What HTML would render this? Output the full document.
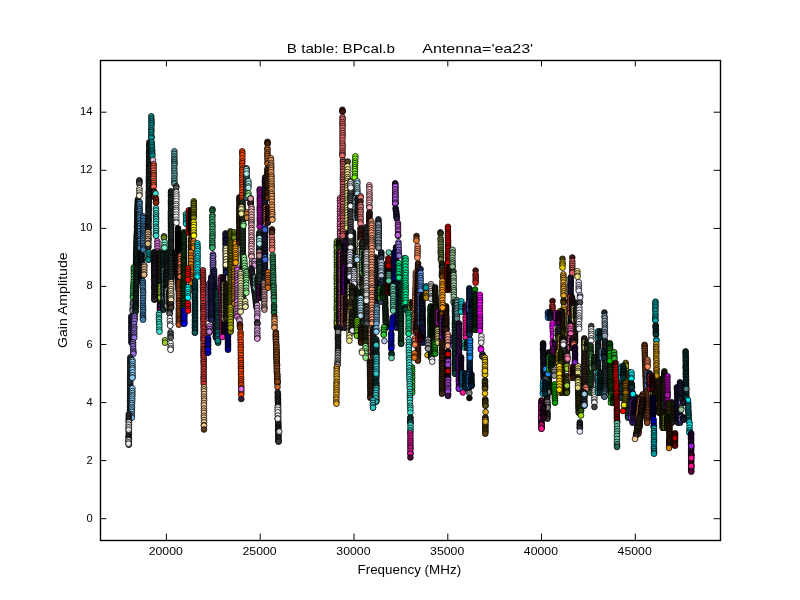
<!DOCTYPE html>
<html><head><meta charset="utf-8"><title>B table: BPcal.b</title>
<style>
html,body{margin:0;padding:0;background:#fff;}
body{width:800px;height:600px;overflow:hidden;font-family:"Liberation Sans",sans-serif;}
svg{display:block}
.t{font-family:"Liberation Sans",sans-serif;font-size:11.2px;fill:#000}
.l{font-family:"Liberation Sans",sans-serif;font-size:12.8px;fill:#000}
.tk{stroke:#000;stroke-width:1;fill:none}
.pts circle{stroke:#000;stroke-width:0.75}
</style></head><body>
<svg width="800" height="600" viewBox="0 0 800 600">
<rect x="0" y="0" width="800" height="600" fill="#fff"/>
<g class="pts">
<g fill="#182d24"><circle cx="138" cy="199.3" r="2.85"/><circle cx="137.8" cy="200.7" r="2.85"/><circle cx="137.8" cy="202" r="2.85"/><circle cx="137.7" cy="203.7" r="2.85"/><circle cx="137.7" cy="204.9" r="2.85"/><circle cx="137.6" cy="206.6" r="2.85"/><circle cx="137.7" cy="208" r="2.85"/><circle cx="137.5" cy="209.2" r="2.85"/><circle cx="137.5" cy="210.8" r="2.85"/><circle cx="137.5" cy="212" r="2.85"/><circle cx="137.6" cy="213.5" r="2.85"/><circle cx="137.4" cy="214.7" r="2.85"/><circle cx="137.4" cy="215.9" r="2.85"/><circle cx="137.4" cy="217.4" r="2.85"/><circle cx="137.4" cy="219.3" r="2.85"/><circle cx="137.4" cy="220.6" r="2.85"/><circle cx="137.3" cy="221.9" r="2.85"/><circle cx="137.1" cy="223.6" r="2.85"/><circle cx="137.1" cy="225.7" r="2.85"/><circle cx="137" cy="227.3" r="2.85"/><circle cx="137.1" cy="228.8" r="2.85"/><circle cx="137.1" cy="230.9" r="2.85"/><circle cx="136.9" cy="232.1" r="2.85"/><circle cx="136.8" cy="234" r="2.85"/><circle cx="136.8" cy="235.4" r="2.85"/><circle cx="136.7" cy="236.7" r="2.85"/><circle cx="136.8" cy="237.9" r="2.85"/><circle cx="136.7" cy="239.3" r="2.85"/><circle cx="136.6" cy="241.2" r="2.85"/><circle cx="136.5" cy="242.5" r="2.85"/><circle cx="136.5" cy="244.2" r="2.85"/><circle cx="136.5" cy="245.9" r="2.85"/><circle cx="136.5" cy="247.4" r="2.85"/><circle cx="136.5" cy="249.1" r="2.85"/><circle cx="136.4" cy="250.2" r="2.85"/><circle cx="136.3" cy="251.4" r="2.85"/><circle cx="136.3" cy="252.7" r="2.85"/><circle cx="136.3" cy="254.5" r="2.85"/><circle cx="136.1" cy="256" r="2.85"/><circle cx="136.3" cy="257.5" r="2.85"/><circle cx="136.2" cy="259.1" r="2.85"/><circle cx="136.2" cy="260.7" r="2.85"/><circle cx="136.1" cy="262.1" r="2.85"/><circle cx="135.9" cy="264" r="2.85"/><circle cx="135.9" cy="265.8" r="2.85"/><circle cx="135.8" cy="267.1" r="2.85"/><circle cx="135.8" cy="268.8" r="2.85"/><circle cx="135.7" cy="270.4" r="2.85"/><circle cx="135.6" cy="272.4" r="2.85"/><circle cx="135.6" cy="274.2" r="2.85"/><circle cx="135.5" cy="275.6" r="2.85"/><circle cx="135.5" cy="277.7" r="2.85"/><circle cx="135.4" cy="278.9" r="2.85"/><circle cx="135.3" cy="280.4" r="2.85"/><circle cx="135.3" cy="282.3" r="2.85"/><circle cx="135.3" cy="283.5" r="2.85"/><circle cx="135.3" cy="285.1" r="2.85"/><circle cx="135.2" cy="286.3" r="2.85"/><circle cx="135.3" cy="288" r="2.85"/><circle cx="135.2" cy="289.9" r="2.85"/><circle cx="135" cy="291.6" r="2.85"/><circle cx="135" cy="293.5" r="2.85"/><circle cx="135" cy="294.9" r="2.85"/><circle cx="134.9" cy="296.7" r="2.85"/><circle cx="134.8" cy="298.4" r="2.85"/><circle cx="134.9" cy="300.1" r="2.85"/><circle cx="134.9" cy="301.7" r="2.85"/><circle cx="134.8" cy="303.6" r="2.85"/><circle cx="134.7" cy="305.6" r="2.85"/><circle cx="134.6" cy="307.2" r="2.85"/><circle cx="134.5" cy="308.9" r="2.85"/><circle cx="134.5" cy="310.1" r="2.85"/><circle cx="134.5" cy="311.9" r="2.85"/><circle cx="134.5" cy="313.7" r="2.85"/><circle cx="134.3" cy="315.7" r="2.85"/><circle cx="134.2" cy="317.6" r="2.85"/><circle cx="134.4" cy="319" r="2.85"/><circle cx="134.3" cy="319.7" r="2.85"/></g>
<g fill="#2fbf4f"><circle cx="133.9" cy="267.3" r="2.85"/><circle cx="133.8" cy="269.2" r="2.85"/><circle cx="133.9" cy="271.7" r="2.85"/><circle cx="133.9" cy="273.4" r="2.85"/><circle cx="133.8" cy="275.8" r="2.85"/><circle cx="133.7" cy="278.9" r="2.85"/><circle cx="133.6" cy="281.8" r="2.85"/><circle cx="133.5" cy="284.5" r="2.85"/><circle cx="133.3" cy="286.6" r="2.85"/><circle cx="133.3" cy="288.8" r="2.85"/><circle cx="133.2" cy="290.7" r="2.85"/><circle cx="133.1" cy="293.5" r="2.85"/><circle cx="133" cy="295.9" r="2.85"/><circle cx="133" cy="297.7" r="2.85"/></g>
<g fill="#8494a4"><circle cx="132.9" cy="302.3" r="2.85"/><circle cx="132.9" cy="304.2" r="2.85"/><circle cx="132.8" cy="306.6" r="2.85"/><circle cx="132.6" cy="309.4" r="2.85"/><circle cx="132.6" cy="310.7" r="2.85"/></g>
<g fill="#182d24"><circle cx="136.7" cy="264.3" r="2.85"/><circle cx="136.8" cy="265.6" r="2.85"/><circle cx="136.8" cy="266.9" r="2.85"/><circle cx="136.7" cy="268.3" r="2.85"/><circle cx="136.5" cy="270" r="2.85"/><circle cx="136.5" cy="272" r="2.85"/><circle cx="136.4" cy="273.9" r="2.85"/><circle cx="136.3" cy="275.5" r="2.85"/><circle cx="136.5" cy="277.2" r="2.85"/><circle cx="136.4" cy="279.1" r="2.85"/><circle cx="136.3" cy="280.3" r="2.85"/><circle cx="136.4" cy="282.1" r="2.85"/><circle cx="136.2" cy="284.1" r="2.85"/><circle cx="136.2" cy="285.9" r="2.85"/><circle cx="136.2" cy="287.8" r="2.85"/><circle cx="136" cy="289.3" r="2.85"/><circle cx="136" cy="290.6" r="2.85"/><circle cx="135.9" cy="292.5" r="2.85"/><circle cx="135.9" cy="294" r="2.85"/><circle cx="135.9" cy="295.8" r="2.85"/><circle cx="135.8" cy="297.9" r="2.85"/><circle cx="135.8" cy="299.4" r="2.85"/><circle cx="135.7" cy="300.9" r="2.85"/><circle cx="135.8" cy="302.9" r="2.85"/><circle cx="135.6" cy="304.7" r="2.85"/><circle cx="135.6" cy="306" r="2.85"/><circle cx="135.6" cy="307.3" r="2.85"/><circle cx="135.6" cy="308.5" r="2.85"/><circle cx="135.5" cy="310.5" r="2.85"/><circle cx="135.6" cy="311.7" r="2.85"/></g>
<g fill="#242451"><circle cx="131.4" cy="316.3" r="2.85"/><circle cx="131.4" cy="317.9" r="2.85"/><circle cx="131.6" cy="319.5" r="2.85"/><circle cx="131.5" cy="321.2" r="2.85"/><circle cx="131.5" cy="322.3" r="2.85"/><circle cx="131.6" cy="323.8" r="2.85"/><circle cx="131.6" cy="325.1" r="2.85"/><circle cx="131.5" cy="326.3" r="2.85"/><circle cx="131.5" cy="328.1" r="2.85"/><circle cx="131.5" cy="329.4" r="2.85"/><circle cx="131.5" cy="331" r="2.85"/><circle cx="131.5" cy="332.8" r="2.85"/><circle cx="131.5" cy="334.5" r="2.85"/><circle cx="131.5" cy="335.9" r="2.85"/><circle cx="131.5" cy="337.5" r="2.85"/><circle cx="131.6" cy="339.2" r="2.85"/><circle cx="131.5" cy="341" r="2.85"/><circle cx="131.6" cy="342.3" r="2.85"/><circle cx="131.6" cy="342.7" r="2.85"/></g>
<g fill="#9370db"><circle cx="134.5" cy="316.3" r="2.85"/><circle cx="134.5" cy="318.4" r="2.85"/><circle cx="134.5" cy="320.8" r="2.85"/><circle cx="134.2" cy="323.9" r="2.85"/><circle cx="134.3" cy="326.8" r="2.85"/><circle cx="134.3" cy="328.6" r="2.85"/><circle cx="134.1" cy="330.5" r="2.85"/><circle cx="134.2" cy="332.8" r="2.85"/><circle cx="134.2" cy="334.6" r="2.85"/><circle cx="134" cy="336.6" r="2.85"/><circle cx="134.2" cy="337.7" r="2.85"/></g>
<g fill="#9370db"><circle cx="133.1" cy="342.3" r="2.85"/><circle cx="133.1" cy="344.2" r="2.85"/><circle cx="133.1" cy="346.2" r="2.85"/><circle cx="133.2" cy="348.8" r="2.85"/><circle cx="133.4" cy="351.1" r="2.85"/><circle cx="133.3" cy="352.7" r="2.85"/><circle cx="133.4" cy="353.7" r="2.85"/></g>
<g fill="#304b57"><circle cx="130.4" cy="357.3" r="2.85"/><circle cx="130.4" cy="358.8" r="2.85"/><circle cx="130.5" cy="360" r="2.85"/><circle cx="130.4" cy="361.4" r="2.85"/><circle cx="130.3" cy="363.1" r="2.85"/><circle cx="130.3" cy="364.7" r="2.85"/><circle cx="130.3" cy="365.9" r="2.85"/><circle cx="130.3" cy="368" r="2.85"/><circle cx="130.3" cy="369.9" r="2.85"/><circle cx="130.3" cy="371.9" r="2.85"/><circle cx="130.4" cy="373.1" r="2.85"/><circle cx="130.3" cy="374.5" r="2.85"/><circle cx="130.3" cy="375.7" r="2.85"/><circle cx="130.2" cy="377.5" r="2.85"/><circle cx="130.3" cy="378.9" r="2.85"/><circle cx="130.2" cy="380.2" r="2.85"/><circle cx="130.2" cy="381.7" r="2.85"/><circle cx="130.2" cy="383.7" r="2.85"/><circle cx="130.3" cy="385.6" r="2.85"/><circle cx="130.3" cy="387" r="2.85"/><circle cx="130.2" cy="388.2" r="2.85"/><circle cx="130.2" cy="390.2" r="2.85"/><circle cx="130.3" cy="391.9" r="2.85"/><circle cx="130.1" cy="393.7" r="2.85"/><circle cx="130.3" cy="394.9" r="2.85"/><circle cx="130.2" cy="396.1" r="2.85"/><circle cx="130.2" cy="397.9" r="2.85"/><circle cx="130.2" cy="399.4" r="2.85"/><circle cx="130.1" cy="400.6" r="2.85"/><circle cx="130.1" cy="402.6" r="2.85"/><circle cx="130.2" cy="404.3" r="2.85"/><circle cx="130.2" cy="406.2" r="2.85"/><circle cx="130.1" cy="407.4" r="2.85"/><circle cx="130.2" cy="409.4" r="2.85"/><circle cx="130.1" cy="410.5" r="2.85"/><circle cx="130.1" cy="412.5" r="2.85"/><circle cx="130" cy="414" r="2.85"/><circle cx="130" cy="415.5" r="2.85"/><circle cx="129.9" cy="417.1" r="2.85"/><circle cx="129.9" cy="417.7" r="2.85"/></g>
<g fill="#87cefa"><circle cx="132.4" cy="360.3" r="2.85"/><circle cx="132.5" cy="361.9" r="2.85"/><circle cx="132.5" cy="364.5" r="2.85"/><circle cx="132.4" cy="366.3" r="2.85"/><circle cx="132.5" cy="368.1" r="2.85"/><circle cx="132.4" cy="369.7" r="2.85"/><circle cx="132.6" cy="372.4" r="2.85"/><circle cx="132.6" cy="375.1" r="2.85"/><circle cx="132.5" cy="377.5" r="2.85"/><circle cx="132.4" cy="377.7" r="2.85"/></g>
<g fill="#87cefa"><circle cx="132.4" cy="388.3" r="2.85"/><circle cx="132.4" cy="391.1" r="2.85"/><circle cx="132.3" cy="393.1" r="2.85"/><circle cx="132.3" cy="395.1" r="2.85"/><circle cx="132.2" cy="396.6" r="2.85"/><circle cx="132.2" cy="398.7" r="2.85"/><circle cx="132.2" cy="400.8" r="2.85"/><circle cx="132" cy="403" r="2.85"/><circle cx="131.9" cy="404.8" r="2.85"/><circle cx="132" cy="407" r="2.85"/><circle cx="131.8" cy="408.6" r="2.85"/><circle cx="131.8" cy="410.5" r="2.85"/><circle cx="131.8" cy="412.1" r="2.85"/><circle cx="131.6" cy="414.2" r="2.85"/><circle cx="131.7" cy="415.8" r="2.85"/><circle cx="131.7" cy="417.4" r="2.85"/><circle cx="131.6" cy="417.7" r="2.85"/></g>
<g fill="#454545"><circle cx="128.8" cy="414.3" r="2.85"/><circle cx="128.8" cy="416.1" r="2.85"/><circle cx="128.8" cy="418" r="2.85"/><circle cx="128.8" cy="419.3" r="2.85"/><circle cx="128.7" cy="420.9" r="2.85"/><circle cx="128.9" cy="422.5" r="2.85"/><circle cx="128.9" cy="424.4" r="2.85"/><circle cx="128.8" cy="426.3" r="2.85"/><circle cx="128.8" cy="428.2" r="2.85"/><circle cx="128.8" cy="429.9" r="2.85"/><circle cx="128.7" cy="431.9" r="2.85"/><circle cx="128.9" cy="433.7" r="2.85"/><circle cx="128.7" cy="435.5" r="2.85"/><circle cx="128.7" cy="436.8" r="2.85"/><circle cx="128.7" cy="437.9" r="2.85"/><circle cx="128.9" cy="439.2" r="2.85"/><circle cx="128.7" cy="440.7" r="2.85"/><circle cx="128.9" cy="441.9" r="2.85"/><circle cx="128.9" cy="443.8" r="2.85"/><circle cx="128.8" cy="444.7" r="2.85"/></g>
<g fill="#d8d8d8"><circle cx="128.9" cy="422.3" r="2.85"/><circle cx="128.8" cy="424.7" r="2.85"/><circle cx="128.8" cy="427.3" r="2.85"/><circle cx="128.7" cy="429.7" r="2.85"/></g>
<g fill="#e8e8e8"><circle cx="128.6" cy="440.3" r="2.85"/><circle cx="128.5" cy="442.2" r="2.85"/><circle cx="128.5" cy="443.7" r="2.85"/></g>
<g fill="#555555"><circle cx="139.4" cy="180.3" r="2.85"/><circle cx="139.4" cy="181.4" r="2.85"/><circle cx="139.4" cy="182.6" r="2.85"/><circle cx="139.3" cy="183.7" r="2.85"/></g>
<g fill="#fff8dc"><circle cx="139.5" cy="188.3" r="2.85"/><circle cx="139.3" cy="190.5" r="2.85"/><circle cx="139.5" cy="192.7" r="2.85"/><circle cx="139.5" cy="194.8" r="2.85"/><circle cx="139.3" cy="195.7" r="2.85"/></g>
<g fill="#101c28"><circle cx="141.5" cy="248.3" r="2.85"/><circle cx="141.5" cy="249.8" r="2.85"/><circle cx="141.4" cy="251.6" r="2.85"/><circle cx="141.5" cy="253.5" r="2.85"/><circle cx="141.5" cy="254.9" r="2.85"/><circle cx="141.6" cy="256.2" r="2.85"/><circle cx="141.4" cy="257.5" r="2.85"/><circle cx="141.6" cy="259.4" r="2.85"/><circle cx="141.6" cy="260.6" r="2.85"/><circle cx="141.4" cy="262.2" r="2.85"/><circle cx="141.6" cy="263.3" r="2.85"/><circle cx="141.6" cy="264.9" r="2.85"/><circle cx="141.6" cy="266.8" r="2.85"/><circle cx="141.4" cy="267.9" r="2.85"/><circle cx="141.5" cy="269.7" r="2.85"/><circle cx="141.5" cy="271.2" r="2.85"/><circle cx="141.6" cy="273.1" r="2.85"/><circle cx="141.5" cy="274.8" r="2.85"/><circle cx="141.5" cy="276" r="2.85"/><circle cx="141.5" cy="277.9" r="2.85"/><circle cx="141.4" cy="279.4" r="2.85"/><circle cx="141.4" cy="280.5" r="2.85"/><circle cx="141.4" cy="281.5" r="2.85"/><circle cx="141.6" cy="281.7" r="2.85"/></g>
<g fill="#4682b4"><circle cx="139.7" cy="202.3" r="2.85"/><circle cx="139.6" cy="204.3" r="2.85"/><circle cx="139.6" cy="207.2" r="2.85"/><circle cx="139.8" cy="209.2" r="2.85"/><circle cx="139.6" cy="211.1" r="2.85"/><circle cx="139.8" cy="213.5" r="2.85"/><circle cx="139.7" cy="215.3" r="2.85"/><circle cx="139.8" cy="217.4" r="2.85"/><circle cx="139.9" cy="220.4" r="2.85"/><circle cx="140" cy="223.2" r="2.85"/><circle cx="139.9" cy="225.9" r="2.85"/><circle cx="140" cy="228.4" r="2.85"/><circle cx="139.9" cy="231.3" r="2.85"/><circle cx="140" cy="234.2" r="2.85"/><circle cx="140" cy="236.6" r="2.85"/><circle cx="140" cy="239.2" r="2.85"/><circle cx="140" cy="240.8" r="2.85"/><circle cx="140.1" cy="243.5" r="2.85"/><circle cx="140.2" cy="245.7" r="2.85"/><circle cx="140.2" cy="247.7" r="2.85"/></g>
<g fill="#3f78aa"><circle cx="143.2" cy="216.3" r="2.85"/><circle cx="143.2" cy="218.1" r="2.85"/><circle cx="143.2" cy="220.9" r="2.85"/><circle cx="143.1" cy="223.7" r="2.85"/><circle cx="143.1" cy="225.9" r="2.85"/><circle cx="143.3" cy="227.6" r="2.85"/><circle cx="143.1" cy="229.4" r="2.85"/><circle cx="143.2" cy="231" r="2.85"/><circle cx="143.2" cy="233" r="2.85"/><circle cx="143.3" cy="234.7" r="2.85"/><circle cx="143.1" cy="236.5" r="2.85"/><circle cx="143.1" cy="238.4" r="2.85"/><circle cx="143.1" cy="240.7" r="2.85"/><circle cx="143.2" cy="243.4" r="2.85"/><circle cx="143.2" cy="246" r="2.85"/><circle cx="143.3" cy="248" r="2.85"/><circle cx="143.3" cy="249.7" r="2.85"/></g>
<g fill="#242d2d"><circle cx="149.4" cy="142.3" r="2.85"/><circle cx="149.4" cy="144.3" r="2.85"/><circle cx="149.3" cy="145.4" r="2.85"/><circle cx="149.4" cy="146.5" r="2.85"/><circle cx="149.3" cy="148.4" r="2.85"/><circle cx="149.4" cy="150.3" r="2.85"/><circle cx="149.2" cy="151.9" r="2.85"/><circle cx="149.2" cy="153.6" r="2.85"/><circle cx="149.3" cy="154.7" r="2.85"/><circle cx="149.2" cy="156.2" r="2.85"/><circle cx="149.3" cy="158.2" r="2.85"/><circle cx="149.2" cy="160.1" r="2.85"/><circle cx="149.1" cy="162.1" r="2.85"/><circle cx="149.1" cy="164.1" r="2.85"/><circle cx="149.1" cy="165.5" r="2.85"/><circle cx="149.1" cy="166.7" r="2.85"/><circle cx="149.2" cy="168" r="2.85"/><circle cx="149" cy="169.6" r="2.85"/><circle cx="149" cy="171.4" r="2.85"/><circle cx="149" cy="173.4" r="2.85"/><circle cx="149.1" cy="175.2" r="2.85"/><circle cx="148.9" cy="176.9" r="2.85"/><circle cx="148.9" cy="178.8" r="2.85"/><circle cx="148.9" cy="180.4" r="2.85"/><circle cx="148.9" cy="182" r="2.85"/><circle cx="149" cy="183.2" r="2.85"/><circle cx="149" cy="185" r="2.85"/><circle cx="148.9" cy="186.4" r="2.85"/><circle cx="149" cy="188.4" r="2.85"/><circle cx="149" cy="190.1" r="2.85"/><circle cx="148.8" cy="191.5" r="2.85"/><circle cx="148.7" cy="192.8" r="2.85"/><circle cx="148.9" cy="194.1" r="2.85"/><circle cx="148.8" cy="195.9" r="2.85"/><circle cx="148.7" cy="197.7" r="2.85"/><circle cx="148.8" cy="198.9" r="2.85"/><circle cx="148.7" cy="200.1" r="2.85"/><circle cx="148.7" cy="201.7" r="2.85"/><circle cx="148.7" cy="203.4" r="2.85"/><circle cx="148.6" cy="204.9" r="2.85"/><circle cx="148.6" cy="206.2" r="2.85"/><circle cx="148.6" cy="207.9" r="2.85"/><circle cx="148.6" cy="209" r="2.85"/><circle cx="148.7" cy="210.4" r="2.85"/><circle cx="148.5" cy="212" r="2.85"/><circle cx="148.7" cy="214" r="2.85"/><circle cx="148.5" cy="215.8" r="2.85"/><circle cx="148.5" cy="217.8" r="2.85"/><circle cx="148.6" cy="219.3" r="2.85"/><circle cx="148.6" cy="220.7" r="2.85"/><circle cx="148.5" cy="222" r="2.85"/><circle cx="148.4" cy="224.1" r="2.85"/><circle cx="148.5" cy="225.9" r="2.85"/><circle cx="148.4" cy="227.3" r="2.85"/><circle cx="148.5" cy="228.4" r="2.85"/><circle cx="148.3" cy="230" r="2.85"/><circle cx="148.4" cy="231.8" r="2.85"/><circle cx="148.5" cy="233.3" r="2.85"/><circle cx="148.3" cy="234.7" r="2.85"/><circle cx="148.3" cy="236.4" r="2.85"/><circle cx="148.4" cy="238.5" r="2.85"/><circle cx="148.4" cy="239.8" r="2.85"/><circle cx="148.2" cy="240.9" r="2.85"/><circle cx="148.2" cy="242.4" r="2.85"/><circle cx="148.2" cy="243.9" r="2.85"/><circle cx="148.3" cy="245.7" r="2.85"/><circle cx="148.2" cy="247" r="2.85"/><circle cx="148.3" cy="247.7" r="2.85"/></g>
<g fill="#008b8b"><circle cx="148.5" cy="252.3" r="2.85"/><circle cx="148.4" cy="255.3" r="2.85"/><circle cx="148.6" cy="257.4" r="2.85"/><circle cx="148.5" cy="259.5" r="2.85"/><circle cx="148.4" cy="259.7" r="2.85"/></g>
<g fill="#deb887"><circle cx="144.3" cy="265.3" r="2.85"/><circle cx="144.3" cy="266.8" r="2.85"/><circle cx="144.3" cy="269.4" r="2.85"/><circle cx="144.3" cy="272.1" r="2.85"/><circle cx="144.2" cy="274.5" r="2.85"/><circle cx="144.1" cy="274.7" r="2.85"/></g>
<g fill="#4682b4"><circle cx="142.9" cy="281.3" r="2.85"/><circle cx="142.9" cy="283.3" r="2.85"/><circle cx="142.9" cy="285.5" r="2.85"/><circle cx="143" cy="287.8" r="2.85"/><circle cx="143" cy="290.6" r="2.85"/><circle cx="143.1" cy="292.5" r="2.85"/><circle cx="143.1" cy="295.2" r="2.85"/><circle cx="143.1" cy="297.9" r="2.85"/><circle cx="142.9" cy="300.6" r="2.85"/><circle cx="142.9" cy="303.3" r="2.85"/><circle cx="142.9" cy="305.7" r="2.85"/><circle cx="143" cy="307.8" r="2.85"/><circle cx="143.1" cy="309.8" r="2.85"/><circle cx="143" cy="311.9" r="2.85"/><circle cx="142.9" cy="314.6" r="2.85"/><circle cx="143" cy="316.4" r="2.85"/><circle cx="143" cy="318.2" r="2.85"/><circle cx="143" cy="319.7" r="2.85"/></g>
<g fill="#deb887"><circle cx="148" cy="232.3" r="2.85"/><circle cx="148" cy="234.6" r="2.85"/><circle cx="148.1" cy="237" r="2.85"/><circle cx="147.9" cy="239.2" r="2.85"/><circle cx="147.9" cy="240.8" r="2.85"/><circle cx="147.9" cy="243.2" r="2.85"/><circle cx="147.9" cy="243.7" r="2.85"/></g>
<g fill="#008b8b"><circle cx="151.3" cy="116.3" r="2.85"/><circle cx="151.4" cy="119" r="2.85"/><circle cx="151.5" cy="121.3" r="2.85"/><circle cx="151.5" cy="123.3" r="2.85"/><circle cx="151.5" cy="125.3" r="2.85"/><circle cx="151.3" cy="128.2" r="2.85"/><circle cx="151.4" cy="130.4" r="2.85"/><circle cx="151.3" cy="132.2" r="2.85"/><circle cx="151.3" cy="134.9" r="2.85"/><circle cx="151.5" cy="137.3" r="2.85"/><circle cx="151.4" cy="137.7" r="2.85"/></g>
<g fill="#008b8b"><circle cx="151.8" cy="142.3" r="2.85"/><circle cx="151.8" cy="145.1" r="2.85"/><circle cx="152" cy="147.1" r="2.85"/><circle cx="152.2" cy="149.8" r="2.85"/><circle cx="152.2" cy="151.9" r="2.85"/><circle cx="152.3" cy="153.8" r="2.85"/><circle cx="152.4" cy="155.7" r="2.85"/></g>
<g fill="#d8bfd8"><circle cx="153" cy="160" r="2.85"/></g>
<g fill="#ff6347"><circle cx="153.7" cy="164.3" r="2.85"/><circle cx="153.6" cy="166.2" r="2.85"/><circle cx="153.5" cy="168.2" r="2.85"/><circle cx="153.6" cy="170.6" r="2.85"/><circle cx="153.7" cy="173.1" r="2.85"/><circle cx="153.7" cy="175" r="2.85"/><circle cx="153.7" cy="176.6" r="2.85"/><circle cx="153.6" cy="178.7" r="2.85"/><circle cx="153.7" cy="181.2" r="2.85"/><circle cx="153.8" cy="183.1" r="2.85"/><circle cx="153.7" cy="185.1" r="2.85"/><circle cx="153.7" cy="186.7" r="2.85"/></g>
<g fill="#5a1a10"><circle cx="154" cy="191.3" r="2.85"/><circle cx="154" cy="192.7" r="2.85"/><circle cx="154.1" cy="194.8" r="2.85"/><circle cx="154.1" cy="196.2" r="2.85"/><circle cx="154" cy="196.7" r="2.85"/></g>
<g fill="#40e0d0"><circle cx="155.6" cy="193.5" r="2.85"/></g>
<g fill="#8b2500"><circle cx="155.9" cy="198.3" r="2.85"/><circle cx="156.1" cy="199.9" r="2.85"/><circle cx="156" cy="202.2" r="2.85"/><circle cx="156.1" cy="202.7" r="2.85"/></g>
<g fill="#40e0d0"><circle cx="155.9" cy="208.3" r="2.85"/><circle cx="156" cy="210.5" r="2.85"/><circle cx="156.1" cy="213.3" r="2.85"/><circle cx="155.9" cy="215.5" r="2.85"/><circle cx="156" cy="217.4" r="2.85"/><circle cx="156.1" cy="219" r="2.85"/><circle cx="156.1" cy="221.4" r="2.85"/><circle cx="155.9" cy="223.9" r="2.85"/><circle cx="155.9" cy="226.7" r="2.85"/><circle cx="156.1" cy="228.5" r="2.85"/><circle cx="156.1" cy="230.9" r="2.85"/><circle cx="156" cy="233.1" r="2.85"/><circle cx="155.9" cy="235.4" r="2.85"/><circle cx="156.1" cy="235.7" r="2.85"/></g>
<g fill="#da70d6"><circle cx="157.4" cy="241.3" r="2.85"/><circle cx="157.4" cy="243.4" r="2.85"/><circle cx="157.5" cy="246.1" r="2.85"/><circle cx="157.5" cy="248.4" r="2.85"/><circle cx="157.5" cy="251.1" r="2.85"/><circle cx="157.4" cy="252.8" r="2.85"/><circle cx="157.4" cy="255.4" r="2.85"/><circle cx="157.6" cy="257.2" r="2.85"/><circle cx="157.6" cy="259.3" r="2.85"/><circle cx="157.4" cy="262" r="2.85"/><circle cx="157.5" cy="262.7" r="2.85"/></g>
<g fill="#2d3012"><circle cx="160.1" cy="252.3" r="2.85"/><circle cx="159.9" cy="254.1" r="2.85"/><circle cx="160.1" cy="255.3" r="2.85"/><circle cx="160.1" cy="257.2" r="2.85"/><circle cx="160.1" cy="258.5" r="2.85"/><circle cx="160.1" cy="260.2" r="2.85"/><circle cx="159.9" cy="261.8" r="2.85"/><circle cx="160.1" cy="263.5" r="2.85"/><circle cx="160" cy="264.9" r="2.85"/><circle cx="160.1" cy="266.5" r="2.85"/><circle cx="160.1" cy="268.1" r="2.85"/><circle cx="159.9" cy="269.7" r="2.85"/><circle cx="160.1" cy="271.4" r="2.85"/><circle cx="160.1" cy="273" r="2.85"/><circle cx="159.9" cy="274.5" r="2.85"/><circle cx="160" cy="275.7" r="2.85"/><circle cx="160.1" cy="277.4" r="2.85"/><circle cx="159.9" cy="279" r="2.85"/><circle cx="160.1" cy="280.3" r="2.85"/><circle cx="159.9" cy="282.2" r="2.85"/><circle cx="160.1" cy="284" r="2.85"/><circle cx="159.9" cy="285.6" r="2.85"/><circle cx="160" cy="286.9" r="2.85"/><circle cx="160.1" cy="288.5" r="2.85"/><circle cx="159.9" cy="289.7" r="2.85"/><circle cx="159.9" cy="290.9" r="2.85"/><circle cx="160" cy="292.5" r="2.85"/><circle cx="160" cy="293.7" r="2.85"/><circle cx="159.9" cy="295.2" r="2.85"/><circle cx="159.9" cy="296.8" r="2.85"/><circle cx="159.9" cy="298" r="2.85"/><circle cx="160.1" cy="299.7" r="2.85"/><circle cx="160" cy="300.9" r="2.85"/><circle cx="160.1" cy="302.7" r="2.85"/><circle cx="159.9" cy="304.6" r="2.85"/><circle cx="160.1" cy="306.2" r="2.85"/><circle cx="159.9" cy="307.4" r="2.85"/><circle cx="160" cy="309" r="2.85"/><circle cx="160" cy="309.7" r="2.85"/></g>
<g fill="#9acd32"><circle cx="160.4" cy="286.3" r="2.85"/><circle cx="160.6" cy="288.5" r="2.85"/><circle cx="160.5" cy="291.4" r="2.85"/><circle cx="160.5" cy="293.9" r="2.85"/><circle cx="160.6" cy="296.4" r="2.85"/><circle cx="160.4" cy="297.7" r="2.85"/></g>
<g fill="#5a1a5a"><circle cx="160.5" cy="306.3" r="2.85"/><circle cx="160.6" cy="308.9" r="2.85"/><circle cx="160.5" cy="309.7" r="2.85"/></g>
<g fill="#40e0d0"><circle cx="159.1" cy="313.3" r="2.85"/><circle cx="159" cy="315.2" r="2.85"/><circle cx="159" cy="317.8" r="2.85"/><circle cx="159" cy="319.5" r="2.85"/><circle cx="159.1" cy="322.2" r="2.85"/><circle cx="159.3" cy="324.2" r="2.85"/><circle cx="159.3" cy="326.7" r="2.85"/><circle cx="159.3" cy="329.6" r="2.85"/><circle cx="159.5" cy="331.7" r="2.85"/></g>
<g fill="#2a1e2a"><circle cx="154" cy="252.3" r="2.85"/><circle cx="154.1" cy="253.5" r="2.85"/><circle cx="153.9" cy="254.9" r="2.85"/><circle cx="154.1" cy="256.6" r="2.85"/><circle cx="154.1" cy="257.8" r="2.85"/><circle cx="154" cy="258.9" r="2.85"/><circle cx="154" cy="260.4" r="2.85"/><circle cx="154.2" cy="261.6" r="2.85"/><circle cx="154" cy="263" r="2.85"/><circle cx="154.2" cy="264.4" r="2.85"/><circle cx="154.3" cy="266.1" r="2.85"/><circle cx="154.1" cy="267.7" r="2.85"/><circle cx="154.1" cy="269.1" r="2.85"/><circle cx="154.2" cy="270.8" r="2.85"/><circle cx="154.2" cy="272.4" r="2.85"/><circle cx="154.3" cy="273.6" r="2.85"/><circle cx="154.3" cy="275.6" r="2.85"/><circle cx="154.2" cy="277" r="2.85"/><circle cx="154.2" cy="278.2" r="2.85"/><circle cx="154.2" cy="279.5" r="2.85"/><circle cx="154.2" cy="281.2" r="2.85"/><circle cx="154.4" cy="283.1" r="2.85"/><circle cx="154.4" cy="285" r="2.85"/><circle cx="154.4" cy="286.5" r="2.85"/><circle cx="154.2" cy="287.9" r="2.85"/><circle cx="154.5" cy="289" r="2.85"/><circle cx="154.5" cy="290.8" r="2.85"/><circle cx="154.4" cy="292.4" r="2.85"/><circle cx="154.5" cy="293.9" r="2.85"/><circle cx="154.4" cy="295.6" r="2.85"/><circle cx="154.4" cy="297.2" r="2.85"/><circle cx="154.4" cy="299.2" r="2.85"/><circle cx="154.4" cy="299.7" r="2.85"/></g>
<g fill="#183636"><circle cx="163.5" cy="252.3" r="2.85"/><circle cx="163.6" cy="253.5" r="2.85"/><circle cx="163.5" cy="254.9" r="2.85"/><circle cx="163.5" cy="256.7" r="2.85"/><circle cx="163.4" cy="258.5" r="2.85"/><circle cx="163.5" cy="260.5" r="2.85"/><circle cx="163.4" cy="262.3" r="2.85"/><circle cx="163.6" cy="263.6" r="2.85"/><circle cx="163.4" cy="265.3" r="2.85"/><circle cx="163.4" cy="266.8" r="2.85"/><circle cx="163.4" cy="268.7" r="2.85"/><circle cx="163.6" cy="270.3" r="2.85"/><circle cx="163.5" cy="271.7" r="2.85"/><circle cx="163.4" cy="273.4" r="2.85"/><circle cx="163.4" cy="275.5" r="2.85"/><circle cx="163.4" cy="276.8" r="2.85"/><circle cx="163.5" cy="278.8" r="2.85"/><circle cx="163.5" cy="279.9" r="2.85"/><circle cx="163.5" cy="281.3" r="2.85"/><circle cx="163.6" cy="282.6" r="2.85"/><circle cx="163.4" cy="284.5" r="2.85"/><circle cx="163.5" cy="286.5" r="2.85"/><circle cx="163.5" cy="288.3" r="2.85"/><circle cx="163.6" cy="289.8" r="2.85"/><circle cx="163.6" cy="291.7" r="2.85"/><circle cx="163.6" cy="293.2" r="2.85"/><circle cx="163.4" cy="294.5" r="2.85"/><circle cx="163.6" cy="296.5" r="2.85"/><circle cx="163.6" cy="298.2" r="2.85"/><circle cx="163.6" cy="300" r="2.85"/><circle cx="163.4" cy="301.8" r="2.85"/><circle cx="163.4" cy="303.8" r="2.85"/><circle cx="163.4" cy="305.4" r="2.85"/><circle cx="163.4" cy="307.3" r="2.85"/><circle cx="163.6" cy="309.1" r="2.85"/><circle cx="163.6" cy="309.7" r="2.85"/></g>
<g fill="#5f9ea0"><circle cx="164.4" cy="270.3" r="2.85"/><circle cx="164.6" cy="273" r="2.85"/><circle cx="164.5" cy="276" r="2.85"/><circle cx="164.5" cy="278.7" r="2.85"/><circle cx="164.6" cy="280.9" r="2.85"/><circle cx="164.5" cy="282.8" r="2.85"/><circle cx="164.6" cy="284.7" r="2.85"/><circle cx="164.5" cy="287.5" r="2.85"/><circle cx="164.4" cy="289.6" r="2.85"/><circle cx="164.5" cy="291.8" r="2.85"/><circle cx="164.5" cy="294.2" r="2.85"/><circle cx="164.6" cy="296" r="2.85"/><circle cx="164.5" cy="297.7" r="2.85"/></g>
<g fill="#142223"><circle cx="166.4" cy="270.3" r="2.85"/><circle cx="166.6" cy="272" r="2.85"/><circle cx="166.4" cy="273.5" r="2.85"/><circle cx="166.4" cy="274.8" r="2.85"/><circle cx="166.5" cy="276.6" r="2.85"/><circle cx="166.5" cy="277.7" r="2.85"/><circle cx="166.4" cy="279.5" r="2.85"/><circle cx="166.5" cy="280.7" r="2.85"/><circle cx="166.4" cy="281.8" r="2.85"/><circle cx="166.6" cy="283" r="2.85"/><circle cx="166.5" cy="284.7" r="2.85"/><circle cx="166.6" cy="286.7" r="2.85"/><circle cx="166.5" cy="287.7" r="2.85"/><circle cx="166.5" cy="289.2" r="2.85"/><circle cx="166.5" cy="290.7" r="2.85"/><circle cx="166.5" cy="292.5" r="2.85"/><circle cx="166.6" cy="293.7" r="2.85"/><circle cx="166.4" cy="295.2" r="2.85"/><circle cx="166.6" cy="296.5" r="2.85"/><circle cx="166.4" cy="297.7" r="2.85"/></g>
<g fill="#1e2a2a"><circle cx="167" cy="252.3" r="2.85"/><circle cx="166.9" cy="253.6" r="2.85"/><circle cx="167.1" cy="255" r="2.85"/><circle cx="167.1" cy="257" r="2.85"/><circle cx="166.9" cy="258.6" r="2.85"/><circle cx="167.1" cy="260.1" r="2.85"/><circle cx="166.9" cy="262" r="2.85"/><circle cx="167" cy="263.4" r="2.85"/><circle cx="167.1" cy="264.9" r="2.85"/><circle cx="167.1" cy="266.6" r="2.85"/><circle cx="167.1" cy="268.4" r="2.85"/><circle cx="167" cy="270.3" r="2.85"/><circle cx="166.9" cy="272" r="2.85"/><circle cx="167" cy="273.4" r="2.85"/><circle cx="166.9" cy="274.9" r="2.85"/><circle cx="166.9" cy="276.2" r="2.85"/><circle cx="167" cy="278.1" r="2.85"/><circle cx="166.9" cy="279.8" r="2.85"/><circle cx="167" cy="281.7" r="2.85"/><circle cx="167.1" cy="283" r="2.85"/><circle cx="167" cy="284.5" r="2.85"/><circle cx="167" cy="286.4" r="2.85"/><circle cx="167" cy="288" r="2.85"/><circle cx="167" cy="289.3" r="2.85"/><circle cx="166.9" cy="290.8" r="2.85"/><circle cx="167" cy="292.8" r="2.85"/><circle cx="167" cy="294.2" r="2.85"/><circle cx="167.1" cy="295.5" r="2.85"/><circle cx="167.1" cy="296.9" r="2.85"/><circle cx="167" cy="298.7" r="2.85"/><circle cx="167" cy="300.6" r="2.85"/><circle cx="167.1" cy="301.9" r="2.85"/><circle cx="167" cy="303.1" r="2.85"/><circle cx="166.9" cy="304.5" r="2.85"/><circle cx="167.1" cy="305.9" r="2.85"/><circle cx="167.1" cy="307.5" r="2.85"/><circle cx="167.1" cy="307.7" r="2.85"/></g>
<g fill="#c8d0d0"><circle cx="167.5" cy="290.3" r="2.85"/><circle cx="167.4" cy="293.1" r="2.85"/><circle cx="167.5" cy="296.1" r="2.85"/><circle cx="167.6" cy="298.9" r="2.85"/><circle cx="167.6" cy="301.6" r="2.85"/><circle cx="167.5" cy="304" r="2.85"/><circle cx="167.4" cy="305.7" r="2.85"/></g>
<g fill="#2c2d2d"><circle cx="169.5" cy="290.3" r="2.85"/><circle cx="169.6" cy="291.7" r="2.85"/><circle cx="169.4" cy="293.2" r="2.85"/><circle cx="169.5" cy="294.8" r="2.85"/><circle cx="169.4" cy="296.2" r="2.85"/><circle cx="169.6" cy="297.9" r="2.85"/><circle cx="169.6" cy="299.8" r="2.85"/><circle cx="169.5" cy="301" r="2.85"/><circle cx="169.4" cy="302.6" r="2.85"/><circle cx="169.5" cy="304.4" r="2.85"/><circle cx="169.5" cy="305.7" r="2.85"/></g>
<g fill="#6b8e23"><circle cx="164" cy="236.3" r="2.85"/><circle cx="164" cy="237.7" r="2.85"/></g>
<g fill="#7fffd4"><circle cx="164.6" cy="242.3" r="2.85"/><circle cx="164.4" cy="244.9" r="2.85"/><circle cx="164.5" cy="247.2" r="2.85"/><circle cx="164.5" cy="247.7" r="2.85"/></g>
<g fill="#9acd32"><circle cx="164.9" cy="340.3" r="2.85"/><circle cx="165.1" cy="342.7" r="2.85"/></g>
<g fill="#2a3c3c"><circle cx="171.1" cy="191.3" r="2.85"/><circle cx="171" cy="192.8" r="2.85"/><circle cx="171.1" cy="193.9" r="2.85"/><circle cx="171" cy="195.3" r="2.85"/><circle cx="171.1" cy="196.8" r="2.85"/><circle cx="171.1" cy="198" r="2.85"/><circle cx="171.1" cy="199.5" r="2.85"/><circle cx="170.9" cy="201" r="2.85"/><circle cx="171" cy="202.8" r="2.85"/><circle cx="171" cy="204.2" r="2.85"/><circle cx="171.1" cy="205.6" r="2.85"/><circle cx="171" cy="207" r="2.85"/><circle cx="171.1" cy="208.8" r="2.85"/><circle cx="171" cy="210.8" r="2.85"/><circle cx="170.9" cy="212.4" r="2.85"/><circle cx="170.9" cy="213.8" r="2.85"/><circle cx="170.9" cy="215.7" r="2.85"/><circle cx="171" cy="217.2" r="2.85"/><circle cx="170.9" cy="218.5" r="2.85"/><circle cx="171" cy="219.7" r="2.85"/><circle cx="170.9" cy="221.6" r="2.85"/><circle cx="171" cy="223.5" r="2.85"/><circle cx="171" cy="225.2" r="2.85"/><circle cx="171" cy="226.8" r="2.85"/><circle cx="171.1" cy="228.4" r="2.85"/><circle cx="170.9" cy="229.8" r="2.85"/><circle cx="171.1" cy="231.8" r="2.85"/><circle cx="171" cy="233.3" r="2.85"/><circle cx="171" cy="235" r="2.85"/><circle cx="171" cy="236.9" r="2.85"/><circle cx="171.1" cy="238.8" r="2.85"/><circle cx="171" cy="240.4" r="2.85"/><circle cx="171" cy="241.8" r="2.85"/><circle cx="171.1" cy="243.4" r="2.85"/><circle cx="170.9" cy="244.7" r="2.85"/><circle cx="171" cy="246.6" r="2.85"/><circle cx="171" cy="248.1" r="2.85"/><circle cx="170.9" cy="250" r="2.85"/><circle cx="171" cy="251.4" r="2.85"/><circle cx="171" cy="252.9" r="2.85"/><circle cx="171.1" cy="254.2" r="2.85"/><circle cx="171" cy="255.8" r="2.85"/><circle cx="171.1" cy="257.1" r="2.85"/><circle cx="171" cy="258.2" r="2.85"/><circle cx="171" cy="260" r="2.85"/><circle cx="171.1" cy="261.4" r="2.85"/><circle cx="170.9" cy="262.7" r="2.85"/><circle cx="171.1" cy="264.1" r="2.85"/><circle cx="171" cy="265.7" r="2.85"/><circle cx="171" cy="267.3" r="2.85"/><circle cx="171.1" cy="269" r="2.85"/><circle cx="171" cy="270.7" r="2.85"/><circle cx="171" cy="272.2" r="2.85"/><circle cx="171" cy="274.2" r="2.85"/><circle cx="171.1" cy="276.2" r="2.85"/><circle cx="170.9" cy="277.3" r="2.85"/><circle cx="171" cy="279.2" r="2.85"/><circle cx="171" cy="281.2" r="2.85"/><circle cx="171" cy="283.1" r="2.85"/><circle cx="171.1" cy="284.4" r="2.85"/><circle cx="171" cy="286.3" r="2.85"/><circle cx="171.1" cy="288" r="2.85"/><circle cx="171" cy="289.1" r="2.85"/><circle cx="171" cy="290.3" r="2.85"/><circle cx="170.9" cy="292.3" r="2.85"/><circle cx="171" cy="294.1" r="2.85"/><circle cx="171.1" cy="295.4" r="2.85"/><circle cx="171" cy="296.6" r="2.85"/><circle cx="171.1" cy="297.9" r="2.85"/><circle cx="171" cy="299.2" r="2.85"/><circle cx="171" cy="301.1" r="2.85"/><circle cx="171" cy="302.6" r="2.85"/><circle cx="171" cy="303.8" r="2.85"/><circle cx="171" cy="305.8" r="2.85"/><circle cx="171.1" cy="307.7" r="2.85"/><circle cx="170.9" cy="307.7" r="2.85"/></g>
<g fill="#5f9ea0"><circle cx="174.4" cy="151.3" r="2.85"/><circle cx="174.4" cy="153.8" r="2.85"/><circle cx="174.4" cy="156.5" r="2.85"/><circle cx="174.3" cy="158.8" r="2.85"/><circle cx="174.4" cy="160.4" r="2.85"/><circle cx="174.4" cy="162.3" r="2.85"/><circle cx="174.5" cy="163.9" r="2.85"/><circle cx="174.3" cy="165.6" r="2.85"/><circle cx="174.3" cy="168.4" r="2.85"/><circle cx="174.3" cy="170.7" r="2.85"/><circle cx="174.5" cy="173.2" r="2.85"/><circle cx="174.5" cy="175.7" r="2.85"/><circle cx="174.4" cy="178.5" r="2.85"/><circle cx="174.4" cy="180.8" r="2.85"/><circle cx="174.5" cy="183.2" r="2.85"/><circle cx="174.5" cy="183.7" r="2.85"/></g>
<g fill="#555555"><circle cx="176.2" cy="186.3" r="2.85"/><circle cx="176.3" cy="187.7" r="2.85"/></g>
<g fill="#ffffff"><circle cx="176.3" cy="192.3" r="2.85"/><circle cx="176.3" cy="194.5" r="2.85"/><circle cx="176.4" cy="196.5" r="2.85"/><circle cx="176.4" cy="198.7" r="2.85"/><circle cx="176.3" cy="201.2" r="2.85"/><circle cx="176.3" cy="204.1" r="2.85"/><circle cx="176.2" cy="205.8" r="2.85"/><circle cx="176.3" cy="208.2" r="2.85"/><circle cx="176.2" cy="209.9" r="2.85"/><circle cx="176.2" cy="211.7" r="2.85"/><circle cx="176.2" cy="214.4" r="2.85"/><circle cx="176.2" cy="216.8" r="2.85"/><circle cx="176.3" cy="219.7" r="2.85"/><circle cx="176.2" cy="221.9" r="2.85"/><circle cx="176.4" cy="222.7" r="2.85"/></g>
<g fill="#000000"><circle cx="178" cy="228.3" r="2.85"/><circle cx="178.1" cy="229.4" r="2.85"/><circle cx="177.9" cy="231.3" r="2.85"/><circle cx="178.1" cy="232.4" r="2.85"/><circle cx="178.1" cy="233.5" r="2.85"/><circle cx="177.9" cy="235.2" r="2.85"/><circle cx="177.9" cy="236.5" r="2.85"/><circle cx="178" cy="238.2" r="2.85"/><circle cx="178.1" cy="239.4" r="2.85"/><circle cx="177.9" cy="240.5" r="2.85"/><circle cx="178" cy="242.2" r="2.85"/><circle cx="178.1" cy="243.9" r="2.85"/><circle cx="177.9" cy="245.7" r="2.85"/><circle cx="178.1" cy="247.4" r="2.85"/><circle cx="178" cy="248.6" r="2.85"/><circle cx="177.9" cy="250.2" r="2.85"/><circle cx="178" cy="250.7" r="2.85"/></g>
<g fill="#151515"><circle cx="175.2" cy="252.3" r="2.85"/><circle cx="175.3" cy="254" r="2.85"/><circle cx="175.6" cy="255.5" r="2.85"/><circle cx="175.8" cy="257.3" r="2.85"/><circle cx="175.8" cy="258.5" r="2.85"/><circle cx="176.1" cy="260.4" r="2.85"/><circle cx="176.1" cy="261.9" r="2.85"/><circle cx="176.2" cy="263.6" r="2.85"/><circle cx="176.4" cy="265.4" r="2.85"/><circle cx="176.6" cy="266.9" r="2.85"/><circle cx="176.6" cy="268.4" r="2.85"/><circle cx="176.9" cy="270.2" r="2.85"/><circle cx="177.2" cy="272.3" r="2.85"/><circle cx="177.2" cy="274.1" r="2.85"/><circle cx="177.4" cy="275.8" r="2.85"/><circle cx="177.6" cy="277.2" r="2.85"/><circle cx="177.6" cy="278.4" r="2.85"/><circle cx="177.8" cy="280.4" r="2.85"/><circle cx="178" cy="282.2" r="2.85"/><circle cx="178.2" cy="284.2" r="2.85"/><circle cx="178.4" cy="285.6" r="2.85"/><circle cx="178.5" cy="287.3" r="2.85"/><circle cx="178.6" cy="289.4" r="2.85"/><circle cx="178.9" cy="291.3" r="2.85"/><circle cx="179.1" cy="293" r="2.85"/><circle cx="179.1" cy="294.4" r="2.85"/><circle cx="179.3" cy="295.9" r="2.85"/><circle cx="179.6" cy="297.9" r="2.85"/><circle cx="179.7" cy="299.4" r="2.85"/><circle cx="179.8" cy="301.1" r="2.85"/><circle cx="179.9" cy="302.8" r="2.85"/><circle cx="180.1" cy="304.8" r="2.85"/><circle cx="180.2" cy="306.7" r="2.85"/><circle cx="180.3" cy="308.1" r="2.85"/><circle cx="180.5" cy="309.2" r="2.85"/><circle cx="180.7" cy="310.6" r="2.85"/><circle cx="180.8" cy="312.1" r="2.85"/><circle cx="181" cy="313.8" r="2.85"/><circle cx="181.1" cy="315.7" r="2.85"/><circle cx="181.3" cy="317.7" r="2.85"/><circle cx="181.3" cy="318.9" r="2.85"/><circle cx="181.5" cy="320.8" r="2.85"/><circle cx="181.9" cy="322.7" r="2.85"/><circle cx="181.8" cy="322.7" r="2.85"/></g>
<g fill="#f5deb3"><circle cx="171.1" cy="282.3" r="2.85"/><circle cx="171.1" cy="284.1" r="2.85"/><circle cx="171" cy="286.5" r="2.85"/><circle cx="171" cy="289.2" r="2.85"/><circle cx="170.9" cy="291.1" r="2.85"/><circle cx="171.1" cy="293.5" r="2.85"/><circle cx="171" cy="295.6" r="2.85"/><circle cx="171.1" cy="297.9" r="2.85"/><circle cx="171.1" cy="299.5" r="2.85"/><circle cx="171.1" cy="299.7" r="2.85"/></g>
<g fill="#4a3a2a"><circle cx="170.9" cy="304.3" r="2.85"/><circle cx="170.9" cy="306.6" r="2.85"/><circle cx="170.9" cy="307.7" r="2.85"/></g>
<g fill="#606060"><circle cx="169.7" cy="312.3" r="2.85"/><circle cx="169.8" cy="313.5" r="2.85"/><circle cx="169.7" cy="313.7" r="2.85"/></g>
<g fill="#ffffff"><circle cx="169.9" cy="318.3" r="2.85"/><circle cx="169.9" cy="321.1" r="2.85"/><circle cx="170.2" cy="323.8" r="2.85"/><circle cx="170.1" cy="325.5" r="2.85"/><circle cx="170.2" cy="325.7" r="2.85"/></g>
<g fill="#586060"><circle cx="170.6" cy="332.3" r="2.85"/><circle cx="170.6" cy="334.3" r="2.85"/><circle cx="170.5" cy="336.5" r="2.85"/><circle cx="170.7" cy="337.7" r="2.85"/></g>
<g fill="#ffffff"><circle cx="170.6" cy="343.3" r="2.85"/><circle cx="170.7" cy="346.1" r="2.85"/><circle cx="170.7" cy="348" r="2.85"/><circle cx="170.7" cy="349.6" r="2.85"/><circle cx="170.5" cy="349.7" r="2.85"/></g>
<g fill="#ff7f50"><circle cx="180.6" cy="256.3" r="2.85"/><circle cx="180.6" cy="259" r="2.85"/><circle cx="180.7" cy="261.6" r="2.85"/><circle cx="180.5" cy="264.1" r="2.85"/><circle cx="180.6" cy="267.1" r="2.85"/><circle cx="180.5" cy="268.7" r="2.85"/><circle cx="180.5" cy="270.6" r="2.85"/><circle cx="180.6" cy="273.2" r="2.85"/><circle cx="180.5" cy="276.1" r="2.85"/><circle cx="180.5" cy="276.7" r="2.85"/></g>
<g fill="#bd4e1e"><circle cx="178.9" cy="282.3" r="2.85"/><circle cx="179.1" cy="283.6" r="2.85"/><circle cx="178.9" cy="285.3" r="2.85"/><circle cx="179" cy="286.5" r="2.85"/><circle cx="178.9" cy="288.3" r="2.85"/><circle cx="178.9" cy="289.6" r="2.85"/><circle cx="179" cy="290.7" r="2.85"/><circle cx="178.9" cy="292.7" r="2.85"/><circle cx="178.9" cy="294.1" r="2.85"/><circle cx="178.9" cy="296.1" r="2.85"/><circle cx="178.9" cy="298" r="2.85"/><circle cx="179" cy="300" r="2.85"/><circle cx="178.8" cy="301.3" r="2.85"/><circle cx="179" cy="302.8" r="2.85"/><circle cx="178.8" cy="304" r="2.85"/><circle cx="179" cy="306" r="2.85"/><circle cx="178.9" cy="308" r="2.85"/><circle cx="178.8" cy="309.7" r="2.85"/><circle cx="178.9" cy="311.2" r="2.85"/><circle cx="178.8" cy="312.7" r="2.85"/><circle cx="178.8" cy="314.6" r="2.85"/><circle cx="178.8" cy="316.2" r="2.85"/><circle cx="178.8" cy="317.9" r="2.85"/><circle cx="179" cy="319.2" r="2.85"/><circle cx="178.9" cy="320.5" r="2.85"/><circle cx="178.9" cy="321.7" r="2.85"/><circle cx="178.7" cy="323.5" r="2.85"/><circle cx="178.8" cy="324.7" r="2.85"/></g>
<g fill="#154515"><circle cx="184" cy="232.3" r="2.85"/><circle cx="184.1" cy="234.3" r="2.85"/><circle cx="184.1" cy="235.5" r="2.85"/><circle cx="183.9" cy="237.3" r="2.85"/><circle cx="184" cy="238.7" r="2.85"/><circle cx="183.9" cy="240.7" r="2.85"/><circle cx="184" cy="241.9" r="2.85"/><circle cx="183.8" cy="243.8" r="2.85"/><circle cx="184" cy="245.2" r="2.85"/><circle cx="184" cy="246.5" r="2.85"/><circle cx="183.9" cy="247.6" r="2.85"/><circle cx="183.9" cy="249.5" r="2.85"/><circle cx="183.9" cy="251.1" r="2.85"/><circle cx="183.9" cy="252.4" r="2.85"/><circle cx="183.8" cy="254" r="2.85"/><circle cx="184" cy="256" r="2.85"/><circle cx="183.8" cy="257.3" r="2.85"/><circle cx="183.8" cy="259" r="2.85"/><circle cx="183.7" cy="260.2" r="2.85"/><circle cx="183.8" cy="261.5" r="2.85"/><circle cx="183.9" cy="263.4" r="2.85"/><circle cx="183.7" cy="265.2" r="2.85"/><circle cx="183.7" cy="266.5" r="2.85"/><circle cx="183.9" cy="267.7" r="2.85"/><circle cx="183.7" cy="268.9" r="2.85"/><circle cx="183.7" cy="270.6" r="2.85"/><circle cx="183.8" cy="272.2" r="2.85"/><circle cx="183.8" cy="273.6" r="2.85"/><circle cx="183.8" cy="274.9" r="2.85"/><circle cx="183.8" cy="276.6" r="2.85"/><circle cx="183.7" cy="278.4" r="2.85"/><circle cx="183.8" cy="280.3" r="2.85"/><circle cx="183.8" cy="282" r="2.85"/><circle cx="183.6" cy="283.3" r="2.85"/><circle cx="183.6" cy="284.5" r="2.85"/><circle cx="183.7" cy="286.3" r="2.85"/><circle cx="183.7" cy="287.8" r="2.85"/><circle cx="183.6" cy="289.6" r="2.85"/><circle cx="183.6" cy="290.8" r="2.85"/><circle cx="183.7" cy="292.7" r="2.85"/><circle cx="183.6" cy="294.1" r="2.85"/><circle cx="183.7" cy="296.1" r="2.85"/><circle cx="183.7" cy="298" r="2.85"/><circle cx="183.6" cy="299.6" r="2.85"/><circle cx="183.6" cy="300.7" r="2.85"/><circle cx="183.7" cy="302.7" r="2.85"/><circle cx="183.5" cy="304.3" r="2.85"/><circle cx="183.7" cy="306.3" r="2.85"/><circle cx="183.7" cy="307.6" r="2.85"/><circle cx="183.6" cy="308.9" r="2.85"/><circle cx="183.6" cy="310.9" r="2.85"/><circle cx="183.7" cy="312.3" r="2.85"/><circle cx="183.6" cy="313.6" r="2.85"/><circle cx="183.5" cy="315.1" r="2.85"/><circle cx="183.7" cy="316.8" r="2.85"/><circle cx="183.6" cy="317.9" r="2.85"/><circle cx="183.5" cy="319.5" r="2.85"/><circle cx="183.5" cy="321.1" r="2.85"/><circle cx="183.5" cy="322.7" r="2.85"/><circle cx="183.5" cy="323.7" r="2.85"/></g>
<g fill="#0000ff"><circle cx="184.4" cy="310.3" r="2.85"/><circle cx="184.5" cy="312.9" r="2.85"/><circle cx="184.5" cy="315.2" r="2.85"/><circle cx="184.3" cy="317.7" r="2.85"/><circle cx="184.4" cy="320.1" r="2.85"/><circle cx="184.4" cy="322.5" r="2.85"/><circle cx="184.4" cy="323.7" r="2.85"/></g>
<g fill="#00e5ee"><circle cx="185.9" cy="214.3" r="2.85"/><circle cx="186.1" cy="216.5" r="2.85"/><circle cx="186.1" cy="218.2" r="2.85"/><circle cx="186.1" cy="220.3" r="2.85"/><circle cx="186" cy="222.5" r="2.85"/><circle cx="186.1" cy="223.7" r="2.85"/></g>
<g fill="#e00000"><circle cx="188.8" cy="210.3" r="2.85"/><circle cx="188.7" cy="213.4" r="2.85"/><circle cx="188.8" cy="216.5" r="2.85"/><circle cx="188.8" cy="218.3" r="2.85"/><circle cx="188.9" cy="221" r="2.85"/><circle cx="188.7" cy="223.1" r="2.85"/><circle cx="188.8" cy="225.9" r="2.85"/><circle cx="188.8" cy="228" r="2.85"/><circle cx="188.7" cy="230.6" r="2.85"/><circle cx="188.8" cy="232.7" r="2.85"/></g>
<g fill="#310000"><circle cx="190.8" cy="210.3" r="2.85"/><circle cx="190.8" cy="212.2" r="2.85"/><circle cx="190.7" cy="213.7" r="2.85"/><circle cx="190.9" cy="215" r="2.85"/><circle cx="190.8" cy="216.5" r="2.85"/><circle cx="190.8" cy="218" r="2.85"/><circle cx="190.8" cy="219.2" r="2.85"/><circle cx="190.8" cy="220.4" r="2.85"/><circle cx="190.8" cy="221.5" r="2.85"/><circle cx="190.7" cy="222.8" r="2.85"/><circle cx="190.7" cy="224.3" r="2.85"/><circle cx="190.8" cy="225.6" r="2.85"/><circle cx="190.8" cy="226.8" r="2.85"/><circle cx="190.8" cy="228" r="2.85"/><circle cx="190.7" cy="229.5" r="2.85"/><circle cx="190.8" cy="231.3" r="2.85"/><circle cx="190.9" cy="232.7" r="2.85"/></g>
<g fill="#8d4e06"><circle cx="191.1" cy="238.3" r="2.85"/><circle cx="191.1" cy="239.6" r="2.85"/><circle cx="190.9" cy="241.3" r="2.85"/><circle cx="191.1" cy="242.9" r="2.85"/><circle cx="190.9" cy="244.3" r="2.85"/><circle cx="191.1" cy="246.4" r="2.85"/><circle cx="191" cy="247.8" r="2.85"/><circle cx="191" cy="249.6" r="2.85"/><circle cx="191.1" cy="250.9" r="2.85"/><circle cx="191" cy="252.1" r="2.85"/><circle cx="191" cy="254" r="2.85"/><circle cx="191.1" cy="255.6" r="2.85"/><circle cx="191.1" cy="256.8" r="2.85"/><circle cx="191" cy="258.2" r="2.85"/><circle cx="191" cy="259.8" r="2.85"/><circle cx="191" cy="261.6" r="2.85"/><circle cx="191" cy="262.8" r="2.85"/><circle cx="191.1" cy="264.2" r="2.85"/><circle cx="191" cy="266.2" r="2.85"/><circle cx="191" cy="268" r="2.85"/><circle cx="191" cy="269.3" r="2.85"/><circle cx="191" cy="270.8" r="2.85"/><circle cx="191" cy="272.2" r="2.85"/><circle cx="191.1" cy="274" r="2.85"/><circle cx="191.1" cy="275.7" r="2.85"/><circle cx="191" cy="277.6" r="2.85"/><circle cx="191" cy="279.5" r="2.85"/><circle cx="190.9" cy="281.2" r="2.85"/><circle cx="191" cy="283" r="2.85"/><circle cx="190.9" cy="284.8" r="2.85"/><circle cx="191" cy="286.7" r="2.85"/><circle cx="191" cy="288.2" r="2.85"/><circle cx="190.9" cy="289.7" r="2.85"/></g>
<g fill="#e08000"><circle cx="191.1" cy="252.3" r="2.85"/><circle cx="191.1" cy="255.6" r="2.85"/><circle cx="191" cy="257.9" r="2.85"/><circle cx="191.1" cy="261" r="2.85"/><circle cx="191" cy="264.1" r="2.85"/><circle cx="191" cy="267.5" r="2.85"/><circle cx="191" cy="269.6" r="2.85"/><circle cx="191" cy="272.1" r="2.85"/><circle cx="191" cy="275.3" r="2.85"/><circle cx="191" cy="277.2" r="2.85"/><circle cx="191" cy="279.1" r="2.85"/><circle cx="191.1" cy="281.8" r="2.85"/><circle cx="191" cy="282.7" r="2.85"/></g>
<g fill="#ff0000"><circle cx="188.1" cy="268.3" r="2.85"/><circle cx="188.1" cy="270.5" r="2.85"/><circle cx="188" cy="272.2" r="2.85"/><circle cx="188" cy="274.2" r="2.85"/><circle cx="188" cy="276.3" r="2.85"/><circle cx="188.1" cy="278.6" r="2.85"/><circle cx="188" cy="279.7" r="2.85"/></g>
<g fill="#00ffff"><circle cx="188.1" cy="287.3" r="2.85"/><circle cx="188" cy="289.6" r="2.85"/><circle cx="187.9" cy="292.4" r="2.85"/><circle cx="188.1" cy="294.2" r="2.85"/><circle cx="188" cy="296.3" r="2.85"/><circle cx="188.1" cy="297.7" r="2.85"/></g>
<g fill="#ff0000"><circle cx="187.9" cy="303.3" r="2.85"/><circle cx="187.9" cy="306.1" r="2.85"/><circle cx="188" cy="308.9" r="2.85"/><circle cx="188" cy="310.7" r="2.85"/></g>
<g fill="#808000"><circle cx="193.8" cy="201.3" r="2.85"/><circle cx="193.8" cy="202.8" r="2.85"/><circle cx="193.7" cy="204.2" r="2.85"/><circle cx="193.8" cy="206.2" r="2.85"/><circle cx="193.9" cy="208.1" r="2.85"/><circle cx="193.8" cy="209.7" r="2.85"/><circle cx="193.8" cy="212" r="2.85"/><circle cx="193.7" cy="214" r="2.85"/><circle cx="193.8" cy="215.3" r="2.85"/><circle cx="193.8" cy="217" r="2.85"/><circle cx="193.7" cy="217.7" r="2.85"/></g>
<g fill="#ffff00"><circle cx="193.7" cy="222.3" r="2.85"/><circle cx="193.9" cy="224.8" r="2.85"/><circle cx="193.7" cy="227.1" r="2.85"/><circle cx="193.7" cy="230.1" r="2.85"/><circle cx="193.7" cy="232.5" r="2.85"/><circle cx="193.8" cy="234.7" r="2.85"/><circle cx="193.9" cy="235.7" r="2.85"/></g>
<g fill="#ff8c00"><circle cx="193.7" cy="241.3" r="2.85"/><circle cx="193.9" cy="243.6" r="2.85"/><circle cx="193.8" cy="246.3" r="2.85"/><circle cx="193.9" cy="247.7" r="2.85"/></g>
<g fill="#00e5ee"><circle cx="197.4" cy="243.3" r="2.85"/><circle cx="197.4" cy="245.4" r="2.85"/><circle cx="197.6" cy="247.2" r="2.85"/><circle cx="197.6" cy="249.2" r="2.85"/><circle cx="197.5" cy="251" r="2.85"/><circle cx="197.6" cy="253.8" r="2.85"/><circle cx="197.6" cy="256.2" r="2.85"/><circle cx="197.5" cy="258.3" r="2.85"/><circle cx="197.5" cy="260.6" r="2.85"/><circle cx="197.6" cy="262.7" r="2.85"/><circle cx="197.5" cy="264.4" r="2.85"/><circle cx="197.6" cy="267.2" r="2.85"/><circle cx="197.4" cy="269.6" r="2.85"/><circle cx="197.5" cy="272.6" r="2.85"/><circle cx="197.6" cy="274.8" r="2.85"/><circle cx="197.4" cy="276.7" r="2.85"/></g>
<g fill="#125a5a"><circle cx="194.9" cy="281.3" r="2.85"/><circle cx="195" cy="282.7" r="2.85"/><circle cx="195.1" cy="284.7" r="2.85"/><circle cx="195" cy="286.3" r="2.85"/><circle cx="195.1" cy="288.1" r="2.85"/><circle cx="194.9" cy="289.5" r="2.85"/><circle cx="195.1" cy="290.8" r="2.85"/><circle cx="195" cy="292.2" r="2.85"/><circle cx="194.9" cy="293.5" r="2.85"/><circle cx="195" cy="295.6" r="2.85"/><circle cx="194.9" cy="297" r="2.85"/><circle cx="195" cy="298.7" r="2.85"/><circle cx="194.9" cy="299.9" r="2.85"/><circle cx="195.1" cy="301.5" r="2.85"/><circle cx="195" cy="303" r="2.85"/><circle cx="195" cy="304.5" r="2.85"/><circle cx="194.9" cy="305.7" r="2.85"/><circle cx="195" cy="306.9" r="2.85"/><circle cx="194.9" cy="308.9" r="2.85"/><circle cx="195.1" cy="310.3" r="2.85"/><circle cx="194.9" cy="311.7" r="2.85"/><circle cx="195" cy="313" r="2.85"/><circle cx="195" cy="314.4" r="2.85"/><circle cx="194.9" cy="315.7" r="2.85"/><circle cx="195.1" cy="316.9" r="2.85"/><circle cx="195" cy="318.6" r="2.85"/><circle cx="195" cy="320.1" r="2.85"/><circle cx="195" cy="321.3" r="2.85"/><circle cx="195" cy="323.1" r="2.85"/><circle cx="195" cy="324.3" r="2.85"/><circle cx="194.9" cy="325.7" r="2.85"/><circle cx="194.9" cy="327.6" r="2.85"/><circle cx="195.1" cy="328.9" r="2.85"/><circle cx="195" cy="330.4" r="2.85"/><circle cx="195" cy="332.4" r="2.85"/><circle cx="194.9" cy="332.7" r="2.85"/></g>
<g fill="#cd3333"><circle cx="203" cy="270.3" r="2.85"/><circle cx="202.9" cy="272.8" r="2.85"/><circle cx="203.1" cy="275" r="2.85"/><circle cx="203.1" cy="277.4" r="2.85"/><circle cx="203" cy="279.5" r="2.85"/><circle cx="203" cy="281.3" r="2.85"/><circle cx="203.2" cy="283.4" r="2.85"/><circle cx="203.1" cy="285.4" r="2.85"/><circle cx="203" cy="287.3" r="2.85"/><circle cx="203.1" cy="290" r="2.85"/><circle cx="203.1" cy="292.1" r="2.85"/><circle cx="203.2" cy="294.3" r="2.85"/><circle cx="203.1" cy="297.3" r="2.85"/><circle cx="203.3" cy="300.1" r="2.85"/><circle cx="203.3" cy="303.1" r="2.85"/><circle cx="203.2" cy="306" r="2.85"/><circle cx="203.3" cy="307.9" r="2.85"/><circle cx="203.3" cy="309.9" r="2.85"/><circle cx="203.4" cy="311.7" r="2.85"/><circle cx="203.4" cy="314.3" r="2.85"/><circle cx="203.3" cy="316.9" r="2.85"/><circle cx="203.2" cy="319.1" r="2.85"/><circle cx="203.5" cy="321.4" r="2.85"/><circle cx="203.4" cy="324" r="2.85"/><circle cx="203.5" cy="326.7" r="2.85"/><circle cx="203.5" cy="328.8" r="2.85"/><circle cx="203.5" cy="331.7" r="2.85"/><circle cx="203.5" cy="333.9" r="2.85"/><circle cx="203.5" cy="336.4" r="2.85"/><circle cx="203.5" cy="338.4" r="2.85"/><circle cx="203.4" cy="340.2" r="2.85"/><circle cx="203.6" cy="343.2" r="2.85"/><circle cx="203.5" cy="346" r="2.85"/><circle cx="203.5" cy="348.7" r="2.85"/><circle cx="203.7" cy="350.4" r="2.85"/><circle cx="203.5" cy="352.1" r="2.85"/><circle cx="203.6" cy="354" r="2.85"/><circle cx="203.5" cy="356" r="2.85"/><circle cx="203.7" cy="358.1" r="2.85"/><circle cx="203.7" cy="360.4" r="2.85"/><circle cx="203.6" cy="362.1" r="2.85"/><circle cx="203.7" cy="364.2" r="2.85"/><circle cx="203.8" cy="366.8" r="2.85"/><circle cx="203.7" cy="368.8" r="2.85"/><circle cx="203.7" cy="371.7" r="2.85"/><circle cx="203.7" cy="374.2" r="2.85"/><circle cx="203.6" cy="376.9" r="2.85"/><circle cx="203.7" cy="378.9" r="2.85"/><circle cx="203.7" cy="381.2" r="2.85"/><circle cx="203.7" cy="383.7" r="2.85"/></g>
<g fill="#f5c98f"><circle cx="204.1" cy="387.3" r="2.85"/><circle cx="203.9" cy="389.4" r="2.85"/><circle cx="204" cy="391.3" r="2.85"/><circle cx="204" cy="394" r="2.85"/><circle cx="204" cy="396.6" r="2.85"/><circle cx="204.1" cy="398.7" r="2.85"/><circle cx="204.1" cy="400.7" r="2.85"/><circle cx="203.9" cy="403.1" r="2.85"/><circle cx="203.9" cy="405.4" r="2.85"/><circle cx="204" cy="408.5" r="2.85"/><circle cx="203.9" cy="410.7" r="2.85"/><circle cx="203.9" cy="412.8" r="2.85"/><circle cx="203.9" cy="415.7" r="2.85"/><circle cx="203.9" cy="417.6" r="2.85"/><circle cx="204" cy="420.1" r="2.85"/><circle cx="204" cy="422.3" r="2.85"/><circle cx="203.9" cy="425.1" r="2.85"/><circle cx="204" cy="425.7" r="2.85"/></g>
<g fill="#5a3a1a"><circle cx="204" cy="429.5" r="2.85"/></g>
<g fill="#0000cd"><circle cx="208.1" cy="339.3" r="2.85"/><circle cx="208" cy="341.1" r="2.85"/><circle cx="207.9" cy="342.7" r="2.85"/><circle cx="208" cy="344.2" r="2.85"/><circle cx="208" cy="345.5" r="2.85"/><circle cx="207.9" cy="346.8" r="2.85"/><circle cx="208" cy="349.1" r="2.85"/><circle cx="207.9" cy="351.2" r="2.85"/><circle cx="208.1" cy="352.5" r="2.85"/><circle cx="208" cy="352.7" r="2.85"/></g>
<g fill="#ba55d3"><circle cx="209.3" cy="327.3" r="2.85"/><circle cx="209.3" cy="329.7" r="2.85"/><circle cx="209.3" cy="332.4" r="2.85"/><circle cx="209.3" cy="332.7" r="2.85"/></g>
<g fill="#145a32"><circle cx="212.5" cy="209.3" r="2.85"/><circle cx="212.4" cy="210.7" r="2.85"/></g>
<g fill="#3cb371"><circle cx="212.5" cy="215.3" r="2.85"/><circle cx="212.3" cy="217.1" r="2.85"/><circle cx="212.3" cy="219.5" r="2.85"/><circle cx="212.4" cy="222.1" r="2.85"/><circle cx="212.4" cy="224.9" r="2.85"/><circle cx="212.5" cy="226.6" r="2.85"/><circle cx="212.4" cy="229.2" r="2.85"/><circle cx="212.5" cy="231.9" r="2.85"/><circle cx="212.5" cy="234.4" r="2.85"/><circle cx="212.4" cy="236.4" r="2.85"/><circle cx="212.4" cy="238.1" r="2.85"/><circle cx="212.3" cy="240.8" r="2.85"/><circle cx="212.4" cy="242.7" r="2.85"/><circle cx="212.4" cy="244.8" r="2.85"/><circle cx="212.3" cy="247" r="2.85"/><circle cx="212.4" cy="247.7" r="2.85"/></g>
<g fill="#7b68ee"><circle cx="212.9" cy="254.3" r="2.85"/><circle cx="213.1" cy="256.1" r="2.85"/><circle cx="212.9" cy="258.2" r="2.85"/><circle cx="213.1" cy="261" r="2.85"/><circle cx="213.1" cy="262.7" r="2.85"/><circle cx="213.1" cy="264.3" r="2.85"/><circle cx="213" cy="265.7" r="2.85"/></g>
<g fill="#9370db"><circle cx="213.1" cy="256.3" r="2.85"/><circle cx="212.9" cy="258.3" r="2.85"/><circle cx="213" cy="260.8" r="2.85"/><circle cx="213" cy="263.1" r="2.85"/><circle cx="213" cy="265.3" r="2.85"/><circle cx="213" cy="267.4" r="2.85"/><circle cx="212.9" cy="269.6" r="2.85"/><circle cx="212.9" cy="272.2" r="2.85"/><circle cx="213" cy="274.7" r="2.85"/></g>
<g fill="#25255d"><circle cx="214.1" cy="270.3" r="2.85"/><circle cx="214" cy="271.9" r="2.85"/><circle cx="214.2" cy="273.9" r="2.85"/><circle cx="214.1" cy="275.9" r="2.85"/><circle cx="214.3" cy="277.9" r="2.85"/><circle cx="214.4" cy="279.9" r="2.85"/><circle cx="214.3" cy="282" r="2.85"/><circle cx="214.4" cy="283.7" r="2.85"/><circle cx="214.4" cy="285.6" r="2.85"/><circle cx="214.5" cy="286.7" r="2.85"/><circle cx="214.7" cy="288.5" r="2.85"/><circle cx="214.6" cy="290.2" r="2.85"/><circle cx="214.7" cy="291.6" r="2.85"/><circle cx="214.8" cy="293.3" r="2.85"/><circle cx="214.7" cy="295.3" r="2.85"/><circle cx="214.9" cy="296.9" r="2.85"/><circle cx="214.9" cy="298.7" r="2.85"/><circle cx="214.8" cy="300.1" r="2.85"/><circle cx="215" cy="301.5" r="2.85"/><circle cx="215" cy="303.5" r="2.85"/><circle cx="214.9" cy="304.6" r="2.85"/><circle cx="215.2" cy="305.9" r="2.85"/><circle cx="215.1" cy="307.7" r="2.85"/><circle cx="215.2" cy="309.2" r="2.85"/><circle cx="215.1" cy="310.5" r="2.85"/><circle cx="215.3" cy="312.2" r="2.85"/><circle cx="215.2" cy="313.7" r="2.85"/><circle cx="215.3" cy="315.4" r="2.85"/><circle cx="215.3" cy="316.9" r="2.85"/><circle cx="215.3" cy="318.5" r="2.85"/><circle cx="215.5" cy="320.2" r="2.85"/><circle cx="215.4" cy="321.7" r="2.85"/><circle cx="215.5" cy="322.9" r="2.85"/><circle cx="215.6" cy="324.2" r="2.85"/><circle cx="215.6" cy="326.2" r="2.85"/><circle cx="215.8" cy="327.8" r="2.85"/><circle cx="215.7" cy="329" r="2.85"/><circle cx="215.8" cy="331" r="2.85"/><circle cx="215.8" cy="332.4" r="2.85"/><circle cx="215.9" cy="333.6" r="2.85"/><circle cx="216" cy="335.2" r="2.85"/><circle cx="215.8" cy="336.6" r="2.85"/><circle cx="216" cy="337.7" r="2.85"/></g>
<g fill="#25255d"><circle cx="211.2" cy="277.3" r="2.85"/><circle cx="211.6" cy="278.7" r="2.85"/><circle cx="211.8" cy="280.6" r="2.85"/><circle cx="212.2" cy="282.4" r="2.85"/><circle cx="212.6" cy="284.3" r="2.85"/><circle cx="212.7" cy="285.5" r="2.85"/><circle cx="212.8" cy="287" r="2.85"/><circle cx="213.1" cy="288.8" r="2.85"/><circle cx="213.6" cy="290.9" r="2.85"/><circle cx="213.8" cy="292.7" r="2.85"/><circle cx="214" cy="293.8" r="2.85"/><circle cx="214.3" cy="295.5" r="2.85"/><circle cx="214.4" cy="296.8" r="2.85"/><circle cx="214.8" cy="298.4" r="2.85"/><circle cx="215" cy="300.3" r="2.85"/><circle cx="215.3" cy="301.5" r="2.85"/><circle cx="215.6" cy="303.5" r="2.85"/><circle cx="215.7" cy="305.3" r="2.85"/><circle cx="216" cy="306.7" r="2.85"/><circle cx="216.2" cy="308" r="2.85"/><circle cx="216.6" cy="309.5" r="2.85"/><circle cx="216.8" cy="311.4" r="2.85"/><circle cx="216.9" cy="313.1" r="2.85"/><circle cx="217.2" cy="314.3" r="2.85"/><circle cx="217.4" cy="315.5" r="2.85"/><circle cx="217.6" cy="316.7" r="2.85"/><circle cx="217.9" cy="318.6" r="2.85"/><circle cx="218.1" cy="319.9" r="2.85"/><circle cx="218.4" cy="321.5" r="2.85"/><circle cx="218.5" cy="322.9" r="2.85"/><circle cx="218.9" cy="324.7" r="2.85"/><circle cx="219.1" cy="326.2" r="2.85"/><circle cx="219.2" cy="327.5" r="2.85"/><circle cx="219.6" cy="329.4" r="2.85"/><circle cx="220" cy="331.1" r="2.85"/><circle cx="220.1" cy="332.8" r="2.85"/><circle cx="220.4" cy="334.7" r="2.85"/><circle cx="220.7" cy="335.7" r="2.85"/></g>
<g fill="#9370db"><circle cx="209.4" cy="283.3" r="2.85"/><circle cx="209.3" cy="285.3" r="2.85"/><circle cx="209.5" cy="287.3" r="2.85"/><circle cx="209.5" cy="289.6" r="2.85"/><circle cx="209.5" cy="291.5" r="2.85"/><circle cx="209.4" cy="293.9" r="2.85"/><circle cx="209.4" cy="296.3" r="2.85"/><circle cx="209.5" cy="299.2" r="2.85"/><circle cx="209.5" cy="302.2" r="2.85"/><circle cx="209.4" cy="303.8" r="2.85"/><circle cx="209.4" cy="306.2" r="2.85"/><circle cx="209.4" cy="308.9" r="2.85"/><circle cx="209.4" cy="311.7" r="2.85"/><circle cx="209.4" cy="314.4" r="2.85"/><circle cx="209.3" cy="316.9" r="2.85"/><circle cx="209.4" cy="318.7" r="2.85"/></g>
<g fill="#25255d"><circle cx="211.2" cy="280.3" r="2.85"/><circle cx="211.3" cy="281.7" r="2.85"/><circle cx="211.2" cy="283.8" r="2.85"/><circle cx="211.3" cy="285.4" r="2.85"/><circle cx="211.2" cy="286.9" r="2.85"/><circle cx="211.3" cy="288.2" r="2.85"/><circle cx="211.1" cy="289.6" r="2.85"/><circle cx="211.2" cy="291" r="2.85"/><circle cx="211.3" cy="292.3" r="2.85"/><circle cx="211.1" cy="293.4" r="2.85"/><circle cx="211.1" cy="295.3" r="2.85"/><circle cx="211.1" cy="296.9" r="2.85"/><circle cx="211.1" cy="298.4" r="2.85"/><circle cx="211.1" cy="300.1" r="2.85"/><circle cx="211.2" cy="301.5" r="2.85"/><circle cx="211.1" cy="302.8" r="2.85"/><circle cx="211.2" cy="304" r="2.85"/><circle cx="211.1" cy="305.4" r="2.85"/><circle cx="211.2" cy="306.8" r="2.85"/><circle cx="211.3" cy="308.6" r="2.85"/><circle cx="211.2" cy="310.3" r="2.85"/><circle cx="211.1" cy="312.3" r="2.85"/><circle cx="211.3" cy="313.7" r="2.85"/><circle cx="211.3" cy="315.7" r="2.85"/><circle cx="211.2" cy="317.4" r="2.85"/><circle cx="211.1" cy="318.6" r="2.85"/><circle cx="211.3" cy="319.7" r="2.85"/></g>
<g fill="#c080e0"><circle cx="209.3" cy="326.3" r="2.85"/><circle cx="209.4" cy="329" r="2.85"/><circle cx="209.5" cy="331" r="2.85"/><circle cx="209.4" cy="331.7" r="2.85"/></g>
<g fill="#0000cd"><circle cx="208" cy="338.3" r="2.85"/><circle cx="208" cy="340.8" r="2.85"/><circle cx="207.9" cy="342.5" r="2.85"/><circle cx="208" cy="344.3" r="2.85"/><circle cx="207.9" cy="346.6" r="2.85"/><circle cx="208" cy="348.7" r="2.85"/><circle cx="208" cy="349.7" r="2.85"/></g>
<g fill="#155d5d"><circle cx="217.6" cy="292.3" r="2.85"/><circle cx="217.5" cy="293.9" r="2.85"/><circle cx="217.5" cy="295.6" r="2.85"/><circle cx="217.6" cy="297" r="2.85"/><circle cx="217.7" cy="298.5" r="2.85"/><circle cx="217.5" cy="299.7" r="2.85"/><circle cx="217.5" cy="301.7" r="2.85"/><circle cx="217.6" cy="303.3" r="2.85"/><circle cx="217.7" cy="305.4" r="2.85"/><circle cx="217.7" cy="306.6" r="2.85"/><circle cx="217.6" cy="308.3" r="2.85"/><circle cx="217.8" cy="310.1" r="2.85"/><circle cx="217.6" cy="311.5" r="2.85"/><circle cx="217.8" cy="312.7" r="2.85"/><circle cx="217.6" cy="314" r="2.85"/><circle cx="217.6" cy="315.3" r="2.85"/><circle cx="217.7" cy="317.1" r="2.85"/><circle cx="217.7" cy="318.3" r="2.85"/><circle cx="217.8" cy="320.2" r="2.85"/><circle cx="217.8" cy="321.8" r="2.85"/><circle cx="217.7" cy="323.4" r="2.85"/><circle cx="217.9" cy="325.1" r="2.85"/><circle cx="217.8" cy="326.7" r="2.85"/><circle cx="217.8" cy="328.5" r="2.85"/><circle cx="217.8" cy="330.2" r="2.85"/><circle cx="217.9" cy="331.6" r="2.85"/><circle cx="218" cy="333.4" r="2.85"/><circle cx="217.8" cy="334.8" r="2.85"/><circle cx="217.8" cy="336.6" r="2.85"/><circle cx="218" cy="338.5" r="2.85"/><circle cx="217.9" cy="340.3" r="2.85"/><circle cx="218.1" cy="341.8" r="2.85"/><circle cx="218" cy="342.7" r="2.85"/></g>
<g fill="#008080"><circle cx="218" cy="332.3" r="2.85"/><circle cx="218.1" cy="334.7" r="2.85"/><circle cx="217.9" cy="336.7" r="2.85"/><circle cx="218.1" cy="339.3" r="2.85"/><circle cx="217.9" cy="340.7" r="2.85"/></g>
<g fill="#c01888"><circle cx="221.1" cy="277.3" r="2.85"/><circle cx="221.1" cy="280" r="2.85"/><circle cx="221.2" cy="282.4" r="2.85"/><circle cx="221.3" cy="285.4" r="2.85"/><circle cx="221.2" cy="287.3" r="2.85"/><circle cx="221.3" cy="289.9" r="2.85"/><circle cx="221.4" cy="292.2" r="2.85"/><circle cx="221.6" cy="295.3" r="2.85"/><circle cx="221.5" cy="298.5" r="2.85"/><circle cx="221.7" cy="301.2" r="2.85"/><circle cx="221.7" cy="303.3" r="2.85"/><circle cx="221.7" cy="305.4" r="2.85"/><circle cx="221.8" cy="307.6" r="2.85"/><circle cx="221.9" cy="310" r="2.85"/><circle cx="221.8" cy="312.1" r="2.85"/><circle cx="222" cy="314.1" r="2.85"/><circle cx="222" cy="317" r="2.85"/><circle cx="222.1" cy="319.7" r="2.85"/><circle cx="222.2" cy="321.9" r="2.85"/><circle cx="222.1" cy="325.2" r="2.85"/><circle cx="222.4" cy="327.2" r="2.85"/><circle cx="222.4" cy="329.8" r="2.85"/><circle cx="222.3" cy="331.8" r="2.85"/><circle cx="222.3" cy="334.7" r="2.85"/></g>
<g fill="#2a051d"><circle cx="223.2" cy="277.3" r="2.85"/><circle cx="223" cy="278.5" r="2.85"/><circle cx="223.1" cy="280.4" r="2.85"/><circle cx="223.3" cy="281.4" r="2.85"/><circle cx="223.3" cy="283.3" r="2.85"/><circle cx="223.3" cy="284.5" r="2.85"/><circle cx="223.2" cy="286.2" r="2.85"/><circle cx="223.2" cy="287.3" r="2.85"/><circle cx="223.3" cy="288.5" r="2.85"/><circle cx="223.3" cy="290.2" r="2.85"/><circle cx="223.3" cy="291.3" r="2.85"/><circle cx="223.4" cy="292.7" r="2.85"/><circle cx="223.5" cy="294.6" r="2.85"/><circle cx="223.5" cy="296.3" r="2.85"/><circle cx="223.5" cy="298.1" r="2.85"/><circle cx="223.5" cy="300" r="2.85"/><circle cx="223.7" cy="301.1" r="2.85"/><circle cx="223.7" cy="302.4" r="2.85"/><circle cx="223.7" cy="304.1" r="2.85"/><circle cx="223.8" cy="305.8" r="2.85"/><circle cx="223.8" cy="306.9" r="2.85"/><circle cx="223.9" cy="308.4" r="2.85"/><circle cx="223.9" cy="309.7" r="2.85"/><circle cx="223.9" cy="311.1" r="2.85"/><circle cx="223.9" cy="312.2" r="2.85"/><circle cx="223.9" cy="313.3" r="2.85"/><circle cx="224" cy="315.3" r="2.85"/><circle cx="224.1" cy="316.6" r="2.85"/><circle cx="224" cy="318.4" r="2.85"/><circle cx="224.1" cy="319.6" r="2.85"/><circle cx="224.1" cy="321.1" r="2.85"/><circle cx="224.1" cy="322.2" r="2.85"/><circle cx="224.3" cy="323.7" r="2.85"/><circle cx="224.1" cy="324.9" r="2.85"/><circle cx="224.3" cy="326.6" r="2.85"/><circle cx="224.4" cy="327.7" r="2.85"/><circle cx="224.3" cy="329.5" r="2.85"/><circle cx="224.4" cy="331" r="2.85"/><circle cx="224.4" cy="332.1" r="2.85"/><circle cx="224.4" cy="333.5" r="2.85"/><circle cx="224.4" cy="334.7" r="2.85"/></g>
<g fill="#f020b0"><circle cx="222.5" cy="337" r="2.85"/></g>
<g fill="#bdb76b"><circle cx="224.4" cy="284.3" r="2.85"/><circle cx="224.4" cy="286.2" r="2.85"/><circle cx="224.5" cy="289.2" r="2.85"/><circle cx="224.3" cy="292.2" r="2.85"/><circle cx="224.4" cy="295.3" r="2.85"/><circle cx="224.5" cy="297.1" r="2.85"/><circle cx="224.4" cy="299.9" r="2.85"/><circle cx="224.5" cy="302.1" r="2.85"/><circle cx="224.4" cy="304.8" r="2.85"/><circle cx="224.4" cy="307.4" r="2.85"/><circle cx="224.4" cy="309.6" r="2.85"/><circle cx="224.4" cy="312.9" r="2.85"/><circle cx="224.4" cy="314.6" r="2.85"/><circle cx="224.4" cy="317.5" r="2.85"/><circle cx="224.4" cy="318.7" r="2.85"/></g>
<g fill="#292817"><circle cx="226.3" cy="284.3" r="2.85"/><circle cx="226.4" cy="285.6" r="2.85"/><circle cx="226.5" cy="287.2" r="2.85"/><circle cx="226.5" cy="288.4" r="2.85"/><circle cx="226.3" cy="290.3" r="2.85"/><circle cx="226.3" cy="291.8" r="2.85"/><circle cx="226.3" cy="293.5" r="2.85"/><circle cx="226.3" cy="295" r="2.85"/><circle cx="226.4" cy="296.5" r="2.85"/><circle cx="226.5" cy="297.7" r="2.85"/><circle cx="226.4" cy="298.9" r="2.85"/><circle cx="226.4" cy="300.8" r="2.85"/><circle cx="226.3" cy="302.3" r="2.85"/><circle cx="226.4" cy="303.8" r="2.85"/><circle cx="226.5" cy="305.4" r="2.85"/><circle cx="226.4" cy="307.1" r="2.85"/><circle cx="226.4" cy="308.4" r="2.85"/><circle cx="226.4" cy="309.6" r="2.85"/><circle cx="226.5" cy="311.4" r="2.85"/><circle cx="226.5" cy="312.9" r="2.85"/><circle cx="226.3" cy="314.5" r="2.85"/><circle cx="226.4" cy="316.3" r="2.85"/><circle cx="226.4" cy="318.1" r="2.85"/><circle cx="226.4" cy="318.7" r="2.85"/></g>
<g fill="#1e1e5d"><circle cx="225.6" cy="233.3" r="2.85"/><circle cx="225.7" cy="234.6" r="2.85"/><circle cx="225.7" cy="236.1" r="2.85"/><circle cx="225.6" cy="237.6" r="2.85"/><circle cx="225.6" cy="239.1" r="2.85"/><circle cx="225.7" cy="240.2" r="2.85"/><circle cx="225.8" cy="241.5" r="2.85"/><circle cx="225.6" cy="243.2" r="2.85"/><circle cx="225.8" cy="244.3" r="2.85"/><circle cx="225.8" cy="245.6" r="2.85"/><circle cx="225.7" cy="247.5" r="2.85"/><circle cx="225.8" cy="248.8" r="2.85"/><circle cx="225.7" cy="250.3" r="2.85"/><circle cx="225.7" cy="251.6" r="2.85"/><circle cx="225.9" cy="253.5" r="2.85"/><circle cx="225.8" cy="254.7" r="2.85"/><circle cx="225.8" cy="256.5" r="2.85"/><circle cx="225.8" cy="258.4" r="2.85"/><circle cx="226" cy="259.7" r="2.85"/><circle cx="225.9" cy="261.3" r="2.85"/><circle cx="225.8" cy="263.1" r="2.85"/><circle cx="225.9" cy="264.9" r="2.85"/><circle cx="225.9" cy="266.3" r="2.85"/><circle cx="225.9" cy="267.5" r="2.85"/><circle cx="226" cy="269" r="2.85"/><circle cx="225.9" cy="270.5" r="2.85"/><circle cx="226" cy="272.3" r="2.85"/><circle cx="226.1" cy="272.7" r="2.85"/></g>
<g fill="#fff5c0"><circle cx="226" cy="248.3" r="2.85"/><circle cx="225.9" cy="250.8" r="2.85"/><circle cx="226" cy="253.4" r="2.85"/><circle cx="226" cy="256" r="2.85"/><circle cx="226.1" cy="259.1" r="2.85"/><circle cx="226.1" cy="262" r="2.85"/><circle cx="225.9" cy="264.7" r="2.85"/></g>
<g fill="#00008b"><circle cx="228.1" cy="324.3" r="2.85"/><circle cx="228.1" cy="325.8" r="2.85"/><circle cx="228.1" cy="327.1" r="2.85"/><circle cx="227.9" cy="329.3" r="2.85"/><circle cx="228" cy="330.7" r="2.85"/><circle cx="228" cy="332" r="2.85"/><circle cx="227.9" cy="334.1" r="2.85"/><circle cx="228.1" cy="336" r="2.85"/><circle cx="227.9" cy="337.3" r="2.85"/><circle cx="227.9" cy="339.3" r="2.85"/><circle cx="228" cy="341.3" r="2.85"/><circle cx="227.9" cy="343.1" r="2.85"/><circle cx="228.1" cy="344.4" r="2.85"/><circle cx="228" cy="346.4" r="2.85"/><circle cx="228" cy="348.1" r="2.85"/><circle cx="228" cy="349.7" r="2.85"/></g>
<g fill="#757506"><circle cx="230.5" cy="231.3" r="2.85"/><circle cx="230.5" cy="232.5" r="2.85"/><circle cx="230.6" cy="233.9" r="2.85"/><circle cx="230.5" cy="235.8" r="2.85"/><circle cx="230.7" cy="237.7" r="2.85"/><circle cx="230.6" cy="239.7" r="2.85"/><circle cx="230.5" cy="241" r="2.85"/><circle cx="230.6" cy="242.3" r="2.85"/><circle cx="230.6" cy="243.5" r="2.85"/><circle cx="230.6" cy="245.2" r="2.85"/><circle cx="230.5" cy="246.6" r="2.85"/><circle cx="230.7" cy="248.2" r="2.85"/><circle cx="230.6" cy="249.8" r="2.85"/><circle cx="230.7" cy="251.5" r="2.85"/><circle cx="230.5" cy="252.9" r="2.85"/><circle cx="230.7" cy="254.8" r="2.85"/><circle cx="230.7" cy="256.1" r="2.85"/><circle cx="230.6" cy="258.1" r="2.85"/><circle cx="230.5" cy="259.8" r="2.85"/><circle cx="230.6" cy="261" r="2.85"/><circle cx="230.6" cy="262.4" r="2.85"/><circle cx="230.5" cy="264" r="2.85"/><circle cx="230.6" cy="265.5" r="2.85"/><circle cx="230.5" cy="267.2" r="2.85"/><circle cx="230.6" cy="268.6" r="2.85"/><circle cx="230.7" cy="270" r="2.85"/><circle cx="230.6" cy="271.9" r="2.85"/><circle cx="230.6" cy="273.3" r="2.85"/><circle cx="230.5" cy="275.1" r="2.85"/><circle cx="230.7" cy="277" r="2.85"/><circle cx="230.5" cy="278.7" r="2.85"/><circle cx="230.7" cy="280.2" r="2.85"/><circle cx="230.7" cy="282.2" r="2.85"/><circle cx="230.7" cy="283.8" r="2.85"/><circle cx="230.6" cy="285.8" r="2.85"/><circle cx="230.5" cy="286.9" r="2.85"/><circle cx="230.6" cy="288.5" r="2.85"/><circle cx="230.7" cy="290.2" r="2.85"/><circle cx="230.6" cy="291.4" r="2.85"/><circle cx="230.7" cy="293.3" r="2.85"/><circle cx="230.5" cy="294.5" r="2.85"/><circle cx="230.6" cy="296.2" r="2.85"/><circle cx="230.7" cy="297.5" r="2.85"/><circle cx="230.6" cy="299.5" r="2.85"/><circle cx="230.6" cy="301.2" r="2.85"/><circle cx="230.5" cy="303" r="2.85"/><circle cx="230.5" cy="304.6" r="2.85"/><circle cx="230.5" cy="306.4" r="2.85"/><circle cx="230.7" cy="308.2" r="2.85"/><circle cx="230.7" cy="309.6" r="2.85"/><circle cx="230.5" cy="310.9" r="2.85"/><circle cx="230.7" cy="312.8" r="2.85"/><circle cx="230.5" cy="314.1" r="2.85"/><circle cx="230.6" cy="316.1" r="2.85"/><circle cx="230.7" cy="317.4" r="2.85"/><circle cx="230.6" cy="318.6" r="2.85"/><circle cx="230.7" cy="319.8" r="2.85"/><circle cx="230.6" cy="321.7" r="2.85"/><circle cx="230.5" cy="323.7" r="2.85"/><circle cx="230.6" cy="325.3" r="2.85"/><circle cx="230.6" cy="327" r="2.85"/><circle cx="230.5" cy="328.4" r="2.85"/><circle cx="230.7" cy="330.4" r="2.85"/><circle cx="230.5" cy="331.7" r="2.85"/></g>
<g fill="#b0b000"><circle cx="230.6" cy="307.3" r="2.85"/><circle cx="230.5" cy="310.3" r="2.85"/><circle cx="230.6" cy="312.6" r="2.85"/><circle cx="230.5" cy="314.6" r="2.85"/><circle cx="230.6" cy="317.3" r="2.85"/><circle cx="230.5" cy="319.2" r="2.85"/><circle cx="230.6" cy="321.9" r="2.85"/><circle cx="230.6" cy="325" r="2.85"/><circle cx="230.6" cy="327.7" r="2.85"/></g>
<g fill="#6b8e23"><circle cx="234.4" cy="232.3" r="2.85"/><circle cx="234.5" cy="234.5" r="2.85"/><circle cx="234.5" cy="236.1" r="2.85"/><circle cx="234.4" cy="237.7" r="2.85"/><circle cx="234.3" cy="237.7" r="2.85"/></g>
<g fill="#ffa500"><circle cx="235.6" cy="242.3" r="2.85"/><circle cx="235.5" cy="244" r="2.85"/><circle cx="235.6" cy="246.9" r="2.85"/><circle cx="235.5" cy="248.6" r="2.85"/><circle cx="235.5" cy="250.9" r="2.85"/><circle cx="235.5" cy="253.3" r="2.85"/><circle cx="235.7" cy="255.1" r="2.85"/><circle cx="235.6" cy="257.3" r="2.85"/><circle cx="235.7" cy="259.1" r="2.85"/><circle cx="235.5" cy="261.5" r="2.85"/><circle cx="235.7" cy="262.7" r="2.85"/></g>
<g fill="#c08000"><circle cx="234.3" cy="268.3" r="2.85"/><circle cx="234.4" cy="270.9" r="2.85"/><circle cx="234.5" cy="273.9" r="2.85"/><circle cx="234.5" cy="276.6" r="2.85"/><circle cx="234.3" cy="279.5" r="2.85"/><circle cx="234.3" cy="281.7" r="2.85"/><circle cx="234.4" cy="284.7" r="2.85"/><circle cx="234.5" cy="286.8" r="2.85"/><circle cx="234.3" cy="289" r="2.85"/><circle cx="234.4" cy="290.9" r="2.85"/><circle cx="234.4" cy="293.3" r="2.85"/><circle cx="234.5" cy="295.9" r="2.85"/><circle cx="234.4" cy="298.2" r="2.85"/><circle cx="234.5" cy="301.4" r="2.85"/><circle cx="234.4" cy="303.4" r="2.85"/><circle cx="234.5" cy="303.7" r="2.85"/></g>
<g fill="#da70d6"><circle cx="237.4" cy="268.3" r="2.85"/><circle cx="237.4" cy="270.1" r="2.85"/><circle cx="237.3" cy="273.4" r="2.85"/><circle cx="237.2" cy="275.9" r="2.85"/><circle cx="237.3" cy="278.3" r="2.85"/><circle cx="237.4" cy="280.3" r="2.85"/><circle cx="237.4" cy="282.5" r="2.85"/><circle cx="237.2" cy="285.5" r="2.85"/><circle cx="237.4" cy="288.3" r="2.85"/><circle cx="237.3" cy="290.4" r="2.85"/><circle cx="237.2" cy="292.8" r="2.85"/><circle cx="237.4" cy="294.8" r="2.85"/><circle cx="237.3" cy="296.9" r="2.85"/><circle cx="237.4" cy="299.1" r="2.85"/><circle cx="237.2" cy="301.4" r="2.85"/><circle cx="237.4" cy="304.8" r="2.85"/><circle cx="237.4" cy="308.1" r="2.85"/><circle cx="237.4" cy="311.2" r="2.85"/><circle cx="237.4" cy="313.8" r="2.85"/><circle cx="237.4" cy="316.4" r="2.85"/><circle cx="237.4" cy="316.7" r="2.85"/></g>
<g fill="#dda0dd"><circle cx="239.4" cy="319.3" r="2.85"/><circle cx="239.5" cy="320.7" r="2.85"/></g>
<g fill="#452112"><circle cx="239.4" cy="197.3" r="2.85"/><circle cx="239.5" cy="199.2" r="2.85"/><circle cx="239.4" cy="201.1" r="2.85"/><circle cx="239.4" cy="202.5" r="2.85"/><circle cx="239.5" cy="204.6" r="2.85"/><circle cx="239.5" cy="206.2" r="2.85"/><circle cx="239.3" cy="208.2" r="2.85"/><circle cx="239.4" cy="209.5" r="2.85"/><circle cx="239.3" cy="211.5" r="2.85"/><circle cx="239.3" cy="213.4" r="2.85"/><circle cx="239.5" cy="214.8" r="2.85"/><circle cx="239.4" cy="216.7" r="2.85"/><circle cx="239.4" cy="218" r="2.85"/><circle cx="239.4" cy="219.3" r="2.85"/><circle cx="239.4" cy="220.9" r="2.85"/><circle cx="239.3" cy="222.2" r="2.85"/><circle cx="239.4" cy="223.8" r="2.85"/><circle cx="239.5" cy="225.8" r="2.85"/><circle cx="239.4" cy="227.6" r="2.85"/><circle cx="239.4" cy="229.4" r="2.85"/><circle cx="239.3" cy="230.9" r="2.85"/><circle cx="239.3" cy="232.8" r="2.85"/><circle cx="239.4" cy="234.7" r="2.85"/><circle cx="239.4" cy="236.4" r="2.85"/><circle cx="239.4" cy="238.5" r="2.85"/><circle cx="239.5" cy="240.4" r="2.85"/><circle cx="239.3" cy="241.9" r="2.85"/><circle cx="239.4" cy="242.7" r="2.85"/></g>
<g fill="#7a3010"><circle cx="239.9" cy="324.3" r="2.85"/><circle cx="239.9" cy="325.6" r="2.85"/><circle cx="240.1" cy="327.7" r="2.85"/></g>
<g fill="#ff4500"><circle cx="240.6" cy="332.3" r="2.85"/><circle cx="240.6" cy="334.5" r="2.85"/><circle cx="240.6" cy="336.5" r="2.85"/><circle cx="240.5" cy="339.5" r="2.85"/><circle cx="240.7" cy="342" r="2.85"/><circle cx="240.7" cy="345" r="2.85"/><circle cx="240.8" cy="347.2" r="2.85"/><circle cx="240.7" cy="349.6" r="2.85"/><circle cx="240.8" cy="352.7" r="2.85"/><circle cx="240.8" cy="355.1" r="2.85"/><circle cx="240.8" cy="358.2" r="2.85"/><circle cx="240.9" cy="360.2" r="2.85"/><circle cx="240.9" cy="363" r="2.85"/><circle cx="241" cy="365" r="2.85"/><circle cx="240.9" cy="367.4" r="2.85"/><circle cx="240.9" cy="369.1" r="2.85"/><circle cx="241.1" cy="371" r="2.85"/><circle cx="240.9" cy="374" r="2.85"/><circle cx="241.1" cy="376.4" r="2.85"/><circle cx="241.1" cy="379.2" r="2.85"/><circle cx="241.1" cy="381.3" r="2.85"/><circle cx="241.1" cy="383.5" r="2.85"/><circle cx="241.2" cy="385.3" r="2.85"/><circle cx="241.3" cy="387.8" r="2.85"/><circle cx="241.3" cy="390.7" r="2.85"/><circle cx="241.3" cy="393.1" r="2.85"/><circle cx="241.2" cy="394.7" r="2.85"/></g>
<g fill="#e070e0"><circle cx="241.3" cy="389" r="2.85"/></g>
<g fill="#3a1a3a"><circle cx="241.3" cy="399" r="2.85"/></g>
<g fill="#ff4500"><circle cx="242.2" cy="151.3" r="2.85"/><circle cx="242.3" cy="153.4" r="2.85"/><circle cx="242.4" cy="155.3" r="2.85"/><circle cx="242.4" cy="158.4" r="2.85"/><circle cx="242.3" cy="161.3" r="2.85"/><circle cx="242.2" cy="163.2" r="2.85"/><circle cx="242.3" cy="165.8" r="2.85"/><circle cx="242.4" cy="168.3" r="2.85"/><circle cx="242.2" cy="170" r="2.85"/><circle cx="242.4" cy="172.3" r="2.85"/><circle cx="242.2" cy="175" r="2.85"/><circle cx="242.3" cy="177.6" r="2.85"/><circle cx="242.2" cy="179.7" r="2.85"/><circle cx="242.3" cy="182.5" r="2.85"/><circle cx="242.3" cy="184.6" r="2.85"/><circle cx="242.4" cy="187" r="2.85"/><circle cx="242.4" cy="189.3" r="2.85"/><circle cx="242.2" cy="192.4" r="2.85"/><circle cx="242.3" cy="195" r="2.85"/><circle cx="242.4" cy="197.9" r="2.85"/><circle cx="242.2" cy="200.5" r="2.85"/><circle cx="242.3" cy="202.8" r="2.85"/><circle cx="242.3" cy="205.8" r="2.85"/><circle cx="242.2" cy="208.5" r="2.85"/><circle cx="242.2" cy="211.2" r="2.85"/><circle cx="242.3" cy="212.7" r="2.85"/></g>
<g fill="#2d452d"><circle cx="242.4" cy="202.3" r="2.85"/><circle cx="242.5" cy="203.8" r="2.85"/><circle cx="242.5" cy="205.8" r="2.85"/><circle cx="242.6" cy="207.2" r="2.85"/><circle cx="242.6" cy="208.5" r="2.85"/><circle cx="242.6" cy="210.5" r="2.85"/><circle cx="242.5" cy="212.1" r="2.85"/><circle cx="242.6" cy="214" r="2.85"/><circle cx="242.5" cy="215.7" r="2.85"/><circle cx="242.7" cy="217.6" r="2.85"/><circle cx="242.7" cy="219" r="2.85"/><circle cx="242.7" cy="220.3" r="2.85"/><circle cx="242.5" cy="222.1" r="2.85"/><circle cx="242.7" cy="223.7" r="2.85"/><circle cx="242.7" cy="225.4" r="2.85"/><circle cx="242.6" cy="227.1" r="2.85"/><circle cx="242.7" cy="229" r="2.85"/><circle cx="242.7" cy="230.3" r="2.85"/><circle cx="242.7" cy="231.8" r="2.85"/><circle cx="242.7" cy="233.8" r="2.85"/><circle cx="242.7" cy="235.4" r="2.85"/><circle cx="242.8" cy="236.8" r="2.85"/><circle cx="242.6" cy="238.6" r="2.85"/><circle cx="242.7" cy="239.9" r="2.85"/><circle cx="242.8" cy="241.8" r="2.85"/><circle cx="242.7" cy="243" r="2.85"/><circle cx="242.7" cy="244.9" r="2.85"/><circle cx="242.6" cy="246.5" r="2.85"/><circle cx="242.8" cy="248" r="2.85"/><circle cx="242.8" cy="250" r="2.85"/><circle cx="242.7" cy="251.4" r="2.85"/><circle cx="242.7" cy="252.7" r="2.85"/><circle cx="242.7" cy="253.9" r="2.85"/><circle cx="242.7" cy="255.6" r="2.85"/><circle cx="242.8" cy="257.4" r="2.85"/><circle cx="242.9" cy="259.2" r="2.85"/><circle cx="242.9" cy="260.7" r="2.85"/><circle cx="242.8" cy="262.6" r="2.85"/><circle cx="242.9" cy="263.8" r="2.85"/><circle cx="242.7" cy="265.2" r="2.85"/><circle cx="242.9" cy="267" r="2.85"/><circle cx="242.8" cy="269" r="2.85"/><circle cx="242.7" cy="270.8" r="2.85"/><circle cx="242.9" cy="272.5" r="2.85"/><circle cx="242.8" cy="274.4" r="2.85"/><circle cx="242.8" cy="275.9" r="2.85"/><circle cx="242.8" cy="277.9" r="2.85"/><circle cx="242.9" cy="279.8" r="2.85"/><circle cx="242.9" cy="281.2" r="2.85"/><circle cx="243" cy="282.7" r="2.85"/><circle cx="242.8" cy="284.6" r="2.85"/><circle cx="243" cy="286.1" r="2.85"/><circle cx="242.8" cy="287.4" r="2.85"/><circle cx="242.9" cy="289.3" r="2.85"/><circle cx="243" cy="290.9" r="2.85"/><circle cx="242.9" cy="292.6" r="2.85"/><circle cx="242.9" cy="294.3" r="2.85"/><circle cx="243" cy="296.3" r="2.85"/><circle cx="242.9" cy="297.6" r="2.85"/><circle cx="243.1" cy="297.7" r="2.85"/></g>
<g fill="#f0f0a0"><circle cx="241.5" cy="207.3" r="2.85"/><circle cx="241.4" cy="209.4" r="2.85"/><circle cx="241.6" cy="212.6" r="2.85"/><circle cx="241.4" cy="213.7" r="2.85"/></g>
<g fill="#90ee90"><circle cx="243.5" cy="224.3" r="2.85"/><circle cx="243.4" cy="225.7" r="2.85"/></g>
<g fill="#90ee90"><circle cx="244" cy="257.3" r="2.85"/><circle cx="244.3" cy="260.1" r="2.85"/><circle cx="244.5" cy="263.1" r="2.85"/><circle cx="244.6" cy="265.8" r="2.85"/><circle cx="244.8" cy="268.2" r="2.85"/><circle cx="244.8" cy="270.8" r="2.85"/><circle cx="245" cy="272.7" r="2.85"/></g>
<g fill="#eee8aa"><circle cx="240.5" cy="272.3" r="2.85"/><circle cx="240.6" cy="274.1" r="2.85"/><circle cx="240.6" cy="276.5" r="2.85"/><circle cx="240.7" cy="278.3" r="2.85"/><circle cx="240.7" cy="280.7" r="2.85"/><circle cx="240.7" cy="283.3" r="2.85"/><circle cx="240.7" cy="286" r="2.85"/><circle cx="240.7" cy="288.4" r="2.85"/><circle cx="240.7" cy="290.5" r="2.85"/><circle cx="240.5" cy="292.5" r="2.85"/><circle cx="240.5" cy="294.7" r="2.85"/><circle cx="240.5" cy="296.8" r="2.85"/><circle cx="240.7" cy="298.8" r="2.85"/><circle cx="240.7" cy="301.5" r="2.85"/><circle cx="240.6" cy="304" r="2.85"/><circle cx="240.5" cy="306.3" r="2.85"/><circle cx="240.6" cy="308.2" r="2.85"/><circle cx="240.5" cy="310.9" r="2.85"/><circle cx="240.6" cy="311.7" r="2.85"/></g>
<g fill="#eee8aa"><circle cx="245.2" cy="301.3" r="2.85"/><circle cx="245.3" cy="304.4" r="2.85"/><circle cx="245.4" cy="306.5" r="2.85"/><circle cx="245.4" cy="306.7" r="2.85"/></g>
<g fill="#90ee90"><circle cx="246.3" cy="272.3" r="2.85"/><circle cx="246.4" cy="274.5" r="2.85"/><circle cx="246.2" cy="276.3" r="2.85"/><circle cx="246.2" cy="278" r="2.85"/><circle cx="246.3" cy="279.9" r="2.85"/><circle cx="246.3" cy="282.6" r="2.85"/><circle cx="246.2" cy="284.8" r="2.85"/><circle cx="246.2" cy="287.8" r="2.85"/><circle cx="246.2" cy="290.7" r="2.85"/><circle cx="246.4" cy="292.7" r="2.85"/></g>
<g fill="#456c6c"><circle cx="246.5" cy="168.3" r="2.85"/><circle cx="246.4" cy="170.1" r="2.85"/><circle cx="246.5" cy="172.1" r="2.85"/><circle cx="246.5" cy="174.2" r="2.85"/><circle cx="246.6" cy="175.7" r="2.85"/><circle cx="246.5" cy="177.6" r="2.85"/><circle cx="246.5" cy="179" r="2.85"/><circle cx="246.4" cy="180.9" r="2.85"/><circle cx="246.4" cy="182.9" r="2.85"/><circle cx="246.6" cy="184.1" r="2.85"/><circle cx="246.5" cy="185.2" r="2.85"/><circle cx="246.4" cy="186.6" r="2.85"/><circle cx="246.5" cy="188.3" r="2.85"/><circle cx="246.4" cy="189.7" r="2.85"/><circle cx="246.4" cy="190.9" r="2.85"/><circle cx="246.5" cy="192.8" r="2.85"/><circle cx="246.5" cy="194.7" r="2.85"/><circle cx="246.5" cy="196.2" r="2.85"/><circle cx="246.5" cy="197.4" r="2.85"/><circle cx="246.5" cy="197.7" r="2.85"/></g>
<g fill="#afeeee"><circle cx="246.4" cy="169.3" r="2.85"/><circle cx="246.5" cy="171.1" r="2.85"/><circle cx="246.5" cy="173.7" r="2.85"/></g>
<g fill="#afeeee"><circle cx="248.5" cy="181.3" r="2.85"/><circle cx="248.5" cy="183.8" r="2.85"/><circle cx="248.5" cy="186.4" r="2.85"/><circle cx="248.4" cy="187.7" r="2.85"/></g>
<g fill="#90ee90"><circle cx="248.5" cy="193.3" r="2.85"/><circle cx="248.4" cy="195.7" r="2.85"/></g>
<g fill="#3a2226"><circle cx="250.7" cy="198.3" r="2.85"/><circle cx="250.7" cy="199.8" r="2.85"/><circle cx="250.6" cy="202.1" r="2.85"/><circle cx="250.7" cy="203.7" r="2.85"/><circle cx="250.5" cy="203.7" r="2.85"/></g>
<g fill="#e0a0b0"><circle cx="250.6" cy="198.5" r="2.85"/></g>
<g fill="#cd853f"><circle cx="246.9" cy="212.3" r="2.85"/><circle cx="246.9" cy="214.3" r="2.85"/><circle cx="246.9" cy="217.6" r="2.85"/><circle cx="247.1" cy="217.7" r="2.85"/></g>
<g fill="#ffb6c1"><circle cx="251.5" cy="207.3" r="2.85"/><circle cx="251.6" cy="209.2" r="2.85"/><circle cx="251.5" cy="211.8" r="2.85"/><circle cx="251.5" cy="214.6" r="2.85"/><circle cx="251.5" cy="217.1" r="2.85"/><circle cx="251.6" cy="220" r="2.85"/><circle cx="251.4" cy="222" r="2.85"/><circle cx="251.4" cy="223.8" r="2.85"/><circle cx="251.5" cy="225.4" r="2.85"/><circle cx="251.4" cy="228.1" r="2.85"/><circle cx="251.5" cy="229.9" r="2.85"/><circle cx="251.4" cy="232.8" r="2.85"/><circle cx="251.6" cy="235.4" r="2.85"/><circle cx="251.4" cy="237.3" r="2.85"/><circle cx="251.6" cy="240" r="2.85"/><circle cx="251.6" cy="241.8" r="2.85"/><circle cx="251.5" cy="244.1" r="2.85"/><circle cx="251.4" cy="245.9" r="2.85"/><circle cx="251.5" cy="248.6" r="2.85"/><circle cx="251.4" cy="251.4" r="2.85"/><circle cx="251.5" cy="254.3" r="2.85"/><circle cx="251.4" cy="255.9" r="2.85"/><circle cx="251.6" cy="256.7" r="2.85"/></g>
<g fill="#e0a0b0"><circle cx="252" cy="261.3" r="2.85"/><circle cx="251.9" cy="263.7" r="2.85"/></g>
<g fill="#dda0dd"><circle cx="254.5" cy="261.3" r="2.85"/><circle cx="254.3" cy="264" r="2.85"/><circle cx="254.4" cy="265.7" r="2.85"/></g>
<g fill="#2d2d36"><circle cx="251.4" cy="268.3" r="2.85"/><circle cx="251.5" cy="269.7" r="2.85"/><circle cx="251.8" cy="271.6" r="2.85"/><circle cx="251.9" cy="272.8" r="2.85"/><circle cx="252.3" cy="274.5" r="2.85"/><circle cx="252.4" cy="276.6" r="2.85"/><circle cx="252.7" cy="278.4" r="2.85"/><circle cx="252.8" cy="279.6" r="2.85"/><circle cx="253" cy="280.8" r="2.85"/><circle cx="253.1" cy="282" r="2.85"/><circle cx="253.4" cy="283.8" r="2.85"/><circle cx="253.6" cy="285.5" r="2.85"/><circle cx="253.9" cy="287.1" r="2.85"/><circle cx="254.2" cy="288.6" r="2.85"/><circle cx="254.3" cy="290.2" r="2.85"/><circle cx="254.6" cy="291.9" r="2.85"/><circle cx="254.8" cy="293.6" r="2.85"/><circle cx="255.1" cy="295.6" r="2.85"/><circle cx="255.4" cy="297.4" r="2.85"/><circle cx="255.6" cy="299.3" r="2.85"/><circle cx="255.8" cy="301.3" r="2.85"/><circle cx="256" cy="303.2" r="2.85"/><circle cx="256.3" cy="305" r="2.85"/><circle cx="256.4" cy="306.2" r="2.85"/><circle cx="256.6" cy="307.7" r="2.85"/></g>
<g fill="#afeeee"><circle cx="255.7" cy="277.3" r="2.85"/><circle cx="255.7" cy="280.4" r="2.85"/><circle cx="255.7" cy="283.5" r="2.85"/><circle cx="255.6" cy="285.8" r="2.85"/><circle cx="255.5" cy="287.7" r="2.85"/></g>
<g fill="#263434"><circle cx="257.6" cy="277.3" r="2.85"/><circle cx="257.6" cy="279.1" r="2.85"/><circle cx="257.6" cy="280.4" r="2.85"/><circle cx="257.7" cy="282" r="2.85"/><circle cx="257.6" cy="283.4" r="2.85"/><circle cx="257.7" cy="285" r="2.85"/><circle cx="257.6" cy="286.9" r="2.85"/><circle cx="257.7" cy="287.7" r="2.85"/></g>
<g fill="#9a009a"><circle cx="259.7" cy="189.3" r="2.85"/><circle cx="259.7" cy="191" r="2.85"/><circle cx="259.9" cy="192.8" r="2.85"/><circle cx="259.8" cy="194.7" r="2.85"/><circle cx="259.8" cy="197.4" r="2.85"/><circle cx="259.8" cy="199" r="2.85"/><circle cx="259.8" cy="200.9" r="2.85"/><circle cx="259.8" cy="203.4" r="2.85"/><circle cx="259.8" cy="206.2" r="2.85"/><circle cx="259.7" cy="208" r="2.85"/><circle cx="259.7" cy="210.1" r="2.85"/><circle cx="259.7" cy="212.5" r="2.85"/><circle cx="259.8" cy="215" r="2.85"/><circle cx="259.7" cy="217.5" r="2.85"/><circle cx="259.7" cy="220.1" r="2.85"/><circle cx="259.8" cy="221.9" r="2.85"/><circle cx="259.9" cy="223.8" r="2.85"/><circle cx="259.8" cy="225.4" r="2.85"/><circle cx="259.7" cy="226.7" r="2.85"/></g>
<g fill="#304848"><circle cx="259.5" cy="232.3" r="2.85"/><circle cx="259.3" cy="234.2" r="2.85"/><circle cx="259.4" cy="235.4" r="2.85"/><circle cx="259.4" cy="236.7" r="2.85"/><circle cx="259.3" cy="238.1" r="2.85"/><circle cx="259.3" cy="239.6" r="2.85"/><circle cx="259.5" cy="241.4" r="2.85"/><circle cx="259.3" cy="242.9" r="2.85"/><circle cx="259.4" cy="244.7" r="2.85"/><circle cx="259.5" cy="245.9" r="2.85"/><circle cx="259.3" cy="248" r="2.85"/><circle cx="259.3" cy="249.4" r="2.85"/><circle cx="259.3" cy="251.3" r="2.85"/><circle cx="259.4" cy="252.5" r="2.85"/><circle cx="259.4" cy="254.4" r="2.85"/><circle cx="259.4" cy="255.7" r="2.85"/><circle cx="259.4" cy="257.7" r="2.85"/><circle cx="259.5" cy="259.6" r="2.85"/><circle cx="259.3" cy="261.3" r="2.85"/><circle cx="259.4" cy="262.7" r="2.85"/><circle cx="259.5" cy="263.8" r="2.85"/><circle cx="259.3" cy="265.1" r="2.85"/><circle cx="259.3" cy="267.1" r="2.85"/><circle cx="259.4" cy="268.4" r="2.85"/><circle cx="259.3" cy="270.2" r="2.85"/><circle cx="259.4" cy="271.8" r="2.85"/><circle cx="259.5" cy="273.6" r="2.85"/><circle cx="259.3" cy="274.9" r="2.85"/><circle cx="259.3" cy="276.2" r="2.85"/><circle cx="259.4" cy="277.4" r="2.85"/><circle cx="259.3" cy="279.4" r="2.85"/><circle cx="259.3" cy="280.9" r="2.85"/><circle cx="259.4" cy="282.7" r="2.85"/><circle cx="259.3" cy="284.3" r="2.85"/><circle cx="259.3" cy="285.7" r="2.85"/><circle cx="259.4" cy="286.8" r="2.85"/><circle cx="259.4" cy="288" r="2.85"/><circle cx="259.5" cy="289.9" r="2.85"/><circle cx="259.4" cy="291.2" r="2.85"/><circle cx="259.3" cy="293.2" r="2.85"/><circle cx="259.3" cy="294.7" r="2.85"/><circle cx="259.5" cy="296.5" r="2.85"/><circle cx="259.4" cy="297.7" r="2.85"/></g>
<g fill="#afeeee"><circle cx="259.5" cy="238.3" r="2.85"/><circle cx="259.3" cy="241.2" r="2.85"/><circle cx="259.5" cy="243.7" r="2.85"/></g>
<g fill="#bc8f8f"><circle cx="259.3" cy="252.3" r="2.85"/><circle cx="259.5" cy="254.9" r="2.85"/><circle cx="259.3" cy="255.7" r="2.85"/></g>
<g fill="#8b008b"><circle cx="259.7" cy="287.3" r="2.85"/><circle cx="259.8" cy="289.2" r="2.85"/><circle cx="259.8" cy="291.3" r="2.85"/><circle cx="259.7" cy="294.5" r="2.85"/><circle cx="259.8" cy="296.9" r="2.85"/><circle cx="259.8" cy="297.7" r="2.85"/></g>
<g fill="#1e001e"><circle cx="261.8" cy="287.3" r="2.85"/><circle cx="261.9" cy="288.5" r="2.85"/><circle cx="261.8" cy="290.4" r="2.85"/><circle cx="261.7" cy="291.9" r="2.85"/><circle cx="261.8" cy="293.1" r="2.85"/><circle cx="261.8" cy="294.1" r="2.85"/><circle cx="261.8" cy="295.8" r="2.85"/><circle cx="261.7" cy="297.3" r="2.85"/><circle cx="261.9" cy="297.7" r="2.85"/></g>
<g fill="#dda0dd"><circle cx="257.2" cy="305.3" r="2.85"/><circle cx="257.2" cy="308.2" r="2.85"/><circle cx="257.3" cy="310.8" r="2.85"/><circle cx="257.4" cy="313.6" r="2.85"/><circle cx="257.2" cy="315.8" r="2.85"/><circle cx="257.2" cy="317.7" r="2.85"/></g>
<g fill="#4a3a50"><circle cx="257.2" cy="322.3" r="2.85"/><circle cx="257.2" cy="323.5" r="2.85"/><circle cx="257.4" cy="323.7" r="2.85"/></g>
<g fill="#dda0dd"><circle cx="257.4" cy="328.3" r="2.85"/><circle cx="257.2" cy="330.6" r="2.85"/><circle cx="257.3" cy="333.4" r="2.85"/><circle cx="257.3" cy="335.5" r="2.85"/><circle cx="257.4" cy="337.9" r="2.85"/><circle cx="257.3" cy="338.7" r="2.85"/></g>
<g fill="#242445"><circle cx="265.1" cy="177.3" r="2.85"/><circle cx="265.1" cy="179.4" r="2.85"/><circle cx="264.9" cy="181.1" r="2.85"/><circle cx="264.9" cy="182.4" r="2.85"/><circle cx="265.1" cy="184.3" r="2.85"/><circle cx="265" cy="185.7" r="2.85"/><circle cx="264.9" cy="187.7" r="2.85"/><circle cx="265" cy="189.3" r="2.85"/><circle cx="264.9" cy="190.6" r="2.85"/><circle cx="264.9" cy="192.7" r="2.85"/><circle cx="265" cy="194.1" r="2.85"/><circle cx="265" cy="195.6" r="2.85"/><circle cx="265" cy="197.1" r="2.85"/><circle cx="264.9" cy="198.8" r="2.85"/><circle cx="265.1" cy="200" r="2.85"/><circle cx="265" cy="201.4" r="2.85"/><circle cx="265" cy="202.7" r="2.85"/><circle cx="265" cy="204.6" r="2.85"/><circle cx="265.1" cy="205.8" r="2.85"/><circle cx="264.9" cy="207.5" r="2.85"/><circle cx="265" cy="208.8" r="2.85"/><circle cx="265" cy="210.4" r="2.85"/><circle cx="265.1" cy="212" r="2.85"/><circle cx="265" cy="213.8" r="2.85"/><circle cx="264.9" cy="215.1" r="2.85"/><circle cx="265.1" cy="216.4" r="2.85"/><circle cx="265.1" cy="217.7" r="2.85"/><circle cx="264.9" cy="219.7" r="2.85"/><circle cx="265" cy="221" r="2.85"/><circle cx="265.1" cy="222.2" r="2.85"/><circle cx="264.9" cy="223.9" r="2.85"/><circle cx="265" cy="225.5" r="2.85"/><circle cx="265.1" cy="227.5" r="2.85"/><circle cx="265.1" cy="228.7" r="2.85"/><circle cx="264.9" cy="230" r="2.85"/><circle cx="265.1" cy="231.3" r="2.85"/><circle cx="265" cy="233" r="2.85"/><circle cx="265" cy="234.5" r="2.85"/><circle cx="265.1" cy="236.1" r="2.85"/><circle cx="264.9" cy="238" r="2.85"/><circle cx="264.9" cy="239.8" r="2.85"/><circle cx="264.9" cy="241.7" r="2.85"/><circle cx="264.9" cy="243.8" r="2.85"/><circle cx="264.9" cy="245.1" r="2.85"/><circle cx="264.9" cy="247.2" r="2.85"/><circle cx="265" cy="248.7" r="2.85"/><circle cx="265" cy="249.9" r="2.85"/><circle cx="264.9" cy="251.9" r="2.85"/><circle cx="265" cy="253.1" r="2.85"/><circle cx="265.1" cy="254.2" r="2.85"/><circle cx="265" cy="255.6" r="2.85"/><circle cx="265" cy="257" r="2.85"/><circle cx="265" cy="259.1" r="2.85"/><circle cx="265" cy="261" r="2.85"/><circle cx="264.9" cy="262.5" r="2.85"/><circle cx="265" cy="264.2" r="2.85"/><circle cx="264.9" cy="266.1" r="2.85"/><circle cx="265" cy="268" r="2.85"/><circle cx="264.9" cy="269.7" r="2.85"/><circle cx="265" cy="271.3" r="2.85"/><circle cx="265.1" cy="272.6" r="2.85"/><circle cx="265.1" cy="273.9" r="2.85"/><circle cx="265.1" cy="275.7" r="2.85"/><circle cx="265" cy="277.4" r="2.85"/><circle cx="265" cy="277.7" r="2.85"/></g>
<g fill="#4169e1"><circle cx="264.9" cy="226.3" r="2.85"/><circle cx="265.1" cy="229" r="2.85"/><circle cx="265" cy="229.7" r="2.85"/></g>
<g fill="#4169e1"><circle cx="265" cy="257.3" r="2.85"/><circle cx="265.1" cy="259.5" r="2.85"/><circle cx="265.1" cy="259.7" r="2.85"/></g>
<g fill="#e07050"><circle cx="265.9" cy="207.3" r="2.85"/><circle cx="265.9" cy="209.9" r="2.85"/><circle cx="266" cy="212" r="2.85"/><circle cx="265.9" cy="213.8" r="2.85"/><circle cx="265.9" cy="216.3" r="2.85"/><circle cx="265.9" cy="219.1" r="2.85"/><circle cx="266.1" cy="221.3" r="2.85"/><circle cx="266.1" cy="222.7" r="2.85"/></g>
<g fill="#311811"><circle cx="267.9" cy="207.3" r="2.85"/><circle cx="267.9" cy="208.4" r="2.85"/><circle cx="267.9" cy="209.5" r="2.85"/><circle cx="267.9" cy="211.4" r="2.85"/><circle cx="268" cy="213.3" r="2.85"/><circle cx="268" cy="214.5" r="2.85"/><circle cx="267.9" cy="215.9" r="2.85"/><circle cx="268.1" cy="217.4" r="2.85"/><circle cx="268.1" cy="218.7" r="2.85"/><circle cx="268" cy="220.2" r="2.85"/><circle cx="268" cy="221.6" r="2.85"/><circle cx="267.9" cy="222.7" r="2.85"/></g>
<g fill="#bc8f8f"><circle cx="264.3" cy="283.3" r="2.85"/><circle cx="264.4" cy="286.2" r="2.85"/><circle cx="264.5" cy="288.6" r="2.85"/><circle cx="264.5" cy="290.3" r="2.85"/><circle cx="264.3" cy="292.1" r="2.85"/><circle cx="264.3" cy="294.6" r="2.85"/><circle cx="264.4" cy="296.8" r="2.85"/><circle cx="264.4" cy="299.4" r="2.85"/><circle cx="264.3" cy="301.3" r="2.85"/><circle cx="264.3" cy="304" r="2.85"/><circle cx="264.4" cy="306.7" r="2.85"/><circle cx="264.3" cy="308.5" r="2.85"/><circle cx="264.4" cy="309.7" r="2.85"/></g>
<g fill="#4a2408"><circle cx="267.5" cy="141.8" r="2.85"/><circle cx="267.5" cy="143.2" r="2.85"/><circle cx="267.6" cy="143.7" r="2.85"/></g>
<g fill="#b5651d"><circle cx="267.4" cy="148.3" r="2.85"/><circle cx="267.5" cy="149.9" r="2.85"/><circle cx="267.5" cy="152.4" r="2.85"/><circle cx="267.4" cy="154.2" r="2.85"/><circle cx="267.4" cy="156.1" r="2.85"/><circle cx="267.4" cy="158.5" r="2.85"/><circle cx="267.6" cy="161" r="2.85"/><circle cx="267.6" cy="163.3" r="2.85"/><circle cx="267.6" cy="163.7" r="2.85"/></g>
<g fill="#5a2c0a"><circle cx="267.6" cy="168.3" r="2.85"/><circle cx="267.4" cy="170.2" r="2.85"/><circle cx="267.4" cy="172" r="2.85"/><circle cx="267.5" cy="173.3" r="2.85"/><circle cx="267.5" cy="174.6" r="2.85"/><circle cx="267.4" cy="176.3" r="2.85"/><circle cx="267.5" cy="177.4" r="2.85"/><circle cx="267.4" cy="179" r="2.85"/><circle cx="267.5" cy="180.2" r="2.85"/><circle cx="267.5" cy="181.3" r="2.85"/><circle cx="267.6" cy="182.8" r="2.85"/><circle cx="267.6" cy="184" r="2.85"/><circle cx="267.5" cy="185.8" r="2.85"/><circle cx="267.5" cy="187.7" r="2.85"/><circle cx="267.6" cy="189.2" r="2.85"/><circle cx="267.6" cy="190.4" r="2.85"/><circle cx="267.5" cy="191.5" r="2.85"/><circle cx="267.4" cy="193" r="2.85"/><circle cx="267.5" cy="194.6" r="2.85"/><circle cx="267.5" cy="195.9" r="2.85"/><circle cx="267.4" cy="197.6" r="2.85"/><circle cx="267.4" cy="197.7" r="2.85"/></g>
<g fill="#d2691e"><circle cx="268.1" cy="272.3" r="2.85"/><circle cx="268.1" cy="275.3" r="2.85"/><circle cx="268" cy="278.1" r="2.85"/><circle cx="267.9" cy="279.9" r="2.85"/><circle cx="268" cy="282.2" r="2.85"/><circle cx="267.9" cy="284.6" r="2.85"/><circle cx="268.1" cy="286.7" r="2.85"/><circle cx="267.9" cy="287.7" r="2.85"/></g>
<g fill="#f4a460"><circle cx="271" cy="158.3" r="2.85"/><circle cx="271" cy="160.3" r="2.85"/><circle cx="271.2" cy="163" r="2.85"/><circle cx="271.1" cy="164.8" r="2.85"/><circle cx="271.3" cy="166.5" r="2.85"/><circle cx="271.2" cy="168.2" r="2.85"/><circle cx="271.2" cy="170.1" r="2.85"/><circle cx="271.3" cy="172.4" r="2.85"/><circle cx="271.4" cy="175.2" r="2.85"/><circle cx="271.5" cy="177" r="2.85"/><circle cx="271.4" cy="178.9" r="2.85"/><circle cx="271.6" cy="181.5" r="2.85"/><circle cx="271.5" cy="183.7" r="2.85"/><circle cx="271.5" cy="185.8" r="2.85"/><circle cx="271.7" cy="187.6" r="2.85"/><circle cx="271.6" cy="189.5" r="2.85"/><circle cx="271.6" cy="192.5" r="2.85"/><circle cx="271.7" cy="194.3" r="2.85"/><circle cx="271.9" cy="196.2" r="2.85"/><circle cx="271.9" cy="198.9" r="2.85"/><circle cx="271.9" cy="201.7" r="2.85"/><circle cx="271.8" cy="204.6" r="2.85"/><circle cx="272.1" cy="206.8" r="2.85"/><circle cx="272.1" cy="209.7" r="2.85"/><circle cx="272.2" cy="212.2" r="2.85"/><circle cx="272.3" cy="214.2" r="2.85"/><circle cx="272.1" cy="216.5" r="2.85"/><circle cx="272.3" cy="219.1" r="2.85"/><circle cx="272.3" cy="219.7" r="2.85"/></g>
<g fill="#5a3020"><circle cx="272" cy="229.3" r="2.85"/><circle cx="272" cy="230.7" r="2.85"/><circle cx="271.9" cy="232.1" r="2.85"/><circle cx="271.9" cy="232.7" r="2.85"/></g>
<g fill="#fa8072"><circle cx="271.9" cy="237.3" r="2.85"/><circle cx="272.1" cy="240.2" r="2.85"/><circle cx="272.1" cy="242.3" r="2.85"/><circle cx="272.1" cy="244.8" r="2.85"/><circle cx="272.1" cy="247.7" r="2.85"/><circle cx="272.1" cy="249.7" r="2.85"/></g>
<g fill="#2e8b57"><circle cx="272.7" cy="255.3" r="2.85"/><circle cx="272.7" cy="257.9" r="2.85"/><circle cx="272.7" cy="259.8" r="2.85"/><circle cx="272.8" cy="262.2" r="2.85"/><circle cx="272.9" cy="264.2" r="2.85"/><circle cx="273" cy="266.9" r="2.85"/><circle cx="273.1" cy="268.6" r="2.85"/><circle cx="273" cy="270.9" r="2.85"/><circle cx="273.1" cy="272.8" r="2.85"/><circle cx="273.2" cy="275.5" r="2.85"/><circle cx="273.2" cy="277.5" r="2.85"/><circle cx="273.3" cy="280.1" r="2.85"/><circle cx="273.3" cy="282.8" r="2.85"/><circle cx="273.6" cy="285.5" r="2.85"/><circle cx="273.5" cy="287.2" r="2.85"/><circle cx="273.6" cy="290" r="2.85"/><circle cx="273.7" cy="292.5" r="2.85"/><circle cx="273.9" cy="294.9" r="2.85"/><circle cx="273.8" cy="297.3" r="2.85"/><circle cx="273.9" cy="297.7" r="2.85"/></g>
<g fill="#2e9b60"><circle cx="274" cy="301" r="2.85"/></g>
<g fill="#207048"><circle cx="274" cy="305.3" r="2.85"/><circle cx="274.1" cy="307.2" r="2.85"/><circle cx="274" cy="309.5" r="2.85"/><circle cx="274.1" cy="312.1" r="2.85"/><circle cx="274.1" cy="312.7" r="2.85"/></g>
<g fill="#5a3010"><circle cx="274.4" cy="316.5" r="2.85"/></g>
<g fill="#f4a460"><circle cx="274.5" cy="319.3" r="2.85"/><circle cx="274.5" cy="321.3" r="2.85"/><circle cx="274.5" cy="324.2" r="2.85"/><circle cx="274.5" cy="326.6" r="2.85"/><circle cx="274.5" cy="327.7" r="2.85"/></g>
<g fill="#7a3c12"><circle cx="275.8" cy="332.3" r="2.85"/><circle cx="275.7" cy="334.5" r="2.85"/><circle cx="275.8" cy="336.5" r="2.85"/><circle cx="275.8" cy="338" r="2.85"/><circle cx="276" cy="339.6" r="2.85"/><circle cx="275.9" cy="341.3" r="2.85"/><circle cx="276.1" cy="343.6" r="2.85"/><circle cx="276.1" cy="345.6" r="2.85"/><circle cx="276.2" cy="347" r="2.85"/><circle cx="276.2" cy="349.2" r="2.85"/><circle cx="276.4" cy="350.5" r="2.85"/><circle cx="276.5" cy="352.4" r="2.85"/><circle cx="276.4" cy="354.1" r="2.85"/><circle cx="276.6" cy="356.2" r="2.85"/><circle cx="276.5" cy="357.9" r="2.85"/><circle cx="276.7" cy="359.3" r="2.85"/><circle cx="276.7" cy="361.1" r="2.85"/><circle cx="276.8" cy="363.2" r="2.85"/><circle cx="276.9" cy="365.4" r="2.85"/><circle cx="276.8" cy="367" r="2.85"/><circle cx="277" cy="368.5" r="2.85"/><circle cx="276.9" cy="370.6" r="2.85"/><circle cx="276.9" cy="372.7" r="2.85"/><circle cx="277.1" cy="374.2" r="2.85"/><circle cx="277.3" cy="376.4" r="2.85"/><circle cx="277.3" cy="378.7" r="2.85"/><circle cx="277.4" cy="380.5" r="2.85"/><circle cx="277.4" cy="382.1" r="2.85"/><circle cx="277.5" cy="383.7" r="2.85"/></g>
<g fill="#8f481a"><circle cx="275.9" cy="334.3" r="2.85"/><circle cx="276.1" cy="337" r="2.85"/><circle cx="276" cy="339" r="2.85"/><circle cx="276.1" cy="341.8" r="2.85"/><circle cx="276.3" cy="344.9" r="2.85"/><circle cx="276.4" cy="347.4" r="2.85"/><circle cx="276.4" cy="350.2" r="2.85"/><circle cx="276.5" cy="352.4" r="2.85"/><circle cx="276.5" cy="354.6" r="2.85"/><circle cx="276.7" cy="357.1" r="2.85"/><circle cx="276.8" cy="359.7" r="2.85"/><circle cx="276.7" cy="362.3" r="2.85"/><circle cx="277" cy="364.2" r="2.85"/><circle cx="276.9" cy="366.1" r="2.85"/><circle cx="276.9" cy="368.4" r="2.85"/><circle cx="277" cy="371.4" r="2.85"/><circle cx="277.3" cy="374.3" r="2.85"/><circle cx="277.3" cy="376.5" r="2.85"/><circle cx="277.2" cy="378.8" r="2.85"/><circle cx="277.4" cy="381.4" r="2.85"/><circle cx="277.5" cy="381.7" r="2.85"/></g>
<g fill="#c86428"><circle cx="277.5" cy="387" r="2.85"/></g>
<g fill="#383838"><circle cx="277.7" cy="392.3" r="2.85"/><circle cx="277.9" cy="394.2" r="2.85"/><circle cx="277.9" cy="395.6" r="2.85"/><circle cx="277.8" cy="397.3" r="2.85"/><circle cx="278" cy="398.6" r="2.85"/><circle cx="278" cy="399.8" r="2.85"/><circle cx="277.9" cy="401" r="2.85"/><circle cx="278" cy="402.5" r="2.85"/><circle cx="278.1" cy="404.1" r="2.85"/><circle cx="278" cy="405.4" r="2.85"/><circle cx="278" cy="406.6" r="2.85"/><circle cx="278" cy="407.8" r="2.85"/><circle cx="278.1" cy="409" r="2.85"/><circle cx="278.1" cy="410.2" r="2.85"/><circle cx="278.1" cy="411.5" r="2.85"/><circle cx="278.2" cy="413" r="2.85"/><circle cx="278" cy="414.2" r="2.85"/><circle cx="278.1" cy="415.7" r="2.85"/><circle cx="278.2" cy="417.2" r="2.85"/><circle cx="278.2" cy="419.1" r="2.85"/><circle cx="278.2" cy="420.6" r="2.85"/><circle cx="278.3" cy="422.5" r="2.85"/><circle cx="278.2" cy="423.9" r="2.85"/><circle cx="278.4" cy="425.2" r="2.85"/><circle cx="278.3" cy="426.8" r="2.85"/><circle cx="278.3" cy="427.9" r="2.85"/><circle cx="278.2" cy="429.1" r="2.85"/><circle cx="278.2" cy="430.3" r="2.85"/><circle cx="278.4" cy="431.9" r="2.85"/><circle cx="278.4" cy="433.9" r="2.85"/><circle cx="278.3" cy="435.3" r="2.85"/><circle cx="278.4" cy="436.6" r="2.85"/><circle cx="278.4" cy="438.1" r="2.85"/><circle cx="278.4" cy="439.4" r="2.85"/><circle cx="278.4" cy="441.1" r="2.85"/><circle cx="278.6" cy="441.7" r="2.85"/></g>
<g fill="#f0f0f0"><circle cx="277.8" cy="407.3" r="2.85"/><circle cx="277.8" cy="409.7" r="2.85"/><circle cx="277.8" cy="412.3" r="2.85"/><circle cx="277.9" cy="415.6" r="2.85"/><circle cx="277.7" cy="418.4" r="2.85"/><circle cx="277.8" cy="418.7" r="2.85"/></g>
<g fill="#d0d0d0"><circle cx="279.3" cy="431.5" r="2.85"/></g>
<g fill="#243012"><circle cx="337" cy="242.3" r="2.85"/><circle cx="336.9" cy="243.8" r="2.85"/><circle cx="336.9" cy="245.3" r="2.85"/><circle cx="336.9" cy="247.3" r="2.85"/><circle cx="337" cy="248.9" r="2.85"/><circle cx="337.1" cy="250.3" r="2.85"/><circle cx="336.9" cy="251.7" r="2.85"/><circle cx="337" cy="253.6" r="2.85"/><circle cx="337" cy="254.9" r="2.85"/><circle cx="336.9" cy="256.7" r="2.85"/><circle cx="337" cy="257.8" r="2.85"/><circle cx="337.1" cy="259.1" r="2.85"/><circle cx="337" cy="260.3" r="2.85"/><circle cx="337" cy="262.2" r="2.85"/><circle cx="337.1" cy="263.5" r="2.85"/><circle cx="337" cy="264.8" r="2.85"/><circle cx="337" cy="266" r="2.85"/><circle cx="337" cy="267.3" r="2.85"/><circle cx="337.1" cy="269.2" r="2.85"/><circle cx="337.1" cy="271" r="2.85"/><circle cx="337.1" cy="273" r="2.85"/><circle cx="337" cy="275" r="2.85"/><circle cx="336.9" cy="276.7" r="2.85"/><circle cx="336.9" cy="278.7" r="2.85"/><circle cx="337" cy="279.9" r="2.85"/><circle cx="337" cy="281.9" r="2.85"/><circle cx="336.9" cy="283.4" r="2.85"/><circle cx="337.1" cy="284.7" r="2.85"/><circle cx="337.1" cy="286.6" r="2.85"/><circle cx="337" cy="288.5" r="2.85"/><circle cx="336.9" cy="290" r="2.85"/><circle cx="337.1" cy="291.2" r="2.85"/><circle cx="337" cy="293.2" r="2.85"/><circle cx="337" cy="295" r="2.85"/><circle cx="337" cy="296.7" r="2.85"/><circle cx="337.1" cy="298.8" r="2.85"/><circle cx="337" cy="299.9" r="2.85"/><circle cx="337.1" cy="301.1" r="2.85"/><circle cx="337.1" cy="302.3" r="2.85"/><circle cx="337.1" cy="303.5" r="2.85"/><circle cx="337" cy="305.3" r="2.85"/><circle cx="337" cy="307" r="2.85"/><circle cx="337" cy="308.2" r="2.85"/><circle cx="336.9" cy="309.5" r="2.85"/><circle cx="337.1" cy="310.8" r="2.85"/><circle cx="337.1" cy="312.5" r="2.85"/><circle cx="337.1" cy="314.3" r="2.85"/><circle cx="337.1" cy="316.3" r="2.85"/><circle cx="337.1" cy="317.8" r="2.85"/><circle cx="337" cy="319.8" r="2.85"/><circle cx="337" cy="321.4" r="2.85"/><circle cx="337.1" cy="322.9" r="2.85"/><circle cx="336.9" cy="324.2" r="2.85"/><circle cx="337" cy="325.6" r="2.85"/><circle cx="336.9" cy="327.6" r="2.85"/><circle cx="337.1" cy="327.7" r="2.85"/></g>
<g fill="#45152d"><circle cx="340.9" cy="198.3" r="2.85"/><circle cx="341.1" cy="199.9" r="2.85"/><circle cx="341" cy="201.3" r="2.85"/><circle cx="341.1" cy="203.3" r="2.85"/><circle cx="341.1" cy="204.5" r="2.85"/><circle cx="341" cy="206.5" r="2.85"/><circle cx="341" cy="208.3" r="2.85"/><circle cx="341.1" cy="209.6" r="2.85"/><circle cx="341" cy="211.5" r="2.85"/><circle cx="340.9" cy="213.1" r="2.85"/><circle cx="341.1" cy="215.1" r="2.85"/><circle cx="341.1" cy="216.8" r="2.85"/><circle cx="341" cy="218.3" r="2.85"/><circle cx="341.1" cy="220.3" r="2.85"/><circle cx="340.9" cy="221.5" r="2.85"/><circle cx="341" cy="223.4" r="2.85"/><circle cx="341.1" cy="224.6" r="2.85"/><circle cx="341.1" cy="226" r="2.85"/><circle cx="341.1" cy="227.2" r="2.85"/><circle cx="340.9" cy="229.2" r="2.85"/><circle cx="341" cy="230.7" r="2.85"/><circle cx="341" cy="232.6" r="2.85"/><circle cx="341" cy="233.9" r="2.85"/><circle cx="340.9" cy="235.8" r="2.85"/><circle cx="340.9" cy="237.5" r="2.85"/><circle cx="341" cy="238.7" r="2.85"/><circle cx="341" cy="240.3" r="2.85"/><circle cx="340.9" cy="242.1" r="2.85"/><circle cx="341" cy="243.4" r="2.85"/><circle cx="341" cy="245.2" r="2.85"/><circle cx="341.1" cy="246.6" r="2.85"/><circle cx="341" cy="248.1" r="2.85"/><circle cx="340.9" cy="250.1" r="2.85"/><circle cx="341.1" cy="252.1" r="2.85"/><circle cx="341" cy="254.2" r="2.85"/><circle cx="341.1" cy="255.7" r="2.85"/><circle cx="341.1" cy="257.4" r="2.85"/><circle cx="340.9" cy="259.3" r="2.85"/><circle cx="341" cy="261.1" r="2.85"/><circle cx="341.1" cy="262.7" r="2.85"/><circle cx="341" cy="264.6" r="2.85"/><circle cx="341" cy="266.1" r="2.85"/><circle cx="341" cy="268.1" r="2.85"/><circle cx="340.9" cy="269.7" r="2.85"/><circle cx="340.9" cy="271" r="2.85"/><circle cx="340.9" cy="272.8" r="2.85"/><circle cx="340.9" cy="274.1" r="2.85"/><circle cx="341" cy="275.8" r="2.85"/><circle cx="341" cy="277" r="2.85"/><circle cx="341.1" cy="279.1" r="2.85"/><circle cx="341" cy="280.7" r="2.85"/><circle cx="341" cy="282.5" r="2.85"/><circle cx="341.1" cy="283.8" r="2.85"/><circle cx="341" cy="285.5" r="2.85"/><circle cx="341" cy="287" r="2.85"/><circle cx="341.1" cy="288.4" r="2.85"/><circle cx="341" cy="290.3" r="2.85"/><circle cx="341" cy="291.4" r="2.85"/><circle cx="341" cy="293" r="2.85"/><circle cx="341" cy="294.2" r="2.85"/><circle cx="341.1" cy="296.1" r="2.85"/><circle cx="340.9" cy="298.1" r="2.85"/><circle cx="341.1" cy="299.3" r="2.85"/><circle cx="340.9" cy="300.8" r="2.85"/><circle cx="340.9" cy="302.4" r="2.85"/><circle cx="341" cy="304.2" r="2.85"/><circle cx="340.9" cy="306" r="2.85"/><circle cx="341" cy="307.5" r="2.85"/><circle cx="340.9" cy="309.5" r="2.85"/><circle cx="341.1" cy="310.8" r="2.85"/><circle cx="341" cy="312" r="2.85"/><circle cx="341" cy="313.9" r="2.85"/><circle cx="341.1" cy="315.2" r="2.85"/><circle cx="341.1" cy="316.5" r="2.85"/><circle cx="341" cy="318.1" r="2.85"/><circle cx="341.1" cy="319.5" r="2.85"/><circle cx="340.9" cy="320.8" r="2.85"/><circle cx="340.9" cy="322.8" r="2.85"/><circle cx="341" cy="324.4" r="2.85"/><circle cx="341.1" cy="326.3" r="2.85"/><circle cx="341" cy="327.6" r="2.85"/><circle cx="341" cy="327.7" r="2.85"/></g>
<g fill="#2d1545"><circle cx="345" cy="212.3" r="2.85"/><circle cx="345" cy="213.4" r="2.85"/><circle cx="345" cy="214.9" r="2.85"/><circle cx="345" cy="216.9" r="2.85"/><circle cx="345.1" cy="218.6" r="2.85"/><circle cx="344.9" cy="220.5" r="2.85"/><circle cx="344.9" cy="221.7" r="2.85"/><circle cx="345" cy="223" r="2.85"/><circle cx="345" cy="224.3" r="2.85"/><circle cx="345.1" cy="226.2" r="2.85"/><circle cx="345" cy="227.4" r="2.85"/><circle cx="345" cy="229.4" r="2.85"/><circle cx="344.9" cy="230.8" r="2.85"/><circle cx="344.9" cy="232.8" r="2.85"/><circle cx="344.9" cy="234.4" r="2.85"/><circle cx="345.1" cy="235.8" r="2.85"/><circle cx="345" cy="237.9" r="2.85"/><circle cx="344.9" cy="239.4" r="2.85"/><circle cx="345" cy="241.2" r="2.85"/><circle cx="344.9" cy="242.3" r="2.85"/><circle cx="345" cy="244.3" r="2.85"/><circle cx="345" cy="246.3" r="2.85"/><circle cx="344.9" cy="247.5" r="2.85"/><circle cx="345.1" cy="249.4" r="2.85"/><circle cx="345.1" cy="250.8" r="2.85"/><circle cx="345" cy="252" r="2.85"/><circle cx="344.9" cy="253.5" r="2.85"/><circle cx="345" cy="255.2" r="2.85"/><circle cx="345" cy="257.3" r="2.85"/><circle cx="345" cy="259.4" r="2.85"/><circle cx="344.9" cy="261.4" r="2.85"/><circle cx="345.1" cy="263.2" r="2.85"/><circle cx="344.9" cy="264.9" r="2.85"/><circle cx="344.9" cy="266.2" r="2.85"/><circle cx="345" cy="268" r="2.85"/><circle cx="344.9" cy="269.6" r="2.85"/><circle cx="344.9" cy="271.1" r="2.85"/><circle cx="345" cy="273.1" r="2.85"/><circle cx="345.1" cy="274.5" r="2.85"/><circle cx="345" cy="275.7" r="2.85"/><circle cx="344.9" cy="277" r="2.85"/><circle cx="345" cy="278.2" r="2.85"/><circle cx="344.9" cy="279.9" r="2.85"/><circle cx="345" cy="281.8" r="2.85"/><circle cx="345" cy="283.1" r="2.85"/><circle cx="345" cy="284.7" r="2.85"/><circle cx="344.9" cy="286.4" r="2.85"/><circle cx="344.9" cy="288" r="2.85"/><circle cx="345" cy="289.5" r="2.85"/><circle cx="345.1" cy="291.2" r="2.85"/><circle cx="345.1" cy="292.3" r="2.85"/><circle cx="344.9" cy="293.5" r="2.85"/><circle cx="345" cy="295" r="2.85"/><circle cx="345" cy="296.4" r="2.85"/><circle cx="344.9" cy="298.2" r="2.85"/><circle cx="345" cy="299.6" r="2.85"/><circle cx="345" cy="301.5" r="2.85"/><circle cx="345.1" cy="302.8" r="2.85"/><circle cx="345" cy="304" r="2.85"/><circle cx="345.1" cy="305.6" r="2.85"/><circle cx="345.1" cy="307.1" r="2.85"/><circle cx="345" cy="308.5" r="2.85"/><circle cx="344.9" cy="310.4" r="2.85"/><circle cx="345" cy="311.7" r="2.85"/><circle cx="344.9" cy="313.5" r="2.85"/><circle cx="345" cy="315.4" r="2.85"/><circle cx="345" cy="317" r="2.85"/><circle cx="345" cy="318.6" r="2.85"/><circle cx="345.1" cy="320.6" r="2.85"/><circle cx="344.9" cy="322.3" r="2.85"/><circle cx="345.1" cy="323.6" r="2.85"/><circle cx="345.1" cy="324.8" r="2.85"/><circle cx="344.9" cy="326" r="2.85"/><circle cx="345" cy="327.4" r="2.85"/><circle cx="344.9" cy="327.7" r="2.85"/></g>
<g fill="#152d15"><circle cx="353" cy="232.3" r="2.85"/><circle cx="353.1" cy="234" r="2.85"/><circle cx="353.2" cy="235.8" r="2.85"/><circle cx="353.1" cy="237.2" r="2.85"/><circle cx="353.2" cy="239" r="2.85"/><circle cx="353.1" cy="240.5" r="2.85"/><circle cx="353.2" cy="242.3" r="2.85"/><circle cx="353.2" cy="243.7" r="2.85"/><circle cx="353.3" cy="245.8" r="2.85"/><circle cx="353.3" cy="247.3" r="2.85"/><circle cx="353.4" cy="248.4" r="2.85"/><circle cx="353.4" cy="249.6" r="2.85"/><circle cx="353.4" cy="251.4" r="2.85"/><circle cx="353.4" cy="253.4" r="2.85"/><circle cx="353.6" cy="255.1" r="2.85"/><circle cx="353.6" cy="256.4" r="2.85"/><circle cx="353.6" cy="258.4" r="2.85"/><circle cx="353.6" cy="260.2" r="2.85"/><circle cx="353.7" cy="261.4" r="2.85"/><circle cx="353.6" cy="262.9" r="2.85"/><circle cx="353.6" cy="264.6" r="2.85"/><circle cx="353.7" cy="265.8" r="2.85"/><circle cx="353.6" cy="266.9" r="2.85"/><circle cx="353.9" cy="268.4" r="2.85"/><circle cx="353.8" cy="270.3" r="2.85"/><circle cx="353.9" cy="272.4" r="2.85"/><circle cx="354" cy="273.8" r="2.85"/><circle cx="354" cy="275.8" r="2.85"/><circle cx="353.9" cy="277.7" r="2.85"/><circle cx="354" cy="279.7" r="2.85"/><circle cx="353.9" cy="281.3" r="2.85"/><circle cx="354.1" cy="283.4" r="2.85"/><circle cx="354.2" cy="285.1" r="2.85"/><circle cx="354.1" cy="287.2" r="2.85"/><circle cx="354.1" cy="288.8" r="2.85"/><circle cx="354.1" cy="290.1" r="2.85"/><circle cx="354.2" cy="291.8" r="2.85"/><circle cx="354.3" cy="293.3" r="2.85"/><circle cx="354.4" cy="294.8" r="2.85"/><circle cx="354.4" cy="296.3" r="2.85"/><circle cx="354.4" cy="297.9" r="2.85"/><circle cx="354.4" cy="299.6" r="2.85"/><circle cx="354.4" cy="300.9" r="2.85"/><circle cx="354.4" cy="302.3" r="2.85"/><circle cx="354.6" cy="303.9" r="2.85"/><circle cx="354.4" cy="305.5" r="2.85"/><circle cx="354.5" cy="307" r="2.85"/><circle cx="354.5" cy="308.8" r="2.85"/><circle cx="354.7" cy="310.1" r="2.85"/><circle cx="354.7" cy="311.7" r="2.85"/><circle cx="354.6" cy="313.1" r="2.85"/><circle cx="354.8" cy="314.9" r="2.85"/><circle cx="354.8" cy="316.7" r="2.85"/><circle cx="354.8" cy="318.6" r="2.85"/><circle cx="354.7" cy="320.2" r="2.85"/><circle cx="354.9" cy="321.6" r="2.85"/><circle cx="354.8" cy="323.6" r="2.85"/><circle cx="354.8" cy="325.2" r="2.85"/><circle cx="355" cy="326.7" r="2.85"/><circle cx="354.9" cy="327.7" r="2.85"/></g>
<g fill="#18391e"><circle cx="363.1" cy="234.3" r="2.85"/><circle cx="362.9" cy="235.8" r="2.85"/><circle cx="362.9" cy="237.5" r="2.85"/><circle cx="363.1" cy="238.9" r="2.85"/><circle cx="363" cy="240" r="2.85"/><circle cx="363.1" cy="241.5" r="2.85"/><circle cx="362.9" cy="243" r="2.85"/><circle cx="363" cy="244.1" r="2.85"/><circle cx="362.9" cy="245.6" r="2.85"/><circle cx="362.9" cy="247.4" r="2.85"/><circle cx="362.9" cy="248.9" r="2.85"/><circle cx="362.9" cy="250.6" r="2.85"/><circle cx="363" cy="252.4" r="2.85"/><circle cx="363" cy="253.7" r="2.85"/><circle cx="363" cy="254.8" r="2.85"/><circle cx="362.9" cy="256.6" r="2.85"/><circle cx="363" cy="258.3" r="2.85"/><circle cx="363" cy="259.7" r="2.85"/><circle cx="363.1" cy="261" r="2.85"/><circle cx="362.9" cy="262.9" r="2.85"/><circle cx="363" cy="264.9" r="2.85"/><circle cx="363" cy="266.3" r="2.85"/><circle cx="363" cy="268" r="2.85"/><circle cx="363.1" cy="269.6" r="2.85"/><circle cx="362.9" cy="271.1" r="2.85"/><circle cx="363.1" cy="272.2" r="2.85"/><circle cx="363" cy="273.6" r="2.85"/><circle cx="363" cy="275.4" r="2.85"/><circle cx="363" cy="277.1" r="2.85"/><circle cx="363" cy="278.7" r="2.85"/><circle cx="362.9" cy="279.9" r="2.85"/><circle cx="362.9" cy="281.3" r="2.85"/><circle cx="363.1" cy="282.7" r="2.85"/><circle cx="363" cy="284.2" r="2.85"/><circle cx="362.9" cy="285.7" r="2.85"/><circle cx="363" cy="287.6" r="2.85"/><circle cx="363" cy="288.9" r="2.85"/><circle cx="363" cy="290.9" r="2.85"/><circle cx="363" cy="292.3" r="2.85"/><circle cx="363.1" cy="294.2" r="2.85"/><circle cx="363" cy="295.6" r="2.85"/><circle cx="363" cy="297.3" r="2.85"/><circle cx="363.1" cy="298.8" r="2.85"/><circle cx="363" cy="299.9" r="2.85"/><circle cx="363" cy="301.8" r="2.85"/><circle cx="362.9" cy="303.7" r="2.85"/><circle cx="363" cy="305.1" r="2.85"/><circle cx="363" cy="306.9" r="2.85"/><circle cx="363" cy="308.5" r="2.85"/><circle cx="363" cy="310.6" r="2.85"/><circle cx="362.9" cy="311.8" r="2.85"/><circle cx="363.1" cy="313.2" r="2.85"/><circle cx="363" cy="314.6" r="2.85"/><circle cx="363.1" cy="316.3" r="2.85"/><circle cx="363" cy="318.2" r="2.85"/><circle cx="363.1" cy="320.1" r="2.85"/><circle cx="362.9" cy="321.7" r="2.85"/><circle cx="362.9" cy="322.7" r="2.85"/></g>
<g fill="#363636"><circle cx="365.9" cy="227.3" r="2.85"/><circle cx="366" cy="229.3" r="2.85"/><circle cx="366" cy="231.1" r="2.85"/><circle cx="366" cy="232.9" r="2.85"/><circle cx="365.9" cy="234.5" r="2.85"/><circle cx="366" cy="236.1" r="2.85"/><circle cx="366" cy="237.4" r="2.85"/><circle cx="365.9" cy="238.7" r="2.85"/><circle cx="366" cy="240.4" r="2.85"/><circle cx="366" cy="242.2" r="2.85"/><circle cx="366" cy="243.5" r="2.85"/><circle cx="366" cy="245.3" r="2.85"/><circle cx="366.1" cy="246.5" r="2.85"/><circle cx="366" cy="247.7" r="2.85"/></g>
<g fill="#45271b"><circle cx="369.1" cy="302.3" r="2.85"/><circle cx="369" cy="303.6" r="2.85"/><circle cx="369" cy="305.2" r="2.85"/><circle cx="369.2" cy="307.1" r="2.85"/><circle cx="369.1" cy="308.8" r="2.85"/><circle cx="369.2" cy="310.6" r="2.85"/><circle cx="369.3" cy="312.1" r="2.85"/><circle cx="369.1" cy="313.6" r="2.85"/><circle cx="369.3" cy="315.7" r="2.85"/><circle cx="369.2" cy="317.6" r="2.85"/><circle cx="369.2" cy="319.3" r="2.85"/><circle cx="369.2" cy="320.6" r="2.85"/><circle cx="369.4" cy="322.3" r="2.85"/><circle cx="369.3" cy="323.4" r="2.85"/><circle cx="369.4" cy="325.4" r="2.85"/><circle cx="369.4" cy="327.5" r="2.85"/><circle cx="369.3" cy="329.3" r="2.85"/><circle cx="369.5" cy="330.7" r="2.85"/><circle cx="369.5" cy="332.6" r="2.85"/><circle cx="369.6" cy="333.9" r="2.85"/><circle cx="369.5" cy="335.8" r="2.85"/><circle cx="369.5" cy="337.4" r="2.85"/><circle cx="369.5" cy="338.6" r="2.85"/><circle cx="369.7" cy="340.5" r="2.85"/><circle cx="369.7" cy="342.1" r="2.85"/><circle cx="369.6" cy="344" r="2.85"/><circle cx="369.7" cy="345.8" r="2.85"/><circle cx="369.6" cy="347.4" r="2.85"/><circle cx="369.8" cy="349.4" r="2.85"/><circle cx="369.8" cy="350.7" r="2.85"/><circle cx="369.8" cy="352.7" r="2.85"/><circle cx="369.9" cy="354.1" r="2.85"/><circle cx="369.8" cy="355.3" r="2.85"/><circle cx="369.9" cy="356.7" r="2.85"/><circle cx="369.8" cy="357.9" r="2.85"/><circle cx="370" cy="359.1" r="2.85"/><circle cx="369.8" cy="360.8" r="2.85"/><circle cx="369.9" cy="362" r="2.85"/><circle cx="370" cy="363.3" r="2.85"/><circle cx="370" cy="364.7" r="2.85"/><circle cx="370" cy="366.1" r="2.85"/><circle cx="370" cy="368.1" r="2.85"/><circle cx="370" cy="370.1" r="2.85"/><circle cx="370.1" cy="372" r="2.85"/><circle cx="370" cy="374.1" r="2.85"/><circle cx="370.2" cy="375.6" r="2.85"/><circle cx="370.1" cy="377.5" r="2.85"/><circle cx="370.3" cy="378.9" r="2.85"/><circle cx="370.2" cy="380.9" r="2.85"/><circle cx="370.3" cy="382.8" r="2.85"/><circle cx="370.3" cy="384.6" r="2.85"/><circle cx="370.2" cy="386" r="2.85"/><circle cx="370.4" cy="387.2" r="2.85"/><circle cx="370.3" cy="389.2" r="2.85"/><circle cx="370.4" cy="390.9" r="2.85"/><circle cx="370.5" cy="392.6" r="2.85"/><circle cx="370.5" cy="394.5" r="2.85"/><circle cx="370.5" cy="395.8" r="2.85"/><circle cx="370.4" cy="397.6" r="2.85"/><circle cx="370.5" cy="397.7" r="2.85"/></g>
<g fill="#18301e"><circle cx="384.2" cy="264.3" r="2.85"/><circle cx="384" cy="266.3" r="2.85"/><circle cx="384.1" cy="267.6" r="2.85"/><circle cx="384.1" cy="268.9" r="2.85"/><circle cx="384.2" cy="270.4" r="2.85"/><circle cx="384.2" cy="272" r="2.85"/><circle cx="384.3" cy="273.2" r="2.85"/><circle cx="384.3" cy="274.6" r="2.85"/><circle cx="384.4" cy="276.5" r="2.85"/><circle cx="384.5" cy="278" r="2.85"/><circle cx="384.5" cy="279.3" r="2.85"/><circle cx="384.6" cy="280.6" r="2.85"/><circle cx="384.6" cy="282.3" r="2.85"/><circle cx="384.5" cy="283.6" r="2.85"/><circle cx="384.6" cy="285.1" r="2.85"/><circle cx="384.6" cy="286.8" r="2.85"/><circle cx="384.7" cy="288.3" r="2.85"/><circle cx="384.7" cy="289.9" r="2.85"/><circle cx="384.9" cy="291.8" r="2.85"/><circle cx="385" cy="293" r="2.85"/><circle cx="385.1" cy="295" r="2.85"/><circle cx="384.9" cy="296.3" r="2.85"/><circle cx="384.9" cy="297.5" r="2.85"/><circle cx="385.2" cy="299.3" r="2.85"/><circle cx="385.1" cy="301" r="2.85"/><circle cx="385.3" cy="302.6" r="2.85"/><circle cx="385.2" cy="303.9" r="2.85"/><circle cx="385.2" cy="305.8" r="2.85"/><circle cx="385.2" cy="307.2" r="2.85"/><circle cx="385.5" cy="309" r="2.85"/><circle cx="385.4" cy="310.4" r="2.85"/><circle cx="385.5" cy="312.1" r="2.85"/><circle cx="385.5" cy="313.8" r="2.85"/><circle cx="385.6" cy="315.3" r="2.85"/><circle cx="385.7" cy="316.9" r="2.85"/><circle cx="385.6" cy="318" r="2.85"/><circle cx="385.6" cy="319.8" r="2.85"/><circle cx="385.7" cy="321.6" r="2.85"/><circle cx="385.9" cy="322.8" r="2.85"/><circle cx="385.8" cy="324.5" r="2.85"/><circle cx="385.9" cy="326.3" r="2.85"/><circle cx="385.9" cy="327.5" r="2.85"/><circle cx="385.9" cy="327.7" r="2.85"/></g>
<g fill="#1b1b4e"><circle cx="396" cy="247.3" r="2.85"/><circle cx="396.1" cy="249" r="2.85"/><circle cx="396.1" cy="250.3" r="2.85"/><circle cx="396.1" cy="252" r="2.85"/><circle cx="396.2" cy="253.9" r="2.85"/><circle cx="396.1" cy="255.1" r="2.85"/><circle cx="396" cy="256.6" r="2.85"/><circle cx="396" cy="258.6" r="2.85"/><circle cx="396.2" cy="260.6" r="2.85"/><circle cx="396.3" cy="261.8" r="2.85"/><circle cx="396.1" cy="263.5" r="2.85"/><circle cx="396.2" cy="265.2" r="2.85"/><circle cx="396.3" cy="267.1" r="2.85"/><circle cx="396.2" cy="268.7" r="2.85"/><circle cx="396.2" cy="270" r="2.85"/><circle cx="396.3" cy="271.4" r="2.85"/><circle cx="396.3" cy="273.2" r="2.85"/><circle cx="396.5" cy="275" r="2.85"/><circle cx="396.5" cy="276.3" r="2.85"/><circle cx="396.3" cy="278" r="2.85"/><circle cx="396.4" cy="279.8" r="2.85"/><circle cx="396.4" cy="281.5" r="2.85"/><circle cx="396.3" cy="282.7" r="2.85"/><circle cx="396.4" cy="284.2" r="2.85"/><circle cx="396.6" cy="285.7" r="2.85"/><circle cx="396.5" cy="287.4" r="2.85"/><circle cx="396.5" cy="288.8" r="2.85"/><circle cx="396.6" cy="290" r="2.85"/><circle cx="396.4" cy="291.8" r="2.85"/><circle cx="396.7" cy="293.2" r="2.85"/><circle cx="396.5" cy="295.1" r="2.85"/><circle cx="396.6" cy="296.5" r="2.85"/><circle cx="396.7" cy="298.1" r="2.85"/><circle cx="396.5" cy="300" r="2.85"/><circle cx="396.6" cy="301.3" r="2.85"/><circle cx="396.6" cy="303.1" r="2.85"/><circle cx="396.7" cy="304.3" r="2.85"/><circle cx="396.6" cy="306.3" r="2.85"/><circle cx="396.7" cy="307.4" r="2.85"/><circle cx="396.7" cy="309.2" r="2.85"/><circle cx="396.7" cy="310.7" r="2.85"/><circle cx="396.7" cy="312" r="2.85"/><circle cx="396.7" cy="313.5" r="2.85"/><circle cx="396.8" cy="315.1" r="2.85"/><circle cx="396.8" cy="316.6" r="2.85"/><circle cx="396.9" cy="317.9" r="2.85"/><circle cx="396.9" cy="319.5" r="2.85"/><circle cx="396.8" cy="320.9" r="2.85"/><circle cx="396.9" cy="322.9" r="2.85"/><circle cx="397" cy="324.4" r="2.85"/><circle cx="396.8" cy="326" r="2.85"/><circle cx="397" cy="327.3" r="2.85"/><circle cx="396.9" cy="327.7" r="2.85"/></g>
<g fill="#15452a"><circle cx="401" cy="282.3" r="2.85"/><circle cx="401.1" cy="284.3" r="2.85"/><circle cx="401" cy="285.8" r="2.85"/><circle cx="400.9" cy="287.5" r="2.85"/><circle cx="401.1" cy="289.5" r="2.85"/><circle cx="400.9" cy="290.7" r="2.85"/><circle cx="400.9" cy="291.9" r="2.85"/><circle cx="401" cy="293.7" r="2.85"/><circle cx="400.9" cy="295.3" r="2.85"/><circle cx="401" cy="297.2" r="2.85"/><circle cx="401.1" cy="298.5" r="2.85"/><circle cx="400.9" cy="300.1" r="2.85"/><circle cx="401" cy="301.4" r="2.85"/><circle cx="400.9" cy="303" r="2.85"/><circle cx="401" cy="304.4" r="2.85"/><circle cx="401" cy="306.1" r="2.85"/><circle cx="401" cy="307.5" r="2.85"/><circle cx="400.9" cy="308.8" r="2.85"/><circle cx="400.9" cy="310.6" r="2.85"/><circle cx="401.1" cy="311.8" r="2.85"/><circle cx="401" cy="313.7" r="2.85"/><circle cx="401" cy="315.3" r="2.85"/><circle cx="401" cy="316.6" r="2.85"/><circle cx="401" cy="317.8" r="2.85"/><circle cx="401.1" cy="319.4" r="2.85"/><circle cx="401" cy="321.1" r="2.85"/><circle cx="401" cy="322.9" r="2.85"/><circle cx="401" cy="324.3" r="2.85"/><circle cx="401" cy="325.9" r="2.85"/><circle cx="400.9" cy="327.8" r="2.85"/><circle cx="401.1" cy="329.2" r="2.85"/><circle cx="401.1" cy="331.3" r="2.85"/><circle cx="401.1" cy="333.3" r="2.85"/><circle cx="401.1" cy="335.3" r="2.85"/><circle cx="401" cy="337.4" r="2.85"/><circle cx="401.1" cy="338.7" r="2.85"/><circle cx="400.9" cy="340.6" r="2.85"/><circle cx="401.1" cy="342.3" r="2.85"/><circle cx="401.1" cy="343.6" r="2.85"/><circle cx="401.1" cy="343.7" r="2.85"/></g>
<g fill="#5d3018"><circle cx="418.1" cy="263.3" r="2.85"/><circle cx="418" cy="265.2" r="2.85"/><circle cx="418" cy="267.2" r="2.85"/><circle cx="418.1" cy="268.6" r="2.85"/><circle cx="418.1" cy="270.4" r="2.85"/><circle cx="418" cy="272" r="2.85"/><circle cx="418" cy="273.4" r="2.85"/><circle cx="418.1" cy="274.9" r="2.85"/><circle cx="418" cy="276.8" r="2.85"/><circle cx="417.9" cy="278.7" r="2.85"/><circle cx="418" cy="280.7" r="2.85"/><circle cx="418" cy="282.4" r="2.85"/><circle cx="418.1" cy="283.7" r="2.85"/><circle cx="418" cy="285" r="2.85"/><circle cx="418" cy="286.6" r="2.85"/><circle cx="418.1" cy="288" r="2.85"/><circle cx="418.1" cy="289.4" r="2.85"/><circle cx="418" cy="290.6" r="2.85"/><circle cx="418" cy="291.9" r="2.85"/><circle cx="418.1" cy="293.7" r="2.85"/><circle cx="418" cy="295" r="2.85"/><circle cx="417.9" cy="297" r="2.85"/><circle cx="418" cy="298.4" r="2.85"/><circle cx="418.1" cy="300.3" r="2.85"/><circle cx="417.9" cy="301.7" r="2.85"/><circle cx="418" cy="303.1" r="2.85"/><circle cx="418.1" cy="304.6" r="2.85"/><circle cx="417.9" cy="305.8" r="2.85"/><circle cx="417.9" cy="307.3" r="2.85"/><circle cx="418" cy="308.8" r="2.85"/><circle cx="418" cy="309.9" r="2.85"/><circle cx="418.1" cy="311.9" r="2.85"/><circle cx="418.1" cy="313.3" r="2.85"/><circle cx="418" cy="314.5" r="2.85"/><circle cx="418.1" cy="316.5" r="2.85"/><circle cx="418" cy="317.8" r="2.85"/><circle cx="417.9" cy="319.2" r="2.85"/><circle cx="418.1" cy="320.3" r="2.85"/><circle cx="417.9" cy="321.6" r="2.85"/><circle cx="417.9" cy="323.4" r="2.85"/><circle cx="418" cy="325" r="2.85"/><circle cx="417.9" cy="326.6" r="2.85"/><circle cx="418" cy="328" r="2.85"/><circle cx="418" cy="329.4" r="2.85"/><circle cx="418.1" cy="331.4" r="2.85"/><circle cx="418" cy="332.9" r="2.85"/><circle cx="418.1" cy="335" r="2.85"/><circle cx="418.1" cy="337" r="2.85"/><circle cx="418" cy="338.2" r="2.85"/><circle cx="417.9" cy="340.1" r="2.85"/><circle cx="418" cy="341.3" r="2.85"/><circle cx="418" cy="343.1" r="2.85"/><circle cx="418" cy="345" r="2.85"/><circle cx="418" cy="346.8" r="2.85"/><circle cx="418" cy="348.4" r="2.85"/><circle cx="418" cy="350.3" r="2.85"/><circle cx="418" cy="351.6" r="2.85"/><circle cx="418.1" cy="353.2" r="2.85"/><circle cx="417.9" cy="354.6" r="2.85"/><circle cx="418" cy="356.1" r="2.85"/><circle cx="417.9" cy="357.4" r="2.85"/><circle cx="417.9" cy="359.2" r="2.85"/><circle cx="417.9" cy="360.7" r="2.85"/></g>
<g fill="#181854"><circle cx="422.1" cy="292.3" r="2.85"/><circle cx="422" cy="293.8" r="2.85"/><circle cx="422.1" cy="295.7" r="2.85"/><circle cx="422.1" cy="297.5" r="2.85"/><circle cx="422.1" cy="299.6" r="2.85"/><circle cx="422.3" cy="301.5" r="2.85"/><circle cx="422.3" cy="303.2" r="2.85"/><circle cx="422.2" cy="304.9" r="2.85"/><circle cx="422.3" cy="306" r="2.85"/><circle cx="422.4" cy="307.5" r="2.85"/><circle cx="422.4" cy="308.9" r="2.85"/><circle cx="422.5" cy="310.6" r="2.85"/><circle cx="422.4" cy="311.8" r="2.85"/><circle cx="422.5" cy="313.4" r="2.85"/><circle cx="422.3" cy="314.9" r="2.85"/><circle cx="422.5" cy="316.5" r="2.85"/><circle cx="422.5" cy="318" r="2.85"/><circle cx="422.6" cy="319.2" r="2.85"/><circle cx="422.7" cy="321" r="2.85"/><circle cx="422.6" cy="322.9" r="2.85"/><circle cx="422.6" cy="324.6" r="2.85"/><circle cx="422.7" cy="325.8" r="2.85"/><circle cx="422.7" cy="327.5" r="2.85"/><circle cx="422.8" cy="329.5" r="2.85"/><circle cx="422.9" cy="331.6" r="2.85"/><circle cx="422.7" cy="333.4" r="2.85"/><circle cx="422.8" cy="334.6" r="2.85"/><circle cx="422.9" cy="336.5" r="2.85"/><circle cx="422.8" cy="338.3" r="2.85"/><circle cx="423" cy="339.7" r="2.85"/><circle cx="422.8" cy="341.7" r="2.85"/><circle cx="423" cy="342.7" r="2.85"/></g>
<g fill="#1e2a36"><circle cx="375.3" cy="257.3" r="2.85"/><circle cx="375.1" cy="259.2" r="2.85"/><circle cx="375.2" cy="260.5" r="2.85"/><circle cx="375.1" cy="262" r="2.85"/><circle cx="375.1" cy="263.4" r="2.85"/><circle cx="375.2" cy="265.2" r="2.85"/><circle cx="375.2" cy="266.8" r="2.85"/><circle cx="375.2" cy="268.5" r="2.85"/><circle cx="375.1" cy="269.9" r="2.85"/><circle cx="375.3" cy="271.6" r="2.85"/><circle cx="375.2" cy="273.6" r="2.85"/><circle cx="375.1" cy="275.5" r="2.85"/><circle cx="375.3" cy="277.5" r="2.85"/><circle cx="375.3" cy="278.9" r="2.85"/><circle cx="375.1" cy="280.5" r="2.85"/><circle cx="375.3" cy="282" r="2.85"/><circle cx="375.3" cy="283.5" r="2.85"/><circle cx="375.1" cy="285.3" r="2.85"/><circle cx="375.1" cy="286.6" r="2.85"/><circle cx="375.3" cy="288.3" r="2.85"/><circle cx="375.3" cy="290.2" r="2.85"/><circle cx="375.1" cy="292.2" r="2.85"/><circle cx="375.3" cy="293.3" r="2.85"/><circle cx="375.3" cy="294.7" r="2.85"/><circle cx="375.2" cy="296.3" r="2.85"/><circle cx="375.3" cy="298.3" r="2.85"/><circle cx="375.3" cy="299.6" r="2.85"/><circle cx="375.2" cy="301.5" r="2.85"/><circle cx="375.3" cy="303" r="2.85"/><circle cx="375.3" cy="303.7" r="2.85"/></g>
<g fill="#243024"><circle cx="358.1" cy="284.3" r="2.85"/><circle cx="358.1" cy="285.7" r="2.85"/><circle cx="357.9" cy="287.5" r="2.85"/><circle cx="358" cy="289.3" r="2.85"/><circle cx="358" cy="291.2" r="2.85"/><circle cx="357.9" cy="292.9" r="2.85"/><circle cx="358.1" cy="294.3" r="2.85"/><circle cx="358.1" cy="295.6" r="2.85"/><circle cx="358" cy="297.3" r="2.85"/><circle cx="357.9" cy="297.7" r="2.85"/></g>
<g fill="#2d1212"><circle cx="388.5" cy="264.3" r="2.85"/><circle cx="388.4" cy="265.7" r="2.85"/><circle cx="388.4" cy="267.6" r="2.85"/><circle cx="388.5" cy="269.1" r="2.85"/><circle cx="388.6" cy="271" r="2.85"/><circle cx="388.5" cy="272.3" r="2.85"/><circle cx="388.5" cy="273.5" r="2.85"/><circle cx="388.4" cy="275" r="2.85"/><circle cx="388.5" cy="276.9" r="2.85"/><circle cx="388.4" cy="278.2" r="2.85"/><circle cx="388.6" cy="279.4" r="2.85"/><circle cx="388.6" cy="281.2" r="2.85"/><circle cx="388.6" cy="281.7" r="2.85"/></g>
<g fill="#4a1414"><circle cx="342.4" cy="109.8" r="2.85"/><circle cx="342.5" cy="111.4" r="2.85"/><circle cx="342.5" cy="111.7" r="2.85"/></g>
<g fill="#e86a6a"><circle cx="342.5" cy="117.3" r="2.85"/><circle cx="342.6" cy="119.3" r="2.85"/><circle cx="342.4" cy="121.9" r="2.85"/><circle cx="342.5" cy="123.8" r="2.85"/><circle cx="342.6" cy="125.9" r="2.85"/><circle cx="342.5" cy="127.9" r="2.85"/><circle cx="342.5" cy="130.7" r="2.85"/><circle cx="342.6" cy="133.2" r="2.85"/><circle cx="342.6" cy="135.5" r="2.85"/><circle cx="342.5" cy="137.6" r="2.85"/><circle cx="342.4" cy="140.5" r="2.85"/><circle cx="342.5" cy="143.4" r="2.85"/><circle cx="342.6" cy="145.6" r="2.85"/><circle cx="342.6" cy="148" r="2.85"/><circle cx="342.5" cy="150.8" r="2.85"/><circle cx="342.5" cy="152.8" r="2.85"/><circle cx="342.5" cy="154.7" r="2.85"/><circle cx="342.4" cy="155.7" r="2.85"/></g>
<g fill="#ff69b4"><circle cx="340.1" cy="198.3" r="2.85"/><circle cx="339.9" cy="200.5" r="2.85"/><circle cx="340.1" cy="202.8" r="2.85"/><circle cx="340" cy="205.7" r="2.85"/><circle cx="340" cy="208.5" r="2.85"/><circle cx="339.9" cy="211.4" r="2.85"/><circle cx="340.1" cy="213.7" r="2.85"/><circle cx="340.1" cy="216.6" r="2.85"/><circle cx="339.9" cy="218.4" r="2.85"/><circle cx="340.1" cy="221.3" r="2.85"/><circle cx="339.9" cy="223.8" r="2.85"/><circle cx="340" cy="226.6" r="2.85"/><circle cx="340" cy="228.8" r="2.85"/><circle cx="340" cy="231.8" r="2.85"/><circle cx="340.1" cy="233.4" r="2.85"/><circle cx="340.1" cy="236.2" r="2.85"/><circle cx="340" cy="238.9" r="2.85"/><circle cx="340" cy="240.7" r="2.85"/></g>
<g fill="#c85a5a"><circle cx="342.9" cy="160.3" r="2.85"/><circle cx="342.9" cy="162.2" r="2.85"/><circle cx="343" cy="164.1" r="2.85"/><circle cx="343" cy="166.6" r="2.85"/><circle cx="342.9" cy="169.2" r="2.85"/><circle cx="343.1" cy="171.6" r="2.85"/><circle cx="343" cy="174.9" r="2.85"/><circle cx="342.9" cy="177.2" r="2.85"/><circle cx="342.8" cy="179.5" r="2.85"/><circle cx="343" cy="181.9" r="2.85"/><circle cx="343" cy="183.9" r="2.85"/><circle cx="342.9" cy="187.1" r="2.85"/><circle cx="342.8" cy="189.7" r="2.85"/><circle cx="342.9" cy="192.3" r="2.85"/><circle cx="342.8" cy="194.6" r="2.85"/><circle cx="343" cy="196.8" r="2.85"/><circle cx="342.9" cy="199" r="2.85"/><circle cx="342.8" cy="201.5" r="2.85"/><circle cx="342.9" cy="203.9" r="2.85"/><circle cx="342.8" cy="207.1" r="2.85"/><circle cx="342.8" cy="209.7" r="2.85"/><circle cx="342.8" cy="211.8" r="2.85"/><circle cx="342.9" cy="213.6" r="2.85"/><circle cx="342.8" cy="215.6" r="2.85"/><circle cx="342.9" cy="217.9" r="2.85"/><circle cx="342.8" cy="220.8" r="2.85"/><circle cx="342.9" cy="223.9" r="2.85"/><circle cx="342.9" cy="226" r="2.85"/><circle cx="342.9" cy="228.9" r="2.85"/><circle cx="342.8" cy="231.3" r="2.85"/><circle cx="342.8" cy="233.9" r="2.85"/><circle cx="342.7" cy="235.7" r="2.85"/></g>
<g fill="#4a4420"><circle cx="347.8" cy="161.5" r="2.85"/></g>
<g fill="#f0e68c"><circle cx="347.5" cy="166.3" r="2.85"/><circle cx="347.7" cy="169.4" r="2.85"/><circle cx="347.4" cy="172" r="2.85"/><circle cx="347.5" cy="174.5" r="2.85"/><circle cx="347.5" cy="177.1" r="2.85"/><circle cx="347.6" cy="178.9" r="2.85"/><circle cx="347.5" cy="181.1" r="2.85"/><circle cx="347.4" cy="183.1" r="2.85"/><circle cx="347.5" cy="186" r="2.85"/><circle cx="347.5" cy="187.7" r="2.85"/><circle cx="347.5" cy="190" r="2.85"/><circle cx="347.4" cy="192.9" r="2.85"/><circle cx="347.3" cy="195.7" r="2.85"/><circle cx="347.5" cy="198.4" r="2.85"/><circle cx="347.3" cy="200.6" r="2.85"/><circle cx="347.4" cy="202.6" r="2.85"/><circle cx="347.2" cy="205.3" r="2.85"/><circle cx="347.3" cy="207.4" r="2.85"/><circle cx="347.4" cy="210.1" r="2.85"/><circle cx="347.4" cy="212.3" r="2.85"/><circle cx="347.3" cy="215.1" r="2.85"/><circle cx="347.3" cy="217.6" r="2.85"/><circle cx="347.3" cy="220.4" r="2.85"/><circle cx="347.3" cy="223.5" r="2.85"/><circle cx="347.2" cy="225.7" r="2.85"/><circle cx="347.2" cy="227.7" r="2.85"/></g>
<g fill="#7fff00"><circle cx="355.4" cy="156.3" r="2.85"/><circle cx="355.2" cy="158.7" r="2.85"/><circle cx="355.2" cy="161.4" r="2.85"/><circle cx="355" cy="163.2" r="2.85"/><circle cx="355" cy="165.3" r="2.85"/><circle cx="354.9" cy="167.4" r="2.85"/><circle cx="354.9" cy="169.1" r="2.85"/><circle cx="354.8" cy="171.2" r="2.85"/><circle cx="354.9" cy="173.8" r="2.85"/><circle cx="354.8" cy="176.2" r="2.85"/><circle cx="354.6" cy="177.7" r="2.85"/></g>
<g fill="#7fff00"><circle cx="352.8" cy="192.3" r="2.85"/><circle cx="352.7" cy="195.2" r="2.85"/><circle cx="352.8" cy="198" r="2.85"/><circle cx="352.9" cy="200.6" r="2.85"/><circle cx="352.7" cy="202.7" r="2.85"/><circle cx="352.9" cy="205.9" r="2.85"/><circle cx="352.8" cy="209.1" r="2.85"/><circle cx="352.7" cy="210.8" r="2.85"/><circle cx="352.9" cy="212.7" r="2.85"/></g>
<g fill="#1b3800"><circle cx="354.9" cy="192.3" r="2.85"/><circle cx="354.8" cy="193.6" r="2.85"/><circle cx="354.8" cy="194.8" r="2.85"/><circle cx="354.8" cy="196" r="2.85"/><circle cx="354.7" cy="197.4" r="2.85"/><circle cx="354.9" cy="198.5" r="2.85"/><circle cx="354.8" cy="199.7" r="2.85"/><circle cx="354.7" cy="201" r="2.85"/><circle cx="354.9" cy="202.6" r="2.85"/><circle cx="354.9" cy="204" r="2.85"/><circle cx="354.7" cy="205.4" r="2.85"/><circle cx="354.8" cy="206.9" r="2.85"/><circle cx="354.7" cy="208.6" r="2.85"/><circle cx="354.8" cy="210.3" r="2.85"/><circle cx="354.9" cy="211.7" r="2.85"/><circle cx="354.8" cy="212.7" r="2.85"/></g>
<g fill="#9acd32"><circle cx="337" cy="241.3" r="2.85"/><circle cx="337" cy="243.8" r="2.85"/><circle cx="337.1" cy="246.5" r="2.85"/><circle cx="336.9" cy="247.7" r="2.85"/></g>
<g fill="#212d0b"><circle cx="339" cy="241.3" r="2.85"/><circle cx="338.9" cy="243" r="2.85"/><circle cx="339.1" cy="244.1" r="2.85"/><circle cx="338.9" cy="245.4" r="2.85"/><circle cx="339" cy="246.5" r="2.85"/><circle cx="339.1" cy="247.7" r="2.85"/></g>
<g fill="#9acd32"><circle cx="336.9" cy="252.3" r="2.85"/><circle cx="337.1" cy="254.2" r="2.85"/><circle cx="337" cy="256.3" r="2.85"/><circle cx="337.1" cy="259.2" r="2.85"/><circle cx="337" cy="261.7" r="2.85"/><circle cx="337.1" cy="264.8" r="2.85"/><circle cx="337" cy="267.1" r="2.85"/><circle cx="337" cy="269.4" r="2.85"/><circle cx="336.9" cy="272.6" r="2.85"/><circle cx="337" cy="274.9" r="2.85"/><circle cx="336.9" cy="278.1" r="2.85"/><circle cx="337.1" cy="281.2" r="2.85"/><circle cx="337" cy="283.2" r="2.85"/><circle cx="337" cy="285.8" r="2.85"/><circle cx="337.1" cy="288.9" r="2.85"/><circle cx="337.1" cy="290.9" r="2.85"/><circle cx="337.1" cy="293.9" r="2.85"/><circle cx="336.9" cy="296.8" r="2.85"/><circle cx="337" cy="299.7" r="2.85"/><circle cx="337.1" cy="302.3" r="2.85"/><circle cx="337" cy="304.2" r="2.85"/><circle cx="336.9" cy="307.4" r="2.85"/><circle cx="337.1" cy="309.3" r="2.85"/><circle cx="337" cy="312.2" r="2.85"/><circle cx="337" cy="315.1" r="2.85"/><circle cx="337.1" cy="317.3" r="2.85"/><circle cx="336.9" cy="320.1" r="2.85"/><circle cx="336.9" cy="322.4" r="2.85"/><circle cx="337.1" cy="322.7" r="2.85"/></g>
<g fill="#212d0b"><circle cx="339" cy="252.3" r="2.85"/><circle cx="339.1" cy="253.6" r="2.85"/><circle cx="339" cy="254.7" r="2.85"/><circle cx="339.1" cy="255.9" r="2.85"/><circle cx="339.1" cy="257.8" r="2.85"/><circle cx="339" cy="259.5" r="2.85"/><circle cx="339.1" cy="260.8" r="2.85"/><circle cx="338.9" cy="261.9" r="2.85"/><circle cx="339" cy="263.8" r="2.85"/><circle cx="339" cy="265.4" r="2.85"/><circle cx="339.1" cy="267" r="2.85"/><circle cx="338.9" cy="268.2" r="2.85"/><circle cx="339" cy="269.6" r="2.85"/><circle cx="339.1" cy="271.5" r="2.85"/><circle cx="339.1" cy="272.6" r="2.85"/><circle cx="339.1" cy="274" r="2.85"/><circle cx="338.9" cy="275.1" r="2.85"/><circle cx="338.9" cy="277" r="2.85"/><circle cx="338.9" cy="278.2" r="2.85"/><circle cx="339.1" cy="280.1" r="2.85"/><circle cx="339.1" cy="281.9" r="2.85"/><circle cx="339" cy="283.6" r="2.85"/><circle cx="339.1" cy="284.7" r="2.85"/><circle cx="339" cy="286.4" r="2.85"/><circle cx="339" cy="287.9" r="2.85"/><circle cx="339.1" cy="289.4" r="2.85"/><circle cx="339" cy="290.5" r="2.85"/><circle cx="339" cy="292" r="2.85"/><circle cx="339" cy="293.8" r="2.85"/><circle cx="339" cy="295" r="2.85"/><circle cx="339.1" cy="296.8" r="2.85"/><circle cx="339" cy="298.3" r="2.85"/><circle cx="338.9" cy="299.5" r="2.85"/><circle cx="339" cy="300.8" r="2.85"/><circle cx="339" cy="302.3" r="2.85"/><circle cx="339" cy="303.9" r="2.85"/><circle cx="339" cy="305.5" r="2.85"/><circle cx="339" cy="307.3" r="2.85"/><circle cx="339" cy="308.8" r="2.85"/><circle cx="339" cy="310.3" r="2.85"/><circle cx="339" cy="312.3" r="2.85"/><circle cx="339.1" cy="313.5" r="2.85"/><circle cx="338.9" cy="314.6" r="2.85"/><circle cx="338.9" cy="315.9" r="2.85"/><circle cx="339.1" cy="317.3" r="2.85"/><circle cx="339" cy="318.4" r="2.85"/><circle cx="339" cy="319.9" r="2.85"/><circle cx="339" cy="320.9" r="2.85"/><circle cx="339" cy="322.7" r="2.85"/></g>
<g fill="#e060a8"><circle cx="340.9" cy="252.3" r="2.85"/><circle cx="341.1" cy="254.4" r="2.85"/><circle cx="341" cy="256.2" r="2.85"/><circle cx="341" cy="259.2" r="2.85"/><circle cx="341.1" cy="262.4" r="2.85"/><circle cx="341.1" cy="264.6" r="2.85"/><circle cx="341" cy="267" r="2.85"/><circle cx="340.9" cy="269.3" r="2.85"/><circle cx="341" cy="271.1" r="2.85"/><circle cx="341" cy="274.2" r="2.85"/><circle cx="340.9" cy="277.2" r="2.85"/><circle cx="341.1" cy="279.3" r="2.85"/><circle cx="341.1" cy="281.4" r="2.85"/><circle cx="340.9" cy="284.2" r="2.85"/><circle cx="340.9" cy="287.2" r="2.85"/><circle cx="341" cy="289.6" r="2.85"/><circle cx="341" cy="292" r="2.85"/><circle cx="341" cy="294.1" r="2.85"/><circle cx="341" cy="297" r="2.85"/><circle cx="341.1" cy="300.1" r="2.85"/><circle cx="340.9" cy="303.1" r="2.85"/><circle cx="341.1" cy="305" r="2.85"/><circle cx="341" cy="307.7" r="2.85"/><circle cx="341.1" cy="310.9" r="2.85"/><circle cx="341.1" cy="313.7" r="2.85"/><circle cx="341" cy="316.1" r="2.85"/><circle cx="341" cy="318.1" r="2.85"/><circle cx="340.9" cy="320" r="2.85"/><circle cx="341" cy="322.7" r="2.85"/></g>
<g fill="#311524"><circle cx="343" cy="252.3" r="2.85"/><circle cx="342.9" cy="253.9" r="2.85"/><circle cx="343.1" cy="255.5" r="2.85"/><circle cx="343" cy="256.9" r="2.85"/><circle cx="342.9" cy="258" r="2.85"/><circle cx="342.9" cy="259.1" r="2.85"/><circle cx="342.9" cy="260.7" r="2.85"/><circle cx="343.1" cy="261.9" r="2.85"/><circle cx="343" cy="263.2" r="2.85"/><circle cx="343" cy="264.8" r="2.85"/><circle cx="342.9" cy="266.7" r="2.85"/><circle cx="342.9" cy="268.2" r="2.85"/><circle cx="342.9" cy="269.5" r="2.85"/><circle cx="343" cy="271.1" r="2.85"/><circle cx="343.1" cy="272.4" r="2.85"/><circle cx="343.1" cy="274.1" r="2.85"/><circle cx="343" cy="275.3" r="2.85"/><circle cx="343.1" cy="276.6" r="2.85"/><circle cx="343" cy="278" r="2.85"/><circle cx="342.9" cy="279.9" r="2.85"/><circle cx="342.9" cy="281.1" r="2.85"/><circle cx="342.9" cy="282.3" r="2.85"/><circle cx="342.9" cy="283.5" r="2.85"/><circle cx="343" cy="284.7" r="2.85"/><circle cx="343.1" cy="286.1" r="2.85"/><circle cx="343" cy="287.5" r="2.85"/><circle cx="343" cy="289.2" r="2.85"/><circle cx="342.9" cy="290.6" r="2.85"/><circle cx="343.1" cy="292.1" r="2.85"/><circle cx="343.1" cy="293.5" r="2.85"/><circle cx="343" cy="295.3" r="2.85"/><circle cx="342.9" cy="297.1" r="2.85"/><circle cx="343.1" cy="298.6" r="2.85"/><circle cx="342.9" cy="300.4" r="2.85"/><circle cx="343.1" cy="301.7" r="2.85"/><circle cx="342.9" cy="303.6" r="2.85"/><circle cx="343" cy="305.2" r="2.85"/><circle cx="343" cy="306.8" r="2.85"/><circle cx="343.1" cy="308.2" r="2.85"/><circle cx="343" cy="309.5" r="2.85"/><circle cx="342.9" cy="310.7" r="2.85"/><circle cx="342.9" cy="312.5" r="2.85"/><circle cx="343.1" cy="313.9" r="2.85"/><circle cx="343.1" cy="315.6" r="2.85"/><circle cx="343" cy="317.1" r="2.85"/><circle cx="343" cy="318.6" r="2.85"/><circle cx="342.9" cy="319.8" r="2.85"/><circle cx="342.9" cy="321" r="2.85"/><circle cx="342.9" cy="322.4" r="2.85"/><circle cx="343.1" cy="322.7" r="2.85"/></g>
<g fill="#9400d3"><circle cx="344.9" cy="267.3" r="2.85"/><circle cx="345" cy="269.1" r="2.85"/><circle cx="345" cy="271.8" r="2.85"/><circle cx="345" cy="274.1" r="2.85"/><circle cx="345.1" cy="276.1" r="2.85"/><circle cx="345.1" cy="278.5" r="2.85"/><circle cx="345" cy="281.6" r="2.85"/><circle cx="344.9" cy="283.8" r="2.85"/><circle cx="345.1" cy="285.8" r="2.85"/><circle cx="344.9" cy="288.5" r="2.85"/><circle cx="345" cy="291.2" r="2.85"/><circle cx="344.9" cy="293.7" r="2.85"/><circle cx="345" cy="295.7" r="2.85"/><circle cx="345.1" cy="298.8" r="2.85"/><circle cx="344.9" cy="300.7" r="2.85"/><circle cx="345" cy="302.7" r="2.85"/></g>
<g fill="#20002e"><circle cx="347" cy="267.3" r="2.85"/><circle cx="347.1" cy="269.1" r="2.85"/><circle cx="347" cy="270.8" r="2.85"/><circle cx="346.9" cy="271.9" r="2.85"/><circle cx="346.9" cy="273.6" r="2.85"/><circle cx="346.9" cy="275.4" r="2.85"/><circle cx="347.1" cy="276.8" r="2.85"/><circle cx="347" cy="278" r="2.85"/><circle cx="347" cy="279.6" r="2.85"/><circle cx="347" cy="281" r="2.85"/><circle cx="346.9" cy="282.1" r="2.85"/><circle cx="347" cy="283.3" r="2.85"/><circle cx="347.1" cy="284.7" r="2.85"/><circle cx="347.1" cy="285.9" r="2.85"/><circle cx="347.1" cy="287.3" r="2.85"/><circle cx="347" cy="288.8" r="2.85"/><circle cx="346.9" cy="290.4" r="2.85"/><circle cx="347.1" cy="291.8" r="2.85"/><circle cx="347" cy="293.6" r="2.85"/><circle cx="347" cy="294.7" r="2.85"/><circle cx="347" cy="296" r="2.85"/><circle cx="346.9" cy="297.9" r="2.85"/><circle cx="347.1" cy="299.8" r="2.85"/><circle cx="347" cy="301.6" r="2.85"/><circle cx="347.1" cy="302.7" r="2.85"/></g>
<g fill="#e07070"><circle cx="343.8" cy="297.3" r="2.85"/><circle cx="343.7" cy="299.6" r="2.85"/><circle cx="343.9" cy="301.8" r="2.85"/><circle cx="343.9" cy="304.3" r="2.85"/><circle cx="343.8" cy="307.2" r="2.85"/><circle cx="343.7" cy="310.3" r="2.85"/><circle cx="343.7" cy="312.5" r="2.85"/><circle cx="343.9" cy="315.3" r="2.85"/><circle cx="343.7" cy="317.7" r="2.85"/><circle cx="343.9" cy="320.7" r="2.85"/><circle cx="343.8" cy="323.6" r="2.85"/><circle cx="343.8" cy="323.7" r="2.85"/></g>
<g fill="#311818"><circle cx="345.7" cy="297.3" r="2.85"/><circle cx="345.8" cy="298.8" r="2.85"/><circle cx="345.9" cy="300.3" r="2.85"/><circle cx="345.9" cy="301.8" r="2.85"/><circle cx="345.8" cy="302.9" r="2.85"/><circle cx="345.8" cy="304.8" r="2.85"/><circle cx="345.7" cy="306" r="2.85"/><circle cx="345.9" cy="307.1" r="2.85"/><circle cx="345.9" cy="308.8" r="2.85"/><circle cx="345.8" cy="310.4" r="2.85"/><circle cx="345.8" cy="312.2" r="2.85"/><circle cx="345.9" cy="313.9" r="2.85"/><circle cx="345.8" cy="315.8" r="2.85"/><circle cx="345.9" cy="316.8" r="2.85"/><circle cx="345.8" cy="317.9" r="2.85"/><circle cx="345.9" cy="319.2" r="2.85"/><circle cx="345.8" cy="320.9" r="2.85"/><circle cx="345.8" cy="322.1" r="2.85"/><circle cx="345.8" cy="323.6" r="2.85"/><circle cx="345.9" cy="323.7" r="2.85"/></g>
<g fill="#585858"><circle cx="350.6" cy="181.3" r="2.85"/><circle cx="350.5" cy="183.2" r="2.85"/><circle cx="350.6" cy="185.7" r="2.85"/><circle cx="350.7" cy="187" r="2.85"/><circle cx="350.7" cy="189.3" r="2.85"/><circle cx="350.7" cy="191.5" r="2.85"/><circle cx="350.5" cy="193.4" r="2.85"/><circle cx="350.5" cy="195.7" r="2.85"/><circle cx="350.5" cy="197.2" r="2.85"/><circle cx="350.5" cy="198.9" r="2.85"/><circle cx="350.5" cy="201" r="2.85"/><circle cx="350.6" cy="203.3" r="2.85"/><circle cx="350.6" cy="205.1" r="2.85"/><circle cx="350.6" cy="207.5" r="2.85"/><circle cx="350.6" cy="209.6" r="2.85"/><circle cx="350.6" cy="211" r="2.85"/><circle cx="350.6" cy="212.4" r="2.85"/><circle cx="350.7" cy="213.9" r="2.85"/><circle cx="350.6" cy="215.8" r="2.85"/><circle cx="350.7" cy="217.5" r="2.85"/><circle cx="350.6" cy="219.2" r="2.85"/><circle cx="350.6" cy="221" r="2.85"/><circle cx="350.5" cy="222.4" r="2.85"/><circle cx="350.5" cy="224.8" r="2.85"/><circle cx="350.6" cy="227.1" r="2.85"/><circle cx="350.6" cy="229" r="2.85"/><circle cx="350.5" cy="230.9" r="2.85"/><circle cx="350.7" cy="232.6" r="2.85"/><circle cx="350.7" cy="234.6" r="2.85"/><circle cx="350.7" cy="236.3" r="2.85"/><circle cx="350.7" cy="238.7" r="2.85"/><circle cx="350.6" cy="241.2" r="2.85"/><circle cx="350.5" cy="243.3" r="2.85"/><circle cx="350.5" cy="245.6" r="2.85"/><circle cx="350.7" cy="247" r="2.85"/><circle cx="350.7" cy="247.7" r="2.85"/></g>
<g fill="#ffffff"><circle cx="350.6" cy="182.3" r="2.85"/><circle cx="350.6" cy="184.3" r="2.85"/><circle cx="350.5" cy="186.1" r="2.85"/><circle cx="350.7" cy="187.7" r="2.85"/></g>
<g fill="#ffffff"><circle cx="350.6" cy="206" r="2.85"/></g>
<g fill="#ffffff"><circle cx="350.6" cy="236" r="2.85"/></g>
<g fill="#ffffff"><circle cx="350.6" cy="247.5" r="2.85"/></g>
<g fill="#add8e6"><circle cx="357.3" cy="181.3" r="2.85"/><circle cx="357.4" cy="183.4" r="2.85"/><circle cx="357.2" cy="186.2" r="2.85"/><circle cx="357.3" cy="188.3" r="2.85"/><circle cx="357.4" cy="190.3" r="2.85"/><circle cx="357.4" cy="192.2" r="2.85"/><circle cx="357.4" cy="193.7" r="2.85"/></g>
<g fill="#add8e6"><circle cx="355.7" cy="198.3" r="2.85"/><circle cx="355.8" cy="200.2" r="2.85"/><circle cx="355.7" cy="202.5" r="2.85"/><circle cx="355.7" cy="205.8" r="2.85"/><circle cx="355.8" cy="208.3" r="2.85"/><circle cx="355.8" cy="211.5" r="2.85"/><circle cx="355.7" cy="213.6" r="2.85"/><circle cx="355.6" cy="215.4" r="2.85"/><circle cx="355.7" cy="217.7" r="2.85"/></g>
<g fill="#262f32"><circle cx="357.7" cy="198.3" r="2.85"/><circle cx="357.7" cy="199.4" r="2.85"/><circle cx="357.9" cy="200.8" r="2.85"/><circle cx="357.8" cy="202.7" r="2.85"/><circle cx="357.7" cy="204" r="2.85"/><circle cx="357.8" cy="205.4" r="2.85"/><circle cx="357.8" cy="206.9" r="2.85"/><circle cx="357.8" cy="208.2" r="2.85"/><circle cx="357.7" cy="209.9" r="2.85"/><circle cx="357.6" cy="211.5" r="2.85"/><circle cx="357.7" cy="212.6" r="2.85"/><circle cx="357.8" cy="214.5" r="2.85"/><circle cx="357.7" cy="215.6" r="2.85"/><circle cx="357.7" cy="217.3" r="2.85"/><circle cx="357.7" cy="217.7" r="2.85"/></g>
<g fill="#f08080"><circle cx="360.6" cy="196.3" r="2.85"/><circle cx="360.7" cy="197.7" r="2.85"/></g>
<g fill="#4a2018"><circle cx="360.6" cy="201.5" r="2.85"/></g>
<g fill="#f08080"><circle cx="360.5" cy="205.3" r="2.85"/><circle cx="360.6" cy="207.3" r="2.85"/><circle cx="360.6" cy="210.2" r="2.85"/><circle cx="360.6" cy="211.9" r="2.85"/><circle cx="360.5" cy="214.4" r="2.85"/><circle cx="360.5" cy="216.9" r="2.85"/><circle cx="360.7" cy="218.8" r="2.85"/><circle cx="360.5" cy="221.8" r="2.85"/><circle cx="360.5" cy="223.7" r="2.85"/></g>
<g fill="#4a2018"><circle cx="360.5" cy="228.3" r="2.85"/><circle cx="360.6" cy="230.1" r="2.85"/><circle cx="360.5" cy="231.9" r="2.85"/><circle cx="360.6" cy="233.7" r="2.85"/><circle cx="360.7" cy="235" r="2.85"/><circle cx="360.5" cy="236" r="2.85"/><circle cx="360.5" cy="237.7" r="2.85"/><circle cx="360.6" cy="239.3" r="2.85"/><circle cx="360.5" cy="239.7" r="2.85"/></g>
<g fill="#ffb6c1"><circle cx="369.3" cy="185.3" r="2.85"/><circle cx="369.3" cy="187.2" r="2.85"/><circle cx="369.4" cy="189.4" r="2.85"/><circle cx="369.4" cy="192.4" r="2.85"/><circle cx="369.5" cy="194.5" r="2.85"/><circle cx="369.3" cy="196.5" r="2.85"/><circle cx="369.5" cy="198.8" r="2.85"/><circle cx="369.4" cy="200.6" r="2.85"/><circle cx="369.4" cy="202.8" r="2.85"/><circle cx="369.3" cy="205.3" r="2.85"/><circle cx="369.4" cy="207.4" r="2.85"/><circle cx="369.5" cy="207.7" r="2.85"/></g>
<g fill="#4a1a22"><circle cx="369.5" cy="212.3" r="2.85"/><circle cx="369.5" cy="213.8" r="2.85"/><circle cx="369.4" cy="215.3" r="2.85"/><circle cx="369.4" cy="216.9" r="2.85"/><circle cx="369.3" cy="218.5" r="2.85"/><circle cx="369.4" cy="219.9" r="2.85"/><circle cx="369.5" cy="221.2" r="2.85"/><circle cx="369.3" cy="222.6" r="2.85"/><circle cx="369.4" cy="223.7" r="2.85"/></g>
<g fill="#fffacd"><circle cx="359.9" cy="242.3" r="2.85"/><circle cx="360.1" cy="245.5" r="2.85"/><circle cx="360" cy="247.9" r="2.85"/><circle cx="360.1" cy="251" r="2.85"/><circle cx="360.2" cy="253.4" r="2.85"/><circle cx="360.1" cy="256.2" r="2.85"/><circle cx="360.3" cy="259.2" r="2.85"/><circle cx="360.2" cy="261.3" r="2.85"/><circle cx="360.4" cy="263.6" r="2.85"/><circle cx="360.3" cy="266.8" r="2.85"/><circle cx="360.4" cy="268.6" r="2.85"/><circle cx="360.4" cy="270.8" r="2.85"/><circle cx="360.4" cy="273.3" r="2.85"/><circle cx="360.5" cy="276.2" r="2.85"/><circle cx="360.4" cy="278.9" r="2.85"/><circle cx="360.5" cy="282" r="2.85"/><circle cx="360.5" cy="284.8" r="2.85"/><circle cx="360.7" cy="286.5" r="2.85"/><circle cx="360.6" cy="286.7" r="2.85"/></g>
<g fill="#38372d"><circle cx="362.1" cy="242.3" r="2.85"/><circle cx="361.9" cy="243.4" r="2.85"/><circle cx="362" cy="244.7" r="2.85"/><circle cx="362" cy="246.3" r="2.85"/><circle cx="362.2" cy="248.1" r="2.85"/><circle cx="362.2" cy="249.2" r="2.85"/><circle cx="362.2" cy="251" r="2.85"/><circle cx="362.2" cy="252.4" r="2.85"/><circle cx="362.1" cy="253.9" r="2.85"/><circle cx="362.1" cy="255.3" r="2.85"/><circle cx="362.1" cy="256.8" r="2.85"/><circle cx="362.3" cy="258.7" r="2.85"/><circle cx="362.3" cy="260.6" r="2.85"/><circle cx="362.3" cy="262.5" r="2.85"/><circle cx="362.2" cy="264.2" r="2.85"/><circle cx="362.4" cy="265.9" r="2.85"/><circle cx="362.2" cy="267" r="2.85"/><circle cx="362.3" cy="268.1" r="2.85"/><circle cx="362.2" cy="269.9" r="2.85"/><circle cx="362.5" cy="271.6" r="2.85"/><circle cx="362.4" cy="273.2" r="2.85"/><circle cx="362.5" cy="274.5" r="2.85"/><circle cx="362.5" cy="275.8" r="2.85"/><circle cx="362.5" cy="277.7" r="2.85"/><circle cx="362.6" cy="279.2" r="2.85"/><circle cx="362.6" cy="280.3" r="2.85"/><circle cx="362.6" cy="281.6" r="2.85"/><circle cx="362.6" cy="283" r="2.85"/><circle cx="362.4" cy="284.1" r="2.85"/><circle cx="362.6" cy="286.1" r="2.85"/><circle cx="362.5" cy="286.7" r="2.85"/></g>
<g fill="#90ee90"><circle cx="362.5" cy="252.3" r="2.85"/><circle cx="362.6" cy="254.5" r="2.85"/><circle cx="362.5" cy="256.8" r="2.85"/><circle cx="362.5" cy="260" r="2.85"/><circle cx="362.6" cy="261.9" r="2.85"/><circle cx="362.5" cy="264.3" r="2.85"/><circle cx="362.6" cy="266.2" r="2.85"/><circle cx="362.5" cy="269.5" r="2.85"/><circle cx="362.6" cy="272" r="2.85"/><circle cx="362.6" cy="272.7" r="2.85"/></g>
<g fill="#1f341f"><circle cx="364.4" cy="252.3" r="2.85"/><circle cx="364.5" cy="253.9" r="2.85"/><circle cx="364.5" cy="255.3" r="2.85"/><circle cx="364.4" cy="256.8" r="2.85"/><circle cx="364.4" cy="258" r="2.85"/><circle cx="364.6" cy="259.1" r="2.85"/><circle cx="364.5" cy="260.4" r="2.85"/><circle cx="364.6" cy="261.6" r="2.85"/><circle cx="364.4" cy="262.7" r="2.85"/><circle cx="364.4" cy="264.4" r="2.85"/><circle cx="364.5" cy="266.1" r="2.85"/><circle cx="364.4" cy="267.7" r="2.85"/><circle cx="364.5" cy="268.9" r="2.85"/><circle cx="364.5" cy="270.6" r="2.85"/><circle cx="364.5" cy="272.4" r="2.85"/><circle cx="364.6" cy="272.7" r="2.85"/></g>
<g fill="#e6e6fa"><circle cx="350.1" cy="252.3" r="2.85"/><circle cx="350.1" cy="254.7" r="2.85"/><circle cx="349.9" cy="257.2" r="2.85"/><circle cx="349.9" cy="259.6" r="2.85"/><circle cx="349.9" cy="262.3" r="2.85"/><circle cx="350" cy="264.4" r="2.85"/><circle cx="349.9" cy="265.7" r="2.85"/></g>
<g fill="#555555"><circle cx="350" cy="270" r="2.85"/></g>
<g fill="#e6e6fa"><circle cx="349.9" cy="274.3" r="2.85"/><circle cx="349.9" cy="275.9" r="2.85"/><circle cx="350" cy="276.7" r="2.85"/></g>
<g fill="#e6e6fa"><circle cx="354" cy="270.3" r="2.85"/><circle cx="353.9" cy="272.2" r="2.85"/><circle cx="354.1" cy="273.8" r="2.85"/><circle cx="354.1" cy="275.8" r="2.85"/><circle cx="354" cy="277.7" r="2.85"/><circle cx="353.9" cy="279.8" r="2.85"/><circle cx="353.9" cy="282" r="2.85"/><circle cx="354.1" cy="283.7" r="2.85"/></g>
<g fill="#f0e68c"><circle cx="350" cy="286.3" r="2.85"/><circle cx="350" cy="288.7" r="2.85"/><circle cx="349.9" cy="290.8" r="2.85"/><circle cx="350" cy="293.8" r="2.85"/><circle cx="350" cy="296.9" r="2.85"/><circle cx="350" cy="297.7" r="2.85"/></g>
<g fill="#34321e"><circle cx="351.9" cy="286.3" r="2.85"/><circle cx="352.1" cy="287.9" r="2.85"/><circle cx="351.9" cy="289.5" r="2.85"/><circle cx="352" cy="290.9" r="2.85"/><circle cx="351.9" cy="292" r="2.85"/><circle cx="352.1" cy="293.1" r="2.85"/><circle cx="352.1" cy="294.9" r="2.85"/><circle cx="352.1" cy="296.7" r="2.85"/><circle cx="352" cy="297.7" r="2.85"/></g>
<g fill="#4a4420"><circle cx="349.9" cy="302.3" r="2.85"/><circle cx="350" cy="304.3" r="2.85"/><circle cx="349.9" cy="305.7" r="2.85"/><circle cx="350.1" cy="307.4" r="2.85"/><circle cx="349.9" cy="307.7" r="2.85"/></g>
<g fill="#f0e68c"><circle cx="350" cy="312.3" r="2.85"/><circle cx="349.8" cy="314.3" r="2.85"/><circle cx="349.8" cy="316.4" r="2.85"/><circle cx="349.7" cy="319.1" r="2.85"/><circle cx="349.6" cy="321.8" r="2.85"/><circle cx="349.6" cy="324.4" r="2.85"/><circle cx="349.7" cy="327.4" r="2.85"/><circle cx="349.5" cy="330.3" r="2.85"/><circle cx="349.4" cy="331.7" r="2.85"/></g>
<g fill="#34321e"><circle cx="351.9" cy="312.3" r="2.85"/><circle cx="351.9" cy="313.5" r="2.85"/><circle cx="351.9" cy="315.1" r="2.85"/><circle cx="351.9" cy="316.7" r="2.85"/><circle cx="351.9" cy="317.7" r="2.85"/><circle cx="351.8" cy="318.9" r="2.85"/><circle cx="351.7" cy="320.4" r="2.85"/><circle cx="351.8" cy="322" r="2.85"/><circle cx="351.7" cy="323.1" r="2.85"/><circle cx="351.7" cy="324.9" r="2.85"/><circle cx="351.7" cy="326.1" r="2.85"/><circle cx="351.6" cy="327.7" r="2.85"/><circle cx="351.5" cy="329.3" r="2.85"/><circle cx="351.5" cy="330.6" r="2.85"/><circle cx="351.4" cy="331.7" r="2.85"/></g>
<g fill="#f0e68c"><circle cx="349.3" cy="335.3" r="2.85"/><circle cx="349.5" cy="337.6" r="2.85"/><circle cx="349.4" cy="340.7" r="2.85"/></g>
<g fill="#e6e6fa"><circle cx="352.5" cy="330.5" r="2.85"/></g>
<g fill="#add8e6"><circle cx="357.1" cy="257.3" r="2.85"/><circle cx="357.1" cy="259.6" r="2.85"/><circle cx="357.1" cy="259.7" r="2.85"/></g>
<g fill="#add8e6"><circle cx="360.6" cy="298.3" r="2.85"/><circle cx="360.6" cy="301" r="2.85"/><circle cx="360.6" cy="303" r="2.85"/><circle cx="360.5" cy="305.5" r="2.85"/><circle cx="360.6" cy="307.8" r="2.85"/><circle cx="360.5" cy="310.7" r="2.85"/><circle cx="360.5" cy="313" r="2.85"/><circle cx="360.6" cy="315.1" r="2.85"/><circle cx="360.6" cy="315.7" r="2.85"/></g>
<g fill="#66cd00"><circle cx="357" cy="320.3" r="2.85"/><circle cx="357" cy="322.5" r="2.85"/><circle cx="357.1" cy="324.7" r="2.85"/><circle cx="357" cy="326.8" r="2.85"/><circle cx="357.1" cy="328.5" r="2.85"/><circle cx="356.9" cy="330.1" r="2.85"/><circle cx="356.9" cy="332.4" r="2.85"/><circle cx="356.9" cy="335.2" r="2.85"/><circle cx="357" cy="335.7" r="2.85"/></g>
<g fill="#3a1c10"><circle cx="360.9" cy="327.3" r="2.85"/><circle cx="361.1" cy="328.7" r="2.85"/><circle cx="361" cy="330.1" r="2.85"/><circle cx="361" cy="332" r="2.85"/><circle cx="360.9" cy="333.5" r="2.85"/><circle cx="361.1" cy="335" r="2.85"/><circle cx="361" cy="337" r="2.85"/><circle cx="361" cy="338.6" r="2.85"/><circle cx="360.9" cy="340.2" r="2.85"/><circle cx="361.1" cy="342" r="2.85"/><circle cx="361" cy="342.7" r="2.85"/></g>
<g fill="#d3d3d3"><circle cx="366.5" cy="252.3" r="2.85"/><circle cx="366.6" cy="254.4" r="2.85"/><circle cx="366.5" cy="257.3" r="2.85"/><circle cx="366.4" cy="259.3" r="2.85"/><circle cx="366.4" cy="261.4" r="2.85"/><circle cx="366.5" cy="263.8" r="2.85"/><circle cx="366.4" cy="266.9" r="2.85"/><circle cx="366.4" cy="268.7" r="2.85"/><circle cx="366.6" cy="270.7" r="2.85"/><circle cx="366.5" cy="273.5" r="2.85"/><circle cx="366.6" cy="275.3" r="2.85"/><circle cx="366.4" cy="277.6" r="2.85"/><circle cx="366.5" cy="280.4" r="2.85"/><circle cx="366.5" cy="283.1" r="2.85"/><circle cx="366.4" cy="285.9" r="2.85"/><circle cx="366.4" cy="287.8" r="2.85"/><circle cx="366.6" cy="290.8" r="2.85"/><circle cx="366.6" cy="292.9" r="2.85"/><circle cx="366.5" cy="294.7" r="2.85"/></g>
<g fill="#ffffff"><circle cx="366.6" cy="299.3" r="2.85"/><circle cx="366.6" cy="300.7" r="2.85"/></g>
<g fill="#585858"><circle cx="366.7" cy="307.3" r="2.85"/><circle cx="366.9" cy="309.2" r="2.85"/><circle cx="366.8" cy="310.5" r="2.85"/><circle cx="366.8" cy="312.7" r="2.85"/><circle cx="366.9" cy="314.2" r="2.85"/><circle cx="366.9" cy="315.7" r="2.85"/><circle cx="366.9" cy="317.1" r="2.85"/><circle cx="366.9" cy="318.9" r="2.85"/><circle cx="366.7" cy="320.8" r="2.85"/><circle cx="366.8" cy="322.5" r="2.85"/><circle cx="366.8" cy="323.7" r="2.85"/></g>
<g fill="#2a3010"><circle cx="365.6" cy="328.3" r="2.85"/><circle cx="365.6" cy="329.6" r="2.85"/><circle cx="365.7" cy="331.3" r="2.85"/><circle cx="365.5" cy="333.2" r="2.85"/><circle cx="365.5" cy="334.3" r="2.85"/><circle cx="365.7" cy="335.8" r="2.85"/><circle cx="365.5" cy="337.8" r="2.85"/><circle cx="365.6" cy="339.6" r="2.85"/><circle cx="365.5" cy="341.1" r="2.85"/><circle cx="365.7" cy="341.7" r="2.85"/></g>
<g fill="#90ee90"><circle cx="365.5" cy="346.3" r="2.85"/><circle cx="365.5" cy="348.5" r="2.85"/><circle cx="365.5" cy="351.4" r="2.85"/><circle cx="365.6" cy="353.3" r="2.85"/><circle cx="365.7" cy="356.1" r="2.85"/><circle cx="365.6" cy="357.7" r="2.85"/></g>
<g fill="#ffffc0"><circle cx="361.9" cy="351.3" r="2.85"/><circle cx="362" cy="352.7" r="2.85"/></g>
<g fill="#ffa07a"><circle cx="371.4" cy="221.3" r="2.85"/><circle cx="371.5" cy="223.8" r="2.85"/><circle cx="371.6" cy="225.6" r="2.85"/><circle cx="371.4" cy="228.1" r="2.85"/><circle cx="371.5" cy="230.4" r="2.85"/><circle cx="371.5" cy="232.6" r="2.85"/><circle cx="371.6" cy="235.4" r="2.85"/><circle cx="371.6" cy="238.1" r="2.85"/><circle cx="371.6" cy="240" r="2.85"/><circle cx="371.7" cy="241.8" r="2.85"/><circle cx="371.6" cy="243.6" r="2.85"/><circle cx="371.6" cy="245.6" r="2.85"/><circle cx="371.7" cy="248.2" r="2.85"/><circle cx="371.7" cy="251.3" r="2.85"/><circle cx="371.6" cy="254.4" r="2.85"/><circle cx="371.7" cy="257.3" r="2.85"/><circle cx="371.7" cy="259.1" r="2.85"/><circle cx="371.8" cy="262" r="2.85"/><circle cx="371.7" cy="264.7" r="2.85"/><circle cx="371.6" cy="267.1" r="2.85"/><circle cx="371.8" cy="270.2" r="2.85"/><circle cx="371.7" cy="272.8" r="2.85"/><circle cx="371.8" cy="274.6" r="2.85"/><circle cx="371.8" cy="276.6" r="2.85"/><circle cx="371.7" cy="278.5" r="2.85"/><circle cx="371.8" cy="281" r="2.85"/><circle cx="371.8" cy="283.6" r="2.85"/><circle cx="371.8" cy="286.5" r="2.85"/><circle cx="371.9" cy="288.2" r="2.85"/><circle cx="371.8" cy="289.9" r="2.85"/><circle cx="371.9" cy="293" r="2.85"/><circle cx="371.8" cy="295.1" r="2.85"/><circle cx="371.8" cy="297.1" r="2.85"/><circle cx="371.9" cy="300" r="2.85"/><circle cx="371.9" cy="301.9" r="2.85"/><circle cx="371.8" cy="304.7" r="2.85"/><circle cx="372" cy="307.7" r="2.85"/><circle cx="371.9" cy="310.2" r="2.85"/><circle cx="371.9" cy="312.7" r="2.85"/><circle cx="371.9" cy="314.4" r="2.85"/><circle cx="372" cy="317" r="2.85"/><circle cx="372.1" cy="319.5" r="2.85"/><circle cx="372.1" cy="322.3" r="2.85"/><circle cx="371.9" cy="323.7" r="2.85"/></g>
<g fill="#ffb0a0"><circle cx="371.3" cy="328.3" r="2.85"/><circle cx="371.2" cy="330.2" r="2.85"/><circle cx="371.2" cy="332.9" r="2.85"/><circle cx="371.2" cy="334.6" r="2.85"/><circle cx="371.2" cy="337.7" r="2.85"/><circle cx="371.3" cy="340.4" r="2.85"/><circle cx="371.3" cy="342.7" r="2.85"/><circle cx="371.4" cy="345.1" r="2.85"/><circle cx="371.3" cy="347.9" r="2.85"/><circle cx="371.4" cy="349.9" r="2.85"/><circle cx="371.3" cy="352.2" r="2.85"/><circle cx="371.3" cy="355.1" r="2.85"/><circle cx="371.2" cy="356.7" r="2.85"/></g>
<g fill="#382623"><circle cx="373.3" cy="328.3" r="2.85"/><circle cx="373.2" cy="329.8" r="2.85"/><circle cx="373.2" cy="331.7" r="2.85"/><circle cx="373.4" cy="333.1" r="2.85"/><circle cx="373.3" cy="334.2" r="2.85"/><circle cx="373.2" cy="335.6" r="2.85"/><circle cx="373.3" cy="336.8" r="2.85"/><circle cx="373.4" cy="338.4" r="2.85"/><circle cx="373.4" cy="339.9" r="2.85"/><circle cx="373.3" cy="341.4" r="2.85"/><circle cx="373.4" cy="343.3" r="2.85"/><circle cx="373.2" cy="345" r="2.85"/><circle cx="373.3" cy="346.1" r="2.85"/><circle cx="373.4" cy="347.2" r="2.85"/><circle cx="373.3" cy="348.9" r="2.85"/><circle cx="373.2" cy="350.5" r="2.85"/><circle cx="373.4" cy="352.1" r="2.85"/><circle cx="373.3" cy="353.6" r="2.85"/><circle cx="373.2" cy="354.7" r="2.85"/><circle cx="373.2" cy="356.2" r="2.85"/><circle cx="373.3" cy="356.7" r="2.85"/></g>
<g fill="#2f4050"><circle cx="378.4" cy="219.3" r="2.85"/><circle cx="378.5" cy="221.2" r="2.85"/><circle cx="378.4" cy="222.8" r="2.85"/><circle cx="378.6" cy="224.7" r="2.85"/><circle cx="378.5" cy="225.8" r="2.85"/><circle cx="378.6" cy="227.4" r="2.85"/><circle cx="378.5" cy="228.6" r="2.85"/><circle cx="378.5" cy="229.9" r="2.85"/><circle cx="378.5" cy="231.1" r="2.85"/><circle cx="378.6" cy="232.6" r="2.85"/><circle cx="378.5" cy="233.7" r="2.85"/><circle cx="378.4" cy="235.3" r="2.85"/><circle cx="378.5" cy="236.9" r="2.85"/><circle cx="378.6" cy="238.8" r="2.85"/><circle cx="378.4" cy="240.5" r="2.85"/><circle cx="378.4" cy="241.7" r="2.85"/><circle cx="378.5" cy="243.5" r="2.85"/><circle cx="378.5" cy="245" r="2.85"/><circle cx="378.4" cy="246.9" r="2.85"/><circle cx="378.4" cy="247.7" r="2.85"/></g>
<g fill="#8090a0"><circle cx="378.5" cy="224.3" r="2.85"/><circle cx="378.5" cy="227.6" r="2.85"/><circle cx="378.5" cy="229.9" r="2.85"/><circle cx="378.5" cy="232.9" r="2.85"/><circle cx="378.5" cy="235.2" r="2.85"/><circle cx="378.4" cy="237.1" r="2.85"/><circle cx="378.5" cy="239.7" r="2.85"/><circle cx="378.4" cy="242.9" r="2.85"/><circle cx="378.5" cy="245.9" r="2.85"/><circle cx="378.6" cy="247.7" r="2.85"/></g>
<g fill="#2a3a4a"><circle cx="381.3" cy="252.3" r="2.85"/><circle cx="381.3" cy="253.9" r="2.85"/><circle cx="381.2" cy="255.4" r="2.85"/><circle cx="381.3" cy="257.1" r="2.85"/><circle cx="381.2" cy="257.7" r="2.85"/></g>
<g fill="#b0c4de"><circle cx="381.4" cy="262.3" r="2.85"/><circle cx="381.3" cy="265.3" r="2.85"/><circle cx="381.3" cy="268.1" r="2.85"/><circle cx="381.4" cy="270.7" r="2.85"/><circle cx="381.2" cy="272.5" r="2.85"/><circle cx="381.4" cy="275.3" r="2.85"/><circle cx="381.3" cy="275.7" r="2.85"/></g>
<g fill="#2d455d"><circle cx="381.2" cy="280.3" r="2.85"/><circle cx="381.2" cy="282.1" r="2.85"/><circle cx="381.1" cy="284.1" r="2.85"/><circle cx="381" cy="285.4" r="2.85"/><circle cx="381.1" cy="287" r="2.85"/><circle cx="381" cy="288.4" r="2.85"/><circle cx="381.1" cy="289.6" r="2.85"/><circle cx="381" cy="291.6" r="2.85"/><circle cx="381" cy="293.4" r="2.85"/><circle cx="380.8" cy="294.9" r="2.85"/><circle cx="380.8" cy="296.6" r="2.85"/><circle cx="380.7" cy="298.5" r="2.85"/><circle cx="380.7" cy="299.7" r="2.85"/><circle cx="380.6" cy="301.2" r="2.85"/><circle cx="380.7" cy="301.7" r="2.85"/></g>
<g fill="#32cd32"><circle cx="380.7" cy="288.3" r="2.85"/><circle cx="380.5" cy="291.5" r="2.85"/><circle cx="380.7" cy="294.4" r="2.85"/><circle cx="380.7" cy="296.7" r="2.85"/><circle cx="380.5" cy="297.7" r="2.85"/></g>
<g fill="#0b2d0b"><circle cx="382.7" cy="288.3" r="2.85"/><circle cx="382.7" cy="290.2" r="2.85"/><circle cx="382.6" cy="291.8" r="2.85"/><circle cx="382.5" cy="293.2" r="2.85"/><circle cx="382.7" cy="294.7" r="2.85"/><circle cx="382.6" cy="296.3" r="2.85"/><circle cx="382.6" cy="297.7" r="2.85"/></g>
<g fill="#6ca6cd"><circle cx="376.8" cy="306.3" r="2.85"/><circle cx="376.9" cy="308" r="2.85"/><circle cx="376.9" cy="309.7" r="2.85"/><circle cx="376.6" cy="312.6" r="2.85"/><circle cx="376.7" cy="314.7" r="2.85"/><circle cx="376.7" cy="317" r="2.85"/><circle cx="376.6" cy="319.9" r="2.85"/><circle cx="376.5" cy="321.8" r="2.85"/><circle cx="376.5" cy="323.7" r="2.85"/></g>
<g fill="#87cefa"><circle cx="376.4" cy="328.3" r="2.85"/><circle cx="376.4" cy="330.9" r="2.85"/><circle cx="376.3" cy="331.7" r="2.85"/></g>
<g fill="#104848"><circle cx="376.2" cy="339.3" r="2.85"/><circle cx="376.4" cy="341" r="2.85"/><circle cx="376.2" cy="342.2" r="2.85"/><circle cx="376.2" cy="343.5" r="2.85"/><circle cx="376.3" cy="344.9" r="2.85"/><circle cx="376.3" cy="346.7" r="2.85"/><circle cx="376.4" cy="348.4" r="2.85"/><circle cx="376.2" cy="349.7" r="2.85"/><circle cx="376.3" cy="351.7" r="2.85"/><circle cx="376.3" cy="352.8" r="2.85"/><circle cx="376.4" cy="353.9" r="2.85"/><circle cx="376.3" cy="355.2" r="2.85"/><circle cx="376.3" cy="356.4" r="2.85"/><circle cx="376.3" cy="358.3" r="2.85"/><circle cx="376.3" cy="359.6" r="2.85"/><circle cx="376.2" cy="361" r="2.85"/><circle cx="376.3" cy="362.9" r="2.85"/><circle cx="376.3" cy="364.4" r="2.85"/><circle cx="376.3" cy="366" r="2.85"/><circle cx="376.2" cy="367.5" r="2.85"/><circle cx="376.3" cy="368.9" r="2.85"/><circle cx="376.3" cy="370.8" r="2.85"/><circle cx="376.4" cy="372.1" r="2.85"/><circle cx="376.3" cy="373.7" r="2.85"/><circle cx="376.3" cy="375.1" r="2.85"/><circle cx="376.2" cy="376.3" r="2.85"/><circle cx="376.2" cy="377.5" r="2.85"/><circle cx="376.2" cy="379" r="2.85"/><circle cx="376.2" cy="380.8" r="2.85"/><circle cx="376.2" cy="382.2" r="2.85"/><circle cx="376.3" cy="383.3" r="2.85"/><circle cx="376.3" cy="385.2" r="2.85"/><circle cx="376.4" cy="386.4" r="2.85"/><circle cx="376.2" cy="388.2" r="2.85"/><circle cx="376.2" cy="389.3" r="2.85"/><circle cx="376.2" cy="390.9" r="2.85"/><circle cx="376.2" cy="392.1" r="2.85"/><circle cx="376.3" cy="393.4" r="2.85"/><circle cx="376.3" cy="394.8" r="2.85"/><circle cx="376.2" cy="396.6" r="2.85"/><circle cx="376.4" cy="398" r="2.85"/><circle cx="376.3" cy="399.4" r="2.85"/><circle cx="376.3" cy="400.9" r="2.85"/><circle cx="376.3" cy="401.7" r="2.85"/></g>
<g fill="#30c0c0"><circle cx="376.3" cy="345" r="2.85"/></g>
<g fill="#30c8c8"><circle cx="376.2" cy="357.3" r="2.85"/><circle cx="376.4" cy="359.9" r="2.85"/><circle cx="376.4" cy="362.2" r="2.85"/><circle cx="376.3" cy="364.1" r="2.85"/><circle cx="376.3" cy="366.3" r="2.85"/><circle cx="376.3" cy="369.3" r="2.85"/><circle cx="376.2" cy="371.5" r="2.85"/><circle cx="376.2" cy="373.7" r="2.85"/></g>
<g fill="#30c8c8"><circle cx="376.3" cy="388.3" r="2.85"/><circle cx="376.2" cy="390.2" r="2.85"/><circle cx="375.9" cy="392.8" r="2.85"/><circle cx="375.8" cy="395.2" r="2.85"/><circle cx="375.9" cy="398.3" r="2.85"/><circle cx="375.7" cy="401.4" r="2.85"/><circle cx="375.6" cy="401.7" r="2.85"/></g>
<g fill="#30c8c8"><circle cx="373" cy="400.3" r="2.85"/><circle cx="372.9" cy="402.9" r="2.85"/><circle cx="372.9" cy="405.2" r="2.85"/><circle cx="373.1" cy="407.5" r="2.85"/><circle cx="373" cy="407.7" r="2.85"/></g>
<g fill="#32cd32"><circle cx="383.9" cy="327.3" r="2.85"/><circle cx="383.7" cy="330" r="2.85"/><circle cx="383.8" cy="331.9" r="2.85"/><circle cx="383.8" cy="334.2" r="2.85"/><circle cx="383.8" cy="334.7" r="2.85"/></g>
<g fill="#b0c4de"><circle cx="384.4" cy="341" r="2.85"/></g>
<g fill="#b00000"><circle cx="388.4" cy="258.3" r="2.85"/><circle cx="388.4" cy="259.9" r="2.85"/><circle cx="388.5" cy="262.1" r="2.85"/><circle cx="388.6" cy="264.4" r="2.85"/><circle cx="388.4" cy="265.7" r="2.85"/></g>
<g fill="#a00000"><circle cx="388.4" cy="282.3" r="2.85"/><circle cx="388.5" cy="285" r="2.85"/><circle cx="388.6" cy="286.8" r="2.85"/><circle cx="388.5" cy="288.7" r="2.85"/><circle cx="388.5" cy="291.5" r="2.85"/><circle cx="388.5" cy="292.7" r="2.85"/></g>
<g fill="#230000"><circle cx="390.6" cy="282.3" r="2.85"/><circle cx="390.5" cy="283.8" r="2.85"/><circle cx="390.5" cy="284.9" r="2.85"/><circle cx="390.5" cy="286.7" r="2.85"/><circle cx="390.4" cy="288.3" r="2.85"/><circle cx="390.4" cy="289.7" r="2.85"/><circle cx="390.6" cy="291" r="2.85"/><circle cx="390.4" cy="292.2" r="2.85"/><circle cx="390.5" cy="292.7" r="2.85"/></g>
<g fill="#66cdaa"><circle cx="388.8" cy="252.5" r="2.85"/></g>
<g fill="#66cdaa"><circle cx="388.8" cy="274.3" r="2.85"/><circle cx="388.9" cy="276" r="2.85"/><circle cx="388.8" cy="277.7" r="2.85"/><circle cx="388.8" cy="279.6" r="2.85"/><circle cx="388.7" cy="280.7" r="2.85"/></g>
<g fill="#66cdaa"><circle cx="393" cy="286.3" r="2.85"/><circle cx="392.9" cy="289.2" r="2.85"/><circle cx="393" cy="291.5" r="2.85"/><circle cx="393" cy="294.3" r="2.85"/><circle cx="393.1" cy="296" r="2.85"/><circle cx="393.1" cy="298.7" r="2.85"/><circle cx="393" cy="301" r="2.85"/><circle cx="393" cy="302.9" r="2.85"/><circle cx="393" cy="305.1" r="2.85"/><circle cx="393.1" cy="306.8" r="2.85"/><circle cx="393.1" cy="309.2" r="2.85"/><circle cx="393.1" cy="310.7" r="2.85"/></g>
<g fill="#0000cd"><circle cx="392.7" cy="317.3" r="2.85"/><circle cx="392.6" cy="319.4" r="2.85"/><circle cx="392.4" cy="321.1" r="2.85"/><circle cx="392.2" cy="323.6" r="2.85"/><circle cx="391.9" cy="326.2" r="2.85"/><circle cx="391.5" cy="328.7" r="2.85"/></g>
<g fill="#0000cd"><circle cx="391.2" cy="333.3" r="2.85"/><circle cx="391.4" cy="335.2" r="2.85"/><circle cx="391.2" cy="337.5" r="2.85"/><circle cx="391.4" cy="339.7" r="2.85"/><circle cx="391.2" cy="341.8" r="2.85"/><circle cx="391.2" cy="344.2" r="2.85"/><circle cx="391.4" cy="345.6" r="2.85"/><circle cx="391.3" cy="347.1" r="2.85"/><circle cx="391.3" cy="348.7" r="2.85"/></g>
<g fill="#0a3a1a"><circle cx="391.5" cy="353.3" r="2.85"/><circle cx="391.6" cy="354.7" r="2.85"/></g>
<g fill="#66cdaa"><circle cx="391.5" cy="358" r="2.85"/></g>
<g fill="#00006a"><circle cx="394.3" cy="252.3" r="2.85"/><circle cx="394.5" cy="253.9" r="2.85"/><circle cx="394.5" cy="255.5" r="2.85"/><circle cx="394.4" cy="257.1" r="2.85"/><circle cx="394.5" cy="258.6" r="2.85"/><circle cx="394.3" cy="260.4" r="2.85"/><circle cx="394.4" cy="261.6" r="2.85"/><circle cx="394.4" cy="263.4" r="2.85"/><circle cx="394.5" cy="265.4" r="2.85"/><circle cx="394.4" cy="267.3" r="2.85"/><circle cx="394.4" cy="268.9" r="2.85"/><circle cx="394.5" cy="270.4" r="2.85"/><circle cx="394.4" cy="271.6" r="2.85"/><circle cx="394.4" cy="272.8" r="2.85"/><circle cx="394.3" cy="274.4" r="2.85"/><circle cx="394.4" cy="276.4" r="2.85"/><circle cx="394.4" cy="277.7" r="2.85"/></g>
<g fill="#3a1050"><circle cx="395.2" cy="183.3" r="2.85"/><circle cx="395.3" cy="184.7" r="2.85"/><circle cx="395.2" cy="186.3" r="2.85"/><circle cx="395.3" cy="187.8" r="2.85"/><circle cx="395.4" cy="188.9" r="2.85"/><circle cx="395.3" cy="190.8" r="2.85"/><circle cx="395.2" cy="192.1" r="2.85"/><circle cx="395.3" cy="193.6" r="2.85"/><circle cx="395.2" cy="195.6" r="2.85"/><circle cx="395.3" cy="196.8" r="2.85"/><circle cx="395.3" cy="197.9" r="2.85"/><circle cx="395.2" cy="199.1" r="2.85"/><circle cx="395.3" cy="200.3" r="2.85"/><circle cx="395.3" cy="202.1" r="2.85"/><circle cx="395.4" cy="203.7" r="2.85"/><circle cx="395.3" cy="203.7" r="2.85"/></g>
<g fill="#b050d8"><circle cx="395.3" cy="186.3" r="2.85"/><circle cx="395.2" cy="189.5" r="2.85"/><circle cx="395.3" cy="192.3" r="2.85"/><circle cx="395.4" cy="194.4" r="2.85"/><circle cx="395.3" cy="196.5" r="2.85"/><circle cx="395.4" cy="199.4" r="2.85"/><circle cx="395.4" cy="202.5" r="2.85"/><circle cx="395.2" cy="203.7" r="2.85"/></g>
<g fill="#2a1a4a"><circle cx="395.6" cy="208.3" r="2.85"/><circle cx="395.8" cy="209.9" r="2.85"/><circle cx="396.1" cy="211.3" r="2.85"/><circle cx="396.3" cy="212.8" r="2.85"/><circle cx="396.3" cy="214.3" r="2.85"/><circle cx="396.6" cy="215.9" r="2.85"/><circle cx="396.5" cy="217.2" r="2.85"/><circle cx="396.9" cy="218.7" r="2.85"/></g>
<g fill="#ba55d3"><circle cx="398" cy="223.3" r="2.85"/><circle cx="397.9" cy="225.2" r="2.85"/><circle cx="398" cy="226.8" r="2.85"/><circle cx="398" cy="229.5" r="2.85"/><circle cx="398.1" cy="231.3" r="2.85"/><circle cx="398" cy="234" r="2.85"/><circle cx="398.1" cy="235.6" r="2.85"/><circle cx="398.1" cy="235.7" r="2.85"/></g>
<g fill="#c060e0"><circle cx="398" cy="235" r="2.85"/></g>
<g fill="#9370db"><circle cx="398.5" cy="242.3" r="2.85"/><circle cx="398.5" cy="244.1" r="2.85"/><circle cx="398.6" cy="247" r="2.85"/><circle cx="398.8" cy="249.9" r="2.85"/><circle cx="398.8" cy="252.3" r="2.85"/><circle cx="399" cy="254.6" r="2.85"/><circle cx="399" cy="255.7" r="2.85"/></g>
<g fill="#00e080"><circle cx="398.8" cy="263.3" r="2.85"/><circle cx="398.8" cy="266.4" r="2.85"/><circle cx="398.9" cy="268.4" r="2.85"/><circle cx="398.8" cy="271.5" r="2.85"/><circle cx="398.7" cy="274.1" r="2.85"/><circle cx="398.8" cy="276.9" r="2.85"/><circle cx="398.9" cy="277.7" r="2.85"/></g>
<g fill="#00e890"><circle cx="404.3" cy="258.3" r="2.85"/><circle cx="404.5" cy="259.9" r="2.85"/><circle cx="404.4" cy="262.4" r="2.85"/><circle cx="404.3" cy="264.8" r="2.85"/><circle cx="404.4" cy="267.4" r="2.85"/><circle cx="404.4" cy="269.4" r="2.85"/><circle cx="404.4" cy="271.7" r="2.85"/><circle cx="404.3" cy="274" r="2.85"/><circle cx="404.5" cy="276.6" r="2.85"/><circle cx="404.4" cy="278.3" r="2.85"/><circle cx="404.3" cy="280.6" r="2.85"/><circle cx="404.5" cy="282.6" r="2.85"/><circle cx="404.5" cy="285" r="2.85"/><circle cx="404.4" cy="287" r="2.85"/><circle cx="404.5" cy="288.9" r="2.85"/><circle cx="404.5" cy="290.8" r="2.85"/><circle cx="404.5" cy="293.7" r="2.85"/><circle cx="404.3" cy="295.8" r="2.85"/><circle cx="404.5" cy="298.6" r="2.85"/><circle cx="404.3" cy="301.2" r="2.85"/><circle cx="404.5" cy="303.2" r="2.85"/><circle cx="404.4" cy="303.7" r="2.85"/></g>
<g fill="#00e890"><circle cx="405.6" cy="258.3" r="2.85"/><circle cx="405.6" cy="260.7" r="2.85"/><circle cx="405.6" cy="263.6" r="2.85"/><circle cx="405.5" cy="266.5" r="2.85"/><circle cx="405.6" cy="269.6" r="2.85"/><circle cx="405.7" cy="272.6" r="2.85"/><circle cx="405.5" cy="275.1" r="2.85"/><circle cx="405.6" cy="277.9" r="2.85"/><circle cx="405.5" cy="280.5" r="2.85"/><circle cx="405.5" cy="282.8" r="2.85"/><circle cx="405.7" cy="285.2" r="2.85"/><circle cx="405.5" cy="287.6" r="2.85"/><circle cx="405.7" cy="289.6" r="2.85"/><circle cx="405.7" cy="291.6" r="2.85"/><circle cx="405.7" cy="294.5" r="2.85"/><circle cx="405.5" cy="297.4" r="2.85"/><circle cx="405.7" cy="300.1" r="2.85"/><circle cx="405.6" cy="302.7" r="2.85"/></g>
<g fill="#0a4a3a"><circle cx="405.7" cy="307.3" r="2.85"/><circle cx="405.9" cy="308.8" r="2.85"/><circle cx="405.8" cy="309.7" r="2.85"/></g>
<g fill="#00e090"><circle cx="408.6" cy="313.3" r="2.85"/><circle cx="408.5" cy="314.9" r="2.85"/><circle cx="408.7" cy="316.9" r="2.85"/><circle cx="408.7" cy="318.6" r="2.85"/><circle cx="408.6" cy="321.4" r="2.85"/><circle cx="408.6" cy="323.3" r="2.85"/><circle cx="408.6" cy="326.3" r="2.85"/><circle cx="408.5" cy="328.8" r="2.85"/><circle cx="408.6" cy="330.7" r="2.85"/><circle cx="408.7" cy="333.3" r="2.85"/><circle cx="408.6" cy="333.7" r="2.85"/></g>
<g fill="#32cd32"><circle cx="412" cy="367.3" r="2.85"/><circle cx="412" cy="369.3" r="2.85"/><circle cx="412.2" cy="371.5" r="2.85"/><circle cx="412.1" cy="374.1" r="2.85"/><circle cx="412" cy="375.9" r="2.85"/><circle cx="412.2" cy="377.8" r="2.85"/><circle cx="412" cy="380.3" r="2.85"/><circle cx="412.2" cy="382.4" r="2.85"/><circle cx="412.1" cy="385.6" r="2.85"/><circle cx="412.1" cy="387.6" r="2.85"/><circle cx="412.1" cy="390.6" r="2.85"/><circle cx="412.2" cy="392.7" r="2.85"/></g>
<g fill="#40e0d0"><circle cx="408.7" cy="339.3" r="2.85"/><circle cx="408.8" cy="342.3" r="2.85"/><circle cx="408.9" cy="344.9" r="2.85"/><circle cx="408.8" cy="346.9" r="2.85"/><circle cx="408.8" cy="350" r="2.85"/><circle cx="408.9" cy="352.7" r="2.85"/><circle cx="409" cy="355.1" r="2.85"/><circle cx="409" cy="358" r="2.85"/><circle cx="409.1" cy="359.8" r="2.85"/><circle cx="409.2" cy="362.4" r="2.85"/><circle cx="409.3" cy="365.2" r="2.85"/><circle cx="409.2" cy="368" r="2.85"/><circle cx="409.3" cy="370.6" r="2.85"/><circle cx="409.4" cy="372.4" r="2.85"/><circle cx="409.4" cy="374.8" r="2.85"/><circle cx="409.4" cy="376.8" r="2.85"/><circle cx="409.5" cy="379.4" r="2.85"/><circle cx="409.7" cy="381.7" r="2.85"/><circle cx="409.8" cy="384" r="2.85"/><circle cx="409.6" cy="386.4" r="2.85"/><circle cx="409.9" cy="389" r="2.85"/><circle cx="410" cy="391.9" r="2.85"/><circle cx="410" cy="394" r="2.85"/><circle cx="409.9" cy="396.1" r="2.85"/><circle cx="410.1" cy="398" r="2.85"/><circle cx="410" cy="399.9" r="2.85"/><circle cx="410" cy="402.8" r="2.85"/><circle cx="410.3" cy="405.8" r="2.85"/><circle cx="410.2" cy="407.7" r="2.85"/><circle cx="410.4" cy="409.8" r="2.85"/><circle cx="410.4" cy="412.7" r="2.85"/></g>
<g fill="#1a5a58"><circle cx="410.4" cy="417.3" r="2.85"/><circle cx="410.3" cy="418.5" r="2.85"/><circle cx="410.4" cy="419.7" r="2.85"/><circle cx="410.3" cy="421.4" r="2.85"/><circle cx="410.5" cy="422.7" r="2.85"/><circle cx="410.4" cy="422.7" r="2.85"/></g>
<g fill="#40e0d0"><circle cx="410.5" cy="425.3" r="2.85"/><circle cx="410.5" cy="427.9" r="2.85"/><circle cx="410.4" cy="430.3" r="2.85"/><circle cx="410.4" cy="431.7" r="2.85"/></g>
<g fill="#e0189a"><circle cx="410.3" cy="433.3" r="2.85"/><circle cx="410.4" cy="435.6" r="2.85"/><circle cx="410.4" cy="438.2" r="2.85"/><circle cx="410.4" cy="440.6" r="2.85"/><circle cx="410.4" cy="442.6" r="2.85"/><circle cx="410.4" cy="444.9" r="2.85"/><circle cx="410.4" cy="446.8" r="2.85"/><circle cx="410.5" cy="448.4" r="2.85"/><circle cx="410.4" cy="450.8" r="2.85"/><circle cx="410.5" cy="453.6" r="2.85"/><circle cx="410.4" cy="453.7" r="2.85"/></g>
<g fill="#4a0a30"><circle cx="410.4" cy="457.5" r="2.85"/></g>
<g fill="#9acd32"><circle cx="410.6" cy="302.3" r="2.85"/><circle cx="410.6" cy="304.2" r="2.85"/><circle cx="410.6" cy="306.4" r="2.85"/><circle cx="410.7" cy="307.7" r="2.85"/></g>
<g fill="#212d0b"><circle cx="412.5" cy="302.3" r="2.85"/><circle cx="412.6" cy="304" r="2.85"/><circle cx="412.7" cy="305.4" r="2.85"/><circle cx="412.6" cy="307.1" r="2.85"/><circle cx="412.7" cy="307.7" r="2.85"/></g>
<g fill="#4a2008"><circle cx="416.5" cy="236" r="2.85"/></g>
<g fill="#e07830"><circle cx="416.5" cy="239.3" r="2.85"/><circle cx="416.4" cy="240.7" r="2.85"/></g>
<g fill="#ff8c60"><circle cx="417.6" cy="246.3" r="2.85"/><circle cx="417.6" cy="249" r="2.85"/><circle cx="417.6" cy="251.2" r="2.85"/><circle cx="417.4" cy="253.3" r="2.85"/><circle cx="417.5" cy="255.5" r="2.85"/><circle cx="417.4" cy="257.7" r="2.85"/></g>
<g fill="#ff8c60"><circle cx="415.9" cy="272.3" r="2.85"/><circle cx="415.9" cy="274.4" r="2.85"/><circle cx="415.7" cy="276.6" r="2.85"/><circle cx="415.9" cy="278.6" r="2.85"/><circle cx="415.8" cy="281.1" r="2.85"/><circle cx="415.7" cy="283" r="2.85"/><circle cx="415.7" cy="285.8" r="2.85"/><circle cx="415.5" cy="288.1" r="2.85"/><circle cx="415.4" cy="290.3" r="2.85"/><circle cx="415.3" cy="293" r="2.85"/><circle cx="415.4" cy="295.3" r="2.85"/><circle cx="415.2" cy="297.1" r="2.85"/><circle cx="415.2" cy="300.1" r="2.85"/><circle cx="415.1" cy="303" r="2.85"/><circle cx="415.2" cy="306" r="2.85"/><circle cx="415.1" cy="308.2" r="2.85"/><circle cx="414.9" cy="310.4" r="2.85"/><circle cx="415" cy="313.1" r="2.85"/><circle cx="414.8" cy="315.1" r="2.85"/><circle cx="414.7" cy="318.3" r="2.85"/><circle cx="414.7" cy="321" r="2.85"/><circle cx="414.7" cy="323.6" r="2.85"/><circle cx="414.5" cy="325.4" r="2.85"/><circle cx="414.6" cy="327.6" r="2.85"/><circle cx="414.5" cy="330" r="2.85"/><circle cx="414.5" cy="331.7" r="2.85"/></g>
<g fill="#381e15"><circle cx="418" cy="272.3" r="2.85"/><circle cx="418" cy="273.7" r="2.85"/><circle cx="417.9" cy="274.7" r="2.85"/><circle cx="417.9" cy="275.9" r="2.85"/><circle cx="417.7" cy="277.6" r="2.85"/><circle cx="417.8" cy="279.1" r="2.85"/><circle cx="417.8" cy="280.8" r="2.85"/><circle cx="417.8" cy="282.1" r="2.85"/><circle cx="417.6" cy="283.4" r="2.85"/><circle cx="417.6" cy="284.6" r="2.85"/><circle cx="417.7" cy="286.4" r="2.85"/><circle cx="417.6" cy="288.1" r="2.85"/><circle cx="417.6" cy="289.3" r="2.85"/><circle cx="417.4" cy="291" r="2.85"/><circle cx="417.4" cy="292.1" r="2.85"/><circle cx="417.4" cy="293.5" r="2.85"/><circle cx="417.4" cy="294.8" r="2.85"/><circle cx="417.4" cy="296.6" r="2.85"/><circle cx="417.3" cy="298.3" r="2.85"/><circle cx="417.3" cy="299.9" r="2.85"/><circle cx="417.2" cy="301.2" r="2.85"/><circle cx="417.3" cy="302.2" r="2.85"/><circle cx="417.1" cy="303.9" r="2.85"/><circle cx="417.2" cy="305.5" r="2.85"/><circle cx="417.1" cy="306.6" r="2.85"/><circle cx="417.1" cy="308.4" r="2.85"/><circle cx="416.9" cy="310.3" r="2.85"/><circle cx="416.9" cy="311.6" r="2.85"/><circle cx="417" cy="313.2" r="2.85"/><circle cx="416.9" cy="314.8" r="2.85"/><circle cx="416.9" cy="316.7" r="2.85"/><circle cx="416.7" cy="318.3" r="2.85"/><circle cx="416.8" cy="319.8" r="2.85"/><circle cx="416.8" cy="321.6" r="2.85"/><circle cx="416.7" cy="323.1" r="2.85"/><circle cx="416.7" cy="324.1" r="2.85"/><circle cx="416.5" cy="325.7" r="2.85"/><circle cx="416.6" cy="327.1" r="2.85"/><circle cx="416.4" cy="328.4" r="2.85"/><circle cx="416.5" cy="329.9" r="2.85"/><circle cx="416.5" cy="331.1" r="2.85"/><circle cx="416.4" cy="331.7" r="2.85"/></g>
<g fill="#ff7f50"><circle cx="414.9" cy="338.3" r="2.85"/><circle cx="415" cy="340.9" r="2.85"/><circle cx="415.1" cy="343.8" r="2.85"/><circle cx="414.9" cy="344.7" r="2.85"/></g>
<g fill="#e07020"><circle cx="414.5" cy="353.3" r="2.85"/><circle cx="414.4" cy="356.6" r="2.85"/><circle cx="414.4" cy="357.7" r="2.85"/></g>
<g fill="#dc143c"><circle cx="418.4" cy="335.3" r="2.85"/><circle cx="418.5" cy="337.4" r="2.85"/><circle cx="418.4" cy="339.7" r="2.85"/></g>
<g fill="#30040d"><circle cx="420.3" cy="335.3" r="2.85"/><circle cx="420.4" cy="337.2" r="2.85"/><circle cx="420.3" cy="338.6" r="2.85"/><circle cx="420.3" cy="339.7" r="2.85"/></g>
<g fill="#14204a"><circle cx="420.6" cy="269.2" r="2.85"/></g>
<g fill="#6495ed"><circle cx="420.6" cy="273.3" r="2.85"/><circle cx="420.5" cy="276.3" r="2.85"/><circle cx="420.6" cy="278.2" r="2.85"/><circle cx="420.6" cy="280.4" r="2.85"/><circle cx="420.7" cy="282.9" r="2.85"/><circle cx="420.5" cy="285.5" r="2.85"/><circle cx="420.5" cy="287.3" r="2.85"/><circle cx="420.5" cy="289.2" r="2.85"/><circle cx="420.6" cy="290.7" r="2.85"/></g>
<g fill="#5080d8"><circle cx="420" cy="295.3" r="2.85"/><circle cx="420" cy="298.5" r="2.85"/><circle cx="419.9" cy="301.4" r="2.85"/><circle cx="420" cy="303.3" r="2.85"/><circle cx="420.1" cy="305.9" r="2.85"/><circle cx="420" cy="308.2" r="2.85"/><circle cx="420" cy="311.4" r="2.85"/><circle cx="420.1" cy="314.2" r="2.85"/><circle cx="420.1" cy="316.9" r="2.85"/><circle cx="420.1" cy="319" r="2.85"/><circle cx="420" cy="321.4" r="2.85"/><circle cx="420.1" cy="322.7" r="2.85"/></g>
<g fill="#111c2f"><circle cx="422" cy="295.3" r="2.85"/><circle cx="422.1" cy="296.5" r="2.85"/><circle cx="421.9" cy="298.1" r="2.85"/><circle cx="421.9" cy="299.2" r="2.85"/><circle cx="422" cy="300.4" r="2.85"/><circle cx="422" cy="301.6" r="2.85"/><circle cx="422" cy="303" r="2.85"/><circle cx="421.9" cy="304.7" r="2.85"/><circle cx="422" cy="305.8" r="2.85"/><circle cx="422.1" cy="307.6" r="2.85"/><circle cx="421.9" cy="308.8" r="2.85"/><circle cx="422.1" cy="310.7" r="2.85"/><circle cx="422.1" cy="312.6" r="2.85"/><circle cx="422" cy="314.2" r="2.85"/><circle cx="422" cy="316" r="2.85"/><circle cx="422" cy="317.9" r="2.85"/><circle cx="422" cy="319.3" r="2.85"/><circle cx="421.9" cy="321.1" r="2.85"/><circle cx="421.9" cy="322.2" r="2.85"/><circle cx="421.9" cy="322.7" r="2.85"/></g>
<g fill="#00a0a0"><circle cx="426.1" cy="286.3" r="2.85"/><circle cx="426" cy="287.7" r="2.85"/></g>
<g fill="#b8860b"><circle cx="426.1" cy="293.3" r="2.85"/><circle cx="426.1" cy="296" r="2.85"/><circle cx="426.1" cy="297.7" r="2.85"/></g>
<g fill="#e0b000"><circle cx="427.5" cy="355" r="2.85"/></g>
<g fill="#c8c8c8"><circle cx="431" cy="284.3" r="2.85"/><circle cx="431" cy="286.6" r="2.85"/><circle cx="431" cy="288.7" r="2.85"/><circle cx="431.1" cy="291.1" r="2.85"/><circle cx="431.1" cy="293.3" r="2.85"/><circle cx="431" cy="296.2" r="2.85"/><circle cx="431.1" cy="297.9" r="2.85"/><circle cx="431.1" cy="298.7" r="2.85"/></g>
<g fill="#0a3a0a"><circle cx="430.7" cy="306.3" r="2.85"/><circle cx="430.7" cy="307.8" r="2.85"/><circle cx="430.7" cy="309.4" r="2.85"/><circle cx="430.6" cy="310.6" r="2.85"/><circle cx="430.7" cy="312.4" r="2.85"/><circle cx="430.8" cy="313.9" r="2.85"/><circle cx="430.6" cy="315.6" r="2.85"/><circle cx="430.6" cy="317.5" r="2.85"/><circle cx="430.6" cy="319.1" r="2.85"/><circle cx="430.7" cy="320.8" r="2.85"/><circle cx="430.7" cy="322.3" r="2.85"/><circle cx="430.8" cy="323.5" r="2.85"/><circle cx="430.9" cy="324.9" r="2.85"/><circle cx="430.7" cy="326" r="2.85"/><circle cx="430.8" cy="327.3" r="2.85"/><circle cx="430.7" cy="329.2" r="2.85"/><circle cx="430.9" cy="330.6" r="2.85"/><circle cx="430.8" cy="331.7" r="2.85"/><circle cx="430.7" cy="333.2" r="2.85"/><circle cx="430.9" cy="334.3" r="2.85"/><circle cx="430.7" cy="335.9" r="2.85"/><circle cx="430.8" cy="337.1" r="2.85"/><circle cx="430.8" cy="338.4" r="2.85"/><circle cx="431" cy="340" r="2.85"/><circle cx="430.8" cy="341.9" r="2.85"/><circle cx="430.8" cy="343" r="2.85"/><circle cx="431" cy="344.7" r="2.85"/><circle cx="430.9" cy="346.2" r="2.85"/><circle cx="431" cy="347.7" r="2.85"/><circle cx="430.8" cy="349.1" r="2.85"/><circle cx="430.9" cy="350.2" r="2.85"/><circle cx="430.9" cy="351.6" r="2.85"/><circle cx="431" cy="353.1" r="2.85"/><circle cx="430.9" cy="354.4" r="2.85"/><circle cx="431" cy="356.4" r="2.85"/><circle cx="431.1" cy="357.7" r="2.85"/></g>
<g fill="#106010"><circle cx="430.7" cy="308.3" r="2.85"/><circle cx="430.6" cy="311.5" r="2.85"/><circle cx="430.7" cy="314.5" r="2.85"/><circle cx="430.7" cy="316.3" r="2.85"/><circle cx="430.5" cy="318.8" r="2.85"/><circle cx="430.5" cy="320.8" r="2.85"/><circle cx="430.5" cy="322.8" r="2.85"/><circle cx="430.6" cy="324.9" r="2.85"/><circle cx="430.6" cy="327.7" r="2.85"/><circle cx="430.6" cy="330.4" r="2.85"/><circle cx="430.7" cy="332.3" r="2.85"/><circle cx="430.6" cy="334.5" r="2.85"/><circle cx="430.6" cy="336.3" r="2.85"/><circle cx="430.6" cy="337.7" r="2.85"/></g>
<g fill="#031503"><circle cx="432.6" cy="308.3" r="2.85"/><circle cx="432.7" cy="310.2" r="2.85"/><circle cx="432.6" cy="311.3" r="2.85"/><circle cx="432.7" cy="312.8" r="2.85"/><circle cx="432.6" cy="314" r="2.85"/><circle cx="432.5" cy="315.7" r="2.85"/><circle cx="432.5" cy="317.1" r="2.85"/><circle cx="432.7" cy="318.9" r="2.85"/><circle cx="432.6" cy="320.6" r="2.85"/><circle cx="432.5" cy="322.5" r="2.85"/><circle cx="432.6" cy="324.1" r="2.85"/><circle cx="432.5" cy="325.7" r="2.85"/><circle cx="432.5" cy="327.6" r="2.85"/><circle cx="432.7" cy="329.4" r="2.85"/><circle cx="432.6" cy="330.7" r="2.85"/><circle cx="432.7" cy="331.8" r="2.85"/><circle cx="432.7" cy="333.7" r="2.85"/><circle cx="432.6" cy="334.8" r="2.85"/><circle cx="432.6" cy="336.7" r="2.85"/><circle cx="432.6" cy="337.7" r="2.85"/></g>
<g fill="#109010"><circle cx="434.9" cy="342.3" r="2.85"/><circle cx="434.9" cy="344.5" r="2.85"/><circle cx="435" cy="347.3" r="2.85"/><circle cx="435.1" cy="350.2" r="2.85"/><circle cx="435" cy="352.4" r="2.85"/><circle cx="435.1" cy="353.7" r="2.85"/></g>
<g fill="#909090"><circle cx="427.9" cy="339.8" r="2.85"/><circle cx="428.1" cy="342.7" r="2.85"/><circle cx="428" cy="345.1" r="2.85"/><circle cx="427.9" cy="348.1" r="2.85"/><circle cx="428" cy="348.7" r="2.85"/></g>
<g fill="#f0f0f0"><circle cx="432.1" cy="359.3" r="2.85"/><circle cx="432.2" cy="361.7" r="2.85"/></g>
<g fill="#252515"><circle cx="435.1" cy="287.3" r="2.85"/><circle cx="435.1" cy="288.5" r="2.85"/><circle cx="435.2" cy="290.2" r="2.85"/><circle cx="435.3" cy="292" r="2.85"/><circle cx="435.2" cy="293.8" r="2.85"/><circle cx="435.4" cy="295.3" r="2.85"/><circle cx="435.5" cy="297.2" r="2.85"/><circle cx="435.5" cy="298.4" r="2.85"/><circle cx="435.5" cy="299.6" r="2.85"/><circle cx="435.6" cy="300.8" r="2.85"/><circle cx="435.7" cy="302.4" r="2.85"/><circle cx="435.7" cy="304" r="2.85"/><circle cx="435.8" cy="305.4" r="2.85"/><circle cx="435.9" cy="307" r="2.85"/><circle cx="435.8" cy="308.1" r="2.85"/><circle cx="435.9" cy="309.3" r="2.85"/><circle cx="436" cy="311.3" r="2.85"/><circle cx="436.1" cy="313.3" r="2.85"/><circle cx="436" cy="314.5" r="2.85"/><circle cx="436.1" cy="316.2" r="2.85"/><circle cx="436.2" cy="317.8" r="2.85"/><circle cx="436.3" cy="319.5" r="2.85"/><circle cx="436.2" cy="321.4" r="2.85"/><circle cx="436.5" cy="323.1" r="2.85"/><circle cx="436.5" cy="325.2" r="2.85"/><circle cx="436.6" cy="326.9" r="2.85"/><circle cx="436.6" cy="328.9" r="2.85"/><circle cx="436.5" cy="330.2" r="2.85"/><circle cx="436.7" cy="332.1" r="2.85"/><circle cx="436.8" cy="333.5" r="2.85"/><circle cx="436.7" cy="335.5" r="2.85"/><circle cx="437" cy="337.4" r="2.85"/><circle cx="436.9" cy="337.7" r="2.85"/></g>
<g fill="#e020e0"><circle cx="438.4" cy="312.3" r="2.85"/><circle cx="438.5" cy="314.7" r="2.85"/><circle cx="438.4" cy="316.5" r="2.85"/><circle cx="438.5" cy="318.7" r="2.85"/><circle cx="438.5" cy="320.9" r="2.85"/><circle cx="438.5" cy="322.7" r="2.85"/></g>
<g fill="#310731"><circle cx="440.5" cy="312.3" r="2.85"/><circle cx="440.6" cy="314" r="2.85"/><circle cx="440.4" cy="315.6" r="2.85"/><circle cx="440.5" cy="316.8" r="2.85"/><circle cx="440.4" cy="318.4" r="2.85"/><circle cx="440.6" cy="319.9" r="2.85"/><circle cx="440.5" cy="321.6" r="2.85"/><circle cx="440.5" cy="322.7" r="2.85"/></g>
<g fill="#c8c070"><circle cx="437.7" cy="329.8" r="2.85"/><circle cx="437.9" cy="332.1" r="2.85"/><circle cx="437.7" cy="334.2" r="2.85"/><circle cx="437.8" cy="336.1" r="2.85"/><circle cx="437.8" cy="338.7" r="2.85"/><circle cx="437.8" cy="341.2" r="2.85"/><circle cx="437.9" cy="342.7" r="2.85"/></g>
<g fill="#2a3418"><circle cx="440.5" cy="232.3" r="2.85"/><circle cx="440.5" cy="233.7" r="2.85"/></g>
<g fill="#6b8040"><circle cx="440.6" cy="238.3" r="2.85"/><circle cx="440.7" cy="240.1" r="2.85"/><circle cx="440.8" cy="242.4" r="2.85"/><circle cx="440.8" cy="244.4" r="2.85"/><circle cx="440.7" cy="246.9" r="2.85"/><circle cx="440.8" cy="249.7" r="2.85"/><circle cx="440.7" cy="251.5" r="2.85"/><circle cx="440.9" cy="253.1" r="2.85"/><circle cx="441" cy="254.9" r="2.85"/><circle cx="441" cy="256.9" r="2.85"/><circle cx="440.9" cy="258.7" r="2.85"/><circle cx="440.9" cy="259.7" r="2.85"/></g>
<g fill="#2a3418"><circle cx="441.9" cy="263.3" r="2.85"/><circle cx="442" cy="265.2" r="2.85"/><circle cx="441.9" cy="266.8" r="2.85"/><circle cx="442.1" cy="267.7" r="2.85"/></g>
<g fill="#6b3a00"><circle cx="442.1" cy="271.3" r="2.85"/><circle cx="442" cy="273.2" r="2.85"/><circle cx="442" cy="274.6" r="2.85"/><circle cx="442" cy="275.7" r="2.85"/><circle cx="442.1" cy="276.7" r="2.85"/></g>
<g fill="#6b3a00"><circle cx="442.3" cy="312.3" r="2.85"/><circle cx="442.1" cy="313.7" r="2.85"/></g>
<g fill="#452712"><circle cx="442" cy="318.3" r="2.85"/><circle cx="442" cy="320.4" r="2.85"/><circle cx="442" cy="321.9" r="2.85"/><circle cx="442.1" cy="323.5" r="2.85"/><circle cx="442.1" cy="324.9" r="2.85"/><circle cx="442.1" cy="326.7" r="2.85"/><circle cx="442" cy="328.7" r="2.85"/><circle cx="442" cy="330.3" r="2.85"/><circle cx="442" cy="332.3" r="2.85"/><circle cx="442" cy="333.8" r="2.85"/><circle cx="441.9" cy="335.3" r="2.85"/><circle cx="442" cy="337.2" r="2.85"/><circle cx="442.1" cy="339.2" r="2.85"/><circle cx="441.9" cy="341.1" r="2.85"/><circle cx="442.1" cy="342.9" r="2.85"/><circle cx="442" cy="344.8" r="2.85"/><circle cx="442.1" cy="346.8" r="2.85"/><circle cx="442.1" cy="348.8" r="2.85"/><circle cx="442.1" cy="350.5" r="2.85"/><circle cx="442.1" cy="351.9" r="2.85"/><circle cx="442" cy="353.1" r="2.85"/><circle cx="441.9" cy="354.7" r="2.85"/><circle cx="442.1" cy="356.2" r="2.85"/><circle cx="442.1" cy="357.3" r="2.85"/><circle cx="442.1" cy="359.4" r="2.85"/><circle cx="441.9" cy="360.8" r="2.85"/><circle cx="442" cy="362.8" r="2.85"/><circle cx="442" cy="363.9" r="2.85"/><circle cx="442" cy="365.4" r="2.85"/><circle cx="442" cy="367.3" r="2.85"/><circle cx="442" cy="369" r="2.85"/><circle cx="442.1" cy="370.8" r="2.85"/><circle cx="442" cy="372.4" r="2.85"/><circle cx="442.1" cy="373.6" r="2.85"/><circle cx="442.1" cy="375.5" r="2.85"/><circle cx="441.9" cy="377.4" r="2.85"/><circle cx="442.1" cy="378.9" r="2.85"/><circle cx="442" cy="380.6" r="2.85"/><circle cx="442" cy="382.5" r="2.85"/><circle cx="442" cy="384.1" r="2.85"/><circle cx="442.1" cy="385.7" r="2.85"/><circle cx="442" cy="387.2" r="2.85"/><circle cx="442" cy="389.1" r="2.85"/><circle cx="442" cy="390.9" r="2.85"/><circle cx="442.1" cy="392.3" r="2.85"/><circle cx="442" cy="393.7" r="2.85"/></g>
<g fill="#9932cc"><circle cx="442.6" cy="318.3" r="2.85"/><circle cx="442.5" cy="321" r="2.85"/><circle cx="442.6" cy="324.3" r="2.85"/><circle cx="442.5" cy="326.4" r="2.85"/><circle cx="442.6" cy="328.2" r="2.85"/><circle cx="442.6" cy="331.3" r="2.85"/><circle cx="442.5" cy="333.8" r="2.85"/><circle cx="442.5" cy="336.5" r="2.85"/><circle cx="442.5" cy="336.7" r="2.85"/></g>
<g fill="#210b2c"><circle cx="444.5" cy="318.3" r="2.85"/><circle cx="444.4" cy="319.7" r="2.85"/><circle cx="444.4" cy="321.1" r="2.85"/><circle cx="444.6" cy="322.9" r="2.85"/><circle cx="444.5" cy="324" r="2.85"/><circle cx="444.5" cy="325.9" r="2.85"/><circle cx="444.5" cy="327.7" r="2.85"/><circle cx="444.4" cy="329.3" r="2.85"/><circle cx="444.4" cy="330.9" r="2.85"/><circle cx="444.5" cy="332.2" r="2.85"/><circle cx="444.5" cy="333.9" r="2.85"/><circle cx="444.4" cy="335.8" r="2.85"/><circle cx="444.5" cy="336.7" r="2.85"/></g>
<g fill="#3a1c12"><circle cx="446.1" cy="306.3" r="2.85"/><circle cx="446" cy="307.6" r="2.85"/><circle cx="446.2" cy="308.9" r="2.85"/><circle cx="446.2" cy="310.6" r="2.85"/><circle cx="446.2" cy="312" r="2.85"/><circle cx="446.1" cy="313.7" r="2.85"/><circle cx="446.2" cy="315.5" r="2.85"/><circle cx="446.2" cy="316.9" r="2.85"/><circle cx="446.3" cy="317.9" r="2.85"/><circle cx="446.4" cy="319.7" r="2.85"/><circle cx="446.2" cy="321.3" r="2.85"/><circle cx="446.4" cy="322.9" r="2.85"/><circle cx="446.3" cy="324.5" r="2.85"/><circle cx="446.3" cy="326.1" r="2.85"/><circle cx="446.3" cy="327.9" r="2.85"/><circle cx="446.4" cy="329" r="2.85"/><circle cx="446.4" cy="329.7" r="2.85"/></g>
<g fill="#cc0000"><circle cx="448" cy="226.8" r="2.85"/><circle cx="447.9" cy="229.1" r="2.85"/><circle cx="448" cy="232" r="2.85"/><circle cx="447.9" cy="233.9" r="2.85"/><circle cx="447.9" cy="235.9" r="2.85"/><circle cx="448" cy="238" r="2.85"/><circle cx="448.1" cy="240.5" r="2.85"/><circle cx="448.1" cy="242.6" r="2.85"/><circle cx="448.1" cy="245.2" r="2.85"/><circle cx="448" cy="247" r="2.85"/><circle cx="448" cy="248.6" r="2.85"/><circle cx="448" cy="251.1" r="2.85"/><circle cx="448" cy="253.7" r="2.85"/><circle cx="448" cy="255.5" r="2.85"/><circle cx="448" cy="257.1" r="2.85"/><circle cx="448.1" cy="259.7" r="2.85"/><circle cx="448" cy="261.4" r="2.85"/><circle cx="448" cy="262.7" r="2.85"/></g>
<g fill="#b00000"><circle cx="447.4" cy="267.3" r="2.85"/><circle cx="447.4" cy="270.1" r="2.85"/><circle cx="447.4" cy="273.3" r="2.85"/><circle cx="447.2" cy="275.5" r="2.85"/><circle cx="447.3" cy="277.9" r="2.85"/><circle cx="447.1" cy="280.3" r="2.85"/><circle cx="447.2" cy="282.3" r="2.85"/><circle cx="447.2" cy="284.6" r="2.85"/><circle cx="447" cy="287.6" r="2.85"/><circle cx="447" cy="289.6" r="2.85"/><circle cx="447" cy="289.7" r="2.85"/></g>
<g fill="#260000"><circle cx="449.3" cy="267.3" r="2.85"/><circle cx="449.5" cy="268.6" r="2.85"/><circle cx="449.4" cy="270.5" r="2.85"/><circle cx="449.4" cy="272.3" r="2.85"/><circle cx="449.4" cy="274.1" r="2.85"/><circle cx="449.4" cy="275.5" r="2.85"/><circle cx="449.2" cy="277" r="2.85"/><circle cx="449.2" cy="278.2" r="2.85"/><circle cx="449.3" cy="279.7" r="2.85"/><circle cx="449.1" cy="281.6" r="2.85"/><circle cx="449.3" cy="282.7" r="2.85"/><circle cx="449.2" cy="284.1" r="2.85"/><circle cx="449.1" cy="285.3" r="2.85"/><circle cx="449.1" cy="287.1" r="2.85"/><circle cx="449" cy="288.5" r="2.85"/><circle cx="449.1" cy="289.7" r="2.85"/></g>
<g fill="#ffa010"><circle cx="442.3" cy="281.3" r="2.85"/><circle cx="442.4" cy="284" r="2.85"/><circle cx="442.4" cy="285.7" r="2.85"/><circle cx="442.4" cy="287.5" r="2.85"/><circle cx="442.3" cy="290.1" r="2.85"/><circle cx="442.4" cy="292.3" r="2.85"/><circle cx="442.4" cy="295" r="2.85"/><circle cx="442.4" cy="297.2" r="2.85"/><circle cx="442.3" cy="300.2" r="2.85"/><circle cx="442.5" cy="303" r="2.85"/><circle cx="442.5" cy="305" r="2.85"/><circle cx="442.4" cy="307.4" r="2.85"/><circle cx="442.6" cy="307.7" r="2.85"/></g>
<g fill="#ffa58a"><circle cx="447.9" cy="334.3" r="2.85"/><circle cx="448" cy="336.8" r="2.85"/><circle cx="447.9" cy="339.5" r="2.85"/><circle cx="448" cy="342.3" r="2.85"/><circle cx="447.9" cy="344.8" r="2.85"/><circle cx="447.9" cy="345.7" r="2.85"/></g>
<g fill="#2a1030"><circle cx="448.1" cy="351.3" r="2.85"/><circle cx="448" cy="352.6" r="2.85"/><circle cx="448" cy="353.8" r="2.85"/><circle cx="448.1" cy="355.5" r="2.85"/><circle cx="448" cy="357" r="2.85"/><circle cx="447.9" cy="358.6" r="2.85"/><circle cx="447.9" cy="359.7" r="2.85"/><circle cx="447.9" cy="361.4" r="2.85"/><circle cx="447.9" cy="362.7" r="2.85"/><circle cx="448.1" cy="363.9" r="2.85"/><circle cx="448" cy="365.1" r="2.85"/><circle cx="448" cy="366.4" r="2.85"/><circle cx="448.1" cy="367.9" r="2.85"/><circle cx="448" cy="369.2" r="2.85"/><circle cx="448" cy="370.7" r="2.85"/><circle cx="447.9" cy="372" r="2.85"/><circle cx="448" cy="373.8" r="2.85"/><circle cx="447.9" cy="375.8" r="2.85"/><circle cx="448.1" cy="377.2" r="2.85"/><circle cx="448" cy="378.4" r="2.85"/><circle cx="448.1" cy="380.4" r="2.85"/><circle cx="447.9" cy="381.6" r="2.85"/><circle cx="447.9" cy="383.4" r="2.85"/><circle cx="448.1" cy="385.2" r="2.85"/><circle cx="447.9" cy="386.8" r="2.85"/><circle cx="448.1" cy="388.8" r="2.85"/><circle cx="448" cy="390.1" r="2.85"/><circle cx="447.9" cy="391.9" r="2.85"/><circle cx="448.1" cy="393.9" r="2.85"/><circle cx="448" cy="394.7" r="2.85"/></g>
<g fill="#d00000"><circle cx="448" cy="354" r="2.85"/></g>
<g fill="#a040d0"><circle cx="448.1" cy="361.3" r="2.85"/><circle cx="448.1" cy="364.7" r="2.85"/><circle cx="448" cy="364.7" r="2.85"/></g>
<g fill="#c00000"><circle cx="448" cy="371" r="2.85"/></g>
<g fill="#a040d0"><circle cx="448.1" cy="379.8" r="2.85"/><circle cx="447.9" cy="382.5" r="2.85"/><circle cx="447.9" cy="385.2" r="2.85"/><circle cx="447.9" cy="387.8" r="2.85"/><circle cx="448" cy="389.5" r="2.85"/><circle cx="447.9" cy="391.7" r="2.85"/></g>
<g fill="#3a1050"><circle cx="448" cy="396" r="2.85"/></g>
<g fill="#8fbc8f"><circle cx="452.6" cy="249.8" r="2.85"/><circle cx="452.6" cy="252.6" r="2.85"/><circle cx="452.5" cy="254.8" r="2.85"/><circle cx="452.4" cy="257.7" r="2.85"/><circle cx="452.5" cy="260.4" r="2.85"/><circle cx="452.5" cy="262.6" r="2.85"/><circle cx="452.5" cy="264.4" r="2.85"/><circle cx="452.6" cy="266.6" r="2.85"/><circle cx="452.6" cy="266.7" r="2.85"/></g>
<g fill="#2a402a"><circle cx="453.5" cy="271.5" r="2.85"/></g>
<g fill="#a0d0a0"><circle cx="453.6" cy="275.3" r="2.85"/><circle cx="453.7" cy="277.9" r="2.85"/><circle cx="453.6" cy="280.7" r="2.85"/><circle cx="453.8" cy="282.6" r="2.85"/><circle cx="453.7" cy="285.6" r="2.85"/><circle cx="453.7" cy="288.3" r="2.85"/><circle cx="453.8" cy="290.1" r="2.85"/><circle cx="453.8" cy="292" r="2.85"/><circle cx="453.8" cy="294.6" r="2.85"/><circle cx="453.8" cy="296.7" r="2.85"/><circle cx="453.7" cy="299.8" r="2.85"/><circle cx="453.7" cy="301.9" r="2.85"/><circle cx="453.8" cy="302.7" r="2.85"/></g>
<g fill="#7b68ee"><circle cx="453.1" cy="337.3" r="2.85"/><circle cx="453.1" cy="339.2" r="2.85"/><circle cx="453.1" cy="341.9" r="2.85"/><circle cx="453" cy="344.2" r="2.85"/><circle cx="453" cy="345.7" r="2.85"/></g>
<g fill="#1b1634"><circle cx="454.9" cy="337.3" r="2.85"/><circle cx="455" cy="339.2" r="2.85"/><circle cx="454.9" cy="341.1" r="2.85"/><circle cx="455.1" cy="342.7" r="2.85"/><circle cx="455" cy="343.8" r="2.85"/><circle cx="454.9" cy="345.7" r="2.85"/><circle cx="455.1" cy="345.7" r="2.85"/></g>
<g fill="#184545"><circle cx="455.1" cy="302.3" r="2.85"/><circle cx="455.1" cy="304.4" r="2.85"/><circle cx="454.9" cy="306.1" r="2.85"/><circle cx="455" cy="308.2" r="2.85"/><circle cx="454.9" cy="310.1" r="2.85"/><circle cx="455" cy="311.7" r="2.85"/><circle cx="455" cy="313.6" r="2.85"/><circle cx="455.1" cy="315.6" r="2.85"/><circle cx="455" cy="317.4" r="2.85"/><circle cx="455.1" cy="318.6" r="2.85"/><circle cx="455.1" cy="320.1" r="2.85"/><circle cx="455" cy="321.8" r="2.85"/><circle cx="454.9" cy="323.3" r="2.85"/><circle cx="454.9" cy="324.6" r="2.85"/><circle cx="455" cy="326.2" r="2.85"/><circle cx="454.9" cy="327.4" r="2.85"/><circle cx="455.1" cy="329" r="2.85"/><circle cx="454.9" cy="330.2" r="2.85"/><circle cx="454.9" cy="332" r="2.85"/><circle cx="455.1" cy="333.3" r="2.85"/><circle cx="455" cy="335.4" r="2.85"/><circle cx="455" cy="336.6" r="2.85"/><circle cx="455" cy="338.3" r="2.85"/><circle cx="454.9" cy="340.1" r="2.85"/><circle cx="455" cy="341.4" r="2.85"/><circle cx="455" cy="343.1" r="2.85"/><circle cx="455.1" cy="344.7" r="2.85"/><circle cx="455.1" cy="346.4" r="2.85"/><circle cx="455" cy="347.7" r="2.85"/><circle cx="454.9" cy="349.3" r="2.85"/><circle cx="455" cy="351.2" r="2.85"/><circle cx="455.1" cy="353" r="2.85"/><circle cx="454.9" cy="354.3" r="2.85"/><circle cx="455" cy="355.7" r="2.85"/><circle cx="455" cy="357.7" r="2.85"/><circle cx="455.1" cy="358.9" r="2.85"/><circle cx="454.9" cy="360.5" r="2.85"/><circle cx="455" cy="362.1" r="2.85"/><circle cx="455" cy="363.6" r="2.85"/><circle cx="455" cy="364.7" r="2.85"/><circle cx="455.1" cy="366" r="2.85"/><circle cx="454.9" cy="367.9" r="2.85"/><circle cx="455" cy="369.4" r="2.85"/><circle cx="455" cy="370.8" r="2.85"/><circle cx="455.1" cy="372.4" r="2.85"/><circle cx="455.1" cy="373.6" r="2.85"/><circle cx="455" cy="373.7" r="2.85"/></g>
<g fill="#5f8f8f"><circle cx="457" cy="300.3" r="2.85"/><circle cx="457.1" cy="302.3" r="2.85"/><circle cx="456.9" cy="305.2" r="2.85"/><circle cx="457.1" cy="308" r="2.85"/><circle cx="457" cy="310.6" r="2.85"/><circle cx="457.1" cy="313.4" r="2.85"/><circle cx="457" cy="316.6" r="2.85"/><circle cx="457.1" cy="318.7" r="2.85"/></g>
<g fill="#00ced1"><circle cx="461.4" cy="301.3" r="2.85"/><circle cx="461.3" cy="304.1" r="2.85"/><circle cx="461.4" cy="306.8" r="2.85"/><circle cx="461.2" cy="308.9" r="2.85"/><circle cx="461.3" cy="311.2" r="2.85"/><circle cx="461.2" cy="311.7" r="2.85"/></g>
<g fill="#45155d"><circle cx="458.9" cy="323.3" r="2.85"/><circle cx="459.1" cy="324.6" r="2.85"/><circle cx="458.9" cy="326" r="2.85"/><circle cx="459.1" cy="327.1" r="2.85"/><circle cx="459" cy="328.8" r="2.85"/><circle cx="458.9" cy="330.5" r="2.85"/><circle cx="458.9" cy="332" r="2.85"/><circle cx="459" cy="333.9" r="2.85"/><circle cx="459" cy="335.6" r="2.85"/><circle cx="458.9" cy="337.3" r="2.85"/><circle cx="458.9" cy="338.5" r="2.85"/><circle cx="458.9" cy="340" r="2.85"/><circle cx="459.1" cy="341.1" r="2.85"/><circle cx="459.1" cy="342.4" r="2.85"/><circle cx="458.9" cy="344.3" r="2.85"/><circle cx="459" cy="345.6" r="2.85"/><circle cx="459" cy="347.3" r="2.85"/><circle cx="459.1" cy="348.7" r="2.85"/><circle cx="458.9" cy="350.5" r="2.85"/><circle cx="459" cy="352.5" r="2.85"/><circle cx="459" cy="354.4" r="2.85"/><circle cx="458.9" cy="356.4" r="2.85"/><circle cx="459" cy="358.5" r="2.85"/><circle cx="459.1" cy="360" r="2.85"/><circle cx="459" cy="362.1" r="2.85"/><circle cx="458.9" cy="363.9" r="2.85"/><circle cx="459" cy="365.3" r="2.85"/><circle cx="459" cy="366.7" r="2.85"/><circle cx="458.9" cy="368.3" r="2.85"/><circle cx="459" cy="370.3" r="2.85"/><circle cx="459" cy="371.5" r="2.85"/><circle cx="459" cy="373.5" r="2.85"/><circle cx="458.9" cy="375.2" r="2.85"/><circle cx="459.1" cy="376.9" r="2.85"/><circle cx="458.9" cy="378.4" r="2.85"/><circle cx="459.1" cy="379.9" r="2.85"/><circle cx="458.9" cy="381.4" r="2.85"/><circle cx="459" cy="383.2" r="2.85"/><circle cx="459" cy="384.8" r="2.85"/><circle cx="459" cy="386.6" r="2.85"/><circle cx="459" cy="388.6" r="2.85"/><circle cx="459.1" cy="388.7" r="2.85"/></g>
<g fill="#9400d3"><circle cx="459.1" cy="357.3" r="2.85"/><circle cx="458.9" cy="359.5" r="2.85"/><circle cx="459" cy="361.4" r="2.85"/><circle cx="459" cy="363.4" r="2.85"/><circle cx="459.1" cy="366.5" r="2.85"/><circle cx="459" cy="369.1" r="2.85"/><circle cx="459.1" cy="372" r="2.85"/><circle cx="458.9" cy="374.3" r="2.85"/><circle cx="459" cy="376.6" r="2.85"/><circle cx="459" cy="379.4" r="2.85"/><circle cx="459" cy="381.7" r="2.85"/></g>
<g fill="#20002e"><circle cx="461.1" cy="357.3" r="2.85"/><circle cx="461.1" cy="358.6" r="2.85"/><circle cx="461" cy="359.8" r="2.85"/><circle cx="461.1" cy="361.1" r="2.85"/><circle cx="460.9" cy="362.8" r="2.85"/><circle cx="461" cy="364.5" r="2.85"/><circle cx="461" cy="366.4" r="2.85"/><circle cx="460.9" cy="367.8" r="2.85"/><circle cx="461.1" cy="368.9" r="2.85"/><circle cx="460.9" cy="370.7" r="2.85"/><circle cx="461" cy="372" r="2.85"/><circle cx="460.9" cy="373.7" r="2.85"/><circle cx="461" cy="375.2" r="2.85"/><circle cx="461" cy="376.6" r="2.85"/><circle cx="460.9" cy="377.7" r="2.85"/><circle cx="460.9" cy="378.9" r="2.85"/><circle cx="461" cy="380.7" r="2.85"/><circle cx="461" cy="381.7" r="2.85"/></g>
<g fill="#a020e0"><circle cx="459.1" cy="387.3" r="2.85"/><circle cx="458.9" cy="388.7" r="2.85"/></g>
<g fill="#00bfff"><circle cx="462.8" cy="373.3" r="2.85"/><circle cx="462.7" cy="375.4" r="2.85"/><circle cx="462.8" cy="377.6" r="2.85"/><circle cx="462.8" cy="379.9" r="2.85"/><circle cx="462.9" cy="382.3" r="2.85"/><circle cx="462.9" cy="385.4" r="2.85"/><circle cx="462.8" cy="387.3" r="2.85"/><circle cx="462.7" cy="388.7" r="2.85"/></g>
<g fill="#002a38"><circle cx="464.7" cy="373.3" r="2.85"/><circle cx="464.8" cy="374.7" r="2.85"/><circle cx="464.8" cy="376.5" r="2.85"/><circle cx="464.8" cy="377.9" r="2.85"/><circle cx="464.8" cy="379.3" r="2.85"/><circle cx="464.8" cy="380.9" r="2.85"/><circle cx="464.9" cy="382" r="2.85"/><circle cx="464.8" cy="383.6" r="2.85"/><circle cx="464.9" cy="385.3" r="2.85"/><circle cx="464.8" cy="386.5" r="2.85"/><circle cx="464.8" cy="387.9" r="2.85"/><circle cx="464.8" cy="388.7" r="2.85"/></g>
<g fill="#ff1493"><circle cx="462.8" cy="392.5" r="2.85"/></g>
<g fill="#6a0a4a"><circle cx="465.5" cy="305.3" r="2.85"/><circle cx="465.7" cy="307.1" r="2.85"/><circle cx="465.6" cy="308.5" r="2.85"/><circle cx="465.7" cy="310.2" r="2.85"/><circle cx="465.6" cy="311.4" r="2.85"/><circle cx="465.6" cy="312.7" r="2.85"/></g>
<g fill="#ff1493"><circle cx="465.6" cy="317.3" r="2.85"/><circle cx="465.6" cy="319.8" r="2.85"/><circle cx="465.6" cy="322.8" r="2.85"/><circle cx="465.7" cy="325.5" r="2.85"/><circle cx="465.6" cy="328.3" r="2.85"/><circle cx="465.6" cy="330.8" r="2.85"/><circle cx="465.7" cy="333.4" r="2.85"/><circle cx="465.7" cy="335.3" r="2.85"/><circle cx="465.6" cy="337.7" r="2.85"/></g>
<g fill="#40e0d0"><circle cx="464.8" cy="342.3" r="2.85"/><circle cx="464.9" cy="345.3" r="2.85"/><circle cx="464.9" cy="347.7" r="2.85"/></g>
<g fill="#0e312d"><circle cx="466.9" cy="342.3" r="2.85"/><circle cx="466.9" cy="344" r="2.85"/><circle cx="466.8" cy="345.4" r="2.85"/><circle cx="466.8" cy="346.9" r="2.85"/><circle cx="466.9" cy="347.7" r="2.85"/></g>
<g fill="#152d5d"><circle cx="469.3" cy="288.3" r="2.85"/><circle cx="469.5" cy="289.4" r="2.85"/><circle cx="469.5" cy="290.9" r="2.85"/><circle cx="469.5" cy="292.3" r="2.85"/><circle cx="469.3" cy="294" r="2.85"/><circle cx="469.4" cy="295.5" r="2.85"/><circle cx="469.5" cy="297.2" r="2.85"/><circle cx="469.4" cy="299.2" r="2.85"/><circle cx="469.4" cy="300.7" r="2.85"/><circle cx="469.4" cy="301.9" r="2.85"/><circle cx="469.5" cy="303" r="2.85"/><circle cx="469.4" cy="305" r="2.85"/><circle cx="469.4" cy="306.5" r="2.85"/><circle cx="469.4" cy="308.1" r="2.85"/><circle cx="469.4" cy="309.2" r="2.85"/><circle cx="469.3" cy="310.4" r="2.85"/><circle cx="469.4" cy="311.6" r="2.85"/><circle cx="469.5" cy="313.5" r="2.85"/><circle cx="469.4" cy="314.7" r="2.85"/><circle cx="469.3" cy="316.1" r="2.85"/><circle cx="469.4" cy="317.7" r="2.85"/><circle cx="469.5" cy="319.4" r="2.85"/><circle cx="469.3" cy="320.7" r="2.85"/><circle cx="469.4" cy="322.4" r="2.85"/><circle cx="469.4" cy="324.2" r="2.85"/><circle cx="469.4" cy="326.2" r="2.85"/><circle cx="469.4" cy="327.5" r="2.85"/><circle cx="469.3" cy="328.9" r="2.85"/><circle cx="469.4" cy="330.1" r="2.85"/><circle cx="469.3" cy="331.5" r="2.85"/><circle cx="469.4" cy="332.8" r="2.85"/><circle cx="469.4" cy="333.9" r="2.85"/><circle cx="469.5" cy="334.7" r="2.85"/></g>
<g fill="#4169e1"><circle cx="469.5" cy="302.3" r="2.85"/><circle cx="469.3" cy="304.2" r="2.85"/><circle cx="469.5" cy="307.4" r="2.85"/><circle cx="469.4" cy="309.7" r="2.85"/></g>
<g fill="#0e1731"><circle cx="471.4" cy="302.3" r="2.85"/><circle cx="471.5" cy="304" r="2.85"/><circle cx="471.3" cy="305.7" r="2.85"/><circle cx="471.5" cy="307.1" r="2.85"/><circle cx="471.4" cy="309" r="2.85"/><circle cx="471.5" cy="309.7" r="2.85"/></g>
<g fill="#0e2a5a"><circle cx="470.1" cy="339.8" r="2.85"/><circle cx="470.1" cy="341" r="2.85"/><circle cx="469.9" cy="342.1" r="2.85"/><circle cx="469.8" cy="343.7" r="2.85"/><circle cx="469.9" cy="345" r="2.85"/><circle cx="469.9" cy="346.4" r="2.85"/><circle cx="469.9" cy="347.7" r="2.85"/><circle cx="469.9" cy="349.4" r="2.85"/><circle cx="469.8" cy="351.1" r="2.85"/><circle cx="469.9" cy="352.7" r="2.85"/><circle cx="469.7" cy="353.9" r="2.85"/><circle cx="469.7" cy="355" r="2.85"/><circle cx="469.9" cy="356.6" r="2.85"/><circle cx="469.7" cy="357.7" r="2.85"/><circle cx="469.8" cy="359.4" r="2.85"/><circle cx="469.7" cy="360.9" r="2.85"/><circle cx="469.7" cy="362.8" r="2.85"/><circle cx="469.7" cy="364.6" r="2.85"/><circle cx="469.6" cy="366.3" r="2.85"/><circle cx="469.7" cy="368.1" r="2.85"/><circle cx="469.7" cy="369.6" r="2.85"/><circle cx="469.7" cy="370.9" r="2.85"/><circle cx="469.5" cy="372" r="2.85"/><circle cx="469.5" cy="373.7" r="2.85"/><circle cx="469.6" cy="375.3" r="2.85"/><circle cx="469.6" cy="376.9" r="2.85"/><circle cx="469.5" cy="378.4" r="2.85"/><circle cx="469.6" cy="379.9" r="2.85"/><circle cx="469.6" cy="381.8" r="2.85"/><circle cx="469.5" cy="383.2" r="2.85"/><circle cx="469.4" cy="384.3" r="2.85"/><circle cx="469.4" cy="386.3" r="2.85"/><circle cx="469.3" cy="387.7" r="2.85"/></g>
<g fill="#1e90ff"><circle cx="469.9" cy="340.3" r="2.85"/><circle cx="470" cy="342.7" r="2.85"/><circle cx="469.9" cy="345.7" r="2.85"/><circle cx="470.1" cy="348" r="2.85"/><circle cx="470" cy="350.1" r="2.85"/><circle cx="470" cy="352.8" r="2.85"/><circle cx="470.1" cy="356" r="2.85"/><circle cx="470" cy="357.7" r="2.85"/></g>
<g fill="#1e80f0"><circle cx="469.4" cy="374.3" r="2.85"/><circle cx="469.4" cy="376.7" r="2.85"/><circle cx="469.4" cy="379.9" r="2.85"/><circle cx="469.5" cy="382.2" r="2.85"/><circle cx="469.4" cy="384.7" r="2.85"/><circle cx="469.5" cy="385.7" r="2.85"/></g>
<g fill="#061c34"><circle cx="471.4" cy="374.3" r="2.85"/><circle cx="471.4" cy="375.9" r="2.85"/><circle cx="471.3" cy="377.5" r="2.85"/><circle cx="471.3" cy="378.9" r="2.85"/><circle cx="471.5" cy="380.1" r="2.85"/><circle cx="471.3" cy="381.5" r="2.85"/><circle cx="471.5" cy="382.8" r="2.85"/><circle cx="471.4" cy="383.9" r="2.85"/><circle cx="471.5" cy="385.7" r="2.85"/><circle cx="471.5" cy="385.7" r="2.85"/></g>
<g fill="#808080"><circle cx="469.4" cy="393" r="2.85"/></g>
<g fill="#0a0a0a"><circle cx="469.4" cy="398" r="2.85"/></g>
<g fill="#4a0a0a"><circle cx="475.6" cy="270.5" r="2.85"/></g>
<g fill="#c82020"><circle cx="475.6" cy="274.3" r="2.85"/><circle cx="475.7" cy="276.5" r="2.85"/><circle cx="475.7" cy="278.6" r="2.85"/><circle cx="475.7" cy="280.8" r="2.85"/><circle cx="475.6" cy="282.7" r="2.85"/></g>
<g fill="#008000"><circle cx="475.1" cy="289.5" r="2.85"/></g>
<g fill="#0a300a"><circle cx="475.1" cy="294.3" r="2.85"/><circle cx="474.9" cy="296" r="2.85"/><circle cx="474.9" cy="297.5" r="2.85"/><circle cx="474.9" cy="299.1" r="2.85"/><circle cx="475" cy="300.5" r="2.85"/><circle cx="475" cy="302.4" r="2.85"/><circle cx="475.1" cy="304.3" r="2.85"/><circle cx="475.1" cy="305.9" r="2.85"/><circle cx="475" cy="307.5" r="2.85"/><circle cx="475" cy="308.6" r="2.85"/><circle cx="474.9" cy="310.2" r="2.85"/><circle cx="475" cy="312" r="2.85"/><circle cx="475" cy="313.3" r="2.85"/><circle cx="474.9" cy="315.1" r="2.85"/><circle cx="475" cy="316.3" r="2.85"/><circle cx="474.9" cy="318" r="2.85"/><circle cx="475.1" cy="319.3" r="2.85"/><circle cx="475" cy="320.9" r="2.85"/><circle cx="475.1" cy="322.7" r="2.85"/><circle cx="475" cy="323.7" r="2.85"/><circle cx="474.9" cy="325.6" r="2.85"/><circle cx="475.1" cy="327.1" r="2.85"/><circle cx="475" cy="328.3" r="2.85"/><circle cx="475" cy="329.7" r="2.85"/><circle cx="475" cy="329.7" r="2.85"/></g>
<g fill="#ff00ff"><circle cx="479.9" cy="294.8" r="2.85"/><circle cx="480" cy="297.6" r="2.85"/><circle cx="480" cy="300.2" r="2.85"/><circle cx="480.1" cy="302.2" r="2.85"/><circle cx="479.9" cy="305.3" r="2.85"/><circle cx="480" cy="308.3" r="2.85"/><circle cx="479.9" cy="310.6" r="2.85"/><circle cx="479.9" cy="313.6" r="2.85"/><circle cx="480.1" cy="316.7" r="2.85"/><circle cx="480" cy="318.9" r="2.85"/><circle cx="480" cy="320.8" r="2.85"/><circle cx="480.1" cy="322.9" r="2.85"/><circle cx="480" cy="325.3" r="2.85"/><circle cx="480" cy="327.2" r="2.85"/><circle cx="479.9" cy="329.2" r="2.85"/><circle cx="480" cy="330.7" r="2.85"/></g>
<g fill="#e8e8e8"><circle cx="481.4" cy="336.3" r="2.85"/><circle cx="481.4" cy="339.6" r="2.85"/><circle cx="481.2" cy="342.7" r="2.85"/></g>
<g fill="#ff00ff"><circle cx="480.9" cy="348.3" r="2.85"/><circle cx="481" cy="349.7" r="2.85"/></g>
<g fill="#404040"><circle cx="482.6" cy="354.3" r="2.85"/><circle cx="482.4" cy="356.1" r="2.85"/><circle cx="482.5" cy="356.7" r="2.85"/></g>
<g fill="#e8c000"><circle cx="484.9" cy="357.8" r="2.85"/><circle cx="484.9" cy="360.1" r="2.85"/><circle cx="485" cy="362" r="2.85"/><circle cx="485" cy="364.8" r="2.85"/><circle cx="485" cy="366.7" r="2.85"/><circle cx="485" cy="369.5" r="2.85"/><circle cx="484.9" cy="372.3" r="2.85"/><circle cx="484.9" cy="374.6" r="2.85"/><circle cx="485.1" cy="374.7" r="2.85"/></g>
<g fill="#f0c800"><circle cx="485" cy="371" r="2.85"/></g>
<g fill="#5a4a10"><circle cx="485" cy="380.3" r="2.85"/><circle cx="485.1" cy="381.8" r="2.85"/><circle cx="484.9" cy="383.1" r="2.85"/><circle cx="485.1" cy="385.1" r="2.85"/><circle cx="485" cy="386.3" r="2.85"/><circle cx="485.1" cy="387.7" r="2.85"/><circle cx="485" cy="388.7" r="2.85"/></g>
<g fill="#e8c000"><circle cx="485" cy="393.5" r="2.85"/></g>
<g fill="#5a4a10"><circle cx="485.2" cy="399.3" r="2.85"/><circle cx="485.3" cy="400.8" r="2.85"/><circle cx="485.3" cy="402" r="2.85"/><circle cx="485.2" cy="403.4" r="2.85"/><circle cx="485.4" cy="405.4" r="2.85"/><circle cx="485.5" cy="405.7" r="2.85"/></g>
<g fill="#e0a820"><circle cx="485.6" cy="412" r="2.85"/></g>
<g fill="#5a4208"><circle cx="485.4" cy="417.3" r="2.85"/><circle cx="485.3" cy="418.7" r="2.85"/><circle cx="485.4" cy="420.1" r="2.85"/><circle cx="485.3" cy="421.2" r="2.85"/><circle cx="485.3" cy="422.8" r="2.85"/><circle cx="485.4" cy="424.5" r="2.85"/><circle cx="485.4" cy="425.8" r="2.85"/><circle cx="485.3" cy="427.2" r="2.85"/><circle cx="485.3" cy="428.9" r="2.85"/><circle cx="485.4" cy="430.2" r="2.85"/><circle cx="485.4" cy="432.1" r="2.85"/><circle cx="485.3" cy="433.7" r="2.85"/></g>
<g fill="#e0a820"><circle cx="485.3" cy="420.3" r="2.85"/><circle cx="485.4" cy="421.7" r="2.85"/></g>
<g fill="#303030"><circle cx="337.9" cy="328.3" r="2.85"/><circle cx="338.1" cy="330" r="2.85"/><circle cx="338.1" cy="331.4" r="2.85"/><circle cx="338" cy="333.1" r="2.85"/><circle cx="338.1" cy="334.7" r="2.85"/><circle cx="338" cy="335.9" r="2.85"/><circle cx="338" cy="337.1" r="2.85"/><circle cx="337.9" cy="338.6" r="2.85"/><circle cx="338" cy="339.9" r="2.85"/><circle cx="338.1" cy="341.6" r="2.85"/><circle cx="338.1" cy="343.2" r="2.85"/><circle cx="338.1" cy="345" r="2.85"/><circle cx="338" cy="346.9" r="2.85"/><circle cx="338.1" cy="348.6" r="2.85"/><circle cx="338" cy="349.7" r="2.85"/></g>
<g fill="#808080"><circle cx="338" cy="332" r="2.85"/></g>
<g fill="#909090"><circle cx="337.9" cy="351.3" r="2.85"/><circle cx="338" cy="353" r="2.85"/><circle cx="337.8" cy="355.3" r="2.85"/><circle cx="337.7" cy="357.8" r="2.85"/><circle cx="337.7" cy="360.6" r="2.85"/><circle cx="337.7" cy="362.6" r="2.85"/><circle cx="337.5" cy="364.3" r="2.85"/><circle cx="337.7" cy="364.7" r="2.85"/></g>
<g fill="#e8a820"><circle cx="336.7" cy="367.3" r="2.85"/><circle cx="336.8" cy="369.1" r="2.85"/><circle cx="336.7" cy="371" r="2.85"/><circle cx="336.6" cy="373.5" r="2.85"/><circle cx="336.6" cy="376.1" r="2.85"/><circle cx="336.7" cy="378.7" r="2.85"/><circle cx="336.6" cy="381.7" r="2.85"/><circle cx="336.5" cy="383.7" r="2.85"/><circle cx="336.5" cy="385.4" r="2.85"/><circle cx="336.5" cy="387.9" r="2.85"/><circle cx="336.5" cy="390.1" r="2.85"/><circle cx="336.5" cy="392.3" r="2.85"/><circle cx="336.5" cy="394.6" r="2.85"/><circle cx="336.3" cy="397.5" r="2.85"/><circle cx="336.3" cy="399.6" r="2.85"/><circle cx="336.4" cy="402.3" r="2.85"/><circle cx="336.4" cy="403.7" r="2.85"/></g>
<g fill="#151530"><circle cx="543.1" cy="343.3" r="2.85"/><circle cx="543.1" cy="344.5" r="2.85"/><circle cx="543.1" cy="345.8" r="2.85"/><circle cx="543.1" cy="347.4" r="2.85"/><circle cx="543" cy="349.3" r="2.85"/><circle cx="543.1" cy="350.7" r="2.85"/><circle cx="543.3" cy="352.7" r="2.85"/><circle cx="543.3" cy="353.9" r="2.85"/><circle cx="543.4" cy="355.9" r="2.85"/><circle cx="543.2" cy="357.1" r="2.85"/><circle cx="543.4" cy="358.8" r="2.85"/><circle cx="543.4" cy="360.9" r="2.85"/><circle cx="543.4" cy="362.7" r="2.85"/><circle cx="543.5" cy="364.7" r="2.85"/><circle cx="543.5" cy="366.1" r="2.85"/><circle cx="543.5" cy="368.2" r="2.85"/><circle cx="543.5" cy="370.2" r="2.85"/><circle cx="543.5" cy="371.5" r="2.85"/><circle cx="543.5" cy="373.4" r="2.85"/><circle cx="543.6" cy="375.4" r="2.85"/><circle cx="543.6" cy="376.7" r="2.85"/><circle cx="543.7" cy="378.2" r="2.85"/><circle cx="543.7" cy="380.1" r="2.85"/><circle cx="543.7" cy="381.8" r="2.85"/><circle cx="543.9" cy="383.8" r="2.85"/><circle cx="543.8" cy="385.3" r="2.85"/><circle cx="543.7" cy="386.8" r="2.85"/><circle cx="543.8" cy="388.1" r="2.85"/><circle cx="543.9" cy="389.5" r="2.85"/><circle cx="543.8" cy="391.5" r="2.85"/><circle cx="544" cy="392.7" r="2.85"/></g>
<g fill="#152412"><circle cx="549" cy="352.3" r="2.85"/><circle cx="549.1" cy="353.4" r="2.85"/><circle cx="549" cy="355" r="2.85"/><circle cx="549" cy="356.7" r="2.85"/><circle cx="549.1" cy="358.4" r="2.85"/><circle cx="549.1" cy="359.7" r="2.85"/><circle cx="549" cy="361.6" r="2.85"/><circle cx="549" cy="363.7" r="2.85"/><circle cx="549" cy="365.6" r="2.85"/><circle cx="549.1" cy="367.6" r="2.85"/><circle cx="549" cy="369.6" r="2.85"/><circle cx="549" cy="371.1" r="2.85"/><circle cx="549" cy="372.8" r="2.85"/><circle cx="549.1" cy="374.3" r="2.85"/><circle cx="549" cy="376.1" r="2.85"/><circle cx="548.9" cy="377.4" r="2.85"/><circle cx="548.9" cy="378.8" r="2.85"/><circle cx="549" cy="380.3" r="2.85"/><circle cx="548.9" cy="382" r="2.85"/><circle cx="548.9" cy="384" r="2.85"/><circle cx="549" cy="385.5" r="2.85"/><circle cx="549" cy="386.6" r="2.85"/><circle cx="549" cy="388.1" r="2.85"/><circle cx="549.1" cy="390.1" r="2.85"/><circle cx="549" cy="391.3" r="2.85"/><circle cx="549" cy="392.7" r="2.85"/></g>
<g fill="#8d068d"><circle cx="553" cy="342.3" r="2.85"/><circle cx="553" cy="343.8" r="2.85"/><circle cx="553" cy="345.5" r="2.85"/><circle cx="553.1" cy="347.4" r="2.85"/><circle cx="553" cy="349" r="2.85"/><circle cx="552.9" cy="350.6" r="2.85"/><circle cx="553" cy="352" r="2.85"/><circle cx="552.9" cy="353.3" r="2.85"/><circle cx="553.1" cy="354.7" r="2.85"/><circle cx="553" cy="355.9" r="2.85"/><circle cx="552.9" cy="357.3" r="2.85"/><circle cx="552.9" cy="358.4" r="2.85"/><circle cx="553.1" cy="359.9" r="2.85"/><circle cx="552.9" cy="361.6" r="2.85"/><circle cx="552.9" cy="362.8" r="2.85"/><circle cx="553.1" cy="363.7" r="2.85"/></g>
<g fill="#453c12"><circle cx="558" cy="322.3" r="2.85"/><circle cx="558.1" cy="323.5" r="2.85"/><circle cx="558" cy="325" r="2.85"/><circle cx="558" cy="326.5" r="2.85"/><circle cx="558" cy="328.3" r="2.85"/><circle cx="558" cy="330.2" r="2.85"/><circle cx="558" cy="332.2" r="2.85"/><circle cx="558.1" cy="333.6" r="2.85"/><circle cx="558" cy="334.8" r="2.85"/><circle cx="558" cy="336.2" r="2.85"/><circle cx="558" cy="337.3" r="2.85"/><circle cx="558" cy="338.7" r="2.85"/><circle cx="558" cy="340.4" r="2.85"/><circle cx="558" cy="342.4" r="2.85"/><circle cx="558" cy="343.6" r="2.85"/><circle cx="558.1" cy="345" r="2.85"/><circle cx="558" cy="346.9" r="2.85"/><circle cx="558" cy="348.6" r="2.85"/><circle cx="558.1" cy="350.1" r="2.85"/><circle cx="558.1" cy="351.3" r="2.85"/><circle cx="558" cy="352.5" r="2.85"/><circle cx="558" cy="353.8" r="2.85"/><circle cx="557.9" cy="355.5" r="2.85"/><circle cx="558" cy="356.7" r="2.85"/><circle cx="558" cy="358.3" r="2.85"/><circle cx="558" cy="360.2" r="2.85"/><circle cx="557.9" cy="361.3" r="2.85"/><circle cx="558" cy="362.7" r="2.85"/><circle cx="558" cy="363.7" r="2.85"/></g>
<g fill="#241e45"><circle cx="570.7" cy="277.3" r="2.85"/><circle cx="570.7" cy="278.5" r="2.85"/><circle cx="570.7" cy="280.3" r="2.85"/><circle cx="570.7" cy="282.1" r="2.85"/><circle cx="570.6" cy="283.4" r="2.85"/><circle cx="570.5" cy="284.7" r="2.85"/><circle cx="570.6" cy="285.9" r="2.85"/><circle cx="570.6" cy="287.5" r="2.85"/><circle cx="570.6" cy="289.2" r="2.85"/><circle cx="570.5" cy="290.8" r="2.85"/><circle cx="570.5" cy="292.4" r="2.85"/><circle cx="570.7" cy="294.1" r="2.85"/><circle cx="570.6" cy="295.3" r="2.85"/><circle cx="570.6" cy="296.5" r="2.85"/><circle cx="570.6" cy="298.1" r="2.85"/><circle cx="570.7" cy="300.1" r="2.85"/><circle cx="570.5" cy="301.9" r="2.85"/><circle cx="570.6" cy="303.4" r="2.85"/><circle cx="570.5" cy="304.8" r="2.85"/><circle cx="570.7" cy="306" r="2.85"/><circle cx="570.7" cy="307.8" r="2.85"/><circle cx="570.7" cy="309.6" r="2.85"/><circle cx="570.6" cy="311.1" r="2.85"/><circle cx="570.6" cy="312.3" r="2.85"/><circle cx="570.6" cy="313.7" r="2.85"/><circle cx="570.6" cy="315.5" r="2.85"/><circle cx="570.7" cy="317.4" r="2.85"/><circle cx="570.7" cy="318.9" r="2.85"/><circle cx="570.7" cy="320.9" r="2.85"/><circle cx="570.7" cy="322.4" r="2.85"/><circle cx="570.6" cy="323.5" r="2.85"/><circle cx="570.6" cy="324.8" r="2.85"/><circle cx="570.7" cy="326.8" r="2.85"/><circle cx="570.6" cy="328.6" r="2.85"/><circle cx="570.7" cy="329.8" r="2.85"/><circle cx="570.7" cy="331.2" r="2.85"/><circle cx="570.5" cy="332.7" r="2.85"/><circle cx="570.6" cy="334.3" r="2.85"/><circle cx="570.6" cy="335.4" r="2.85"/><circle cx="570.5" cy="337.4" r="2.85"/><circle cx="570.5" cy="339" r="2.85"/><circle cx="570.5" cy="340.4" r="2.85"/><circle cx="570.5" cy="341.6" r="2.85"/><circle cx="570.7" cy="342.7" r="2.85"/></g>
<g fill="#452436"><circle cx="567.1" cy="338.3" r="2.85"/><circle cx="567.1" cy="340.4" r="2.85"/><circle cx="567.1" cy="342.3" r="2.85"/><circle cx="566.9" cy="343.9" r="2.85"/><circle cx="567" cy="345.7" r="2.85"/><circle cx="567.1" cy="347.5" r="2.85"/><circle cx="567.1" cy="349" r="2.85"/><circle cx="566.9" cy="350.7" r="2.85"/><circle cx="567" cy="351.9" r="2.85"/><circle cx="567" cy="353.3" r="2.85"/><circle cx="566.9" cy="354.7" r="2.85"/><circle cx="566.9" cy="356.2" r="2.85"/><circle cx="567.1" cy="357.9" r="2.85"/><circle cx="567" cy="359.3" r="2.85"/><circle cx="567" cy="360.6" r="2.85"/><circle cx="567" cy="361.7" r="2.85"/></g>
<g fill="#2d2d1e"><circle cx="575" cy="302.3" r="2.85"/><circle cx="575.1" cy="303.9" r="2.85"/><circle cx="574.9" cy="305.4" r="2.85"/><circle cx="575.1" cy="306.6" r="2.85"/><circle cx="575" cy="308.4" r="2.85"/><circle cx="575.1" cy="310.3" r="2.85"/><circle cx="575" cy="311.8" r="2.85"/><circle cx="575.1" cy="313.7" r="2.85"/><circle cx="575" cy="315.6" r="2.85"/><circle cx="575" cy="317.4" r="2.85"/><circle cx="575" cy="319.3" r="2.85"/><circle cx="575" cy="321.3" r="2.85"/><circle cx="574.9" cy="322.5" r="2.85"/><circle cx="575" cy="324.5" r="2.85"/><circle cx="575.1" cy="326" r="2.85"/><circle cx="575.1" cy="327.9" r="2.85"/><circle cx="575.1" cy="329.7" r="2.85"/><circle cx="575" cy="331" r="2.85"/><circle cx="575" cy="332.6" r="2.85"/><circle cx="575" cy="333.8" r="2.85"/><circle cx="575" cy="335.7" r="2.85"/><circle cx="575" cy="337.1" r="2.85"/><circle cx="575.1" cy="338.6" r="2.85"/><circle cx="575.1" cy="340" r="2.85"/><circle cx="575" cy="341.9" r="2.85"/><circle cx="574.9" cy="342.7" r="2.85"/></g>
<g fill="#3c2a1e"><circle cx="584.3" cy="338.3" r="2.85"/><circle cx="584.3" cy="339.5" r="2.85"/><circle cx="584.4" cy="341.3" r="2.85"/><circle cx="584.4" cy="342.9" r="2.85"/><circle cx="584.3" cy="344.4" r="2.85"/><circle cx="584.4" cy="345.5" r="2.85"/><circle cx="584.4" cy="347.1" r="2.85"/><circle cx="584.5" cy="349.1" r="2.85"/><circle cx="584.4" cy="350.5" r="2.85"/><circle cx="584.4" cy="352.3" r="2.85"/><circle cx="584.5" cy="354.2" r="2.85"/><circle cx="584.5" cy="355.9" r="2.85"/><circle cx="584.4" cy="357.6" r="2.85"/><circle cx="584.4" cy="359" r="2.85"/><circle cx="584.3" cy="360.8" r="2.85"/><circle cx="584.3" cy="362.4" r="2.85"/><circle cx="584.4" cy="364.5" r="2.85"/><circle cx="584.4" cy="366.1" r="2.85"/><circle cx="584.3" cy="367.6" r="2.85"/><circle cx="584.4" cy="369.5" r="2.85"/><circle cx="584.3" cy="371.3" r="2.85"/><circle cx="584.4" cy="372.7" r="2.85"/><circle cx="584.4" cy="374.5" r="2.85"/><circle cx="584.4" cy="375.7" r="2.85"/><circle cx="584.5" cy="377" r="2.85"/><circle cx="584.4" cy="379" r="2.85"/><circle cx="584.4" cy="380.6" r="2.85"/><circle cx="584.3" cy="382.4" r="2.85"/><circle cx="584.3" cy="383.8" r="2.85"/><circle cx="584.4" cy="385.3" r="2.85"/><circle cx="584.5" cy="386.7" r="2.85"/><circle cx="584.3" cy="388.6" r="2.85"/><circle cx="584.5" cy="390.3" r="2.85"/><circle cx="584.5" cy="391.8" r="2.85"/><circle cx="584.4" cy="392.7" r="2.85"/></g>
<g fill="#244e24"><circle cx="590.6" cy="357.3" r="2.85"/><circle cx="590.6" cy="358.9" r="2.85"/><circle cx="590.6" cy="360.7" r="2.85"/><circle cx="590.5" cy="362.1" r="2.85"/><circle cx="590.7" cy="363.6" r="2.85"/><circle cx="590.7" cy="365.4" r="2.85"/><circle cx="590.5" cy="367" r="2.85"/><circle cx="590.6" cy="368.5" r="2.85"/><circle cx="590.6" cy="370.2" r="2.85"/><circle cx="590.5" cy="371.4" r="2.85"/><circle cx="590.7" cy="373" r="2.85"/><circle cx="590.6" cy="374.4" r="2.85"/><circle cx="590.7" cy="375.7" r="2.85"/><circle cx="590.7" cy="377.3" r="2.85"/><circle cx="590.7" cy="379.1" r="2.85"/><circle cx="590.5" cy="380.7" r="2.85"/><circle cx="590.5" cy="382.3" r="2.85"/><circle cx="590.7" cy="384.1" r="2.85"/><circle cx="590.5" cy="385.6" r="2.85"/><circle cx="590.6" cy="387.7" r="2.85"/><circle cx="590.5" cy="389" r="2.85"/><circle cx="590.6" cy="390.1" r="2.85"/><circle cx="590.5" cy="391.8" r="2.85"/><circle cx="590.5" cy="392.7" r="2.85"/></g>
<g fill="#1e3036"><circle cx="598.1" cy="342.3" r="2.85"/><circle cx="598.1" cy="344.3" r="2.85"/><circle cx="598.1" cy="345.9" r="2.85"/><circle cx="598" cy="347.4" r="2.85"/><circle cx="598.1" cy="349.5" r="2.85"/><circle cx="597.9" cy="351.3" r="2.85"/><circle cx="598.1" cy="352.7" r="2.85"/><circle cx="597.9" cy="354.5" r="2.85"/><circle cx="598" cy="356" r="2.85"/><circle cx="598" cy="357.5" r="2.85"/><circle cx="597.9" cy="359" r="2.85"/><circle cx="598" cy="360.3" r="2.85"/><circle cx="598.1" cy="361.7" r="2.85"/><circle cx="597.9" cy="363.1" r="2.85"/><circle cx="597.9" cy="364.4" r="2.85"/><circle cx="598.1" cy="366.3" r="2.85"/><circle cx="598" cy="367.8" r="2.85"/><circle cx="597.9" cy="369.5" r="2.85"/><circle cx="598" cy="371.4" r="2.85"/><circle cx="598.1" cy="373.2" r="2.85"/><circle cx="597.9" cy="374.4" r="2.85"/><circle cx="597.9" cy="376.5" r="2.85"/><circle cx="598" cy="378.5" r="2.85"/><circle cx="598.1" cy="380.4" r="2.85"/><circle cx="598.1" cy="381.8" r="2.85"/><circle cx="598" cy="383.8" r="2.85"/><circle cx="598" cy="385.5" r="2.85"/><circle cx="597.9" cy="386.6" r="2.85"/><circle cx="597.9" cy="388.1" r="2.85"/><circle cx="598" cy="389.9" r="2.85"/><circle cx="598" cy="391.6" r="2.85"/><circle cx="597.9" cy="392.7" r="2.85"/></g>
<g fill="#2d3c42"><circle cx="604.9" cy="340.3" r="2.85"/><circle cx="605.1" cy="341.5" r="2.85"/><circle cx="605" cy="343.4" r="2.85"/><circle cx="605" cy="344.7" r="2.85"/><circle cx="604.9" cy="345.9" r="2.85"/><circle cx="605.1" cy="347.1" r="2.85"/><circle cx="605" cy="348.3" r="2.85"/><circle cx="605" cy="349.7" r="2.85"/><circle cx="605" cy="351.3" r="2.85"/><circle cx="604.9" cy="353.1" r="2.85"/><circle cx="604.9" cy="354.5" r="2.85"/><circle cx="605.1" cy="356.1" r="2.85"/><circle cx="604.9" cy="357.5" r="2.85"/><circle cx="605" cy="359.2" r="2.85"/><circle cx="605" cy="360.4" r="2.85"/><circle cx="604.9" cy="362.2" r="2.85"/><circle cx="605.1" cy="363.3" r="2.85"/><circle cx="604.9" cy="365.3" r="2.85"/><circle cx="605.1" cy="366.6" r="2.85"/><circle cx="605" cy="368.3" r="2.85"/><circle cx="605" cy="369.6" r="2.85"/><circle cx="605" cy="371.1" r="2.85"/><circle cx="604.9" cy="372.5" r="2.85"/><circle cx="605" cy="374.2" r="2.85"/><circle cx="605.1" cy="376.1" r="2.85"/><circle cx="605.1" cy="378" r="2.85"/><circle cx="605.1" cy="380.1" r="2.85"/><circle cx="605" cy="381.6" r="2.85"/><circle cx="604.9" cy="383.3" r="2.85"/><circle cx="605" cy="384.7" r="2.85"/><circle cx="605" cy="386.1" r="2.85"/><circle cx="604.9" cy="387.7" r="2.85"/><circle cx="605.1" cy="389.7" r="2.85"/></g>
<g fill="#154515"><circle cx="610.1" cy="364.3" r="2.85"/><circle cx="610.1" cy="365.5" r="2.85"/><circle cx="610.1" cy="367.2" r="2.85"/><circle cx="610.2" cy="368.6" r="2.85"/><circle cx="610.1" cy="369.8" r="2.85"/><circle cx="610.3" cy="371.9" r="2.85"/><circle cx="610.3" cy="373.6" r="2.85"/><circle cx="610.5" cy="375.4" r="2.85"/><circle cx="610.3" cy="377.1" r="2.85"/><circle cx="610.6" cy="378.8" r="2.85"/><circle cx="610.6" cy="380.7" r="2.85"/><circle cx="610.5" cy="381.9" r="2.85"/><circle cx="610.5" cy="383.4" r="2.85"/><circle cx="610.8" cy="384.7" r="2.85"/><circle cx="610.8" cy="386.4" r="2.85"/><circle cx="610.7" cy="387.9" r="2.85"/><circle cx="610.9" cy="389.9" r="2.85"/><circle cx="610.9" cy="391.3" r="2.85"/><circle cx="610.8" cy="392.6" r="2.85"/><circle cx="611" cy="393.7" r="2.85"/></g>
<g fill="#154545"><circle cx="620.9" cy="367.3" r="2.85"/><circle cx="621" cy="368.8" r="2.85"/><circle cx="621.1" cy="370.1" r="2.85"/><circle cx="621.1" cy="372" r="2.85"/><circle cx="621" cy="373.8" r="2.85"/><circle cx="621.1" cy="375.2" r="2.85"/><circle cx="621" cy="376.7" r="2.85"/><circle cx="620.9" cy="378.5" r="2.85"/><circle cx="621.1" cy="380" r="2.85"/><circle cx="620.9" cy="381.3" r="2.85"/><circle cx="621.1" cy="382.9" r="2.85"/><circle cx="620.9" cy="385" r="2.85"/><circle cx="621.1" cy="386.2" r="2.85"/><circle cx="621" cy="387.6" r="2.85"/><circle cx="621" cy="389.1" r="2.85"/><circle cx="620.9" cy="391.2" r="2.85"/><circle cx="621" cy="393.3" r="2.85"/><circle cx="621.1" cy="394.4" r="2.85"/><circle cx="621" cy="396.1" r="2.85"/><circle cx="621.1" cy="397.4" r="2.85"/><circle cx="621" cy="397.7" r="2.85"/></g>
<g fill="#154545"><circle cx="628.9" cy="372.3" r="2.85"/><circle cx="628.8" cy="374.3" r="2.85"/><circle cx="628.8" cy="375.5" r="2.85"/><circle cx="628.9" cy="377.4" r="2.85"/><circle cx="628.7" cy="379.1" r="2.85"/><circle cx="628.9" cy="381" r="2.85"/><circle cx="628.7" cy="382.5" r="2.85"/><circle cx="628.6" cy="384" r="2.85"/><circle cx="628.6" cy="385.9" r="2.85"/><circle cx="628.7" cy="387.3" r="2.85"/><circle cx="628.6" cy="388.8" r="2.85"/><circle cx="628.6" cy="390.7" r="2.85"/><circle cx="628.5" cy="392.5" r="2.85"/><circle cx="628.5" cy="394" r="2.85"/><circle cx="628.5" cy="395.2" r="2.85"/><circle cx="628.4" cy="397" r="2.85"/><circle cx="628.4" cy="398.5" r="2.85"/><circle cx="628.5" cy="399.9" r="2.85"/><circle cx="628.4" cy="401.4" r="2.85"/><circle cx="628.3" cy="402.6" r="2.85"/><circle cx="628.3" cy="404.6" r="2.85"/><circle cx="628.2" cy="406.5" r="2.85"/><circle cx="628.1" cy="408.5" r="2.85"/><circle cx="628.1" cy="410.3" r="2.85"/><circle cx="628.2" cy="411.5" r="2.85"/><circle cx="628.1" cy="413.1" r="2.85"/><circle cx="628" cy="415.1" r="2.85"/><circle cx="628" cy="416.3" r="2.85"/><circle cx="628.1" cy="417.7" r="2.85"/></g>
<g fill="#241e45"><circle cx="636" cy="397.3" r="2.85"/><circle cx="636.1" cy="398.6" r="2.85"/><circle cx="636" cy="400.3" r="2.85"/><circle cx="635.9" cy="402.2" r="2.85"/><circle cx="636" cy="403.8" r="2.85"/><circle cx="636.1" cy="405.5" r="2.85"/><circle cx="636" cy="406.9" r="2.85"/><circle cx="636" cy="408.8" r="2.85"/><circle cx="636.1" cy="410.6" r="2.85"/><circle cx="636" cy="411.8" r="2.85"/><circle cx="636.1" cy="413.6" r="2.85"/><circle cx="636.1" cy="414.8" r="2.85"/><circle cx="636.1" cy="416.4" r="2.85"/><circle cx="636.1" cy="417.7" r="2.85"/><circle cx="635.9" cy="417.7" r="2.85"/></g>
<g fill="#2d2412"><circle cx="658.2" cy="378.3" r="2.85"/><circle cx="658.2" cy="379.7" r="2.85"/><circle cx="658.2" cy="381.5" r="2.85"/><circle cx="658.1" cy="383.2" r="2.85"/><circle cx="658.1" cy="385.1" r="2.85"/><circle cx="658.3" cy="387" r="2.85"/><circle cx="658.4" cy="388.4" r="2.85"/><circle cx="658.3" cy="389.7" r="2.85"/><circle cx="658.3" cy="391.4" r="2.85"/><circle cx="658.4" cy="392.7" r="2.85"/><circle cx="658.6" cy="394.3" r="2.85"/><circle cx="658.6" cy="395.6" r="2.85"/><circle cx="658.5" cy="397.1" r="2.85"/><circle cx="658.5" cy="398.9" r="2.85"/><circle cx="658.6" cy="400.6" r="2.85"/><circle cx="658.7" cy="402.3" r="2.85"/><circle cx="658.6" cy="403.5" r="2.85"/><circle cx="658.8" cy="405.5" r="2.85"/><circle cx="658.8" cy="407.3" r="2.85"/><circle cx="658.8" cy="409.3" r="2.85"/><circle cx="658.9" cy="411" r="2.85"/><circle cx="658.9" cy="412.7" r="2.85"/></g>
<g fill="#252518"><circle cx="664.4" cy="371.3" r="2.85"/><circle cx="664.3" cy="373.3" r="2.85"/><circle cx="664.4" cy="374.4" r="2.85"/><circle cx="664.3" cy="375.9" r="2.85"/><circle cx="664.2" cy="377.4" r="2.85"/><circle cx="664.1" cy="378.6" r="2.85"/><circle cx="664.2" cy="379.9" r="2.85"/><circle cx="664.2" cy="382" r="2.85"/><circle cx="664.2" cy="383.9" r="2.85"/><circle cx="663.9" cy="385.4" r="2.85"/><circle cx="663.9" cy="387.4" r="2.85"/><circle cx="663.9" cy="389.4" r="2.85"/><circle cx="664" cy="391.3" r="2.85"/><circle cx="663.8" cy="393.1" r="2.85"/><circle cx="663.9" cy="394.8" r="2.85"/><circle cx="663.7" cy="396.4" r="2.85"/><circle cx="663.7" cy="398.2" r="2.85"/><circle cx="663.8" cy="399.9" r="2.85"/><circle cx="663.6" cy="402" r="2.85"/><circle cx="663.6" cy="403.3" r="2.85"/><circle cx="663.5" cy="405.3" r="2.85"/><circle cx="663.6" cy="407.1" r="2.85"/><circle cx="663.4" cy="408.6" r="2.85"/><circle cx="663.5" cy="410.6" r="2.85"/><circle cx="663.4" cy="412" r="2.85"/><circle cx="663.5" cy="413.5" r="2.85"/><circle cx="663.3" cy="415.1" r="2.85"/><circle cx="663.3" cy="417.2" r="2.85"/><circle cx="663.1" cy="418.6" r="2.85"/><circle cx="663.3" cy="420.5" r="2.85"/><circle cx="663.2" cy="422.2" r="2.85"/><circle cx="663.2" cy="424.2" r="2.85"/><circle cx="663.2" cy="425.6" r="2.85"/><circle cx="663" cy="427.4" r="2.85"/><circle cx="663.1" cy="427.7" r="2.85"/></g>
<g fill="#2d241e"><circle cx="671.9" cy="402.3" r="2.85"/><circle cx="672.1" cy="403.8" r="2.85"/><circle cx="672.1" cy="405.1" r="2.85"/><circle cx="672" cy="407.1" r="2.85"/><circle cx="672" cy="408.8" r="2.85"/><circle cx="671.9" cy="410.3" r="2.85"/><circle cx="672.1" cy="411.5" r="2.85"/><circle cx="672.1" cy="413.2" r="2.85"/><circle cx="672" cy="414.4" r="2.85"/><circle cx="671.9" cy="415.7" r="2.85"/><circle cx="671.9" cy="416.9" r="2.85"/><circle cx="671.9" cy="418.2" r="2.85"/><circle cx="672.1" cy="420" r="2.85"/><circle cx="672" cy="421.4" r="2.85"/><circle cx="671.9" cy="422.7" r="2.85"/></g>
<g fill="#1e1e42"><circle cx="676.9" cy="387.3" r="2.85"/><circle cx="677" cy="388.9" r="2.85"/><circle cx="677" cy="390.1" r="2.85"/><circle cx="677.2" cy="392" r="2.85"/><circle cx="677.1" cy="393.8" r="2.85"/><circle cx="677.3" cy="395.2" r="2.85"/><circle cx="677.3" cy="396.4" r="2.85"/><circle cx="677.4" cy="398.4" r="2.85"/><circle cx="677.5" cy="400.3" r="2.85"/><circle cx="677.5" cy="402.1" r="2.85"/><circle cx="677.4" cy="403.4" r="2.85"/><circle cx="677.5" cy="405.5" r="2.85"/><circle cx="677.6" cy="407.2" r="2.85"/><circle cx="677.5" cy="408.4" r="2.85"/><circle cx="677.7" cy="410.4" r="2.85"/><circle cx="677.6" cy="412.2" r="2.85"/><circle cx="677.7" cy="413.5" r="2.85"/><circle cx="677.7" cy="415.5" r="2.85"/><circle cx="677.9" cy="417.2" r="2.85"/><circle cx="677.8" cy="418.9" r="2.85"/><circle cx="677.9" cy="420.1" r="2.85"/><circle cx="678" cy="421.4" r="2.85"/><circle cx="678" cy="422.7" r="2.85"/></g>
<g fill="#212148"><circle cx="680" cy="382.3" r="2.85"/><circle cx="680.1" cy="383.6" r="2.85"/><circle cx="680.1" cy="384.8" r="2.85"/><circle cx="680" cy="386.2" r="2.85"/><circle cx="680" cy="388" r="2.85"/><circle cx="679.9" cy="389.8" r="2.85"/><circle cx="679.9" cy="391.6" r="2.85"/><circle cx="679.9" cy="393.5" r="2.85"/><circle cx="679.9" cy="394.8" r="2.85"/><circle cx="680" cy="396.4" r="2.85"/><circle cx="680" cy="397.6" r="2.85"/><circle cx="680" cy="399" r="2.85"/><circle cx="680.1" cy="400.7" r="2.85"/><circle cx="679.9" cy="402.1" r="2.85"/><circle cx="680.1" cy="404" r="2.85"/><circle cx="680.1" cy="405.3" r="2.85"/><circle cx="679.9" cy="406.8" r="2.85"/><circle cx="680" cy="408.6" r="2.85"/><circle cx="679.9" cy="409.9" r="2.85"/><circle cx="679.9" cy="411.7" r="2.85"/><circle cx="679.9" cy="413.2" r="2.85"/><circle cx="679.9" cy="414.4" r="2.85"/><circle cx="679.9" cy="415.6" r="2.85"/><circle cx="679.9" cy="417.3" r="2.85"/><circle cx="680.1" cy="419.2" r="2.85"/><circle cx="680.1" cy="421" r="2.85"/><circle cx="680.1" cy="422.7" r="2.85"/></g>
<g fill="#4a4208"><circle cx="562.5" cy="258.8" r="2.85"/></g>
<g fill="#e8c800"><circle cx="562.5" cy="262.3" r="2.85"/><circle cx="562.5" cy="264" r="2.85"/><circle cx="562.5" cy="265.7" r="2.85"/><circle cx="562.5" cy="267.7" r="2.85"/></g>
<g fill="#e8a820"><circle cx="563.4" cy="274.3" r="2.85"/><circle cx="563.4" cy="276.4" r="2.85"/><circle cx="563.5" cy="278.2" r="2.85"/><circle cx="563.6" cy="280" r="2.85"/><circle cx="563.4" cy="282.5" r="2.85"/><circle cx="563.5" cy="285.4" r="2.85"/><circle cx="563.6" cy="287.1" r="2.85"/><circle cx="563.5" cy="289" r="2.85"/><circle cx="563.5" cy="291.3" r="2.85"/><circle cx="563.6" cy="293.3" r="2.85"/><circle cx="563.6" cy="295.6" r="2.85"/><circle cx="563.6" cy="295.7" r="2.85"/></g>
<g fill="#4a3a08"><circle cx="563.6" cy="300.3" r="2.85"/><circle cx="563.7" cy="301.7" r="2.85"/><circle cx="563.6" cy="302.7" r="2.85"/></g>
<g fill="#e8a820"><circle cx="563.8" cy="307.3" r="2.85"/><circle cx="563.7" cy="309.8" r="2.85"/><circle cx="563.9" cy="312.2" r="2.85"/><circle cx="563.8" cy="315.2" r="2.85"/><circle cx="563.8" cy="317.3" r="2.85"/><circle cx="563.9" cy="319.2" r="2.85"/><circle cx="563.9" cy="321.1" r="2.85"/><circle cx="563.9" cy="323.2" r="2.85"/><circle cx="563.8" cy="325" r="2.85"/><circle cx="563.8" cy="328.1" r="2.85"/><circle cx="563.9" cy="330.6" r="2.85"/><circle cx="563.8" cy="333.4" r="2.85"/><circle cx="563.7" cy="333.7" r="2.85"/></g>
<g fill="#e8d000"><circle cx="559.9" cy="311.3" r="2.85"/><circle cx="560" cy="313.8" r="2.85"/><circle cx="560" cy="316" r="2.85"/><circle cx="560" cy="318.1" r="2.85"/><circle cx="560.2" cy="321" r="2.85"/><circle cx="560.3" cy="323.3" r="2.85"/><circle cx="560.4" cy="326" r="2.85"/><circle cx="560.4" cy="328.2" r="2.85"/><circle cx="560.5" cy="330.1" r="2.85"/><circle cx="560.5" cy="332.7" r="2.85"/></g>
<g fill="#332d00"><circle cx="561.9" cy="311.3" r="2.85"/><circle cx="561.9" cy="312.4" r="2.85"/><circle cx="561.9" cy="314.2" r="2.85"/><circle cx="562.1" cy="315.3" r="2.85"/><circle cx="562" cy="316.6" r="2.85"/><circle cx="562.1" cy="318" r="2.85"/><circle cx="562.1" cy="319.6" r="2.85"/><circle cx="562.1" cy="321.3" r="2.85"/><circle cx="562.1" cy="323.2" r="2.85"/><circle cx="562.3" cy="325" r="2.85"/><circle cx="562.3" cy="326.3" r="2.85"/><circle cx="562.4" cy="327.6" r="2.85"/><circle cx="562.5" cy="328.8" r="2.85"/><circle cx="562.4" cy="330.1" r="2.85"/><circle cx="562.4" cy="331.3" r="2.85"/><circle cx="562.5" cy="332.7" r="2.85"/></g>
<g fill="#4a1010"><circle cx="572.3" cy="257.5" r="2.85"/></g>
<g fill="#e06060"><circle cx="572.3" cy="261.3" r="2.85"/><circle cx="572.3" cy="263.6" r="2.85"/><circle cx="572.3" cy="265.9" r="2.85"/><circle cx="572.3" cy="268.1" r="2.85"/><circle cx="572.2" cy="270" r="2.85"/><circle cx="572.4" cy="271.9" r="2.85"/><circle cx="572.3" cy="272.7" r="2.85"/></g>
<g fill="#d05050"><circle cx="569.9" cy="297.3" r="2.85"/><circle cx="570" cy="299.7" r="2.85"/><circle cx="569.9" cy="301.9" r="2.85"/><circle cx="569.9" cy="304.2" r="2.85"/><circle cx="570" cy="307.4" r="2.85"/><circle cx="570" cy="309.8" r="2.85"/><circle cx="570" cy="312.7" r="2.85"/></g>
<g fill="#2d1111"><circle cx="572.1" cy="297.3" r="2.85"/><circle cx="572" cy="298.7" r="2.85"/><circle cx="572.1" cy="300.5" r="2.85"/><circle cx="572.1" cy="301.7" r="2.85"/><circle cx="572.1" cy="303.6" r="2.85"/><circle cx="572.1" cy="305" r="2.85"/><circle cx="572" cy="306.8" r="2.85"/><circle cx="572" cy="308.2" r="2.85"/><circle cx="572.1" cy="309.4" r="2.85"/><circle cx="572.1" cy="311.3" r="2.85"/><circle cx="572.1" cy="312.7" r="2.85"/></g>
<g fill="#f0e68c"><circle cx="577.4" cy="271.3" r="2.85"/><circle cx="577.4" cy="273.5" r="2.85"/><circle cx="577.4" cy="275.7" r="2.85"/><circle cx="577.5" cy="276.7" r="2.85"/></g>
<g fill="#f0e68c"><circle cx="574" cy="308.3" r="2.85"/><circle cx="574.1" cy="310.7" r="2.85"/><circle cx="574.3" cy="313" r="2.85"/><circle cx="574.3" cy="315.4" r="2.85"/><circle cx="574.4" cy="317.2" r="2.85"/><circle cx="574.4" cy="319.5" r="2.85"/><circle cx="574.3" cy="319.7" r="2.85"/></g>
<g fill="#34321e"><circle cx="576" cy="308.3" r="2.85"/><circle cx="576.1" cy="309.4" r="2.85"/><circle cx="576.1" cy="310.5" r="2.85"/><circle cx="576.2" cy="312" r="2.85"/><circle cx="576.3" cy="313.8" r="2.85"/><circle cx="576.1" cy="315.2" r="2.85"/><circle cx="576.3" cy="316.4" r="2.85"/><circle cx="576.3" cy="318.1" r="2.85"/><circle cx="576.3" cy="319.6" r="2.85"/><circle cx="576.3" cy="319.7" r="2.85"/></g>
<g fill="#e6e6fa"><circle cx="578.7" cy="282.3" r="2.85"/><circle cx="578.7" cy="285.1" r="2.85"/><circle cx="578.7" cy="287.5" r="2.85"/><circle cx="578.8" cy="289.2" r="2.85"/><circle cx="578.8" cy="290.7" r="2.85"/></g>
<g fill="#e6e6fa"><circle cx="580.1" cy="295.3" r="2.85"/><circle cx="580" cy="296.9" r="2.85"/><circle cx="580.1" cy="297.7" r="2.85"/></g>
<g fill="#505050"><circle cx="580" cy="302.5" r="2.85"/></g>
<g fill="#f0f0ff"><circle cx="579.3" cy="307.3" r="2.85"/><circle cx="579.4" cy="309.8" r="2.85"/><circle cx="579.4" cy="312.8" r="2.85"/><circle cx="579.2" cy="315.5" r="2.85"/><circle cx="579.3" cy="317.7" r="2.85"/><circle cx="579.2" cy="319.5" r="2.85"/><circle cx="579.1" cy="321.4" r="2.85"/><circle cx="579" cy="324.2" r="2.85"/><circle cx="579.1" cy="326.8" r="2.85"/><circle cx="579.1" cy="328.7" r="2.85"/></g>
<g fill="#4a0a0a"><circle cx="552.5" cy="301" r="2.85"/></g>
<g fill="#d03030"><circle cx="552.4" cy="305.3" r="2.85"/><circle cx="552.5" cy="307.2" r="2.85"/><circle cx="552.4" cy="309.1" r="2.85"/><circle cx="552.4" cy="310.9" r="2.85"/><circle cx="552.5" cy="312.8" r="2.85"/><circle cx="552.4" cy="314.8" r="2.85"/><circle cx="552.4" cy="316.7" r="2.85"/></g>
<g fill="#1e90ff"><circle cx="547.9" cy="312.3" r="2.85"/><circle cx="548" cy="314.2" r="2.85"/><circle cx="548.1" cy="315.9" r="2.85"/><circle cx="548" cy="317.7" r="2.85"/></g>
<g fill="#061f38"><circle cx="549.9" cy="312.3" r="2.85"/><circle cx="549.9" cy="313.6" r="2.85"/><circle cx="549.9" cy="315" r="2.85"/><circle cx="549.9" cy="316.5" r="2.85"/><circle cx="550" cy="317.7" r="2.85"/></g>
<g fill="#ff00ff"><circle cx="556.3" cy="313.3" r="2.85"/><circle cx="556.4" cy="315.2" r="2.85"/><circle cx="556.4" cy="317.9" r="2.85"/><circle cx="556.3" cy="319.9" r="2.85"/><circle cx="556.2" cy="322.4" r="2.85"/><circle cx="556.2" cy="322.7" r="2.85"/></g>
<g fill="#380038"><circle cx="558.4" cy="313.3" r="2.85"/><circle cx="558.4" cy="315" r="2.85"/><circle cx="558.2" cy="316.4" r="2.85"/><circle cx="558.2" cy="317.7" r="2.85"/><circle cx="558.4" cy="318.8" r="2.85"/><circle cx="558.2" cy="320" r="2.85"/><circle cx="558.3" cy="321.9" r="2.85"/><circle cx="558.4" cy="322.7" r="2.85"/></g>
<g fill="#ff00ff"><circle cx="552.6" cy="323.3" r="2.85"/><circle cx="552.6" cy="325.7" r="2.85"/><circle cx="552.6" cy="327.9" r="2.85"/><circle cx="552.7" cy="331" r="2.85"/><circle cx="553" cy="333.9" r="2.85"/><circle cx="552.9" cy="336.7" r="2.85"/></g>
<g fill="#e000e0"><circle cx="553.1" cy="341.3" r="2.85"/><circle cx="552.9" cy="343.7" r="2.85"/></g>
<g fill="#310031"><circle cx="554.9" cy="341.3" r="2.85"/><circle cx="554.9" cy="343.2" r="2.85"/><circle cx="555.1" cy="343.7" r="2.85"/></g>
<g fill="#f0f0f0"><circle cx="556.4" cy="328.3" r="2.85"/><circle cx="556.4" cy="331.5" r="2.85"/><circle cx="556.3" cy="333.7" r="2.85"/><circle cx="556.2" cy="336.2" r="2.85"/><circle cx="556.3" cy="337.7" r="2.85"/></g>
<g fill="#343434"><circle cx="558.3" cy="328.3" r="2.85"/><circle cx="558.4" cy="330.2" r="2.85"/><circle cx="558.4" cy="331.8" r="2.85"/><circle cx="558.3" cy="333.6" r="2.85"/><circle cx="558.3" cy="334.9" r="2.85"/><circle cx="558.3" cy="336.4" r="2.85"/><circle cx="558.3" cy="337.7" r="2.85"/></g>
<g fill="#1e90ff"><circle cx="545.6" cy="369" r="2.85"/></g>
<g fill="#1e90ff"><circle cx="548" cy="374" r="2.85"/></g>
<g fill="#808080"><circle cx="545.7" cy="379.3" r="2.85"/><circle cx="545.7" cy="380.7" r="2.85"/></g>
<g fill="#303030"><circle cx="547" cy="387.3" r="2.85"/><circle cx="547" cy="389.4" r="2.85"/><circle cx="547" cy="390.8" r="2.85"/><circle cx="547.2" cy="392.6" r="2.85"/><circle cx="547.1" cy="394.3" r="2.85"/><circle cx="547.2" cy="396.2" r="2.85"/><circle cx="547.2" cy="397.5" r="2.85"/><circle cx="547.1" cy="399.1" r="2.85"/><circle cx="547.2" cy="400.5" r="2.85"/><circle cx="547.3" cy="402.4" r="2.85"/><circle cx="547.4" cy="404.2" r="2.85"/><circle cx="547.4" cy="405.3" r="2.85"/><circle cx="547.2" cy="406.5" r="2.85"/><circle cx="547.3" cy="407.8" r="2.85"/><circle cx="547.2" cy="409.5" r="2.85"/><circle cx="547.3" cy="411.3" r="2.85"/><circle cx="547.4" cy="412.8" r="2.85"/><circle cx="547.5" cy="414" r="2.85"/><circle cx="547.5" cy="415.7" r="2.85"/><circle cx="547.5" cy="417.4" r="2.85"/><circle cx="547.4" cy="418.7" r="2.85"/></g>
<g fill="#909090"><circle cx="548" cy="392" r="2.85"/></g>
<g fill="#808080"><circle cx="547.5" cy="402.3" r="2.85"/><circle cx="547.5" cy="404.7" r="2.85"/><circle cx="547.4" cy="406.8" r="2.85"/><circle cx="547.4" cy="407.7" r="2.85"/></g>
<g fill="#00bfff"><circle cx="543.1" cy="382.3" r="2.85"/><circle cx="542.9" cy="385.4" r="2.85"/><circle cx="543" cy="388.1" r="2.85"/><circle cx="543.1" cy="390.7" r="2.85"/><circle cx="543" cy="393" r="2.85"/><circle cx="542.9" cy="393.7" r="2.85"/></g>
<g fill="#002a38"><circle cx="545.1" cy="382.3" r="2.85"/><circle cx="545" cy="383.4" r="2.85"/><circle cx="545" cy="385.1" r="2.85"/><circle cx="545" cy="386.4" r="2.85"/><circle cx="545.1" cy="387.8" r="2.85"/><circle cx="545" cy="389.4" r="2.85"/><circle cx="545.1" cy="391.1" r="2.85"/><circle cx="545.1" cy="392.4" r="2.85"/><circle cx="545.1" cy="393.7" r="2.85"/></g>
<g fill="#5a0a40"><circle cx="541.6" cy="400.3" r="2.85"/><circle cx="541.5" cy="401.6" r="2.85"/><circle cx="541.5" cy="403.2" r="2.85"/><circle cx="541.5" cy="404.5" r="2.85"/><circle cx="541.4" cy="405.6" r="2.85"/><circle cx="541.5" cy="407" r="2.85"/><circle cx="541.6" cy="408.9" r="2.85"/><circle cx="541.6" cy="410.2" r="2.85"/><circle cx="541.6" cy="411.5" r="2.85"/><circle cx="541.4" cy="413.4" r="2.85"/><circle cx="541.5" cy="415.3" r="2.85"/><circle cx="541.6" cy="417.1" r="2.85"/><circle cx="541.4" cy="418.4" r="2.85"/><circle cx="541.4" cy="420.2" r="2.85"/><circle cx="541.4" cy="421.3" r="2.85"/><circle cx="541.4" cy="422.4" r="2.85"/><circle cx="541.6" cy="423.5" r="2.85"/><circle cx="541.6" cy="424.9" r="2.85"/><circle cx="541.6" cy="426.1" r="2.85"/><circle cx="541.4" cy="428" r="2.85"/><circle cx="541.5" cy="428.7" r="2.85"/></g>
<g fill="#e0189a"><circle cx="541.2" cy="406.3" r="2.85"/><circle cx="541.2" cy="409.2" r="2.85"/><circle cx="541.3" cy="411.3" r="2.85"/><circle cx="541.2" cy="413.1" r="2.85"/><circle cx="541.3" cy="416.3" r="2.85"/><circle cx="541.2" cy="417.7" r="2.85"/></g>
<g fill="#310521"><circle cx="543.3" cy="406.3" r="2.85"/><circle cx="543.4" cy="407.4" r="2.85"/><circle cx="543.3" cy="408.9" r="2.85"/><circle cx="543.3" cy="410.5" r="2.85"/><circle cx="543.3" cy="412.3" r="2.85"/><circle cx="543.2" cy="413.3" r="2.85"/><circle cx="543.3" cy="414.7" r="2.85"/><circle cx="543.4" cy="415.8" r="2.85"/><circle cx="543.2" cy="417.4" r="2.85"/><circle cx="543.4" cy="417.7" r="2.85"/></g>
<g fill="#ff1493"><circle cx="541.5" cy="425.3" r="2.85"/><circle cx="541.6" cy="427.4" r="2.85"/><circle cx="541.4" cy="428.7" r="2.85"/></g>
<g fill="#32cd32"><circle cx="549.4" cy="357.3" r="2.85"/><circle cx="549.3" cy="359.3" r="2.85"/><circle cx="549.3" cy="361.8" r="2.85"/><circle cx="549.4" cy="363.9" r="2.85"/><circle cx="549.5" cy="366.4" r="2.85"/><circle cx="549.4" cy="369.6" r="2.85"/><circle cx="549.4" cy="369.7" r="2.85"/></g>
<g fill="#0b2d0b"><circle cx="551.3" cy="357.3" r="2.85"/><circle cx="551.5" cy="359" r="2.85"/><circle cx="551.3" cy="360.8" r="2.85"/><circle cx="551.3" cy="362.7" r="2.85"/><circle cx="551.3" cy="364.1" r="2.85"/><circle cx="551.4" cy="365.3" r="2.85"/><circle cx="551.4" cy="367.2" r="2.85"/><circle cx="551.4" cy="368.8" r="2.85"/><circle cx="551.5" cy="369.7" r="2.85"/></g>
<g fill="#909090"><circle cx="554.4" cy="369.8" r="2.85"/><circle cx="554.3" cy="372.1" r="2.85"/><circle cx="554.3" cy="374.6" r="2.85"/><circle cx="554.3" cy="375.7" r="2.85"/></g>
<g fill="#00a000"><circle cx="554.5" cy="384.3" r="2.85"/><circle cx="554.5" cy="386.9" r="2.85"/><circle cx="554.6" cy="389.6" r="2.85"/><circle cx="554.7" cy="392.2" r="2.85"/><circle cx="554.7" cy="394.4" r="2.85"/><circle cx="554.8" cy="396.6" r="2.85"/><circle cx="554.8" cy="398.4" r="2.85"/><circle cx="555" cy="400.4" r="2.85"/><circle cx="555" cy="402.7" r="2.85"/></g>
<g fill="#e8c000"><circle cx="560.4" cy="337.3" r="2.85"/><circle cx="560.3" cy="339.5" r="2.85"/><circle cx="560.4" cy="341.9" r="2.85"/><circle cx="560.3" cy="344" r="2.85"/><circle cx="560.2" cy="347.2" r="2.85"/><circle cx="560.4" cy="349.1" r="2.85"/><circle cx="560.4" cy="351.6" r="2.85"/><circle cx="560.3" cy="353.4" r="2.85"/><circle cx="560.4" cy="355.8" r="2.85"/><circle cx="560.2" cy="358.3" r="2.85"/><circle cx="560.4" cy="360" r="2.85"/><circle cx="560.3" cy="362" r="2.85"/><circle cx="560.3" cy="364.5" r="2.85"/><circle cx="560.4" cy="367" r="2.85"/><circle cx="560.2" cy="369.2" r="2.85"/><circle cx="560.3" cy="371" r="2.85"/><circle cx="560.2" cy="373.2" r="2.85"/><circle cx="560.2" cy="375.5" r="2.85"/><circle cx="560.4" cy="377.4" r="2.85"/><circle cx="560.2" cy="380.1" r="2.85"/><circle cx="560.3" cy="382.1" r="2.85"/><circle cx="560.2" cy="384.7" r="2.85"/><circle cx="560.4" cy="387.5" r="2.85"/><circle cx="560.3" cy="389.3" r="2.85"/><circle cx="560.4" cy="391.8" r="2.85"/><circle cx="560.2" cy="392.7" r="2.85"/></g>
<g fill="#332a00"><circle cx="562.3" cy="337.3" r="2.85"/><circle cx="562.2" cy="338.8" r="2.85"/><circle cx="562.4" cy="340" r="2.85"/><circle cx="562.2" cy="341.6" r="2.85"/><circle cx="562.3" cy="343.3" r="2.85"/><circle cx="562.3" cy="344.9" r="2.85"/><circle cx="562.2" cy="346.4" r="2.85"/><circle cx="562.4" cy="347.8" r="2.85"/><circle cx="562.3" cy="349.7" r="2.85"/><circle cx="562.3" cy="350.8" r="2.85"/><circle cx="562.2" cy="352" r="2.85"/><circle cx="562.2" cy="353.6" r="2.85"/><circle cx="562.3" cy="355.5" r="2.85"/><circle cx="562.2" cy="357.3" r="2.85"/><circle cx="562.2" cy="358.6" r="2.85"/><circle cx="562.3" cy="360.5" r="2.85"/><circle cx="562.3" cy="362" r="2.85"/><circle cx="562.4" cy="363.5" r="2.85"/><circle cx="562.2" cy="365.2" r="2.85"/><circle cx="562.2" cy="366.8" r="2.85"/><circle cx="562.3" cy="368.6" r="2.85"/><circle cx="562.3" cy="370.5" r="2.85"/><circle cx="562.3" cy="371.8" r="2.85"/><circle cx="562.2" cy="373.7" r="2.85"/><circle cx="562.2" cy="375" r="2.85"/><circle cx="562.3" cy="376.7" r="2.85"/><circle cx="562.3" cy="377.9" r="2.85"/><circle cx="562.4" cy="379.5" r="2.85"/><circle cx="562.2" cy="380.8" r="2.85"/><circle cx="562.3" cy="382.7" r="2.85"/><circle cx="562.4" cy="384.4" r="2.85"/><circle cx="562.2" cy="385.8" r="2.85"/><circle cx="562.2" cy="387.7" r="2.85"/><circle cx="562.4" cy="388.9" r="2.85"/><circle cx="562.4" cy="390.6" r="2.85"/><circle cx="562.3" cy="392.2" r="2.85"/><circle cx="562.2" cy="392.7" r="2.85"/></g>
<g fill="#404040"><circle cx="563.6" cy="341.3" r="2.85"/><circle cx="563.6" cy="342.9" r="2.85"/><circle cx="563.5" cy="344.2" r="2.85"/><circle cx="563.6" cy="346.1" r="2.85"/><circle cx="563.5" cy="348" r="2.85"/><circle cx="563.4" cy="349.8" r="2.85"/><circle cx="563.5" cy="351.3" r="2.85"/><circle cx="563.4" cy="353.3" r="2.85"/><circle cx="563.5" cy="355.3" r="2.85"/><circle cx="563.6" cy="356.6" r="2.85"/><circle cx="563.5" cy="358.3" r="2.85"/><circle cx="563.4" cy="358.7" r="2.85"/></g>
<g fill="#f0f0f0"><circle cx="563.5" cy="342.3" r="2.85"/><circle cx="563.6" cy="344.5" r="2.85"/><circle cx="563.4" cy="344.7" r="2.85"/></g>
<g fill="#e8e000"><circle cx="558.8" cy="352.3" r="2.85"/><circle cx="558.7" cy="354.7" r="2.85"/><circle cx="558.8" cy="357.2" r="2.85"/><circle cx="558.8" cy="359.5" r="2.85"/><circle cx="558.9" cy="361.5" r="2.85"/><circle cx="558.8" cy="362.7" r="2.85"/></g>
<g fill="#333100"><circle cx="560.9" cy="352.3" r="2.85"/><circle cx="560.8" cy="353.7" r="2.85"/><circle cx="560.7" cy="354.7" r="2.85"/><circle cx="560.7" cy="356.3" r="2.85"/><circle cx="560.8" cy="357.6" r="2.85"/><circle cx="560.8" cy="358.8" r="2.85"/><circle cx="560.8" cy="360.2" r="2.85"/><circle cx="560.7" cy="361.9" r="2.85"/><circle cx="560.8" cy="362.7" r="2.85"/></g>
<g fill="#ffd700"><circle cx="559.3" cy="366.3" r="2.85"/><circle cx="559.4" cy="369.4" r="2.85"/><circle cx="559.4" cy="371.9" r="2.85"/><circle cx="559.3" cy="373.7" r="2.85"/></g>
<g fill="#ffd700"><circle cx="559.4" cy="378.3" r="2.85"/><circle cx="559.3" cy="381" r="2.85"/><circle cx="559.4" cy="383.7" r="2.85"/><circle cx="559.4" cy="386.6" r="2.85"/><circle cx="559.4" cy="389.6" r="2.85"/><circle cx="559.3" cy="389.7" r="2.85"/></g>
<g fill="#0a0a0a"><circle cx="565.9" cy="387.3" r="2.85"/><circle cx="566" cy="389" r="2.85"/><circle cx="565.9" cy="390.8" r="2.85"/><circle cx="566.1" cy="392.7" r="2.85"/><circle cx="566.1" cy="392.7" r="2.85"/></g>
<g fill="#ff69b4"><circle cx="570.6" cy="326.3" r="2.85"/><circle cx="570.6" cy="328.8" r="2.85"/><circle cx="570.6" cy="330.8" r="2.85"/><circle cx="570.7" cy="333.1" r="2.85"/><circle cx="570.7" cy="333.7" r="2.85"/></g>
<g fill="#ff69b4"><circle cx="570.3" cy="338.3" r="2.85"/><circle cx="570.1" cy="341.1" r="2.85"/><circle cx="570" cy="343.6" r="2.85"/><circle cx="570.1" cy="346.7" r="2.85"/><circle cx="570" cy="347.7" r="2.85"/></g>
<g fill="#381727"><circle cx="572.4" cy="338.3" r="2.85"/><circle cx="572.2" cy="340.2" r="2.85"/><circle cx="572.1" cy="341.5" r="2.85"/><circle cx="572.1" cy="343.3" r="2.85"/><circle cx="572" cy="344.7" r="2.85"/><circle cx="572.1" cy="345.9" r="2.85"/><circle cx="572.1" cy="347.5" r="2.85"/><circle cx="572" cy="347.7" r="2.85"/></g>
<g fill="#ff80b0"><circle cx="567.5" cy="356.3" r="2.85"/><circle cx="567.6" cy="358.7" r="2.85"/></g>
<g fill="#9acd32"><circle cx="566.9" cy="366.3" r="2.85"/><circle cx="567.1" cy="368.7" r="2.85"/></g>
<g fill="#4a5a10"><circle cx="567.1" cy="376.3" r="2.85"/><circle cx="567" cy="377.4" r="2.85"/><circle cx="567.1" cy="378.8" r="2.85"/><circle cx="567.1" cy="379.9" r="2.85"/><circle cx="567" cy="382" r="2.85"/><circle cx="566.9" cy="383.6" r="2.85"/><circle cx="566.9" cy="385.5" r="2.85"/><circle cx="566.9" cy="387.6" r="2.85"/><circle cx="567" cy="388.8" r="2.85"/><circle cx="567" cy="390.8" r="2.85"/><circle cx="566.9" cy="391.9" r="2.85"/><circle cx="567" cy="392.7" r="2.85"/></g>
<g fill="#9acd32"><circle cx="567" cy="385.6" r="2.85"/></g>
<g fill="#e07060"><circle cx="573.8" cy="343.3" r="2.85"/><circle cx="573.8" cy="344.7" r="2.85"/></g>
<g fill="#2a0050"><circle cx="575" cy="347.3" r="2.85"/><circle cx="574.9" cy="348.5" r="2.85"/><circle cx="574.9" cy="350" r="2.85"/><circle cx="574.9" cy="351.2" r="2.85"/><circle cx="575" cy="353" r="2.85"/><circle cx="575.1" cy="354.3" r="2.85"/><circle cx="575.1" cy="356.1" r="2.85"/><circle cx="575" cy="358" r="2.85"/><circle cx="575.1" cy="359.9" r="2.85"/><circle cx="574.9" cy="361.2" r="2.85"/><circle cx="575" cy="362.9" r="2.85"/><circle cx="575" cy="364" r="2.85"/><circle cx="574.9" cy="365.7" r="2.85"/></g>
<g fill="#8020c0"><circle cx="575" cy="362.5" r="2.85"/></g>
<g fill="#e07060"><circle cx="571.3" cy="367.3" r="2.85"/><circle cx="571.2" cy="370.4" r="2.85"/><circle cx="571.3" cy="373.2" r="2.85"/><circle cx="571.4" cy="376.4" r="2.85"/><circle cx="571.3" cy="377.7" r="2.85"/></g>
<g fill="#311815"><circle cx="573.4" cy="367.3" r="2.85"/><circle cx="573.3" cy="368.9" r="2.85"/><circle cx="573.4" cy="370.4" r="2.85"/><circle cx="573.2" cy="371.8" r="2.85"/><circle cx="573.4" cy="372.8" r="2.85"/><circle cx="573.3" cy="374.1" r="2.85"/><circle cx="573.4" cy="375.3" r="2.85"/><circle cx="573.2" cy="376.4" r="2.85"/><circle cx="573.3" cy="377.5" r="2.85"/><circle cx="573.3" cy="377.7" r="2.85"/></g>
<g fill="#e0d880"><circle cx="578.1" cy="366.3" r="2.85"/><circle cx="578.1" cy="368.6" r="2.85"/><circle cx="578" cy="370.9" r="2.85"/><circle cx="578" cy="372.7" r="2.85"/></g>
<g fill="#3a3810"><circle cx="577.9" cy="377.3" r="2.85"/><circle cx="578.1" cy="378.8" r="2.85"/><circle cx="578.1" cy="380.3" r="2.85"/><circle cx="578.1" cy="381.9" r="2.85"/><circle cx="578.2" cy="383.8" r="2.85"/><circle cx="578.3" cy="385.4" r="2.85"/><circle cx="578.3" cy="387.3" r="2.85"/><circle cx="578.3" cy="388.8" r="2.85"/><circle cx="578.3" cy="390.2" r="2.85"/><circle cx="578.4" cy="391.3" r="2.85"/><circle cx="578.3" cy="392.6" r="2.85"/><circle cx="578.4" cy="394.1" r="2.85"/><circle cx="578.4" cy="395.2" r="2.85"/><circle cx="578.4" cy="396.6" r="2.85"/><circle cx="578.5" cy="397.8" r="2.85"/><circle cx="578.5" cy="399.1" r="2.85"/><circle cx="578.5" cy="400.9" r="2.85"/><circle cx="578.5" cy="402.8" r="2.85"/><circle cx="578.5" cy="403.9" r="2.85"/><circle cx="578.6" cy="405.5" r="2.85"/><circle cx="578.6" cy="407" r="2.85"/><circle cx="578.6" cy="408.1" r="2.85"/><circle cx="578.7" cy="409.4" r="2.85"/><circle cx="578.7" cy="411" r="2.85"/><circle cx="578.8" cy="412.4" r="2.85"/><circle cx="578.8" cy="412.7" r="2.85"/></g>
<g fill="#e0d880"><circle cx="578" cy="380.3" r="2.85"/><circle cx="578" cy="382.4" r="2.85"/><circle cx="578" cy="385.3" r="2.85"/><circle cx="577.9" cy="387.7" r="2.85"/></g>
<g fill="#2a5a00"><circle cx="581.1" cy="407.3" r="2.85"/><circle cx="581" cy="408.8" r="2.85"/><circle cx="581" cy="410.4" r="2.85"/><circle cx="581" cy="410.7" r="2.85"/></g>
<g fill="#a0e000"><circle cx="581" cy="415.5" r="2.85"/></g>
<g fill="#303038"><circle cx="579.8" cy="422.3" r="2.85"/><circle cx="579.8" cy="424.2" r="2.85"/><circle cx="579.8" cy="425.4" r="2.85"/><circle cx="579.9" cy="427.4" r="2.85"/><circle cx="579.7" cy="427.7" r="2.85"/></g>
<g fill="#e8e8ff"><circle cx="579.8" cy="431.5" r="2.85"/></g>
<g fill="#f0f0a0"><circle cx="584.9" cy="342.3" r="2.85"/><circle cx="585.1" cy="344.1" r="2.85"/><circle cx="585" cy="346.8" r="2.85"/><circle cx="585" cy="347.7" r="2.85"/></g>
<g fill="#343423"><circle cx="587.1" cy="342.3" r="2.85"/><circle cx="587" cy="343.7" r="2.85"/><circle cx="586.9" cy="344.9" r="2.85"/><circle cx="587.1" cy="346.2" r="2.85"/><circle cx="587.1" cy="347.4" r="2.85"/><circle cx="586.9" cy="347.7" r="2.85"/></g>
<g fill="#fa8072"><circle cx="585.7" cy="387.3" r="2.85"/><circle cx="586" cy="389.7" r="2.85"/></g>
<g fill="#2a3a44"><circle cx="584.5" cy="392.3" r="2.85"/><circle cx="584.5" cy="393.7" r="2.85"/><circle cx="584.4" cy="395.2" r="2.85"/><circle cx="584.4" cy="396.2" r="2.85"/><circle cx="584.3" cy="397.8" r="2.85"/><circle cx="584.3" cy="399.1" r="2.85"/><circle cx="584.3" cy="400.9" r="2.85"/><circle cx="584.4" cy="402.2" r="2.85"/><circle cx="584.4" cy="404" r="2.85"/><circle cx="584.5" cy="405.4" r="2.85"/><circle cx="584.3" cy="405.7" r="2.85"/></g>
<g fill="#a0c8e0"><circle cx="584.4" cy="394" r="2.85"/></g>
<g fill="#a0c8e0"><circle cx="584.4" cy="405.2" r="2.85"/></g>
<g fill="#404040"><circle cx="591.3" cy="326" r="2.85"/></g>
<g fill="#f8f8f8"><circle cx="591.2" cy="329.3" r="2.85"/><circle cx="591.4" cy="331.6" r="2.85"/><circle cx="591.3" cy="333.9" r="2.85"/><circle cx="591.2" cy="335.7" r="2.85"/><circle cx="591.2" cy="338.3" r="2.85"/><circle cx="591.2" cy="340.2" r="2.85"/><circle cx="591.2" cy="340.7" r="2.85"/></g>
<g fill="#2a5a2a"><circle cx="590.5" cy="345.3" r="2.85"/><circle cx="590.7" cy="346.7" r="2.85"/><circle cx="590.6" cy="348.8" r="2.85"/><circle cx="590.5" cy="350.3" r="2.85"/><circle cx="590.5" cy="351.8" r="2.85"/><circle cx="590.7" cy="353.6" r="2.85"/><circle cx="590.7" cy="353.7" r="2.85"/></g>
<g fill="#90ee90"><circle cx="592" cy="357.3" r="2.85"/><circle cx="591.9" cy="359.6" r="2.85"/><circle cx="592.1" cy="362.5" r="2.85"/><circle cx="591.9" cy="364.9" r="2.85"/><circle cx="592" cy="367" r="2.85"/><circle cx="592.1" cy="367.7" r="2.85"/></g>
<g fill="#1f341f"><circle cx="594.1" cy="357.3" r="2.85"/><circle cx="593.9" cy="358.4" r="2.85"/><circle cx="594.1" cy="360.3" r="2.85"/><circle cx="593.9" cy="361.9" r="2.85"/><circle cx="593.9" cy="363.5" r="2.85"/><circle cx="594" cy="364.8" r="2.85"/><circle cx="593.9" cy="366" r="2.85"/><circle cx="594.1" cy="367.7" r="2.85"/></g>
<g fill="#ffb6c1"><circle cx="597" cy="374.8" r="2.85"/><circle cx="597.1" cy="377.8" r="2.85"/><circle cx="596.9" cy="380" r="2.85"/><circle cx="597" cy="380.7" r="2.85"/></g>
<g fill="#38282a"><circle cx="599" cy="374.8" r="2.85"/><circle cx="599.1" cy="376" r="2.85"/><circle cx="599.1" cy="377.4" r="2.85"/><circle cx="599.1" cy="378.5" r="2.85"/><circle cx="599" cy="379.7" r="2.85"/><circle cx="599" cy="380.7" r="2.85"/></g>
<g fill="#f0f0f0"><circle cx="594.5" cy="390.3" r="2.85"/><circle cx="594.5" cy="392.5" r="2.85"/><circle cx="594.5" cy="394.8" r="2.85"/><circle cx="594.4" cy="397.3" r="2.85"/><circle cx="594.3" cy="399.6" r="2.85"/><circle cx="594.3" cy="401.9" r="2.85"/><circle cx="594.4" cy="402.7" r="2.85"/></g>
<g fill="#404040"><circle cx="594.4" cy="407" r="2.85"/></g>
<g fill="#00a8b0"><circle cx="598.1" cy="331.3" r="2.85"/><circle cx="598" cy="334.2" r="2.85"/><circle cx="597.9" cy="337" r="2.85"/><circle cx="598" cy="337.7" r="2.85"/></g>
<g fill="#002426"><circle cx="600.1" cy="331.3" r="2.85"/><circle cx="600.1" cy="332.6" r="2.85"/><circle cx="600" cy="334.5" r="2.85"/><circle cx="600" cy="336.3" r="2.85"/><circle cx="600.1" cy="337.7" r="2.85"/></g>
<g fill="#00c8d0"><circle cx="598" cy="372.3" r="2.85"/><circle cx="598.1" cy="375.2" r="2.85"/><circle cx="597.9" cy="377.9" r="2.85"/><circle cx="598.1" cy="381.1" r="2.85"/><circle cx="598.1" cy="383.1" r="2.85"/><circle cx="597.9" cy="386" r="2.85"/><circle cx="598" cy="388.5" r="2.85"/><circle cx="598" cy="390.8" r="2.85"/><circle cx="598" cy="392.7" r="2.85"/></g>
<g fill="#002c2d"><circle cx="600.1" cy="372.3" r="2.85"/><circle cx="599.9" cy="373.5" r="2.85"/><circle cx="600" cy="374.7" r="2.85"/><circle cx="600" cy="376.6" r="2.85"/><circle cx="599.9" cy="378.5" r="2.85"/><circle cx="600" cy="380.4" r="2.85"/><circle cx="600" cy="381.9" r="2.85"/><circle cx="599.9" cy="383.4" r="2.85"/><circle cx="600" cy="384.5" r="2.85"/><circle cx="599.9" cy="385.9" r="2.85"/><circle cx="600" cy="387.5" r="2.85"/><circle cx="600.1" cy="389.4" r="2.85"/><circle cx="600" cy="390.5" r="2.85"/><circle cx="600" cy="392.2" r="2.85"/><circle cx="600" cy="392.7" r="2.85"/></g>
<g fill="#202830"><circle cx="604.4" cy="312.5" r="2.85"/></g>
<g fill="#90a4b8"><circle cx="604.5" cy="316.3" r="2.85"/><circle cx="604.8" cy="318.2" r="2.85"/><circle cx="604.6" cy="320.9" r="2.85"/><circle cx="604.8" cy="323.6" r="2.85"/><circle cx="604.8" cy="325.4" r="2.85"/><circle cx="604.9" cy="327.7" r="2.85"/><circle cx="604.9" cy="329.5" r="2.85"/><circle cx="604.8" cy="332.2" r="2.85"/><circle cx="605" cy="333.9" r="2.85"/><circle cx="604.9" cy="335.7" r="2.85"/></g>
<g fill="#87cefa"><circle cx="601.9" cy="351.3" r="2.85"/><circle cx="602" cy="353.3" r="2.85"/><circle cx="602" cy="355.7" r="2.85"/><circle cx="602.1" cy="357.7" r="2.85"/></g>
<g fill="#1d2d37"><circle cx="604" cy="351.3" r="2.85"/><circle cx="603.9" cy="352.8" r="2.85"/><circle cx="603.9" cy="354.1" r="2.85"/><circle cx="604.1" cy="355.9" r="2.85"/><circle cx="603.9" cy="357" r="2.85"/><circle cx="604.1" cy="357.7" r="2.85"/></g>
<g fill="#4a6a80"><circle cx="604.4" cy="392.3" r="2.85"/><circle cx="604.4" cy="393.9" r="2.85"/><circle cx="604.4" cy="396.4" r="2.85"/><circle cx="604.5" cy="396.7" r="2.85"/></g>
<g fill="#0a5a0a"><circle cx="609.9" cy="343.3" r="2.85"/><circle cx="610.1" cy="344.6" r="2.85"/><circle cx="610.1" cy="346.7" r="2.85"/><circle cx="610" cy="348.4" r="2.85"/><circle cx="609.9" cy="348.7" r="2.85"/></g>
<g fill="#00c000"><circle cx="610.1" cy="353.3" r="2.85"/><circle cx="610.1" cy="356.1" r="2.85"/><circle cx="610.1" cy="358.5" r="2.85"/><circle cx="609.9" cy="360.7" r="2.85"/></g>
<g fill="#30b030"><circle cx="614.3" cy="352.3" r="2.85"/><circle cx="614.3" cy="355.1" r="2.85"/><circle cx="614.3" cy="357.7" r="2.85"/><circle cx="614.5" cy="358.7" r="2.85"/></g>
<g fill="#20d020"><circle cx="611" cy="397.3" r="2.85"/><circle cx="611.1" cy="400.2" r="2.85"/><circle cx="610.9" cy="402.7" r="2.85"/></g>
<g fill="#072d07"><circle cx="613.1" cy="397.3" r="2.85"/><circle cx="613.1" cy="398.6" r="2.85"/><circle cx="613" cy="400" r="2.85"/><circle cx="613" cy="401.3" r="2.85"/><circle cx="613" cy="402.7" r="2.85"/></g>
<g fill="#4a0808"><circle cx="615.6" cy="363" r="2.85"/></g>
<g fill="#cc0000"><circle cx="615.8" cy="367.3" r="2.85"/><circle cx="615.7" cy="369.8" r="2.85"/><circle cx="615.8" cy="372.2" r="2.85"/><circle cx="615.9" cy="374.1" r="2.85"/><circle cx="615.9" cy="377" r="2.85"/><circle cx="616.1" cy="379.9" r="2.85"/><circle cx="616.2" cy="382.7" r="2.85"/><circle cx="616.2" cy="384.5" r="2.85"/><circle cx="616.3" cy="386.5" r="2.85"/><circle cx="616.4" cy="389.2" r="2.85"/><circle cx="616.4" cy="392.1" r="2.85"/><circle cx="616.5" cy="393.7" r="2.85"/></g>
<g fill="#8a0000"><circle cx="616.5" cy="396.3" r="2.85"/><circle cx="616.7" cy="399" r="2.85"/><circle cx="616.7" cy="401.4" r="2.85"/><circle cx="616.7" cy="404" r="2.85"/><circle cx="616.8" cy="406.4" r="2.85"/><circle cx="616.8" cy="409.3" r="2.85"/><circle cx="616.8" cy="410.9" r="2.85"/><circle cx="616.9" cy="413" r="2.85"/><circle cx="616.8" cy="414.8" r="2.85"/><circle cx="616.8" cy="417.3" r="2.85"/><circle cx="617" cy="419.2" r="2.85"/><circle cx="617.1" cy="421.7" r="2.85"/><circle cx="617.1" cy="421.7" r="2.85"/></g>
<g fill="#66cdaa"><circle cx="617" cy="423.3" r="2.85"/><circle cx="617" cy="426.3" r="2.85"/><circle cx="617.1" cy="428.9" r="2.85"/><circle cx="617.1" cy="431.3" r="2.85"/><circle cx="617" cy="433.7" r="2.85"/><circle cx="616.9" cy="436" r="2.85"/><circle cx="617" cy="438.9" r="2.85"/><circle cx="616.9" cy="441.9" r="2.85"/><circle cx="617" cy="444.1" r="2.85"/><circle cx="617.1" cy="445.7" r="2.85"/></g>
<g fill="#2a6a5a"><circle cx="617" cy="447" r="2.85"/></g>
<g fill="#808000"><circle cx="625.7" cy="362.9" r="2.85"/><circle cx="625.6" cy="364.9" r="2.85"/><circle cx="625.5" cy="366.7" r="2.85"/><circle cx="625.6" cy="368.1" r="2.85"/><circle cx="625.6" cy="369.7" r="2.85"/></g>
<g fill="#e8e000"><circle cx="625.6" cy="366" r="2.85"/></g>
<g fill="#9a6000"><circle cx="625.6" cy="374.3" r="2.85"/><circle cx="625.6" cy="376" r="2.85"/><circle cx="625.6" cy="377.7" r="2.85"/><circle cx="625.7" cy="379.2" r="2.85"/><circle cx="625.6" cy="380.6" r="2.85"/><circle cx="625.7" cy="382.6" r="2.85"/><circle cx="625.6" cy="384.4" r="2.85"/><circle cx="625.5" cy="386.1" r="2.85"/><circle cx="625.5" cy="388.2" r="2.85"/><circle cx="625.6" cy="390" r="2.85"/><circle cx="625.7" cy="391.4" r="2.85"/><circle cx="625.7" cy="392.7" r="2.85"/></g>
<g fill="#6a6000"><circle cx="625.4" cy="397.3" r="2.85"/><circle cx="625" cy="399.4" r="2.85"/><circle cx="624.8" cy="401.6" r="2.85"/><circle cx="624.6" cy="403.5" r="2.85"/><circle cx="624.3" cy="405" r="2.85"/><circle cx="624.2" cy="405.7" r="2.85"/></g>
<g fill="#e8e000"><circle cx="624" cy="405" r="2.85"/></g>
<g fill="#ff0000"><circle cx="623" cy="411" r="2.85"/></g>
<g fill="#00e5ee"><circle cx="621.5" cy="366.3" r="2.85"/><circle cx="621.3" cy="368.3" r="2.85"/><circle cx="621.5" cy="371.3" r="2.85"/><circle cx="621.4" cy="374.2" r="2.85"/><circle cx="621.5" cy="376.1" r="2.85"/><circle cx="621.5" cy="377.7" r="2.85"/></g>
<g fill="#003234"><circle cx="623.4" cy="366.3" r="2.85"/><circle cx="623.4" cy="367.4" r="2.85"/><circle cx="623.3" cy="369.2" r="2.85"/><circle cx="623.5" cy="370.9" r="2.85"/><circle cx="623.4" cy="372" r="2.85"/><circle cx="623.3" cy="373.9" r="2.85"/><circle cx="623.4" cy="375.2" r="2.85"/><circle cx="623.3" cy="376.6" r="2.85"/><circle cx="623.4" cy="377.7" r="2.85"/></g>
<g fill="#00e5ee"><circle cx="631.4" cy="372.3" r="2.85"/><circle cx="631.6" cy="374.9" r="2.85"/><circle cx="631.5" cy="377.6" r="2.85"/><circle cx="631.4" cy="378.7" r="2.85"/></g>
<g fill="#0a3a3a"><circle cx="631.5" cy="383.3" r="2.85"/><circle cx="631.6" cy="384.9" r="2.85"/><circle cx="631.8" cy="386.2" r="2.85"/><circle cx="632" cy="387.3" r="2.85"/><circle cx="631.8" cy="387.7" r="2.85"/></g>
<g fill="#2d155d"><circle cx="632.4" cy="392.3" r="2.85"/><circle cx="632.5" cy="394.1" r="2.85"/><circle cx="632.5" cy="395.4" r="2.85"/><circle cx="632.6" cy="396.6" r="2.85"/><circle cx="632.5" cy="397.7" r="2.85"/><circle cx="632.4" cy="398.8" r="2.85"/><circle cx="632.5" cy="400.7" r="2.85"/><circle cx="632.5" cy="402.7" r="2.85"/><circle cx="632.5" cy="403.8" r="2.85"/><circle cx="632.5" cy="405.1" r="2.85"/><circle cx="632.6" cy="406.2" r="2.85"/><circle cx="632.4" cy="407.7" r="2.85"/><circle cx="632.5" cy="409.2" r="2.85"/><circle cx="632.5" cy="410.5" r="2.85"/><circle cx="632.6" cy="412.4" r="2.85"/><circle cx="632.6" cy="413.6" r="2.85"/><circle cx="632.4" cy="415.3" r="2.85"/><circle cx="632.5" cy="416.6" r="2.85"/><circle cx="632.5" cy="418.3" r="2.85"/><circle cx="632.5" cy="419.6" r="2.85"/><circle cx="632.4" cy="420.9" r="2.85"/><circle cx="632.6" cy="422.7" r="2.85"/></g>
<g fill="#00e5ee"><circle cx="633" cy="394" r="2.85"/></g>
<g fill="#8a2be2"><circle cx="632.4" cy="402.3" r="2.85"/><circle cx="632.2" cy="404.7" r="2.85"/><circle cx="632" cy="406.7" r="2.85"/><circle cx="631.8" cy="408.7" r="2.85"/><circle cx="631.8" cy="410.4" r="2.85"/><circle cx="631.6" cy="413.6" r="2.85"/><circle cx="631.3" cy="415.5" r="2.85"/><circle cx="631.1" cy="417.7" r="2.85"/></g>
<g fill="#1e0931"><circle cx="634.3" cy="402.3" r="2.85"/><circle cx="634.2" cy="403.7" r="2.85"/><circle cx="634" cy="405.3" r="2.85"/><circle cx="633.9" cy="407.2" r="2.85"/><circle cx="633.9" cy="408.7" r="2.85"/><circle cx="633.7" cy="410" r="2.85"/><circle cx="633.6" cy="411.7" r="2.85"/><circle cx="633.6" cy="412.9" r="2.85"/><circle cx="633.4" cy="414.1" r="2.85"/><circle cx="633.4" cy="415.1" r="2.85"/><circle cx="633.1" cy="416.7" r="2.85"/><circle cx="633.2" cy="417.7" r="2.85"/></g>
<g fill="#00a8b0"><circle cx="655.5" cy="301.7" r="2.85"/><circle cx="655.4" cy="303.4" r="2.85"/><circle cx="655.5" cy="305.3" r="2.85"/><circle cx="655.4" cy="307.1" r="2.85"/><circle cx="655.4" cy="309.3" r="2.85"/><circle cx="655.4" cy="311.1" r="2.85"/><circle cx="655.5" cy="314" r="2.85"/><circle cx="655.4" cy="316" r="2.85"/><circle cx="655.3" cy="318.1" r="2.85"/><circle cx="655.3" cy="319.8" r="2.85"/><circle cx="655.5" cy="320.7" r="2.85"/></g>
<g fill="#0a3a3a"><circle cx="655.7" cy="325.3" r="2.85"/><circle cx="655.6" cy="326.4" r="2.85"/><circle cx="655.7" cy="327.6" r="2.85"/><circle cx="655.9" cy="329.2" r="2.85"/><circle cx="655.8" cy="330.9" r="2.85"/><circle cx="655.8" cy="332.4" r="2.85"/><circle cx="655.9" cy="334" r="2.85"/><circle cx="656" cy="334.7" r="2.85"/></g>
<g fill="#00b8c0"><circle cx="656.3" cy="339.8" r="2.85"/><circle cx="656.4" cy="340.7" r="2.85"/></g>
<g fill="#c89010"><circle cx="656.3" cy="344.3" r="2.85"/><circle cx="656.2" cy="347.1" r="2.85"/><circle cx="656.2" cy="349" r="2.85"/><circle cx="656.4" cy="351.5" r="2.85"/><circle cx="656.3" cy="353.6" r="2.85"/><circle cx="656.3" cy="355.7" r="2.85"/><circle cx="656.2" cy="358.4" r="2.85"/><circle cx="656.5" cy="360.5" r="2.85"/><circle cx="656.5" cy="363.4" r="2.85"/><circle cx="656.4" cy="365.6" r="2.85"/><circle cx="656.5" cy="368.4" r="2.85"/><circle cx="656.5" cy="370.2" r="2.85"/><circle cx="656.5" cy="372.4" r="2.85"/><circle cx="656.4" cy="374.1" r="2.85"/><circle cx="656.5" cy="375.7" r="2.85"/></g>
<g fill="#e8b800"><circle cx="652.9" cy="391.3" r="2.85"/><circle cx="653" cy="394.4" r="2.85"/><circle cx="653.1" cy="396.8" r="2.85"/><circle cx="652.9" cy="399.2" r="2.85"/><circle cx="653" cy="401.9" r="2.85"/><circle cx="653" cy="403.7" r="2.85"/></g>
<g fill="#332800"><circle cx="655.1" cy="391.3" r="2.85"/><circle cx="654.9" cy="392.4" r="2.85"/><circle cx="655" cy="393.6" r="2.85"/><circle cx="655" cy="394.9" r="2.85"/><circle cx="655" cy="396.6" r="2.85"/><circle cx="655" cy="397.7" r="2.85"/><circle cx="655" cy="399.1" r="2.85"/><circle cx="654.9" cy="400.7" r="2.85"/><circle cx="655" cy="402.5" r="2.85"/><circle cx="655.1" cy="403.7" r="2.85"/></g>
<g fill="#000040"><circle cx="652.5" cy="397.3" r="2.85"/><circle cx="652.6" cy="399" r="2.85"/><circle cx="652.6" cy="400.6" r="2.85"/><circle cx="652.7" cy="402.5" r="2.85"/><circle cx="652.7" cy="403.8" r="2.85"/><circle cx="652.8" cy="405.4" r="2.85"/><circle cx="652.8" cy="407.2" r="2.85"/><circle cx="652.8" cy="408.8" r="2.85"/><circle cx="652.8" cy="409.8" r="2.85"/><circle cx="652.8" cy="411.4" r="2.85"/><circle cx="652.8" cy="413.1" r="2.85"/><circle cx="652.9" cy="414.4" r="2.85"/><circle cx="652.8" cy="415.8" r="2.85"/><circle cx="652.9" cy="417.7" r="2.85"/></g>
<g fill="#0000cd"><circle cx="653.7" cy="419.8" r="2.85"/><circle cx="653.8" cy="422.7" r="2.85"/><circle cx="653.8" cy="425.8" r="2.85"/><circle cx="653.7" cy="426.7" r="2.85"/></g>
<g fill="#00a0a8"><circle cx="654" cy="428.3" r="2.85"/><circle cx="653.9" cy="431.1" r="2.85"/><circle cx="654.1" cy="433" r="2.85"/><circle cx="653.9" cy="435.5" r="2.85"/><circle cx="654" cy="437.6" r="2.85"/><circle cx="654.1" cy="440.2" r="2.85"/><circle cx="654" cy="442" r="2.85"/><circle cx="653.9" cy="444.4" r="2.85"/><circle cx="653.9" cy="447.3" r="2.85"/><circle cx="653.9" cy="449" r="2.85"/><circle cx="654.1" cy="451" r="2.85"/><circle cx="654.1" cy="452.8" r="2.85"/><circle cx="654" cy="453.7" r="2.85"/></g>
<g fill="#8d4524"><circle cx="644.6" cy="344.8" r="2.85"/><circle cx="644.6" cy="346" r="2.85"/><circle cx="644.6" cy="347.7" r="2.85"/><circle cx="644.7" cy="349" r="2.85"/><circle cx="644.8" cy="351" r="2.85"/><circle cx="644.8" cy="353" r="2.85"/><circle cx="644.8" cy="354.9" r="2.85"/><circle cx="645" cy="356.7" r="2.85"/><circle cx="645" cy="358.6" r="2.85"/><circle cx="645" cy="360.5" r="2.85"/><circle cx="645.1" cy="362" r="2.85"/><circle cx="645.2" cy="363.8" r="2.85"/><circle cx="645.1" cy="364.9" r="2.85"/><circle cx="645.3" cy="366.7" r="2.85"/><circle cx="645.3" cy="368.3" r="2.85"/><circle cx="645.4" cy="370.3" r="2.85"/><circle cx="645.6" cy="372.2" r="2.85"/><circle cx="645.6" cy="373.8" r="2.85"/><circle cx="645.5" cy="375.6" r="2.85"/><circle cx="645.7" cy="377.2" r="2.85"/><circle cx="645.9" cy="379" r="2.85"/><circle cx="645.8" cy="380.1" r="2.85"/><circle cx="646" cy="381.4" r="2.85"/><circle cx="645.8" cy="382.8" r="2.85"/><circle cx="645.9" cy="384.6" r="2.85"/><circle cx="646" cy="386.6" r="2.85"/><circle cx="646.1" cy="388.3" r="2.85"/><circle cx="646.1" cy="390.2" r="2.85"/><circle cx="646.2" cy="391.9" r="2.85"/><circle cx="646.3" cy="393.1" r="2.85"/><circle cx="646.4" cy="394.5" r="2.85"/><circle cx="646.5" cy="396.2" r="2.85"/><circle cx="646.4" cy="398" r="2.85"/><circle cx="646.6" cy="399.6" r="2.85"/><circle cx="646.6" cy="401.3" r="2.85"/><circle cx="646.6" cy="402.8" r="2.85"/><circle cx="646.6" cy="404.2" r="2.85"/><circle cx="646.9" cy="405.5" r="2.85"/><circle cx="646.7" cy="407" r="2.85"/><circle cx="646.8" cy="408.7" r="2.85"/><circle cx="646.9" cy="409.9" r="2.85"/><circle cx="647.1" cy="411.9" r="2.85"/><circle cx="647.2" cy="413" r="2.85"/><circle cx="647.2" cy="414.9" r="2.85"/><circle cx="647.3" cy="416.3" r="2.85"/><circle cx="647.3" cy="418.3" r="2.85"/><circle cx="647.3" cy="419.7" r="2.85"/><circle cx="647.2" cy="420.9" r="2.85"/><circle cx="647.3" cy="422.7" r="2.85"/><circle cx="647.3" cy="422.7" r="2.85"/></g>
<g fill="#ff8c60"><circle cx="647.5" cy="359.8" r="2.85"/><circle cx="647.6" cy="361.6" r="2.85"/><circle cx="647.4" cy="363.4" r="2.85"/><circle cx="647.5" cy="365.4" r="2.85"/><circle cx="647.6" cy="366.7" r="2.85"/></g>
<g fill="#d2691e"><circle cx="640.9" cy="397.3" r="2.85"/><circle cx="641.1" cy="399.1" r="2.85"/><circle cx="641" cy="401.9" r="2.85"/><circle cx="641" cy="404.5" r="2.85"/><circle cx="640.9" cy="406.3" r="2.85"/><circle cx="640.9" cy="409.4" r="2.85"/><circle cx="641" cy="409.7" r="2.85"/></g>
<g fill="#2e1706"><circle cx="643" cy="397.3" r="2.85"/><circle cx="643.1" cy="399" r="2.85"/><circle cx="643" cy="400.2" r="2.85"/><circle cx="643.1" cy="401.3" r="2.85"/><circle cx="643" cy="402.9" r="2.85"/><circle cx="643" cy="404.2" r="2.85"/><circle cx="642.9" cy="405.5" r="2.85"/><circle cx="643" cy="407.4" r="2.85"/><circle cx="643" cy="408.9" r="2.85"/><circle cx="643" cy="409.7" r="2.85"/></g>
<g fill="#f5cf98"><circle cx="640.6" cy="417.5" r="2.85"/></g>
<g fill="#753c21"><circle cx="642.7" cy="394.3" r="2.85"/><circle cx="642.5" cy="395.9" r="2.85"/><circle cx="642.4" cy="397.1" r="2.85"/><circle cx="642.3" cy="398.9" r="2.85"/><circle cx="642.1" cy="400.1" r="2.85"/><circle cx="641.9" cy="401.5" r="2.85"/><circle cx="641.8" cy="403.1" r="2.85"/><circle cx="641.6" cy="404.3" r="2.85"/><circle cx="641.6" cy="405.7" r="2.85"/><circle cx="641.3" cy="407.6" r="2.85"/><circle cx="641.1" cy="409.4" r="2.85"/><circle cx="640.8" cy="410.9" r="2.85"/><circle cx="640.8" cy="412.2" r="2.85"/><circle cx="640.5" cy="414" r="2.85"/><circle cx="640.3" cy="416" r="2.85"/><circle cx="640.1" cy="417.2" r="2.85"/><circle cx="640" cy="418.7" r="2.85"/><circle cx="639.7" cy="420.4" r="2.85"/><circle cx="639.5" cy="422.1" r="2.85"/><circle cx="639.4" cy="423.5" r="2.85"/><circle cx="639.3" cy="425.4" r="2.85"/><circle cx="638.9" cy="427.1" r="2.85"/><circle cx="638.7" cy="429" r="2.85"/><circle cx="638.6" cy="431" r="2.85"/><circle cx="638.4" cy="432.8" r="2.85"/><circle cx="638.4" cy="433.7" r="2.85"/></g>
<g fill="#e08050"><circle cx="640.2" cy="400.3" r="2.85"/><circle cx="640.1" cy="402.1" r="2.85"/><circle cx="639.8" cy="404.5" r="2.85"/><circle cx="639.5" cy="407.5" r="2.85"/><circle cx="639.1" cy="410.4" r="2.85"/><circle cx="638.9" cy="412.7" r="2.85"/><circle cx="638.5" cy="415.2" r="2.85"/><circle cx="638.4" cy="417.5" r="2.85"/><circle cx="638.1" cy="419.3" r="2.85"/><circle cx="637.9" cy="421.2" r="2.85"/><circle cx="637.7" cy="423.2" r="2.85"/><circle cx="637.4" cy="426.3" r="2.85"/><circle cx="637.2" cy="427.7" r="2.85"/></g>
<g fill="#311c11"><circle cx="642.3" cy="400.3" r="2.85"/><circle cx="642.2" cy="401.6" r="2.85"/><circle cx="641.9" cy="402.8" r="2.85"/><circle cx="641.9" cy="404" r="2.85"/><circle cx="641.6" cy="405.5" r="2.85"/><circle cx="641.5" cy="406.9" r="2.85"/><circle cx="641.3" cy="408" r="2.85"/><circle cx="641.1" cy="409.9" r="2.85"/><circle cx="641" cy="411" r="2.85"/><circle cx="640.9" cy="412.4" r="2.85"/><circle cx="640.9" cy="413.7" r="2.85"/><circle cx="640.8" cy="414.8" r="2.85"/><circle cx="640.5" cy="416.1" r="2.85"/><circle cx="640.4" cy="417.6" r="2.85"/><circle cx="640.1" cy="419.2" r="2.85"/><circle cx="640.1" cy="420.5" r="2.85"/><circle cx="639.8" cy="421.9" r="2.85"/><circle cx="639.8" cy="423.8" r="2.85"/><circle cx="639.5" cy="425.4" r="2.85"/><circle cx="639.4" cy="426.8" r="2.85"/><circle cx="639.3" cy="427.7" r="2.85"/></g>
<g fill="#3a2a20"><circle cx="639.6" cy="417.3" r="2.85"/><circle cx="639.4" cy="418.8" r="2.85"/><circle cx="639.1" cy="420.3" r="2.85"/><circle cx="638.5" cy="422" r="2.85"/><circle cx="638.4" cy="423.5" r="2.85"/><circle cx="638.1" cy="425" r="2.85"/><circle cx="637.8" cy="426.4" r="2.85"/><circle cx="637.7" cy="427.6" r="2.85"/><circle cx="637.3" cy="428.8" r="2.85"/><circle cx="637" cy="430.7" r="2.85"/><circle cx="636.7" cy="432.3" r="2.85"/><circle cx="636.5" cy="433.4" r="2.85"/><circle cx="636.2" cy="434.6" r="2.85"/><circle cx="636" cy="435.7" r="2.85"/></g>
<g fill="#f5cf98"><circle cx="635" cy="439" r="2.85"/></g>
<g fill="#6495ed"><circle cx="647.5" cy="373.3" r="2.85"/><circle cx="647.6" cy="375.6" r="2.85"/><circle cx="647.6" cy="378.5" r="2.85"/><circle cx="647.5" cy="381.1" r="2.85"/><circle cx="647.4" cy="384.3" r="2.85"/><circle cx="647.4" cy="385.7" r="2.85"/></g>
<g fill="#162034"><circle cx="649.6" cy="373.3" r="2.85"/><circle cx="649.4" cy="374.6" r="2.85"/><circle cx="649.4" cy="376.3" r="2.85"/><circle cx="649.6" cy="377.4" r="2.85"/><circle cx="649.5" cy="379" r="2.85"/><circle cx="649.6" cy="380.2" r="2.85"/><circle cx="649.6" cy="381.4" r="2.85"/><circle cx="649.4" cy="382.7" r="2.85"/><circle cx="649.5" cy="384.2" r="2.85"/><circle cx="649.4" cy="385.7" r="2.85"/></g>
<g fill="#dc143c"><circle cx="650.1" cy="376.3" r="2.85"/><circle cx="650.1" cy="378.7" r="2.85"/><circle cx="650" cy="380.9" r="2.85"/><circle cx="650.1" cy="383.9" r="2.85"/><circle cx="650.1" cy="387" r="2.85"/><circle cx="650.1" cy="388.7" r="2.85"/></g>
<g fill="#30040d"><circle cx="652" cy="376.3" r="2.85"/><circle cx="652" cy="377.7" r="2.85"/><circle cx="652.1" cy="379.3" r="2.85"/><circle cx="651.9" cy="381" r="2.85"/><circle cx="651.9" cy="382.4" r="2.85"/><circle cx="652" cy="383.9" r="2.85"/><circle cx="651.9" cy="385" r="2.85"/><circle cx="651.9" cy="386.2" r="2.85"/><circle cx="652" cy="388" r="2.85"/><circle cx="652" cy="388.7" r="2.85"/></g>
<g fill="#a000a0"><circle cx="667.6" cy="376.3" r="2.85"/><circle cx="667.4" cy="379.5" r="2.85"/><circle cx="667.5" cy="382.4" r="2.85"/><circle cx="667.4" cy="384.9" r="2.85"/><circle cx="667.6" cy="387.4" r="2.85"/><circle cx="667.4" cy="390.2" r="2.85"/><circle cx="667.6" cy="392.2" r="2.85"/><circle cx="667.6" cy="394.5" r="2.85"/><circle cx="667.6" cy="397.2" r="2.85"/><circle cx="667.5" cy="400.5" r="2.85"/><circle cx="667.4" cy="403.3" r="2.85"/><circle cx="667.4" cy="405.4" r="2.85"/><circle cx="667.5" cy="407.7" r="2.85"/></g>
<g fill="#b010b0"><circle cx="667.5" cy="395" r="2.85"/></g>
<g fill="#3a3a10"><circle cx="668.7" cy="403.3" r="2.85"/><circle cx="668.8" cy="404.4" r="2.85"/><circle cx="668.7" cy="405.9" r="2.85"/><circle cx="668.9" cy="407.6" r="2.85"/><circle cx="668.7" cy="408.8" r="2.85"/><circle cx="668.8" cy="410.2" r="2.85"/><circle cx="668.9" cy="411.8" r="2.85"/><circle cx="668.7" cy="413" r="2.85"/><circle cx="668.7" cy="414.2" r="2.85"/><circle cx="668.8" cy="415.8" r="2.85"/><circle cx="668.8" cy="417" r="2.85"/><circle cx="668.8" cy="418.2" r="2.85"/><circle cx="668.8" cy="419.4" r="2.85"/><circle cx="668.9" cy="421.3" r="2.85"/><circle cx="668.8" cy="423.2" r="2.85"/><circle cx="668.7" cy="424.3" r="2.85"/><circle cx="668.8" cy="425.9" r="2.85"/><circle cx="668.9" cy="427.3" r="2.85"/><circle cx="668.8" cy="427.7" r="2.85"/></g>
<g fill="#2a2a0c"><circle cx="662.6" cy="412.3" r="2.85"/><circle cx="662.4" cy="413.4" r="2.85"/><circle cx="662.5" cy="414.7" r="2.85"/><circle cx="662.4" cy="415.9" r="2.85"/><circle cx="662.5" cy="417.3" r="2.85"/><circle cx="662.4" cy="418.6" r="2.85"/><circle cx="662.6" cy="420.3" r="2.85"/><circle cx="662.6" cy="422" r="2.85"/><circle cx="662.5" cy="423.1" r="2.85"/><circle cx="662.6" cy="424.3" r="2.85"/><circle cx="662.6" cy="426" r="2.85"/><circle cx="662.6" cy="427.7" r="2.85"/></g>
<g fill="#6b8e23"><circle cx="664.9" cy="417.3" r="2.85"/><circle cx="665" cy="420" r="2.85"/><circle cx="664.9" cy="422.7" r="2.85"/><circle cx="664.9" cy="425" r="2.85"/><circle cx="665" cy="427.7" r="2.85"/></g>
<g fill="#171f07"><circle cx="667.1" cy="417.3" r="2.85"/><circle cx="667.1" cy="418.7" r="2.85"/><circle cx="667" cy="420" r="2.85"/><circle cx="667.1" cy="421.9" r="2.85"/><circle cx="667.1" cy="423.2" r="2.85"/><circle cx="667.1" cy="424.7" r="2.85"/><circle cx="666.9" cy="426.2" r="2.85"/><circle cx="666.9" cy="427.4" r="2.85"/><circle cx="666.9" cy="427.7" r="2.85"/></g>
<g fill="#3a1a08"><circle cx="669.3" cy="424.8" r="2.85"/><circle cx="669.4" cy="425.9" r="2.85"/><circle cx="669.3" cy="427.6" r="2.85"/><circle cx="669.4" cy="428.7" r="2.85"/><circle cx="669.4" cy="430.2" r="2.85"/><circle cx="669.5" cy="431.5" r="2.85"/><circle cx="669.5" cy="433.3" r="2.85"/><circle cx="669.5" cy="434.3" r="2.85"/><circle cx="669.5" cy="436" r="2.85"/><circle cx="669.5" cy="438" r="2.85"/><circle cx="669.4" cy="439.3" r="2.85"/><circle cx="669.4" cy="440.7" r="2.85"/><circle cx="669.3" cy="442.4" r="2.85"/><circle cx="669.4" cy="443.7" r="2.85"/><circle cx="669.5" cy="445.5" r="2.85"/><circle cx="669.5" cy="446.7" r="2.85"/></g>
<g fill="#e08000"><circle cx="669" cy="448" r="2.85"/></g>
<g fill="#5a0808"><circle cx="675.1" cy="433.3" r="2.85"/><circle cx="675.1" cy="434.6" r="2.85"/><circle cx="675.1" cy="436.2" r="2.85"/><circle cx="675" cy="437.7" r="2.85"/><circle cx="675" cy="439.4" r="2.85"/><circle cx="675.1" cy="441.1" r="2.85"/><circle cx="674.9" cy="442.5" r="2.85"/><circle cx="674.9" cy="444.4" r="2.85"/><circle cx="675.1" cy="445.7" r="2.85"/></g>
<g fill="#b00000"><circle cx="675" cy="438" r="2.85"/></g>
<g fill="#0a3a3a"><circle cx="685.6" cy="351.3" r="2.85"/><circle cx="685.6" cy="353" r="2.85"/><circle cx="685.7" cy="354.7" r="2.85"/><circle cx="685.8" cy="356.5" r="2.85"/><circle cx="685.7" cy="357.7" r="2.85"/><circle cx="685.8" cy="359.5" r="2.85"/><circle cx="685.7" cy="361.2" r="2.85"/><circle cx="685.9" cy="363.1" r="2.85"/><circle cx="685.8" cy="364.6" r="2.85"/><circle cx="685.7" cy="366.4" r="2.85"/><circle cx="685.7" cy="367.5" r="2.85"/><circle cx="685.9" cy="368.7" r="2.85"/><circle cx="685.9" cy="370.3" r="2.85"/><circle cx="685.9" cy="371.9" r="2.85"/><circle cx="685.9" cy="373.3" r="2.85"/><circle cx="685.9" cy="374.5" r="2.85"/><circle cx="685.9" cy="376.3" r="2.85"/><circle cx="685.9" cy="377.4" r="2.85"/><circle cx="686" cy="379.3" r="2.85"/><circle cx="686.1" cy="380.5" r="2.85"/><circle cx="685.9" cy="382.2" r="2.85"/><circle cx="686.2" cy="383.8" r="2.85"/><circle cx="686" cy="385.1" r="2.85"/><circle cx="686.1" cy="386.4" r="2.85"/><circle cx="686.1" cy="387.7" r="2.85"/><circle cx="686.2" cy="389.2" r="2.85"/><circle cx="686.1" cy="390.5" r="2.85"/><circle cx="686.2" cy="392" r="2.85"/><circle cx="686.2" cy="393.3" r="2.85"/><circle cx="686.2" cy="394.5" r="2.85"/><circle cx="686.1" cy="396.2" r="2.85"/><circle cx="686.4" cy="397.5" r="2.85"/><circle cx="686.3" cy="397.7" r="2.85"/></g>
<g fill="#4a7a80"><circle cx="686.3" cy="389" r="2.85"/></g>
<g fill="#007a80"><circle cx="688.1" cy="402.3" r="2.85"/><circle cx="688.2" cy="403.9" r="2.85"/><circle cx="688.3" cy="406.1" r="2.85"/><circle cx="688.2" cy="407.7" r="2.85"/><circle cx="688.3" cy="409.8" r="2.85"/><circle cx="688.4" cy="411.5" r="2.85"/><circle cx="688.4" cy="412.9" r="2.85"/><circle cx="688.6" cy="414.8" r="2.85"/><circle cx="688.6" cy="416.3" r="2.85"/><circle cx="688.6" cy="417.8" r="2.85"/><circle cx="688.8" cy="420.1" r="2.85"/><circle cx="688.8" cy="420.7" r="2.85"/></g>
<g fill="#00d8e0"><circle cx="688" cy="400" r="2.85"/></g>
<g fill="#00e5ee"><circle cx="689.4" cy="422.3" r="2.85"/><circle cx="689.6" cy="424.7" r="2.85"/><circle cx="689.5" cy="427.7" r="2.85"/><circle cx="689.6" cy="430.1" r="2.85"/><circle cx="689.5" cy="431.8" r="2.85"/><circle cx="689.5" cy="432.7" r="2.85"/></g>
<g fill="#3a0a4a"><circle cx="691.1" cy="433.3" r="2.85"/><circle cx="691.1" cy="434.4" r="2.85"/><circle cx="691.1" cy="435.6" r="2.85"/><circle cx="691" cy="437.4" r="2.85"/><circle cx="691.1" cy="438.6" r="2.85"/><circle cx="691.1" cy="439.9" r="2.85"/><circle cx="691.1" cy="441.4" r="2.85"/><circle cx="691.1" cy="443.4" r="2.85"/><circle cx="691.1" cy="444.8" r="2.85"/><circle cx="691.2" cy="445.9" r="2.85"/><circle cx="691.3" cy="447.7" r="2.85"/><circle cx="691.1" cy="449.5" r="2.85"/><circle cx="691.2" cy="450.7" r="2.85"/><circle cx="691.1" cy="452.7" r="2.85"/><circle cx="691.3" cy="454.7" r="2.85"/><circle cx="691.2" cy="454.7" r="2.85"/></g>
<g fill="#a020e0"><circle cx="691.3" cy="446" r="2.85"/></g>
<g fill="#600040"><circle cx="691.4" cy="455.3" r="2.85"/><circle cx="691.3" cy="457.5" r="2.85"/><circle cx="691.2" cy="459" r="2.85"/><circle cx="691.3" cy="460.7" r="2.85"/><circle cx="691.2" cy="462.2" r="2.85"/><circle cx="691.2" cy="464.3" r="2.85"/><circle cx="691.3" cy="465.5" r="2.85"/><circle cx="691.3" cy="467" r="2.85"/><circle cx="691.2" cy="468.4" r="2.85"/><circle cx="691.2" cy="470.3" r="2.85"/><circle cx="691.3" cy="471.7" r="2.85"/></g>
<g fill="#ff1493"><circle cx="691.3" cy="458" r="2.85"/></g>
<g fill="#ff1493"><circle cx="691.3" cy="466" r="2.85"/></g>
<g fill="#9370db"><circle cx="681.3" cy="401.3" r="2.85"/><circle cx="681.3" cy="402.7" r="2.85"/></g>
<g fill="#201830"><circle cx="683.2" cy="401.3" r="2.85"/><circle cx="683.4" cy="402.5" r="2.85"/><circle cx="683.3" cy="402.7" r="2.85"/></g>
<g fill="#a0c0a0"><circle cx="681.3" cy="408.3" r="2.85"/><circle cx="681.3" cy="409.7" r="2.85"/></g>
<g fill="#9370db"><circle cx="681.3" cy="417.3" r="2.85"/><circle cx="681.4" cy="419.7" r="2.85"/></g>
<g fill="#201830"><circle cx="683.3" cy="417.3" r="2.85"/><circle cx="683.3" cy="418.4" r="2.85"/><circle cx="683.4" cy="419.5" r="2.85"/><circle cx="683.4" cy="419.7" r="2.85"/></g>
</g>
<rect x="100.5" y="60.5" width="620" height="480" fill="none" stroke="#000" stroke-width="1.4"/>
<g id="txt" opacity="0.995">
<path d="M166.4 540V533.6M166.4 60V66.4" class="tk"/>
<text x="148.7" y="555.4" textLength="34.2" lengthAdjust="spacingAndGlyphs" class="t">20000</text>
<path d="M260.2 540V533.6M260.2 60V66.4" class="tk"/>
<text x="242.5" y="555.4" textLength="34.2" lengthAdjust="spacingAndGlyphs" class="t">25000</text>
<path d="M354.0 540V533.6M354.0 60V66.4" class="tk"/>
<text x="336.3" y="555.4" textLength="34.2" lengthAdjust="spacingAndGlyphs" class="t">30000</text>
<path d="M447.8 540V533.6M447.8 60V66.4" class="tk"/>
<text x="430.1" y="555.4" textLength="34.2" lengthAdjust="spacingAndGlyphs" class="t">35000</text>
<path d="M541.5 540V533.6M541.5 60V66.4" class="tk"/>
<text x="523.8" y="555.4" textLength="34.2" lengthAdjust="spacingAndGlyphs" class="t">40000</text>
<path d="M635.3 540V533.6M635.3 60V66.4" class="tk"/>
<text x="617.6" y="555.4" textLength="34.2" lengthAdjust="spacingAndGlyphs" class="t">45000</text>
<path d="M100 518.7H106.4M720 518.7H713.6" class="tk"/>
<text x="86.4" y="521.7" textLength="6.2" lengthAdjust="spacingAndGlyphs" class="t">0</text>
<path d="M100 460.6H106.4M720 460.6H713.6" class="tk"/>
<text x="86.4" y="463.6" textLength="6.2" lengthAdjust="spacingAndGlyphs" class="t">2</text>
<path d="M100 402.6H106.4M720 402.6H713.6" class="tk"/>
<text x="86.4" y="405.6" textLength="6.2" lengthAdjust="spacingAndGlyphs" class="t">4</text>
<path d="M100 344.5H106.4M720 344.5H713.6" class="tk"/>
<text x="86.4" y="347.5" textLength="6.2" lengthAdjust="spacingAndGlyphs" class="t">6</text>
<path d="M100 286.4H106.4M720 286.4H713.6" class="tk"/>
<text x="86.4" y="289.4" textLength="6.2" lengthAdjust="spacingAndGlyphs" class="t">8</text>
<path d="M100 228.4H106.4M720 228.4H713.6" class="tk"/>
<text x="80.1" y="231.4" textLength="12.5" lengthAdjust="spacingAndGlyphs" class="t">10</text>
<path d="M100 170.3H106.4M720 170.3H713.6" class="tk"/>
<text x="80.1" y="173.3" textLength="12.5" lengthAdjust="spacingAndGlyphs" class="t">12</text>
<path d="M100 112.2H106.4M720 112.2H713.6" class="tk"/>
<text x="80.1" y="115.2" textLength="12.5" lengthAdjust="spacingAndGlyphs" class="t">14</text>
<text x="286.8" y="52.8" textLength="108.2" lengthAdjust="spacingAndGlyphs" class="l">B table: BPcal.b</text>
<text x="422.3" y="52.8" textLength="110.9" lengthAdjust="spacingAndGlyphs" class="l">Antenna='ea23'</text>
<text x="357.5" y="573.5" textLength="103.6" lengthAdjust="spacingAndGlyphs" class="l">Frequency (MHz)</text>
<text transform="translate(67.0,348) rotate(-90)" textLength="95.6" lengthAdjust="spacingAndGlyphs" class="l">Gain Amplitude</text>
</g>
</svg>
</body></html>
